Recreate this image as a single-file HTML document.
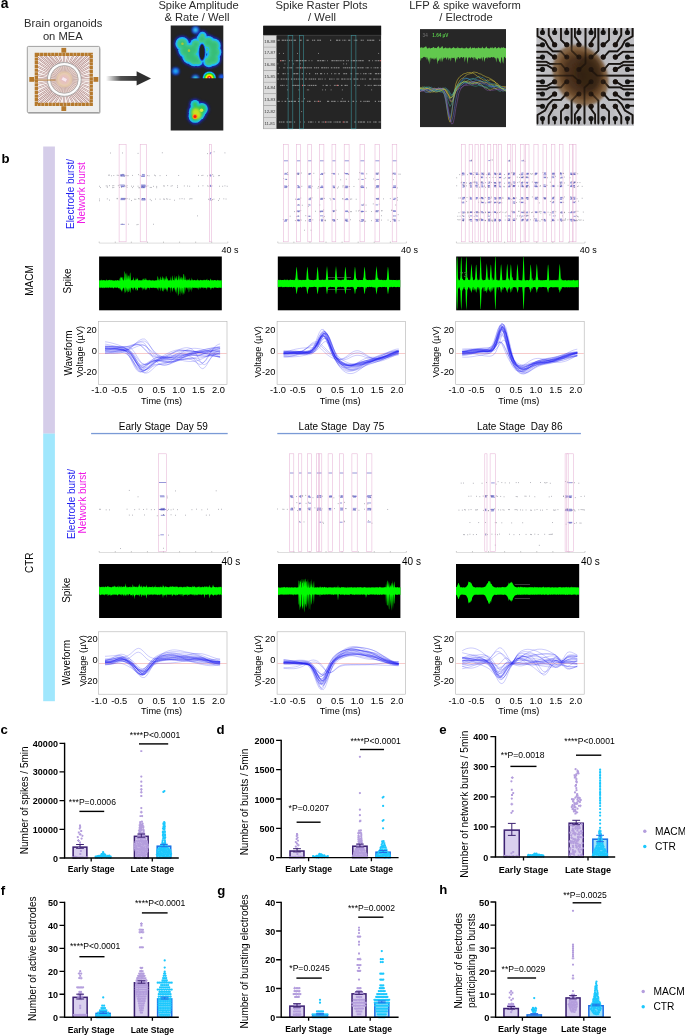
<!DOCTYPE html>
<html lang="en">
<head>
<meta charset="utf-8">
<title>Brain organoids on MEA</title>
<style>
html,body{margin:0;padding:0;background:#fff;}
body{width:685px;height:1035px;overflow:hidden;font-family:"Liberation Sans", sans-serif;}
svg{display:block;font-family:"Liberation Sans", sans-serif;will-change:transform;}
</style>
</head>
<body>
<svg width="685" height="1035" viewBox="0 0 685 1035">
<rect x="0" y="0" width="685" height="1035" fill="#fff"/>
<defs>
<filter id="bl1" x="-30%" y="-30%" width="160%" height="160%"><feGaussianBlur stdDeviation="1.1"/></filter>
<filter id="bl2" x="-30%" y="-30%" width="160%" height="160%"><feGaussianBlur stdDeviation="0.7"/></filter>
<filter id="bl3" x="-30%" y="-30%" width="160%" height="160%"><feGaussianBlur stdDeviation="2.2"/></filter>
<filter id="bl15" x="-30%" y="-30%" width="160%" height="160%"><feGaussianBlur stdDeviation="1.5"/></filter>
<filter id="bl05" x="-10%" y="-10%" width="120%" height="120%"><feGaussianBlur stdDeviation="0.35"/></filter>
<linearGradient id="arr" x1="0" x2="1" y1="0" y2="0"><stop offset="0" stop-color="#333" stop-opacity="0"/><stop offset="0.45" stop-color="#333" stop-opacity="0.85"/><stop offset="1" stop-color="#2f2f2f" stop-opacity="1"/></linearGradient>
<radialGradient id="org" cx="0.5" cy="0.5" r="0.5"><stop offset="0" stop-color="#3b2616" stop-opacity="0.97"/><stop offset="0.6" stop-color="#4a301b" stop-opacity="0.95"/><stop offset="0.85" stop-color="#6b4a2b" stop-opacity="0.9"/><stop offset="1" stop-color="#8a6a48" stop-opacity="0.55"/></radialGradient>
<radialGradient id="hot" cx="0.5" cy="0.5" r="0.5"><stop offset="0" stop-color="#fff"/><stop offset="0.18" stop-color="#f00"/><stop offset="0.4" stop-color="#ff0"/><stop offset="0.62" stop-color="#2c2"/><stop offset="0.8" stop-color="#1cf"/><stop offset="1" stop-color="#12f" stop-opacity="0"/></radialGradient>
<clipPath id="cpH1"><rect x="170.7" y="25.5" width="52.6" height="52.8"/></clipPath>
<clipPath id="cpH2"><rect x="170.7" y="78.3" width="52.6" height="52.2"/></clipPath>
<clipPath id="cpR"><rect x="276.3" y="35.4" width="104.8" height="93.5"/></clipPath>
<clipPath id="cpL"><rect x="420" y="29.1" width="86" height="98"/></clipPath>
<clipPath id="cpP"><rect x="536.4" y="28.1" width="97.6" height="97.6"/></clipPath>
</defs>
<text x="0.7" y="7.9" font-size="14" text-anchor="start" font-weight="bold" fill="#000">a</text>
<text x="63.2" y="27.2" font-size="11.2" text-anchor="middle" fill="#2a2a2a">Brain organoids</text>
<text x="62.8" y="39.7" font-size="11.2" text-anchor="middle" fill="#2a2a2a">on MEA</text>
<text x="198.5" y="9.3" font-size="11.2" text-anchor="middle" fill="#2a2a2a">Spike Amplitude</text>
<text x="197" y="21.2" font-size="11.2" text-anchor="middle" fill="#2a2a2a">&amp; Rate / Well</text>
<text x="321.5" y="9.3" font-size="11.2" text-anchor="middle" fill="#2a2a2a">Spike Raster Plots</text>
<text x="322" y="21.2" font-size="11.2" text-anchor="middle" fill="#2a2a2a">/ Well</text>
<text x="465" y="9.3" font-size="11.2" text-anchor="middle" fill="#2a2a2a">LFP &amp; spike waveform</text>
<text x="466" y="21.2" font-size="11.2" text-anchor="middle" fill="#2a2a2a">/ Electrode</text>
<g id="chip">
<rect x="27.8" y="47.4" width="72.6" height="66.4" rx="1.5" fill="#8a8a8a" opacity="0.6"/>
<rect x="27.3" y="46.4" width="72.4" height="66.2" rx="1.2" fill="#efefee" stroke="#8a8a8a" stroke-width="0.8"/>
<rect x="37.6" y="55.6" width="52.4" height="47.6" fill="#f6efed"/>
<path d="M53.49 66.93L39.98 55.6M55.38 65.52L44.75 55.6M57.45 64.39L49.51 55.6M59.65 63.57L54.27 55.6M61.95 63.07L59.04 55.6M64.3 62.9L63.8 55.6M66.65 63.07L68.56 55.6M68.95 63.57L73.33 55.6M71.15 64.39L78.09 55.6M73.22 65.52L82.85 55.6M75.11 66.93L87.62 55.6M76.77 68.59L90 57.76M78.18 70.48L90 62.09M79.31 72.55L90 66.42M80.13 74.75L90 70.75M80.63 77.05L90 75.07M80.8 79.4L90 79.4M80.63 81.75L90 83.73M80.13 84.05L90 88.05M79.31 86.25L90 92.38M78.18 88.32L90 96.71M76.77 90.21L90 101.04M75.11 91.87L87.62 103.2M73.22 93.28L82.85 103.2M71.15 94.41L78.09 103.2M68.95 95.23L73.33 103.2M66.65 95.73L68.56 103.2M64.3 95.9L63.8 103.2M61.95 95.73L59.04 103.2M59.65 95.23L54.27 103.2M57.45 94.41L49.51 103.2M55.38 93.28L44.75 103.2M53.49 91.87L39.98 103.2M51.83 90.21L37.6 101.04M50.42 88.32L37.6 96.71M49.29 86.25L37.6 92.38M48.47 84.05L37.6 88.05M47.97 81.75L37.6 83.73M47.8 79.4L37.6 79.4M47.97 77.05L37.6 75.07M48.47 74.75L37.6 70.75M49.29 72.55L37.6 66.42M50.42 70.48L37.6 62.09M51.83 68.59L37.6 57.76" stroke="#a27270" stroke-width="1.7" fill="none"/>
<path d="M53.49 66.93L39.98 55.6M55.38 65.52L44.75 55.6M57.45 64.39L49.51 55.6M59.65 63.57L54.27 55.6M61.95 63.07L59.04 55.6M64.3 62.9L63.8 55.6M66.65 63.07L68.56 55.6M68.95 63.57L73.33 55.6M71.15 64.39L78.09 55.6M73.22 65.52L82.85 55.6M75.11 66.93L87.62 55.6M76.77 68.59L90 57.76M78.18 70.48L90 62.09M79.31 72.55L90 66.42M80.13 74.75L90 70.75M80.63 77.05L90 75.07M80.8 79.4L90 79.4M80.63 81.75L90 83.73M80.13 84.05L90 88.05M79.31 86.25L90 92.38M78.18 88.32L90 96.71M76.77 90.21L90 101.04M75.11 91.87L87.62 103.2M73.22 93.28L82.85 103.2M71.15 94.41L78.09 103.2M68.95 95.23L73.33 103.2M66.65 95.73L68.56 103.2M64.3 95.9L63.8 103.2M61.95 95.73L59.04 103.2M59.65 95.23L54.27 103.2M57.45 94.41L49.51 103.2M55.38 93.28L44.75 103.2M53.49 91.87L39.98 103.2M51.83 90.21L37.6 101.04M50.42 88.32L37.6 96.71M49.29 86.25L37.6 92.38M48.47 84.05L37.6 88.05M47.97 81.75L37.6 83.73M47.8 79.4L37.6 79.4M47.97 77.05L37.6 75.07M48.47 74.75L37.6 70.75M49.29 72.55L37.6 66.42M50.42 70.48L37.6 62.09M51.83 68.59L37.6 57.76" stroke="#fdfaf9" stroke-width="0.85" fill="none"/>
<rect x="36.35" y="54.35" width="54.9" height="50" fill="none" stroke="#b5792c" stroke-width="3.3" stroke-dasharray="3.25 0.45"/>
<rect x="61.4" y="47.9" width="4.8" height="4.8" fill="#b5792c"/>
<rect x="61.4" y="106.2" width="4.8" height="4.8" fill="#b5792c"/>
<rect x="29.3" y="77" width="4.8" height="4.8" fill="#b5792c"/>
<rect x="93.5" y="77" width="4.8" height="4.8" fill="#b5792c"/>
<circle cx="64.3" cy="79.4" r="16.9" fill="#fbfbfb" stroke="#9a9a9a" stroke-width="0.8"/>
<circle cx="64.3" cy="79.4" r="13.9" fill="#ead8d2" stroke="#9a9a9a" stroke-width="0.7"/>
<path d="M70.8 79.4L77.7 79.4M70.73 80.33L77.56 81.31M70.54 81.23L77.16 83.18M70.21 82.1L76.49 84.97M69.77 82.91L75.57 86.64M69.21 83.66L74.43 88.18M68.56 84.31L73.08 89.53M67.81 84.87L71.54 90.67M67 85.31L69.87 91.59M66.13 85.64L68.08 92.26M65.23 85.83L66.21 92.66M64.3 85.9L64.3 92.8M63.37 85.83L62.39 92.66M62.47 85.64L60.52 92.26M61.6 85.31L58.73 91.59M60.79 84.87L57.06 90.67M60.04 84.31L55.52 89.53M59.39 83.66L54.17 88.18M58.83 82.91L53.03 86.64M58.39 82.1L52.11 84.97M58.06 81.23L51.44 83.18M57.87 80.33L51.04 81.31M57.8 79.4L50.9 79.4M57.87 78.47L51.04 77.49M58.06 77.57L51.44 75.62M58.39 76.7L52.11 73.83M58.83 75.89L53.03 72.16M59.39 75.14L54.17 70.62M60.04 74.49L55.52 69.27M60.79 73.93L57.06 68.13M61.6 73.49L58.73 67.21M62.47 73.16L60.52 66.54M63.37 72.97L62.39 66.14M64.3 72.9L64.3 66M65.23 72.97L66.21 66.14M66.13 73.16L68.08 66.54M67 73.49L69.87 67.21M67.81 73.93L71.54 68.13M68.56 74.49L73.08 69.27M69.21 75.14L74.43 70.62M69.77 75.89L75.57 72.16M70.21 76.7L76.49 73.83M70.54 77.57L77.16 75.62M70.73 78.47L77.56 77.49" stroke="#b08c88" stroke-width="0.55" fill="none"/>
<rect x="34" y="79.6" width="21.5" height="0.9" fill="#b5792c"/>
<circle cx="64.3" cy="79.4" r="8.2" fill="#e6c9a8" opacity="0.75" filter="url(#bl2)"/>
<circle cx="64.3" cy="79.4" r="5.2" fill="#e8c4bc" opacity="0.9" filter="url(#bl2)"/>
<rect x="61.7" y="77.6" width="5.2" height="3.6" fill="#f8e8ee" stroke="#dcaabb" stroke-width="0.4" transform="rotate(28 64.3 79.4)"/>
</g>
<rect x="106" y="76" width="33" height="4.8" fill="url(#arr)"/>
<polygon points="136.6,71.2 151,78.4 136.6,85.6" fill="#2f2f2f"/>
<rect x="170.7" y="25.5" width="52.6" height="105" fill="#232323"/>
<g clip-path="url(#cpH1)">
<g fill="#1428e8" filter="url(#bl15)" opacity="0.95">
<circle cx="182.19" cy="43.73" r="7.7"/>
<circle cx="186.11" cy="50.26" r="8.75"/>
<circle cx="190.03" cy="56.14" r="8.75"/>
<circle cx="194.2" cy="59.4" r="7.7"/>
<circle cx="192.64" cy="49.61" r="8.09"/>
<circle cx="195.9" cy="44.39" r="6.79"/>
<circle cx="202.04" cy="39.16" r="6.4"/>
<circle cx="202.43" cy="35.9" r="5.09"/>
<circle cx="208.3" cy="42.43" r="7.44"/>
<circle cx="213.52" cy="45.69" r="8.09"/>
<circle cx="214.18" cy="52.22" r="8.09"/>
<circle cx="212.87" cy="58.75" r="8.09"/>
<circle cx="208.96" cy="61.36" r="6.79"/>
<circle cx="206.34" cy="49.61" r="4.83"/>
<circle cx="197.86" cy="61.36" r="5.87"/>
</g>
<g fill="#20baf4" filter="url(#bl2)" opacity="1">
<circle cx="182.19" cy="43.73" r="6.79"/>
<circle cx="186.11" cy="50.26" r="7.83"/>
<circle cx="190.03" cy="56.14" r="7.83"/>
<circle cx="194.2" cy="59.4" r="6.79"/>
<circle cx="192.64" cy="49.61" r="7.18"/>
<circle cx="195.9" cy="44.39" r="5.87"/>
<circle cx="202.04" cy="39.16" r="5.48"/>
<circle cx="202.43" cy="35.9" r="4.18"/>
<circle cx="208.3" cy="42.43" r="6.53"/>
<circle cx="213.52" cy="45.69" r="7.18"/>
<circle cx="214.18" cy="52.22" r="7.18"/>
<circle cx="212.87" cy="58.75" r="7.18"/>
<circle cx="208.96" cy="61.36" r="5.87"/>
<circle cx="206.34" cy="49.61" r="3.92"/>
<circle cx="197.86" cy="61.36" r="4.96"/>
</g>
<g fill="#42cb96" filter="url(#bl2)" opacity="1">
<circle cx="182.19" cy="43.73" r="4.83"/>
<circle cx="186.11" cy="50.26" r="5.87"/>
<circle cx="190.03" cy="56.14" r="5.87"/>
<circle cx="194.2" cy="59.4" r="4.83"/>
<circle cx="192.64" cy="49.61" r="5.22"/>
<circle cx="195.9" cy="44.39" r="3.92"/>
<circle cx="202.04" cy="39.16" r="3.52"/>
<circle cx="202.43" cy="35.9" r="2.22"/>
<circle cx="208.3" cy="42.43" r="4.57"/>
<circle cx="213.52" cy="45.69" r="5.22"/>
<circle cx="214.18" cy="52.22" r="5.22"/>
<circle cx="212.87" cy="58.75" r="5.22"/>
<circle cx="208.96" cy="61.36" r="3.92"/>
<circle cx="206.34" cy="49.61" r="1.96"/>
<circle cx="197.86" cy="61.36" r="3"/>
</g>
<g fill="#34bc70" filter="url(#bl1)" opacity="0.8">
<circle cx="182.19" cy="43.73" r="3.39"/>
<circle cx="186.11" cy="50.26" r="4.44"/>
<circle cx="190.03" cy="56.14" r="4.44"/>
<circle cx="194.2" cy="59.4" r="3.39"/>
<circle cx="192.64" cy="49.61" r="3.79"/>
<circle cx="195.9" cy="44.39" r="2.48"/>
<circle cx="202.04" cy="39.16" r="2.09"/>
<circle cx="202.43" cy="35.9" r="0.78"/>
<circle cx="208.3" cy="42.43" r="3.13"/>
<circle cx="213.52" cy="45.69" r="3.79"/>
<circle cx="214.18" cy="52.22" r="3.79"/>
<circle cx="212.87" cy="58.75" r="3.79"/>
<circle cx="208.96" cy="61.36" r="2.48"/>
<circle cx="206.34" cy="49.61" r="0.52"/>
<circle cx="197.86" cy="61.36" r="1.57"/>
</g>
<ellipse cx="202.04" cy="52.22" rx="4.4" ry="9.6" fill="#20baf4" filter="url(#bl2)"/>
<ellipse cx="202.04" cy="52.22" rx="3.3" ry="8.6" fill="#1a36c8" filter="url(#bl2)"/>
<ellipse cx="202.04" cy="52.22" rx="2.5" ry="7.6" fill="#202024" filter="url(#bl2)"/>
<circle cx="182.45" cy="43.73" r="1.3" fill="#a8c83a" filter="url(#bl2)"/>
<circle cx="188.98" cy="50.65" r="1.3" fill="#a8c83a" filter="url(#bl2)"/>
<circle cx="195.51" cy="30.03" r="3.92" fill="#1640e0" filter="url(#bl1)" opacity="0.95"/>
<circle cx="195.51" cy="30.03" r="2.43" fill="#3ac8ee" filter="url(#bl1)"/>
<circle cx="175.67" cy="71.15" r="3.92" fill="#1640e0" filter="url(#bl1)" opacity="0.95"/>
<circle cx="175.67" cy="71.15" r="2.43" fill="#22b4f2" filter="url(#bl1)"/>
<circle cx="195.51" cy="78.33" r="3.92" fill="#1640e0" filter="url(#bl1)" opacity="0.95"/>
<circle cx="195.51" cy="78.33" r="2.43" fill="#3ad0c8" filter="url(#bl1)"/>
<circle cx="221.62" cy="77.02" r="2.87" fill="#1640e0" filter="url(#bl1)" opacity="0.95"/>
<circle cx="221.62" cy="77.02" r="1.78" fill="#1a70f0" filter="url(#bl1)"/>
<circle cx="209.35" cy="78.07" r="7.4" fill="url(#hot)"/>
</g>
<g clip-path="url(#cpH2)">
<g fill="#1428e8" filter="url(#bl15)" opacity="0.95">
<circle cx="197.21" cy="112.27" r="9.4"/>
<circle cx="194.99" cy="104.44" r="5.48"/>
<circle cx="201.78" cy="109.01" r="7.05"/>
<circle cx="195.25" cy="116.19" r="7.7"/>
</g>
<g fill="#1fc0f0" filter="url(#bl2)" opacity="1">
<circle cx="197.21" cy="112.27" r="8.36"/>
<circle cx="194.99" cy="104.44" r="4.44"/>
<circle cx="201.78" cy="109.01" r="6.01"/>
<circle cx="195.25" cy="116.19" r="6.66"/>
</g>
<g fill="#35c850" filter="url(#bl1)" opacity="1">
<circle cx="197.21" cy="112.27" r="6.27"/>
<circle cx="194.99" cy="104.44" r="2.35"/>
<circle cx="201.78" cy="109.01" r="3.92"/>
<circle cx="195.25" cy="116.19" r="4.57"/>
</g>
<ellipse cx="196.55" cy="113.58" rx="4.2" ry="5.6" fill="#c8e020" filter="url(#bl1)" transform="rotate(-25 196.55 113.58)"/>
<circle cx="201.51" cy="110.31" r="1.8" fill="#d8e83a" filter="url(#bl2)"/>
<circle cx="194.99" cy="116.58" r="2.6" fill="#ff9a10" filter="url(#bl2)"/>
<circle cx="194.99" cy="116.58" r="1.5" fill="#f01818" filter="url(#bl05)"/>
</g>
<rect x="263.3" y="25.8" width="117.8" height="103.1" fill="#252525"/>
<rect x="263.3" y="25.8" width="117.8" height="9.2" fill="#151515"/>
<rect x="263.3" y="34.9" width="117.8" height="0.5" fill="#555"/>
<rect x="263.3" y="35.4" width="13" height="11.69" fill="#dcdcdc" stroke="#a8a8a8" stroke-width="0.4"/>
<text x="269.8" y="42.74" font-size="4.3" text-anchor="middle" fill="#3a3a3a">18-88</text>
<rect x="263.3" y="47.09" width="13" height="11.69" fill="#dcdcdc" stroke="#a8a8a8" stroke-width="0.4"/>
<text x="269.8" y="54.43" font-size="4.3" text-anchor="middle" fill="#3a3a3a">17-87</text>
<rect x="263.3" y="58.77" width="13" height="11.69" fill="#dcdcdc" stroke="#a8a8a8" stroke-width="0.4"/>
<text x="269.8" y="66.12" font-size="4.3" text-anchor="middle" fill="#3a3a3a">16-86</text>
<rect x="263.3" y="70.46" width="13" height="11.69" fill="#dcdcdc" stroke="#a8a8a8" stroke-width="0.4"/>
<text x="269.8" y="77.81" font-size="4.3" text-anchor="middle" fill="#3a3a3a">15-85</text>
<rect x="263.3" y="82.15" width="13" height="11.69" fill="#dcdcdc" stroke="#a8a8a8" stroke-width="0.4"/>
<text x="269.8" y="89.49" font-size="4.3" text-anchor="middle" fill="#3a3a3a">14-84</text>
<rect x="263.3" y="93.84" width="13" height="11.69" fill="#dcdcdc" stroke="#a8a8a8" stroke-width="0.4"/>
<text x="269.8" y="101.18" font-size="4.3" text-anchor="middle" fill="#3a3a3a">13-83</text>
<rect x="263.3" y="105.53" width="13" height="11.69" fill="#dcdcdc" stroke="#a8a8a8" stroke-width="0.4"/>
<text x="269.8" y="112.87" font-size="4.3" text-anchor="middle" fill="#3a3a3a">12-82</text>
<rect x="263.3" y="117.21" width="13" height="11.69" fill="#dcdcdc" stroke="#a8a8a8" stroke-width="0.4"/>
<text x="269.8" y="124.56" font-size="4.3" text-anchor="middle" fill="#3a3a3a">11-81</text>
<g clip-path="url(#cpR)">
<path d="M277.5 40.23h2.2M281.7 40.23h2.2M284.5 40.23h1.6M286.7 40.23h1.6M288.9 40.23h1.6M291.1 40.23h0.9M292.6 40.23h0.7M293.9 40.23h2.2M299.5 40.23h2.2M306.5 40.23h2.2M312.1 40.23h0.9M313.6 40.23h1.6M317.2 40.23h1.6M319.4 40.23h1.6M330 40.23h1.2M336 40.23h2.2M338.8 40.23h1.6M342.4 40.23h0.7M343.7 40.23h1.2M345.5 40.23h0.7M348.2 40.23h2.2M353.8 40.23h0.7M355.1 40.23h2.2M360.7 40.23h1.2M362.5 40.23h1.2M367.1 40.23h1.6M369.3 40.23h2.2M372.1 40.23h2.2M379.1 40.23h1.2M278.9 53.43h0.8M283.1 53.43h0.8M297.1 53.43h0.8M318.1 53.43h0.8M378.3 53.43h0.8M280.3 60.72h0.9M281.8 60.72h2.2M284.6 60.72h0.9M288.9 60.72h0.9M291.8 60.72h0.9M294.7 60.72h0.7M296 60.72h2.2M298.8 60.72h2.2M301.6 60.72h2.2M304.4 60.72h2.2M308.6 60.72h0.9M311.5 60.72h0.9M317.2 60.72h2.2M320 60.72h1.2M321.8 60.72h2.2M324.6 60.72h0.7M327.3 60.72h0.7M331.4 60.72h2.2M334.2 60.72h0.7M335.5 60.72h2.2M338.3 60.72h1.2M340.1 60.72h0.7M341.4 60.72h0.7M342.7 60.72h1.6M346.3 60.72h0.7M347.6 60.72h1.2M350.8 60.72h1.6M353 60.72h2.2M355.8 60.72h1.6M358 60.72h0.7M359.3 60.72h2.2M362.1 60.72h1.6M368.5 60.72h1.6M372.1 60.72h0.7M374.8 60.72h0.9M376.3 60.72h0.7M377.6 60.72h1.6M379.8 60.72h0.7M277.5 63.88h0.8M284.5 63.88h0.8M292.9 63.88h0.8M299.9 63.88h0.8M343.3 63.88h0.8M346.1 63.88h0.8M278.9 67.82h0.7M283 67.82h0.7M284.3 67.82h0.9M287.2 67.82h0.9M288.7 67.82h0.9M290.2 67.82h2.2M295.8 67.82h0.7M297.1 67.82h0.7M298.4 67.82h1.2M300.2 67.82h1.2M302 67.82h1.6M304.2 67.82h2.2M307 67.82h0.9M308.5 67.82h1.2M310.3 67.82h1.6M313.9 67.82h1.2M315.7 67.82h1.6M317.9 67.82h1.2M321.1 67.82h2.2M323.9 67.82h1.6M326.1 67.82h1.2M327.9 67.82h0.9M330.8 67.82h1.2M332.6 67.82h0.7M333.9 67.82h1.2M335.7 67.82h1.6M337.9 67.82h1.6M342.9 67.82h0.9M344.4 67.82h1.6M346.6 67.82h1.6M348.8 67.82h1.6M351 67.82h2.2M353.8 67.82h1.6M357.4 67.82h1.6M359.6 67.82h1.2M361.4 67.82h2.2M365.6 67.82h0.9M367.1 67.82h1.6M370.7 67.82h0.9M373.6 67.82h0.9M375.1 67.82h1.2M376.9 67.82h1.6M380.5 67.82h2.2M277.5 73.73h1.6M282.5 73.73h1.6M284.7 73.73h0.9M287.6 73.73h0.9M293.3 73.73h2.2M296.1 73.73h2.2M301.7 73.73h1.2M306.3 73.73h0.7M309 73.73h1.2M315 73.73h1.2M316.8 73.73h1.2M320 73.73h2.2M324.2 73.73h0.7M326.9 73.73h0.9M331.2 73.73h0.9M334.1 73.73h0.7M335.4 73.73h0.9M338.3 73.73h1.6M343.3 73.73h1.6M345.5 73.73h1.6M350.5 73.73h1.6M355.5 73.73h1.2M357.3 73.73h1.2M360.5 73.73h0.7M363.2 73.73h1.2M365 73.73h1.6M368.6 73.73h0.7M369.9 73.73h1.6M374.9 73.73h2.2M377.7 73.73h1.6M379.9 73.73h0.7M277.5 79.05h1.2M280.7 79.05h1.6M282.9 79.05h0.9M284.4 79.05h0.9M285.9 79.05h1.2M287.7 79.05h1.2M290.9 79.05h1.2M292.7 79.05h0.7M294 79.05h1.2M295.8 79.05h1.6M298 79.05h0.7M299.3 79.05h0.7M300.6 79.05h0.7M301.9 79.05h1.2M305.1 79.05h1.6M308.7 79.05h1.2M310.5 79.05h1.6M312.7 79.05h1.6M314.9 79.05h1.2M318.1 79.05h1.6M320.3 79.05h0.9M321.8 79.05h0.9M324.7 79.05h0.9M329 79.05h1.6M331.2 79.05h0.7M332.5 79.05h0.7M333.8 79.05h0.7M336.5 79.05h1.2M338.3 79.05h0.9M341.2 79.05h2.2M344 79.05h0.9M345.5 79.05h0.9M347 79.05h0.7M348.3 79.05h0.9M349.8 79.05h1.6M353.4 79.05h2.2M356.2 79.05h2.2M360.4 79.05h0.7M361.7 79.05h1.2M363.5 79.05h0.9M365 79.05h0.7M369.1 79.05h2.2M373.3 79.05h2.2M376.1 79.05h0.7M377.4 79.05h0.7M378.7 79.05h0.7M380 79.05h1.2M280.3 85.36h1.2M282.1 85.36h0.9M283.6 85.36h0.9M286.5 85.36h0.9M292.2 85.36h1.6M294.4 85.36h2.2M297.2 85.36h1.6M299.4 85.36h0.7M302.1 85.36h0.7M303.4 85.36h2.2M307.6 85.36h0.9M309.1 85.36h1.2M310.9 85.36h1.2M312.7 85.36h1.6M314.9 85.36h1.6M322.7 85.36h0.9M325.6 85.36h2.2M329.8 85.36h0.7M333.9 85.36h0.9M335.4 85.36h0.7M336.7 85.36h2.2M340.9 85.36h1.6M344.5 85.36h2.2M347.3 85.36h0.7M354.2 85.36h1.2M357.4 85.36h1.2M359.2 85.36h0.7M364.7 85.36h0.9M367.6 85.36h1.2M369.4 85.36h0.9M370.9 85.36h0.7M373.6 85.36h2.2M376.4 85.36h0.9M377.9 85.36h0.9M379.4 85.36h1.6M287.3 89.89h0.8M298.5 89.89h0.8M306.9 89.89h0.8M308.3 89.89h0.8M322.3 89.89h0.8M325.1 89.89h0.8M330.7 89.89h0.8M341.9 89.89h0.8M371.3 89.89h0.8M287.3 98.76h0.8M298.5 98.76h0.8M304.1 98.76h0.8M341.9 98.76h0.8M277.5 101.32h2.2M281.7 101.32h0.9M284.6 101.32h1.6M288.2 101.32h2.2M291 101.32h2.2M293.8 101.32h2.2M298 101.32h1.6M301.6 101.32h0.9M303.1 101.32h0.7M307.2 101.32h1.2M309 101.32h1.6M314 101.32h0.9M315.5 101.32h0.7M316.8 101.32h0.7M318.1 101.32h0.9M319.6 101.32h1.2M327 101.32h2.2M331.2 101.32h1.6M333.4 101.32h2.2M337.6 101.32h0.7M340.3 101.32h1.6M342.5 101.32h1.2M344.3 101.32h1.6M347.9 101.32h1.2M352.5 101.32h1.6M356.1 101.32h0.7M360.2 101.32h1.2M363.4 101.32h1.2M365.2 101.32h0.7M366.5 101.32h2.2M369.3 101.32h0.7M374.8 101.32h1.2M378 101.32h0.9M379.5 101.32h2.2M301.3 111.57h0.8M278.9 122.02h1.6M281.1 122.02h1.2M282.9 122.02h1.6M286.5 122.02h1.6M288.7 122.02h2.2M291.5 122.02h0.7M294.2 122.02h0.9M299.9 122.02h0.7M304 122.02h0.7M308.1 122.02h1.2M309.9 122.02h2.2M312.7 122.02h0.7M315.4 122.02h0.7M318.1 122.02h1.6M321.7 122.02h0.9M323.2 122.02h1.2M325 122.02h0.7M326.3 122.02h1.2M328.1 122.02h0.7M329.4 122.02h2.2M333.6 122.02h0.9M335.1 122.02h0.7M336.4 122.02h1.6M338.6 122.02h2.2M342.8 122.02h0.7M344.1 122.02h1.2M345.9 122.02h2.2M354.3 122.02h1.6M357.9 122.02h1.6M360.1 122.02h2.2M362.9 122.02h2.2M367.1 122.02h1.2M368.9 122.02h0.7M370.2 122.02h0.9M373.1 122.02h0.7M374.4 122.02h2.2M378.6 122.02h1.2M380.4 122.02h1.2" stroke="#dedede" stroke-width="0.75" fill="none" opacity="0.85"/>
<path d="M280.3 60.72h1M379.8 60.72h1M300.2 67.82h1M302.1 85.36h1M336.7 85.36h1M318.1 101.32h1M325 122.02h1M342.8 122.02h1" stroke="#ff5a5a" stroke-width="0.9" fill="none"/>
</g>
<rect x="288.1" y="35.5" width="4.7" height="93.3" fill="none" stroke="#3d8f97" stroke-width="0.6"/>
<rect x="299.3" y="35.5" width="4" height="93.3" fill="none" stroke="#3d8f97" stroke-width="0.6"/>
<rect x="351.2" y="35.5" width="4.7" height="93.3" fill="none" stroke="#3d8f97" stroke-width="0.6"/>
<rect x="420" y="29.1" width="86" height="98" fill="#272727"/>
<text x="422.6" y="36.6" font-size="4.6" text-anchor="start" fill="#777">34</text>
<text x="432.3" y="36.6" font-size="4.6" text-anchor="start" font-weight="bold" fill="#58c84a">1.64 µV</text>
<g clip-path="url(#cpL)">
<polygon points="420,47.99 420.7,47.48 421.4,47.06 422.1,48.21 422.8,47.17 423.5,47.89 424.2,46.95 424.9,47.47 425.6,46.27 426.3,46.53 427,48.22 427.7,48.46 428.4,48.27 429.1,47.28 429.8,48.14 430.5,48.51 431.2,48.04 431.9,48.04 432.6,47.71 433.3,46.9 434,47.18 434.7,48.26 435.4,47.69 436.1,48.21 436.8,48.11 437.5,47.09 438.2,46.56 438.9,46.37 439.6,48.54 440.3,47.78 441,47.82 441.7,46.41 442.4,45.92 443.1,48.24 443.8,48.6 444.5,47.99 445.2,47.78 445.9,47.23 446.6,48.3 447.3,48.48 448,47.5 448.7,48.43 449.4,47.61 450.1,47.46 450.8,48.47 451.5,48.53 452.2,47.97 452.9,47.87 453.6,47.05 454.3,47.86 455,48.35 455.7,48.13 456.4,47.79 457.1,48.47 457.8,46.57 458.5,48.06 459.2,48.21 459.9,47.99 460.6,48.3 461.3,47.9 462,47.24 462.7,48.36 463.4,48.17 464.1,48.58 464.8,48.17 465.5,48.35 466.2,47.04 466.9,48.12 467.6,48.24 468.3,48.4 469,48.34 469.7,47.83 470.4,46.59 471.1,48.48 471.8,48.46 472.5,47.46 473.2,48.07 473.9,47.72 474.6,47.52 475.3,48.25 476,48.54 476.7,47.78 477.4,48.57 478.1,47.27 478.8,47.48 479.5,48.34 480.2,47.75 480.9,48.59 481.6,47.88 482.3,46.41 483,47.93 483.7,48.33 484.4,48.58 485.1,47.78 485.8,47.59 486.5,46.21 487.2,48.07 487.9,48.35 488.6,48.15 489.3,48.56 490,48.23 490.7,47.3 491.4,48.25 492.1,46.76 492.8,48.2 493.5,48.37 494.2,48.01 494.9,47.04 495.6,47.05 496.3,48.43 497,48.23 497.7,48.1 498.4,47.13 499.1,47.23 499.8,48.27 500.5,48.42 501.2,46.93 501.9,47.89 502.6,47.77 503.3,47.1 504,47.76 504.7,47.98 505.4,48.26 506.1,47.91 506.1,57.29 505.4,58.51 504.7,56.86 504,57.1 503.3,63.82 502.6,61.74 501.9,57.2 501.2,57.52 500.5,63.65 499.8,62.04 499.1,61.3 498.4,58.31 497.7,58.43 497,57.34 496.3,62.62 495.6,58.32 494.9,58.26 494.2,57.26 493.5,57.1 492.8,57.86 492.1,56.93 491.4,56.91 490.7,57.64 490,57.6 489.3,57.75 488.6,57.47 487.9,56.92 487.2,58.95 486.5,57.25 485.8,58.06 485.1,58.57 484.4,62.28 483.7,57.6 483,57.09 482.3,61.62 481.6,56.86 480.9,59.62 480.2,58.12 479.5,58.9 478.8,58.22 478.1,58.19 477.4,60.57 476.7,58.42 476,59.66 475.3,57.76 474.6,56.82 473.9,60.42 473.2,56.93 472.5,58.01 471.8,57.6 471.1,57.02 470.4,58.73 469.7,56.9 469,57.98 468.3,57.25 467.6,63.94 466.9,58.24 466.2,56.94 465.5,57.66 464.8,62.28 464.1,57.07 463.4,56.97 462.7,58.26 462,57.25 461.3,57.1 460.6,57.19 459.9,59.11 459.2,58.01 458.5,56.97 457.8,57.02 457.1,59.81 456.4,57.49 455.7,63.08 455,59.52 454.3,57.52 453.6,57.98 452.9,57.66 452.2,58.24 451.5,57.6 450.8,61.46 450.1,57.83 449.4,58.62 448.7,60.61 448,56.96 447.3,58.11 446.6,59.89 445.9,57.37 445.2,58.11 444.5,57.87 443.8,59.34 443.1,56.91 442.4,62.21 441.7,56.91 441,62.4 440.3,58.34 439.6,58.82 438.9,61.32 438.2,59.98 437.5,64.46 436.8,57.1 436.1,60.25 435.4,57.73 434.7,60.06 434,57.6 433.3,59.81 432.6,58.11 431.9,59.45 431.2,57.72 430.5,57.78 429.8,64.51 429.1,57.8 428.4,62.37 427.7,57.07 427,60.14 426.3,56.96 425.6,57.46 424.9,57.28 424.2,56.86 423.5,57.02 422.8,57.7 422.1,58.28 421.4,58.08 420.7,61.24 420,57.29" fill="#62c84e"/>
<polyline points="420.0,87.4 421.4,87.5 422.9,87.0 424.3,87.9 425.7,87.3 427.2,88.5 428.6,88.9 430.0,89.6 431.5,90.3 432.9,89.4 434.3,89.7 435.8,89.5 437.2,89.0 438.6,89.7 440.1,89.8 441.5,90.6 442.9,91.3 444.4,94.5 445.8,99.9 447.2,109.7 448.7,119.2 450.1,122.2 451.5,115.2 453.0,102.2 454.4,91.9 455.8,84.0 457.3,80.2 458.7,78.0 460.1,76.4 461.6,75.4 463.0,74.2 464.4,73.6 465.9,73.4 467.3,72.6 468.7,72.7 470.2,72.5 471.6,73.0 473.0,73.0 474.5,74.0 475.9,75.1 477.3,76.3 478.8,76.5 480.2,78.6 481.6,78.8 483.1,80.0 484.5,80.1 485.9,80.9 487.4,79.9 488.8,80.5 490.2,79.7 491.7,80.2 493.1,81.1 494.5,81.3 496.0,83.1 497.4,83.4 498.8,85.1 500.3,86.0 501.7,86.6 503.1,86.5 504.6,86.5 506.0,86.8" fill="none" stroke="#e6d23a" stroke-width="0.55" opacity="0.9"/>
<polyline points="420.0,88.1 421.4,89.2 422.9,89.9 424.3,90.7 425.7,92.0 427.2,92.2 428.6,92.3 430.0,91.1 431.5,91.5 432.9,90.1 434.3,89.5 435.8,89.0 437.2,89.2 438.6,87.9 440.1,88.9 441.5,89.1 442.9,89.1 444.4,89.1 445.8,89.7 447.2,90.1 448.7,92.3 450.1,95.0 451.5,95.7 453.0,94.1 454.4,90.9 455.8,87.9 457.3,86.8 458.7,85.8 460.1,85.2 461.6,84.9 463.0,84.0 464.4,82.8 465.9,82.1 467.3,81.2 468.7,79.6 470.2,79.1 471.6,78.7 473.0,78.4 474.5,79.3 475.9,79.4 477.3,80.3 478.8,80.4 480.2,80.8 481.6,81.6 483.1,81.2 484.5,81.5 485.9,82.0 487.4,82.0 488.8,83.1 490.2,83.5 491.7,85.0 493.1,86.3 494.5,88.2 496.0,89.0 497.4,89.9 498.8,90.9 500.3,91.4 501.7,90.5 503.1,91.3 504.6,89.9 506.0,90.0" fill="none" stroke="#3fb6a8" stroke-width="0.55" opacity="0.9"/>
<polyline points="420.0,89.4 421.4,89.5 422.9,89.4 424.3,88.7 425.7,88.1 427.2,87.6 428.6,88.3 430.0,87.6 431.5,87.2 432.9,88.5 434.3,88.8 435.8,90.5 437.2,91.0 438.6,91.4 440.1,91.9 441.5,92.2 442.9,92.6 444.4,94.9 445.8,101.2 447.2,108.9 448.7,116.6 450.1,117.9 451.5,112.4 453.0,103.6 454.4,94.5 455.8,89.8 457.3,85.6 458.7,83.8 460.1,82.2 461.6,80.8 463.0,78.8 464.4,78.4 465.9,78.0 467.3,78.5 468.7,79.0 470.2,80.2 471.6,81.1 473.0,81.9 474.5,82.6 475.9,83.3 477.3,83.6 478.8,84.0 480.2,83.1 481.6,83.5 483.1,83.9 484.5,84.7 485.9,85.0 487.4,85.1 488.8,86.1 490.2,86.1 491.7,86.9 493.1,86.6 494.5,86.4 496.0,85.9 497.4,85.6 498.8,85.9 500.3,86.1 501.7,86.8 503.1,87.8 504.6,88.5 506.0,90.0" fill="none" stroke="#3f7fd0" stroke-width="0.55" opacity="0.9"/>
<polyline points="420.0,89.2 421.4,90.2 422.9,90.3 424.3,91.5 425.7,92.2 427.2,92.1 428.6,91.8 430.0,91.1 431.5,90.1 432.9,89.6 434.3,88.7 435.8,88.7 437.2,88.7 438.6,88.5 440.1,88.3 441.5,88.4 442.9,89.6 444.4,91.1 445.8,91.4 447.2,95.1 448.7,98.7 450.1,101.3 451.5,100.6 453.0,98.4 454.4,94.8 455.8,91.8 457.3,89.6 458.7,88.8 460.1,88.3 461.6,87.5 463.0,86.7 464.4,85.5 465.9,84.7 467.3,83.6 468.7,82.8 470.2,82.3 471.6,81.9 473.0,82.1 474.5,81.8 475.9,82.6 477.3,82.5 478.8,82.8 480.2,83.0 481.6,82.5 483.1,83.3 484.5,83.1 485.9,82.7 487.4,83.2 488.8,84.3 490.2,85.4 491.7,86.1 493.1,87.8 494.5,88.1 496.0,89.1 497.4,89.2 498.8,89.8 500.3,89.4 501.7,88.3 503.1,88.3 504.6,87.5 506.0,87.4" fill="none" stroke="#7b52b8" stroke-width="0.55" opacity="0.9"/>
<polyline points="420.0,92.1 421.4,90.7 422.9,90.3 424.3,90.0 425.7,88.6 427.2,88.6 428.6,88.0 430.0,87.6 431.5,88.4 432.9,88.6 434.3,88.2 435.8,88.8 437.2,89.7 438.6,88.9 440.1,89.5 441.5,88.9 442.9,89.2 444.4,89.5 445.8,90.8 447.2,93.3 448.7,96.1 450.1,97.9 451.5,97.6 453.0,96.3 454.4,94.1 455.8,91.3 457.3,89.2 458.7,87.1 460.1,84.6 461.6,83.2 463.0,82.1 464.4,81.9 465.9,81.3 467.3,81.2 468.7,81.2 470.2,82.0 471.6,82.0 473.0,82.2 474.5,82.3 475.9,82.2 477.3,82.5 478.8,83.3 480.2,83.5 481.6,84.8 483.1,86.0 484.5,87.2 485.9,88.0 487.4,88.2 488.8,89.5 490.2,90.0 491.7,89.2 493.1,88.8 494.5,88.2 496.0,88.6 497.4,87.9 498.8,87.8 500.3,87.8 501.7,88.2 503.1,88.7 504.6,89.4 506.0,89.9" fill="none" stroke="#d8c83a" stroke-width="0.55" opacity="0.9"/>
<polyline points="420.0,90.4 421.4,90.1 422.9,89.7 424.3,90.3 425.7,89.6 427.2,89.5 428.6,89.9 430.0,90.3 431.5,90.5 432.9,91.0 434.3,91.2 435.8,91.6 437.2,91.1 438.6,90.9 440.1,90.5 441.5,89.5 442.9,88.1 444.4,88.1 445.8,88.0 447.2,89.2 448.7,90.4 450.1,93.0 451.5,94.6 453.0,94.1 454.4,91.8 455.8,88.7 457.3,86.5 458.7,84.7 460.1,83.0 461.6,81.6 463.0,80.3 464.4,79.1 465.9,78.7 467.3,78.3 468.7,79.0 470.2,79.5 471.6,79.9 473.0,79.1 474.5,78.8 475.9,78.1 477.3,77.5 478.8,77.2 480.2,76.9 481.6,77.6 483.1,77.6 484.5,79.1 485.9,79.6 487.4,81.6 488.8,82.0 490.2,82.9 491.7,83.5 493.1,84.0 494.5,83.7 496.0,84.7 497.4,85.8 498.8,86.5 500.3,87.2 501.7,88.4 503.1,88.8 504.6,90.4 506.0,90.4" fill="none" stroke="#40a0c0" stroke-width="0.55" opacity="0.9"/>
<polyline points="420.0,89.8 421.4,88.8 422.9,88.8 424.3,87.9 425.7,87.4 427.2,87.2 428.6,86.8 430.0,87.1 431.5,88.3 432.9,88.8 434.3,89.5 435.8,90.0 437.2,91.2 438.6,91.3 440.1,91.6 441.5,91.6 442.9,91.5 444.4,92.6 445.8,93.9 447.2,96.3 448.7,98.0 450.1,98.4 451.5,97.8 453.0,95.0 454.4,91.9 455.8,89.7 457.3,87.7 458.7,86.0 460.1,84.3 461.6,83.2 463.0,82.1 464.4,82.3 465.9,81.8 467.3,82.5 468.7,83.3 470.2,84.3 471.6,85.2 473.0,85.6 474.5,86.1 475.9,86.3 477.3,85.9 478.8,85.4 480.2,85.9 481.6,85.9 483.1,86.1 484.5,86.9 485.9,87.3 487.4,88.4 488.8,88.1 490.2,87.9 491.7,87.6 493.1,86.2 494.5,86.7 496.0,86.3 497.4,85.8 498.8,85.8 500.3,86.3 501.7,87.6 503.1,88.1 504.6,89.1 506.0,89.6" fill="none" stroke="#2f9f8f" stroke-width="0.55" opacity="0.9"/>
<polyline points="420.0,88.6 421.4,88.8 422.9,89.0 424.3,89.0 425.7,89.9 427.2,90.7 428.6,91.6 430.0,92.5 431.5,91.9 432.9,92.0 434.3,91.6 435.8,89.9 437.2,89.4 438.6,89.1 440.1,88.2 441.5,88.9 442.9,88.1 444.4,89.3 445.8,90.4 447.2,93.1 448.7,94.6 450.1,97.1 451.5,97.4 453.0,95.4 454.4,91.7 455.8,87.7 457.3,84.9 458.7,82.1 460.1,80.0 461.6,78.7 463.0,78.1 464.4,76.8 465.9,75.5 467.3,74.4 468.7,74.1 470.2,73.7 471.6,73.2 473.0,72.1 474.5,72.1 475.9,72.4 477.3,72.6 478.8,73.6 480.2,73.9 481.6,74.4 483.1,75.6 484.5,76.0 485.9,76.9 487.4,77.3 488.8,77.8 490.2,78.6 491.7,79.4 493.1,80.4 494.5,81.3 496.0,83.5 497.4,85.0 498.8,86.4 500.3,87.3 501.7,88.7 503.1,88.5 504.6,87.9 506.0,88.4" fill="none" stroke="#e0d040" stroke-width="0.55" opacity="0.9"/>
<polyline points="420.0,90.9 421.4,90.7 422.9,90.4 424.3,90.2 425.7,90.0 427.2,90.4 428.6,90.2 430.0,90.6 431.5,90.8 432.9,90.8 434.3,90.9 435.8,90.1 437.2,90.1 438.6,89.4 440.1,88.4 441.5,88.6 442.9,88.7 444.4,91.9 445.8,97.4 447.2,105.2 448.7,114.2 450.1,120.8 451.5,121.4 453.0,116.5 454.4,108.5 455.8,99.6 457.3,92.4 458.7,88.5 460.1,86.5 461.6,84.9 463.0,83.8 464.4,83.1 465.9,83.5 467.3,83.8 468.7,82.9 470.2,82.4 471.6,82.7 473.0,81.8 474.5,81.1 475.9,80.4 477.3,79.9 478.8,80.2 480.2,80.6 481.6,81.1 483.1,81.7 484.5,83.2 485.9,83.9 487.4,84.9 488.8,85.1 490.2,86.0 491.7,86.3 493.1,86.6 494.5,86.5 496.0,87.0 497.4,87.2 498.8,88.3 500.3,88.9 501.7,89.6 503.1,89.5 504.6,89.4 506.0,89.4" fill="none" stroke="#5a6fd0" stroke-width="0.55" opacity="0.9"/>
<polyline points="420.0,91.8 421.4,91.2 422.9,91.2 424.3,90.1 425.7,89.3 427.2,89.2 428.6,88.8 430.0,88.6 431.5,89.0 432.9,89.3 434.3,88.5 435.8,88.8 437.2,88.5 438.6,88.0 440.1,88.6 441.5,88.6 442.9,89.0 444.4,91.2 445.8,95.7 447.2,102.9 448.7,111.3 450.1,119.2 451.5,123.9 453.0,123.5 454.4,117.6 455.8,108.3 457.3,101.0 458.7,93.8 460.1,90.3 461.6,87.4 463.0,85.9 464.4,85.1 465.9,85.2 467.3,85.4 468.7,85.0 470.2,84.9 471.6,84.9 473.0,84.5 474.5,84.4 475.9,84.6 477.3,83.5 478.8,84.5 480.2,84.8 481.6,86.0 483.1,86.5 484.5,88.5 485.9,89.4 487.4,90.3 488.8,90.1 490.2,90.6 491.7,90.2 493.1,90.2 494.5,89.9 496.0,89.7 497.4,89.4 498.8,89.6 500.3,90.2 501.7,90.4 503.1,90.8 504.6,90.5 506.0,91.0" fill="none" stroke="#8a5ab0" stroke-width="0.55" opacity="0.9"/>
<polyline points="420.0,88.1 421.4,88.1 422.9,87.6 424.3,86.7 425.7,87.7 427.2,86.9 428.6,88.4 430.0,88.4 431.5,89.6 432.9,91.0 434.3,90.4 435.8,90.9 437.2,91.2 438.6,90.6 440.1,90.0 441.5,90.4 442.9,90.3 444.4,91.9 445.8,94.3 447.2,98.2 448.7,103.4 450.1,106.4 451.5,104.2 453.0,99.8 454.4,93.7 455.8,89.1 457.3,85.6 458.7,84.0 460.1,83.2 461.6,82.6 463.0,81.8 464.4,81.9 465.9,82.3 467.3,82.6 468.7,83.4 470.2,83.7 471.6,83.4 473.0,83.5 474.5,83.2 475.9,83.1 477.3,83.6 478.8,84.6 480.2,85.3 481.6,85.2 483.1,86.4 484.5,87.0 485.9,86.9 487.4,87.2 488.8,86.0 490.2,86.2 491.7,85.6 493.1,85.3 494.5,85.9 496.0,85.7 497.4,86.5 498.8,87.6 500.3,87.7 501.7,89.1 503.1,89.4 504.6,90.8 506.0,90.9" fill="none" stroke="#48b0a0" stroke-width="0.55" opacity="0.9"/>
<polyline points="420.0,88.5 421.4,88.6 422.9,88.5 424.3,88.9 425.7,88.5 427.2,88.5 428.6,88.5 430.0,89.5 431.5,90.0 432.9,91.0 434.3,91.7 435.8,92.2 437.2,92.0 438.6,91.6 440.1,91.2 441.5,90.4 442.9,89.7 444.4,89.0 445.8,89.3 447.2,91.1 448.7,94.9 450.1,99.6 451.5,102.2 453.0,100.1 454.4,96.0 455.8,91.1 457.3,87.6 458.7,85.6 460.1,83.8 461.6,83.1 463.0,82.3 464.4,80.8 465.9,81.9 467.3,82.3 468.7,83.2 470.2,82.9 471.6,83.6 473.0,83.7 474.5,83.1 475.9,83.2 477.3,82.5 478.8,81.7 480.2,81.3 481.6,81.5 483.1,82.6 484.5,83.0 485.9,82.3 487.4,83.1 488.8,84.3 490.2,84.4 491.7,84.4 493.1,84.9 494.5,84.8 496.0,85.1 497.4,85.5 498.8,85.8 500.3,87.5 501.7,88.1 503.1,89.6 504.6,90.4 506.0,90.9" fill="none" stroke="#c8c040" stroke-width="0.55" opacity="0.9"/>
</g>
<rect x="536.4" y="28.1" width="97.6" height="97.6" fill="#bdbdc1"/>
<g clip-path="url(#cpP)">
<circle cx="597.04" cy="100.7" r="5.18" fill="#d4d4da" opacity="0.35" filter="url(#bl1)"/>
<circle cx="538.84" cy="73.63" r="5.77" fill="#cfcfd4" opacity="0.35" filter="url(#bl1)"/>
<circle cx="624.29" cy="39.09" r="3.88" fill="#a6a6aa" opacity="0.35" filter="url(#bl1)"/>
<circle cx="573.31" cy="37.99" r="3" fill="#a6a6aa" opacity="0.35" filter="url(#bl1)"/>
<circle cx="576" cy="45.84" r="5.47" fill="#9e9ea2" opacity="0.35" filter="url(#bl1)"/>
<circle cx="551.64" cy="106.12" r="2.56" fill="#d4d4da" opacity="0.35" filter="url(#bl1)"/>
<circle cx="579.59" cy="40.96" r="5.89" fill="#cfcfd4" opacity="0.35" filter="url(#bl1)"/>
<circle cx="556.53" cy="49.12" r="5.93" fill="#a6a6aa" opacity="0.35" filter="url(#bl1)"/>
<circle cx="564.35" cy="122.22" r="4.16" fill="#a6a6aa" opacity="0.35" filter="url(#bl1)"/>
<circle cx="553.8" cy="122.92" r="2.79" fill="#9e9ea2" opacity="0.35" filter="url(#bl1)"/>
<circle cx="565.28" cy="63.4" r="2.66" fill="#a6a6aa" opacity="0.35" filter="url(#bl1)"/>
<circle cx="561.85" cy="60.52" r="5.27" fill="#d4d4da" opacity="0.35" filter="url(#bl1)"/>
<circle cx="536.33" cy="94.44" r="3.35" fill="#c2c2c8" opacity="0.35" filter="url(#bl1)"/>
<circle cx="570.82" cy="57.99" r="4.79" fill="#a6a6aa" opacity="0.35" filter="url(#bl1)"/>
<circle cx="583.16" cy="97.06" r="2.23" fill="#cfcfd4" opacity="0.35" filter="url(#bl1)"/>
<circle cx="629.02" cy="63.05" r="3.62" fill="#d4d4da" opacity="0.35" filter="url(#bl1)"/>
<circle cx="613.2" cy="63.89" r="4.31" fill="#cfcfd4" opacity="0.35" filter="url(#bl1)"/>
<circle cx="580.38" cy="97.36" r="4.49" fill="#a6a6aa" opacity="0.35" filter="url(#bl1)"/>
<circle cx="547.66" cy="52.12" r="5.28" fill="#9e9ea2" opacity="0.35" filter="url(#bl1)"/>
<circle cx="569.75" cy="62.77" r="4.1" fill="#9e9ea2" opacity="0.35" filter="url(#bl1)"/>
<circle cx="546.59" cy="101.34" r="5.19" fill="#c2c2c8" opacity="0.35" filter="url(#bl1)"/>
<circle cx="539.59" cy="120.69" r="2.36" fill="#c2c2c8" opacity="0.35" filter="url(#bl1)"/>
<circle cx="586.26" cy="63.54" r="2.59" fill="#c2c2c8" opacity="0.35" filter="url(#bl1)"/>
<circle cx="626.57" cy="81.42" r="3.25" fill="#c2c2c8" opacity="0.35" filter="url(#bl1)"/>
<circle cx="566" cy="106.28" r="4.51" fill="#c2c2c8" opacity="0.35" filter="url(#bl1)"/>
<circle cx="633.68" cy="43.83" r="2.19" fill="#d4d4da" opacity="0.35" filter="url(#bl1)"/>
<circle cx="588.29" cy="67.78" r="2.95" fill="#d4d4da" opacity="0.35" filter="url(#bl1)"/>
<circle cx="569.7" cy="52.52" r="4.6" fill="#a6a6aa" opacity="0.35" filter="url(#bl1)"/>
<circle cx="541.46" cy="117.77" r="2.13" fill="#9e9ea2" opacity="0.35" filter="url(#bl1)"/>
<circle cx="568.75" cy="48.29" r="5.93" fill="#d4d4da" opacity="0.35" filter="url(#bl1)"/>
<circle cx="629.08" cy="89.78" r="5.15" fill="#cfcfd4" opacity="0.35" filter="url(#bl1)"/>
<circle cx="552.54" cy="64.55" r="2.24" fill="#9e9ea2" opacity="0.35" filter="url(#bl1)"/>
<circle cx="564.89" cy="72.41" r="6" fill="#a6a6aa" opacity="0.35" filter="url(#bl1)"/>
<circle cx="631.65" cy="72.45" r="3.95" fill="#c2c2c8" opacity="0.35" filter="url(#bl1)"/>
<circle cx="582.95" cy="56.52" r="3.62" fill="#a6a6aa" opacity="0.35" filter="url(#bl1)"/>
<circle cx="547.03" cy="108.56" r="4.13" fill="#a6a6aa" opacity="0.35" filter="url(#bl1)"/>
<circle cx="597.44" cy="76.93" r="3.35" fill="#cfcfd4" opacity="0.35" filter="url(#bl1)"/>
<circle cx="584.2" cy="78.49" r="4.19" fill="#d4d4da" opacity="0.35" filter="url(#bl1)"/>
<circle cx="571.41" cy="105.03" r="5.1" fill="#d4d4da" opacity="0.35" filter="url(#bl1)"/>
<circle cx="601.07" cy="102.44" r="3.45" fill="#c2c2c8" opacity="0.35" filter="url(#bl1)"/>
<circle cx="617.85" cy="53.96" r="5.92" fill="#c2c2c8" opacity="0.35" filter="url(#bl1)"/>
<circle cx="629.77" cy="61.33" r="2.71" fill="#cfcfd4" opacity="0.35" filter="url(#bl1)"/>
<circle cx="582.48" cy="103.82" r="3.3" fill="#c2c2c8" opacity="0.35" filter="url(#bl1)"/>
<circle cx="581.37" cy="108.03" r="4.59" fill="#c2c2c8" opacity="0.35" filter="url(#bl1)"/>
<circle cx="570.09" cy="91.12" r="4.95" fill="#9e9ea2" opacity="0.35" filter="url(#bl1)"/>
<circle cx="570.3" cy="110.6" r="5.48" fill="#9e9ea2" opacity="0.35" filter="url(#bl1)"/>
<circle cx="631.66" cy="121.74" r="4.07" fill="#d4d4da" opacity="0.35" filter="url(#bl1)"/>
<circle cx="632.06" cy="47.47" r="3.45" fill="#9e9ea2" opacity="0.35" filter="url(#bl1)"/>
<circle cx="563.72" cy="35.73" r="4.68" fill="#9e9ea2" opacity="0.35" filter="url(#bl1)"/>
<circle cx="552.84" cy="104.48" r="4.32" fill="#9e9ea2" opacity="0.35" filter="url(#bl1)"/>
<circle cx="565.66" cy="82.21" r="5.47" fill="#c2c2c8" opacity="0.35" filter="url(#bl1)"/>
<circle cx="606.6" cy="30.71" r="2.64" fill="#9e9ea2" opacity="0.35" filter="url(#bl1)"/>
<circle cx="597.16" cy="45.71" r="5.04" fill="#a6a6aa" opacity="0.35" filter="url(#bl1)"/>
<circle cx="597.82" cy="32.1" r="3.89" fill="#a6a6aa" opacity="0.35" filter="url(#bl1)"/>
<circle cx="552.24" cy="115.4" r="2.44" fill="#a6a6aa" opacity="0.35" filter="url(#bl1)"/>
<circle cx="583.3" cy="81.74" r="3.66" fill="#c2c2c8" opacity="0.35" filter="url(#bl1)"/>
<circle cx="573.27" cy="87.96" r="4.36" fill="#a6a6aa" opacity="0.35" filter="url(#bl1)"/>
<circle cx="606.37" cy="64.65" r="3.4" fill="#c2c2c8" opacity="0.35" filter="url(#bl1)"/>
<circle cx="619.87" cy="112.91" r="4.76" fill="#d4d4da" opacity="0.35" filter="url(#bl1)"/>
<circle cx="572.64" cy="31.53" r="4.45" fill="#cfcfd4" opacity="0.35" filter="url(#bl1)"/>
<circle cx="564.94" cy="78.24" r="5.8" fill="#c2c2c8" opacity="0.35" filter="url(#bl1)"/>
<circle cx="629.91" cy="108.22" r="3.68" fill="#d4d4da" opacity="0.35" filter="url(#bl1)"/>
<circle cx="598.95" cy="64.21" r="2.57" fill="#d4d4da" opacity="0.35" filter="url(#bl1)"/>
<circle cx="573.51" cy="74.75" r="2.8" fill="#a6a6aa" opacity="0.35" filter="url(#bl1)"/>
<circle cx="595.64" cy="62.41" r="5.57" fill="#cfcfd4" opacity="0.35" filter="url(#bl1)"/>
<circle cx="573.42" cy="59.95" r="5.67" fill="#d4d4da" opacity="0.35" filter="url(#bl1)"/>
<circle cx="549.79" cy="89.69" r="5.57" fill="#9e9ea2" opacity="0.35" filter="url(#bl1)"/>
<circle cx="578.06" cy="123.71" r="3.97" fill="#9e9ea2" opacity="0.35" filter="url(#bl1)"/>
<circle cx="631.3" cy="65.22" r="5.84" fill="#a6a6aa" opacity="0.35" filter="url(#bl1)"/>
<circle cx="594.39" cy="53.46" r="5.92" fill="#9e9ea2" opacity="0.35" filter="url(#bl1)"/>
<path d="M548.72 27.64L548.72 34.99L554.85 45.46M560.98 27.64L560.98 39.9L566.71 45.46M571.61 27.64L571.61 50.53L578.81 57.73M574.88 27.64L574.88 36.63L578.81 41.94L578.81 45.46M585.51 27.64L585.51 63.61L578.81 69.74M537.43 27.64L537.43 36.22L545.04 40.72L548.31 46.85L552.81 51.35L560.98 51.35L566.71 57.73M542.59 27.64L542.59 32.54M554.85 27.64L554.85 32.54M566.71 27.64L566.71 32.54M578.81 27.64L578.81 32.54M535.64 45.46L542.59 45.46M535.64 57.73L542.59 57.73M535.64 69.74L541.77 69.74M554.85 57.73L547.08 51.76L535.64 51.76M554.28 69.74L547.08 65.25L535.64 65.25M566.05 69.74L560.98 63.78L549.54 63.78L546.26 61.73L535.64 61.73M535.64 75.55L572.84 75.55L578.81 80.95M548.72 123.56L548.72 116.21L554.85 105.74M560.98 123.56L560.98 111.3L566.71 105.74M571.61 123.56L571.61 100.67L578.81 93.47M574.88 123.56L574.88 114.57L578.81 109.26L578.81 105.74M537.43 123.56L537.43 114.98L545.04 110.48L548.31 104.35L552.81 99.85L560.98 99.85L566.71 93.47M542.59 123.56L542.59 118.66M554.85 123.56L554.85 118.66M566.71 123.56L566.71 118.66M578.81 123.56L578.81 118.66M535.64 105.74L542.59 105.74M535.64 93.47L542.59 93.47M535.64 81.46L541.77 81.46M554.85 93.47L547.08 99.44L535.64 99.44M554.28 81.46L547.08 85.95L535.64 85.95M566.05 81.46L560.98 87.42L549.54 87.42L546.26 89.47L535.64 89.47M621.28 27.64L621.28 34.99L615.15 45.46M609.02 27.64L609.02 39.9L603.29 45.46M598.39 27.64L598.39 50.53L591.19 57.73M595.12 27.64L595.12 36.63L591.19 41.94L591.19 45.46M632.57 27.64L632.57 36.22L624.96 40.72L621.69 46.85L617.19 51.35L609.02 51.35L603.29 57.73M627.41 27.64L627.41 32.54M615.15 27.64L615.15 32.54M603.29 27.64L603.29 32.54M591.19 27.64L591.19 32.54M634.36 45.46L627.41 45.46M634.36 57.73L627.41 57.73M634.36 69.74L628.23 69.74M615.15 57.73L622.92 51.76L634.36 51.76M615.72 69.74L622.92 65.25L634.36 65.25M603.95 69.74L609.02 63.78L620.46 63.78L623.74 61.73L634.36 61.73M621.28 123.56L621.28 116.21L615.15 105.74M609.02 123.56L609.02 111.3L603.29 105.74M598.39 123.56L598.39 100.67L591.19 93.47M595.12 123.56L595.12 114.57L591.19 109.26L591.19 105.74M584.49 123.56L584.49 87.59L591.19 81.46M632.57 123.56L632.57 114.98L624.96 110.48L621.69 104.35L617.19 99.85L609.02 99.85L603.29 93.47M627.41 123.56L627.41 118.66M615.15 123.56L615.15 118.66M603.29 123.56L603.29 118.66M591.19 123.56L591.19 118.66M634.36 105.74L627.41 105.74M634.36 93.47L627.41 93.47M634.36 81.46L628.23 81.46M615.15 93.47L622.92 99.44L634.36 99.44M615.72 81.46L622.92 85.95L634.36 85.95M603.95 81.46L609.02 87.42L620.46 87.42L623.74 89.47L634.36 89.47M634.36 75.65L597.16 75.65L591.19 70.25" fill="none" stroke="#202020" stroke-width="1.7" stroke-linejoin="round" stroke-linecap="round"/>
<circle cx="542.5" cy="32.5" r="2.55" fill="#161616"/>
<circle cx="542.5" cy="44.8" r="2.55" fill="#161616"/>
<circle cx="542.5" cy="57.1" r="2.55" fill="#161616"/>
<circle cx="542.5" cy="69.4" r="2.55" fill="#161616"/>
<circle cx="542.5" cy="81.7" r="2.55" fill="#161616"/>
<circle cx="542.5" cy="94" r="2.55" fill="#161616"/>
<circle cx="542.5" cy="106.3" r="2.55" fill="#161616"/>
<circle cx="542.5" cy="118.6" r="2.55" fill="#161616"/>
<circle cx="554.64" cy="32.5" r="2.55" fill="#161616"/>
<circle cx="554.64" cy="44.8" r="2.55" fill="#161616"/>
<circle cx="554.64" cy="57.1" r="2.55" fill="#161616"/>
<circle cx="554.64" cy="69.4" r="2.55" fill="#161616"/>
<circle cx="554.64" cy="81.7" r="2.55" fill="#161616"/>
<circle cx="554.64" cy="94" r="2.55" fill="#161616"/>
<circle cx="554.64" cy="106.3" r="2.55" fill="#161616"/>
<circle cx="554.64" cy="118.6" r="2.55" fill="#161616"/>
<circle cx="566.78" cy="32.5" r="2.55" fill="#161616"/>
<circle cx="566.78" cy="44.8" r="2.55" fill="#161616"/>
<circle cx="566.78" cy="57.1" r="2.55" fill="#161616"/>
<circle cx="566.78" cy="69.4" r="2.55" fill="#161616"/>
<circle cx="566.78" cy="81.7" r="2.55" fill="#161616"/>
<circle cx="566.78" cy="94" r="2.55" fill="#161616"/>
<circle cx="566.78" cy="106.3" r="2.55" fill="#161616"/>
<circle cx="566.78" cy="118.6" r="2.55" fill="#161616"/>
<circle cx="578.92" cy="32.5" r="2.55" fill="#161616"/>
<circle cx="578.92" cy="44.8" r="2.55" fill="#161616"/>
<circle cx="578.92" cy="57.1" r="2.55" fill="#161616"/>
<circle cx="578.92" cy="69.4" r="2.55" fill="#161616"/>
<circle cx="578.92" cy="81.7" r="2.55" fill="#161616"/>
<circle cx="578.92" cy="94" r="2.55" fill="#161616"/>
<circle cx="578.92" cy="106.3" r="2.55" fill="#161616"/>
<circle cx="578.92" cy="118.6" r="2.55" fill="#161616"/>
<circle cx="591.06" cy="32.5" r="2.55" fill="#161616"/>
<circle cx="591.06" cy="44.8" r="2.55" fill="#161616"/>
<circle cx="591.06" cy="57.1" r="2.55" fill="#161616"/>
<circle cx="591.06" cy="69.4" r="2.55" fill="#161616"/>
<circle cx="591.06" cy="81.7" r="2.55" fill="#161616"/>
<circle cx="591.06" cy="94" r="2.55" fill="#161616"/>
<circle cx="591.06" cy="106.3" r="2.55" fill="#161616"/>
<circle cx="591.06" cy="118.6" r="2.55" fill="#161616"/>
<circle cx="603.2" cy="32.5" r="2.55" fill="#161616"/>
<circle cx="603.2" cy="44.8" r="2.55" fill="#161616"/>
<circle cx="603.2" cy="57.1" r="2.55" fill="#161616"/>
<circle cx="603.2" cy="69.4" r="2.55" fill="#161616"/>
<circle cx="603.2" cy="81.7" r="2.55" fill="#161616"/>
<circle cx="603.2" cy="94" r="2.55" fill="#161616"/>
<circle cx="603.2" cy="106.3" r="2.55" fill="#161616"/>
<circle cx="603.2" cy="118.6" r="2.55" fill="#161616"/>
<circle cx="615.34" cy="32.5" r="2.55" fill="#161616"/>
<circle cx="615.34" cy="44.8" r="2.55" fill="#161616"/>
<circle cx="615.34" cy="57.1" r="2.55" fill="#161616"/>
<circle cx="615.34" cy="69.4" r="2.55" fill="#161616"/>
<circle cx="615.34" cy="81.7" r="2.55" fill="#161616"/>
<circle cx="615.34" cy="94" r="2.55" fill="#161616"/>
<circle cx="615.34" cy="106.3" r="2.55" fill="#161616"/>
<circle cx="615.34" cy="118.6" r="2.55" fill="#161616"/>
<circle cx="627.48" cy="32.5" r="2.55" fill="#161616"/>
<circle cx="627.48" cy="44.8" r="2.55" fill="#161616"/>
<circle cx="627.48" cy="57.1" r="2.55" fill="#161616"/>
<circle cx="627.48" cy="69.4" r="2.55" fill="#161616"/>
<circle cx="627.48" cy="81.7" r="2.55" fill="#161616"/>
<circle cx="627.48" cy="94" r="2.55" fill="#161616"/>
<circle cx="627.48" cy="106.3" r="2.55" fill="#161616"/>
<circle cx="627.48" cy="118.6" r="2.55" fill="#161616"/>
<ellipse cx="580.5" cy="75.0" rx="26" ry="32" fill="#7a5c3c" opacity="0.9" filter="url(#bl1)" transform="rotate(-32 581 75)"/>
<ellipse cx="581" cy="75.2" rx="23.5" ry="29.5" fill="url(#org)" filter="url(#bl2)" transform="rotate(-32 581 75)"/>
<ellipse cx="589" cy="73" rx="13" ry="18" fill="#2a1a0e" opacity="0.55" filter="url(#bl3)"/>
<path d="M548.72 27.64L548.72 34.99L554.85 45.46M560.98 27.64L560.98 39.9L566.71 45.46M571.61 27.64L571.61 50.53L578.81 57.73M574.88 27.64L574.88 36.63L578.81 41.94L578.81 45.46M585.51 27.64L585.51 63.61L578.81 69.74M537.43 27.64L537.43 36.22L545.04 40.72L548.31 46.85L552.81 51.35L560.98 51.35L566.71 57.73M542.59 27.64L542.59 32.54M554.85 27.64L554.85 32.54M566.71 27.64L566.71 32.54M578.81 27.64L578.81 32.54M535.64 45.46L542.59 45.46M535.64 57.73L542.59 57.73M535.64 69.74L541.77 69.74M554.85 57.73L547.08 51.76L535.64 51.76M554.28 69.74L547.08 65.25L535.64 65.25M566.05 69.74L560.98 63.78L549.54 63.78L546.26 61.73L535.64 61.73M535.64 75.55L572.84 75.55L578.81 80.95M548.72 123.56L548.72 116.21L554.85 105.74M560.98 123.56L560.98 111.3L566.71 105.74M571.61 123.56L571.61 100.67L578.81 93.47M574.88 123.56L574.88 114.57L578.81 109.26L578.81 105.74M537.43 123.56L537.43 114.98L545.04 110.48L548.31 104.35L552.81 99.85L560.98 99.85L566.71 93.47M542.59 123.56L542.59 118.66M554.85 123.56L554.85 118.66M566.71 123.56L566.71 118.66M578.81 123.56L578.81 118.66M535.64 105.74L542.59 105.74M535.64 93.47L542.59 93.47M535.64 81.46L541.77 81.46M554.85 93.47L547.08 99.44L535.64 99.44M554.28 81.46L547.08 85.95L535.64 85.95M566.05 81.46L560.98 87.42L549.54 87.42L546.26 89.47L535.64 89.47M621.28 27.64L621.28 34.99L615.15 45.46M609.02 27.64L609.02 39.9L603.29 45.46M598.39 27.64L598.39 50.53L591.19 57.73M595.12 27.64L595.12 36.63L591.19 41.94L591.19 45.46M632.57 27.64L632.57 36.22L624.96 40.72L621.69 46.85L617.19 51.35L609.02 51.35L603.29 57.73M627.41 27.64L627.41 32.54M615.15 27.64L615.15 32.54M603.29 27.64L603.29 32.54M591.19 27.64L591.19 32.54M634.36 45.46L627.41 45.46M634.36 57.73L627.41 57.73M634.36 69.74L628.23 69.74M615.15 57.73L622.92 51.76L634.36 51.76M615.72 69.74L622.92 65.25L634.36 65.25M603.95 69.74L609.02 63.78L620.46 63.78L623.74 61.73L634.36 61.73M621.28 123.56L621.28 116.21L615.15 105.74M609.02 123.56L609.02 111.3L603.29 105.74M598.39 123.56L598.39 100.67L591.19 93.47M595.12 123.56L595.12 114.57L591.19 109.26L591.19 105.74M584.49 123.56L584.49 87.59L591.19 81.46M632.57 123.56L632.57 114.98L624.96 110.48L621.69 104.35L617.19 99.85L609.02 99.85L603.29 93.47M627.41 123.56L627.41 118.66M615.15 123.56L615.15 118.66M603.29 123.56L603.29 118.66M591.19 123.56L591.19 118.66M634.36 105.74L627.41 105.74M634.36 93.47L627.41 93.47M634.36 81.46L628.23 81.46M615.15 93.47L622.92 99.44L634.36 99.44M615.72 81.46L622.92 85.95L634.36 85.95M603.95 81.46L609.02 87.42L620.46 87.42L623.74 89.47L634.36 89.47M634.36 75.65L597.16 75.65L591.19 70.25" fill="none" stroke="#140d08" stroke-width="1.8" opacity="0.6" stroke-linejoin="round"/>
<circle cx="554.64" cy="44.8" r="2.5" fill="#1a120c" opacity="0.8"/>
<circle cx="554.64" cy="57.1" r="2.5" fill="#1a120c" opacity="0.8"/>
<circle cx="554.64" cy="69.4" r="2.5" fill="#1a120c" opacity="0.8"/>
<circle cx="554.64" cy="81.7" r="2.5" fill="#1a120c" opacity="0.8"/>
<circle cx="554.64" cy="94" r="2.5" fill="#1a120c" opacity="0.8"/>
<circle cx="554.64" cy="106.3" r="2.5" fill="#1a120c" opacity="0.8"/>
<circle cx="566.78" cy="44.8" r="2.5" fill="#1a120c" opacity="0.8"/>
<circle cx="566.78" cy="57.1" r="2.5" fill="#1a120c" opacity="0.8"/>
<circle cx="566.78" cy="69.4" r="2.5" fill="#1a120c" opacity="0.8"/>
<circle cx="566.78" cy="81.7" r="2.5" fill="#1a120c" opacity="0.8"/>
<circle cx="566.78" cy="94" r="2.5" fill="#1a120c" opacity="0.8"/>
<circle cx="566.78" cy="106.3" r="2.5" fill="#1a120c" opacity="0.8"/>
<circle cx="578.92" cy="44.8" r="2.5" fill="#1a120c" opacity="0.8"/>
<circle cx="578.92" cy="57.1" r="2.5" fill="#1a120c" opacity="0.8"/>
<circle cx="578.92" cy="69.4" r="2.5" fill="#1a120c" opacity="0.8"/>
<circle cx="578.92" cy="81.7" r="2.5" fill="#1a120c" opacity="0.8"/>
<circle cx="578.92" cy="94" r="2.5" fill="#1a120c" opacity="0.8"/>
<circle cx="578.92" cy="106.3" r="2.5" fill="#1a120c" opacity="0.8"/>
<circle cx="591.06" cy="44.8" r="2.5" fill="#1a120c" opacity="0.8"/>
<circle cx="591.06" cy="57.1" r="2.5" fill="#1a120c" opacity="0.8"/>
<circle cx="591.06" cy="69.4" r="2.5" fill="#1a120c" opacity="0.8"/>
<circle cx="591.06" cy="81.7" r="2.5" fill="#1a120c" opacity="0.8"/>
<circle cx="591.06" cy="94" r="2.5" fill="#1a120c" opacity="0.8"/>
<circle cx="591.06" cy="106.3" r="2.5" fill="#1a120c" opacity="0.8"/>
<circle cx="603.2" cy="44.8" r="2.5" fill="#1a120c" opacity="0.8"/>
<circle cx="603.2" cy="57.1" r="2.5" fill="#1a120c" opacity="0.8"/>
<circle cx="603.2" cy="69.4" r="2.5" fill="#1a120c" opacity="0.8"/>
<circle cx="603.2" cy="81.7" r="2.5" fill="#1a120c" opacity="0.8"/>
<circle cx="603.2" cy="94" r="2.5" fill="#1a120c" opacity="0.8"/>
<circle cx="603.2" cy="106.3" r="2.5" fill="#1a120c" opacity="0.8"/>
<circle cx="615.34" cy="44.8" r="2.5" fill="#1a120c" opacity="0.8"/>
<circle cx="615.34" cy="57.1" r="2.5" fill="#1a120c" opacity="0.8"/>
<circle cx="615.34" cy="69.4" r="2.5" fill="#1a120c" opacity="0.8"/>
<circle cx="615.34" cy="81.7" r="2.5" fill="#1a120c" opacity="0.8"/>
<circle cx="615.34" cy="94" r="2.5" fill="#1a120c" opacity="0.8"/>
<circle cx="615.34" cy="106.3" r="2.5" fill="#1a120c" opacity="0.8"/>
</g>
<text x="1.6" y="163.4" font-size="13.2" text-anchor="start" font-weight="bold" fill="#000">b</text>
<rect x="43.2" y="146.5" width="11.7" height="287.2" fill="#d5cde9"/>
<rect x="43.2" y="433.6" width="11.7" height="267.6" fill="#a0e7fd"/>
<text x="33.4" y="280.5" font-size="10" text-anchor="middle" fill="#000" transform="rotate(-90 33.4 280.5)">MACM</text>
<text x="33.4" y="562.8" font-size="10" text-anchor="middle" fill="#000" transform="rotate(-90 33.4 562.8)">CTR</text>
<text x="73.5" y="194" font-size="10" text-anchor="middle" fill="#1c1cf0" transform="rotate(-90 73.5 194)">Electrode burst/</text>
<text x="85" y="193" font-size="10" text-anchor="middle" fill="#f016e6" transform="rotate(-90 85 193)">Network burst</text>
<text x="75.4" y="504" font-size="10" text-anchor="middle" fill="#1c1cf0" transform="rotate(-90 75.4 504)">Electrode burst/</text>
<text x="86.3" y="502.7" font-size="10" text-anchor="middle" fill="#f016e6" transform="rotate(-90 86.3 502.7)">Network burst</text>
<text x="71.2" y="281" font-size="10" text-anchor="middle" fill="#000" transform="rotate(-90 71.2 281)">Spike</text>
<text x="71.9" y="353" font-size="10" text-anchor="middle" fill="#000" transform="rotate(-90 71.9 353)">Waveform</text>
<text x="70.2" y="590.3" font-size="10" text-anchor="middle" fill="#000" transform="rotate(-90 70.2 590.3)">Spike</text>
<text x="70.2" y="662.6" font-size="10" text-anchor="middle" fill="#000" transform="rotate(-90 70.2 662.6)">Waveform</text>
<text x="163.3" y="430.4" font-size="10" text-anchor="middle" fill="#000">Early Stage  Day 59</text>
<text x="341.4" y="430.4" font-size="10" text-anchor="middle" fill="#000">Late Stage  Day 75</text>
<text x="519.7" y="430.4" font-size="10" text-anchor="middle" fill="#000">Late Stage  Day 86</text>
<rect x="91.1" y="432.9" width="136.6" height="1.3" fill="#7a9ad6"/>
<rect x="277.3" y="432.9" width="303.6" height="1.3" fill="#7a9ad6"/>
<rect x="99.2" y="242.8" width="128.6" height="0.5" fill="#bdbdbd"/>
<path d="M99.2 242.8v-1.2M115.28 242.8v-1.2M131.35 242.8v-1.2M147.43 242.8v-1.2M163.5 242.8v-1.2M179.57 242.8v-1.2M195.65 242.8v-1.2M211.72 242.8v-1.2M227.8 242.8v-1.2" stroke="#8c8c8c" stroke-width="0.5" fill="none"/>
<path d="M110.2 153h0.7M122.3 152.96h0.7M137.7 153.39h0.7M161.9 152.77h0.7M224.6 152.87h0.7M207.07 153.62h0.7M213.77 151.77h0.7M108 175.18h0.7M109.1 175.12h0.7M111.3 175.79h0.7M113.5 175.53h0.7M116.8 175.23h0.7M117.9 175.4h0.7M121.2 175.67h0.7M125.6 175.47h0.7M126.7 175.71h0.7M127.8 175.67h0.7M132.2 175.41h0.7M139.9 175.58h0.7M148.7 175.75h0.7M154.2 175.16h0.7M155.3 175.75h0.7M159.7 175.62h0.7M166.3 175.45h0.7M178.4 175.48h0.7M198.2 175.35h0.7M201.5 175.54h0.7M202.6 175.34h0.7M207 175.86h0.7M209.2 175.37h0.7M218 175.64h0.7M219.1 175.58h0.7M122.61 174.21h0.7M123.89 176.06h0.7M146.99 175.58h0.7M138.26 174.63h0.7M213.39 176.19h0.7M212.39 174.63h0.7M99.2 186.25h0.7M105.8 185.88h0.7M106.9 186.1h0.7M109.1 185.65h0.7M112.4 185.82h0.7M113.5 185.63h0.7M117.9 185.68h0.7M125.6 186.26h0.7M126.7 185.63h0.7M131.1 186.17h0.7M133.3 186.28h0.7M137.7 186.22h0.7M147.6 185.88h0.7M153.1 186.34h0.7M156.4 186.4h0.7M163 185.92h0.7M164.1 186.03h0.7M167.4 185.62h0.7M170.7 186.13h0.7M171.8 185.69h0.7M177.3 185.79h0.7M183.9 185.94h0.7M187.2 186.03h0.7M189.4 186.26h0.7M198.2 186.13h0.7M202.6 185.78h0.7M207 185.9h0.7M219.1 186.23h0.7M222.4 186.28h0.7M224.6 185.85h0.7M226.8 186.26h0.7M124.39 185.63h0.7M118.92 184.99h0.7M143.36 187.29h0.7M141.93 186.38h0.7M211.57 185.87h0.7M208.57 186.24h0.7M100.3 187.59h0.7M106.9 187.35h0.7M112.4 187.63h0.7M113.5 187.52h0.7M119 187.39h0.7M121.2 187.36h0.7M126.7 187.44h0.7M132.2 187.6h0.7M138.8 187.97h0.7M149.8 187.43h0.7M150.9 187.46h0.7M156.4 187.73h0.7M177.3 187.37h0.7M138.75 187.47h0.7M146.33 186.34h0.7M99.2 199.01h0.7M106.9 198.88h0.7M116.8 198.88h0.7M124.5 198.87h0.7M125.6 198.88h0.7M126.7 198.62h0.7M128.9 199.06h0.7M134.4 199.21h0.7M135.5 199.34h0.7M138.8 198.92h0.7M144.3 198.86h0.7M149.8 199.37h0.7M155.3 199.09h0.7M159.7 199.17h0.7M163 199.04h0.7M164.1 199.24h0.7M166.3 198.85h0.7M167.4 199.11h0.7M169.6 199.36h0.7M179.5 198.84h0.7M181.7 198.66h0.7M183.9 198.93h0.7M189.4 199.03h0.7M190.5 198.66h0.7M191.6 198.79h0.7M213.6 199.18h0.7M219.1 198.81h0.7M223.5 198.83h0.7M225.7 199.03h0.7M124.91 198.81h0.7M116.78 198.42h0.7M138.37 198.61h0.7M141.93 198.55h0.7M208.23 199.27h0.7M212.12 199.49h0.7M99.2 200.77h0.7M109.1 200.13h0.7M131.1 200.58h0.7M150.9 200.64h0.7M174 200.22h0.7M211.4 200.48h0.7M218 200.47h0.7M197.1 215.88h0.7M136.6 224.73h0.7M137.7 224.44h0.7M153.1 224.26h0.7M128.32 224.21h0.7M121.81 224h0.7" stroke="#26263a" stroke-width="0.65" fill="none" opacity="0.72"/>
<path d="M210.21 152.58h1.37M209.66 153.66h1.34M120.33 174.51h4.09M119.88 175.69h4.5M120.55 176.01h4.5M141.97 174.46h2.85M141.55 175.74h3.52M141.16 176.48h3.65M209.6 174.88h1.35M210.19 175.73h1.56M210.15 176.05h0.96M120.15 185.03h4.5M120.77 186.13h3.66M120.94 186.7h3.68M141.08 184.97h4.37M141.25 185.71h4.5M141.23 186.77h4.43M209.79 185.35h1.21M209.8 186.01h1.41M210.28 186.51h1.11M141 186.98h4.3M141.14 187.7h3.69M120.82 198.37h4.5M120.66 198.95h3.73M120.52 199.66h4.5M141.89 198.5h3.27M141.23 199.21h4.5M141.48 200.04h3.92M210.24 198.47h0.99M209.68 198.9h1.12M209.51 199.96h1.53M120.54 224.39h4.24" stroke="#3434b4" stroke-width="0.6" fill="none" opacity="0.85"/>
<rect x="119.1" y="144.4" width="7" height="97.4" fill="none" stroke="#e6b4d6" stroke-width="0.55"/>
<rect x="140.2" y="144.4" width="6.3" height="97.4" fill="none" stroke="#e6b4d6" stroke-width="0.55"/>
<rect x="209.5" y="144.4" width="2.1" height="97.4" fill="none" stroke="#e6b4d6" stroke-width="0.55"/>
<text x="221.4" y="253.2" font-size="9" text-anchor="start" fill="#000">40 s</text>
<rect x="277.8" y="242.8" width="128.6" height="0.5" fill="#bdbdbd"/>
<path d="M277.8 242.8v-1.2M293.88 242.8v-1.2M309.95 242.8v-1.2M326.02 242.8v-1.2M342.1 242.8v-1.2M358.18 242.8v-1.2M374.25 242.8v-1.2M390.32 242.8v-1.2M406.4 242.8v-1.2" stroke="#8c8c8c" stroke-width="0.5" fill="none"/>
<path d="M296.4 173.79h0.7M297.5 174.01h0.7M298.6 173.91h0.7M308.5 173.7h0.7M348.1 174.16h0.7M376.7 173.65h0.7M392.1 174.16h0.7M399.8 174.2h0.7M287.15 172.54h0.7M287.69 174.66h0.7M300.95 173.01h0.7M298.26 174.18h0.7M313.51 173.34h0.7M308.8 173.96h0.7M324.4 173.03h0.7M322.08 174.31h0.7M338.12 174.03h0.7M331.5 173.56h0.7M348.44 174.4h0.7M344.01 172.76h0.7M366.44 173.82h0.7M359.03 172.68h0.7M376.83 174.35h0.7M378.04 173.04h0.7M398.57 174.15h0.7M392.92 173.61h0.7M319.5 179.19h0.7M340.4 179.82h0.7M345.9 179.22h0.7M393.2 179.67h0.7M286.43 179.51h0.7M283.34 178.46h0.7M358.49 179.28h0.7M365.42 178.37h0.7M374.88 180.25h0.7M373.41 178.93h0.7M338.2 186.93h0.7M342.6 186.95h0.7M349.2 186.55h0.7M353.6 186.47h0.7M288.3 185.71h0.7M286.12 187.07h0.7M297.97 186.97h0.7M301.49 186.34h0.7M311.8 186.33h0.7M310.91 188.12h0.7M317.62 188.16h0.7M318.18 186.59h0.7M334.18 187.64h0.7M337.34 188.11h0.7M345.79 187.73h0.7M342.72 185.65h0.7M360.26 186.84h0.7M366 187.87h0.7M377.59 185.65h0.7M375.01 187.83h0.7M396.92 187.91h0.7M394.8 187.17h0.7M320.6 198.68h0.7M342.6 199.14h0.7M350.3 199.16h0.7M355.8 199.22h0.7M383.3 198.86h0.7M389.9 198.64h0.7M300.45 198.04h0.7M295.15 199.17h0.7M311.64 197.82h0.7M310.2 197.96h0.7M321.74 198.97h0.7M324.23 198.43h0.7M330.5 199.8h0.7M329.69 198.43h0.7M351.41 199h0.7M342.46 198.56h0.7M376.5 198.46h0.7M377.87 198.21h0.7M397.11 197.65h0.7M397.22 200.07h0.7M319.5 204.97h0.7M365.7 205.09h0.7M395.4 205h0.7M298.34 204.7h0.7M301.89 205.26h0.7M308.62 204.34h0.7M307.98 206.38h0.7M362.53 205.37h0.7M363.51 204.09h0.7M372.87 203.89h0.7M378.81 204.15h0.7M294.2 211.61h0.7M296.4 211.17h0.7M315.1 211.28h0.7M319.5 211.12h0.7M322.8 211.39h0.7M333.8 211.06h0.7M350.3 211.64h0.7M355.8 210.98h0.7M358 210.94h0.7M365.7 211.36h0.7M371.2 211.54h0.7M375.6 211.16h0.7M376.7 211.04h0.7M300.45 210.62h0.7M297.94 211.72h0.7M319.81 212.07h0.7M323.34 209.91h0.7M335.7 210.29h0.7M333.31 211.74h0.7M348.44 212.29h0.7M351.27 211.63h0.7M359.43 210.33h0.7M361.61 212.57h0.7M381.18 210.81h0.7M381.81 210.71h0.7M391.37 210.22h0.7M391.53 210.32h0.7M289.8 216.21h0.7M381.1 215.73h0.7M296.09 216.62h0.7M298.14 216.01h0.7M305.46 215.67h0.7M309.21 216.31h0.7M323.97 216.44h0.7M322.79 217.27h0.7M392.93 215.96h0.7M397.8 214.63h0.7M297.5 220.25h0.7M300.8 220.1h0.7M305.2 220.74h0.7M323.9 220.34h0.7M325 220.13h0.7M333.8 220.37h0.7M345.9 220.73h0.7M359.1 220.76h0.7M363.5 220.5h0.7M371.2 220.65h0.7M387.7 220.05h0.7M394.3 220.79h0.7M398.7 220.66h0.7M282.91 219.53h0.7M287.51 219.67h0.7M294.93 220.59h0.7M299.81 219.78h0.7M312.5 219.84h0.7M309.81 219.33h0.7M325.06 220.78h0.7M319.08 220.06h0.7M336.92 219.51h0.7M332.21 220.48h0.7M344.77 220.61h0.7M350.07 219.72h0.7M365.35 221.26h0.7M364.15 221.56h0.7M381.11 220.1h0.7M379.12 219.82h0.7M392.06 219.47h0.7M390.04 221.45h0.7M304.1 230.23h0.7M310.7 230.2h0.7" stroke="#26263a" stroke-width="0.65" fill="none" opacity="0.72"/>
<path d="M283.9 160.8h4.2M296.9 160.8h3.4M308.1 160.8h3.4M320 160.8h3.8M332.3 160.8h3.4M344.5 160.8h4.5M360.3 160.8h4.1M375.3 160.8h4.2M392.5 160.8h4.2M284.65 173.33h2.18M284.21 174.18h3.54M297.19 173.11h2.19M297.25 174.17h1.82M309.25 173.45h1.74M308.38 174.31h2.11M320.97 173.43h2.49M320.01 174.42h3.1M332.38 173.43h2.51M333.11 174.12h2.18M344.46 173.46h3.47M345.56 173.98h2.73M360.49 173.11h3.05M361.2 173.99h2.72M375.56 173.15h2.84M375.62 174.17h2.88M392.32 173.17h3.45M393.74 174.22h2.18M284.86 179.34h2.16M361.3 179.43h2.51M376.24 179.43h2.87M284.03 185.99h2.92M284.62 186.77h3.12M284.23 187.6h2.41M297.08 185.71h2.02M297.84 186.75h2.12M297.31 187.65h3.02M308.38 185.93h2.91M308.18 186.84h2.24M308.32 187.72h2.76M320.88 186.09h2.16M320.49 187.05h3.03M319.85 187.59h3.33M332.43 186h2.28M332.89 186.93h2.01M332.79 187.68h2.11M344.75 186.12h3.03M345.56 186.79h2.88M344.39 187.67h3.57M360.92 185.94h2.54M360.59 187h3.58M360.93 187.57h3.35M375.8 185.72h3.53M376.05 186.53h3.09M376.11 187.6h2.68M393.17 185.87h2.84M393.14 187.02h2.74M392.46 187.6h3.43M297.58 198.78h2.15M296.77 199.54h2.96M308.74 198.39h2.15M308.5 199.6h2.47M320.56 198.31h2.89M320.14 199.4h2.67M332.58 198.68h2.04M333.24 199.32h1.92M345.74 198.64h2.23M344.52 199.6h3.88M375.78 198.74h3.09M376.4 199.17h2.67M393.53 198.32h2.79M392.88 199.53h2.53M297.06 205.08h2.88M308.53 205.04h2.12M361.04 204.99h2.87M375.58 204.89h2.51M297.1 210.86h2.94M297.35 211.65h2.3M320.32 211h2.71M319.69 211.63h3.25M332.41 210.66h2.25M332.75 211.45h1.8M345.25 210.88h2.7M345.14 211.59h3.2M361.17 211.19h2.03M360.67 211.52h3.58M375.66 210.76h3.38M375.45 211.78h2.8M392.62 210.62h3.19M393.05 211.5h2.87M297.06 216.19h2.22M307.77 216.22h2.89M319.97 215.83h3.36M393.42 215.94h2.89M285.08 219.89h2.14M284.7 220.11h2.3M283.99 221.2h2.93M297.33 219.7h2.09M297.34 220.52h2.48M297.64 220.94h2.07M309.08 219.63h1.86M308.38 220.14h2.5M308.73 221.35h2.29M320.84 219.36h2.51M320.94 220.58h1.96M320.99 220.99h2M331.95 219.56h2.97M333.43 220.67h1.86M333.12 221.05h2.27M344.75 219.32h3.02M345.19 220.49h2.48M345.8 221.29h2.53M361.06 219.7h3.03M361.55 220.23h2.12M360.38 221.37h2.99M375.36 219.38h3.45M375.98 220.57h2.44M375.45 221.36h3.31M393.12 219.35h2.4M393.45 220.21h2.7M393.7 221.11h2.41" stroke="#3434b4" stroke-width="0.6" fill="none" opacity="0.85"/>
<rect x="283.6" y="144.4" width="4.6" height="97.4" fill="none" stroke="#e6b4d6" stroke-width="0.55"/>
<rect x="296.6" y="144.4" width="3.8" height="97.4" fill="none" stroke="#e6b4d6" stroke-width="0.55"/>
<rect x="307.8" y="144.4" width="3.8" height="97.4" fill="none" stroke="#e6b4d6" stroke-width="0.55"/>
<rect x="319.7" y="144.4" width="4.2" height="97.4" fill="none" stroke="#e6b4d6" stroke-width="0.55"/>
<rect x="332" y="144.4" width="3.8" height="97.4" fill="none" stroke="#e6b4d6" stroke-width="0.55"/>
<rect x="344.2" y="144.4" width="4.9" height="97.4" fill="none" stroke="#e6b4d6" stroke-width="0.55"/>
<rect x="360" y="144.4" width="4.5" height="97.4" fill="none" stroke="#e6b4d6" stroke-width="0.55"/>
<rect x="375" y="144.4" width="4.6" height="97.4" fill="none" stroke="#e6b4d6" stroke-width="0.55"/>
<rect x="392.2" y="144.4" width="4.6" height="97.4" fill="none" stroke="#e6b4d6" stroke-width="0.55"/>
<text x="401" y="253.2" font-size="9" text-anchor="start" fill="#000">40 s</text>
<rect x="456.4" y="242.8" width="128.6" height="0.5" fill="#bdbdbd"/>
<path d="M456.4 242.8v-1.2M472.47 242.8v-1.2M488.55 242.8v-1.2M504.62 242.8v-1.2M520.7 242.8v-1.2M536.77 242.8v-1.2M552.85 242.8v-1.2M568.92 242.8v-1.2M585 242.8v-1.2" stroke="#8c8c8c" stroke-width="0.5" fill="none"/>
<path d="M471.21 160.06h0.7M471.37 160.72h0.7M492.17 159.97h0.7M490.59 159.88h0.7M509.38 160.96h0.7M509.27 160.23h0.7M524.7 161.29h0.7M523.24 160.22h0.7M461.9 173.57h0.7M478.4 174.05h0.7M483.9 173.99h0.7M488.3 174.13h0.7M494.9 173.89h0.7M508.1 174.09h0.7M530.1 173.72h0.7M536.7 173.65h0.7M559.8 174.07h0.7M563.1 173.43h0.7M573 173.87h0.7M577.4 173.78h0.7M461.71 175.1h0.7M459.39 174.61h0.7M473.63 172.62h0.7M467.29 174.63h0.7M478.53 174.45h0.7M473.08 174.7h0.7M482.96 174.63h0.7M483.51 172.79h0.7M490 174.73h0.7M486.57 174.65h0.7M495.5 174.06h0.7M498.74 174.64h0.7M497.44 173.8h0.7M504.06 174.55h0.7M513.22 174.57h0.7M511.06 172.83h0.7M512.57 172.66h0.7M513.34 173.74h0.7M524.71 174.34h0.7M519 174.45h0.7M531.1 174.18h0.7M528.28 174.14h0.7M532.15 173.76h0.7M534.63 174.99h0.7M542.59 172.66h0.7M545.83 174.34h0.7M551.79 173.92h0.7M553.9 174.78h0.7M560.02 172.68h0.7M562.69 173.33h0.7M571.39 174.56h0.7M573.77 174.44h0.7M571.87 174.88h0.7M575.55 172.94h0.7M456.4 177.8h0.7M474 177.43h0.7M489.4 177.53h0.7M492.7 177.4h0.7M494.9 177.43h0.7M516.9 177.14h0.7M519.1 177.5h0.7M522.4 177.42h0.7M525.7 177.7h0.7M569.7 177.75h0.7M481.14 177.39h0.7M485.9 177.73h0.7M499.6 177.9h0.7M503.77 178.61h0.7M504.94 177.69h0.7M508.69 178.57h0.7M522.84 176.65h0.7M522.58 177.06h0.7M525.61 176.86h0.7M525.68 177.47h0.7M545.74 177.23h0.7M547.16 177.77h0.7M555.15 176.35h0.7M551.43 177.84h0.7M563.89 177.06h0.7M560.24 178.06h0.7M460.8 182.8h0.7M464.1 182.76h0.7M466.3 182.96h0.7M471.8 182.42h0.7M474 182.71h0.7M480.6 182.39h0.7M489.4 182.53h0.7M536.7 182.38h0.7M537.8 182.24h0.7M549.9 182.21h0.7M559.8 182.36h0.7M564.2 182.95h0.7M575.2 182.21h0.7M577.4 182.58h0.7M579.6 182.57h0.7M461.31 182.71h0.7M461.46 181.97h0.7M469.4 183.58h0.7M469.34 183.7h0.7M473.61 182.35h0.7M473.92 181.38h0.7M480.91 182.1h0.7M481.6 181.85h0.7M485.12 182.63h0.7M490.96 182.49h0.7M494.13 182.95h0.7M494.95 182.84h0.7M498.73 182.25h0.7M504.08 183.22h0.7M509.87 182.74h0.7M510.68 183.31h0.7M517.38 182.6h0.7M515.11 182.31h0.7M518.92 181.98h0.7M521.95 181.79h0.7M523.99 182.13h0.7M526.88 183.59h0.7M531.91 182h0.7M535.41 183.09h0.7M559.97 183.75h0.7M559.49 182.21h0.7M574.34 182.15h0.7M573.34 183.47h0.7M574.31 182.71h0.7M571.54 181.44h0.7M456.4 185.77h0.7M464.1 186.2h0.7M466.3 185.85h0.7M475.1 185.9h0.7M483.9 186.11h0.7M494.9 185.6h0.7M512.5 186.28h0.7M513.6 185.84h0.7M518 186.12h0.7M520.2 186.16h0.7M522.4 185.63h0.7M525.7 186.36h0.7M526.8 186.19h0.7M540 185.74h0.7M545.5 186.34h0.7M554.3 186.26h0.7M557.6 186.01h0.7M559.8 186.26h0.7M570.8 185.65h0.7M573 186.19h0.7M581.8 186.39h0.7M463.5 185.49h0.7M463.69 185.07h0.7M469.67 185.36h0.7M470.68 187.11h0.7M477.92 184.61h0.7M479.05 187.15h0.7M485.11 187.32h0.7M484.1 185.99h0.7M487.63 186.56h0.7M488.31 187.13h0.7M494.05 185.97h0.7M495.28 185.67h0.7M503.61 186.42h0.7M503.84 186.85h0.7M510.72 184.86h0.7M511.63 184.61h0.7M512.86 185.94h0.7M509.86 186.2h0.7M522.5 186.13h0.7M526.34 186.97h0.7M529.31 186.92h0.7M525.75 186.74h0.7M539.68 186.14h0.7M536.7 186.36h0.7M546.58 185.55h0.7M546.4 185.11h0.7M551.83 185.45h0.7M550.8 186.24h0.7M561.38 185.47h0.7M560.4 186.69h0.7M567.75 185.33h0.7M574.33 187.19h0.7M578.36 186.01h0.7M577.08 186.49h0.7M458.6 198.03h0.7M490.5 198.31h0.7M502.6 198.53h0.7M508.1 198.37h0.7M514.7 198.19h0.7M515.8 197.94h0.7M525.7 198.36h0.7M537.8 197.9h0.7M544.4 198.56h0.7M581.8 198.26h0.7M464.12 197.42h0.7M460.11 197.96h0.7M466.65 197.56h0.7M469.62 197.06h0.7M479.63 198.18h0.7M479.98 198.26h0.7M482.55 198.06h0.7M481.26 197.42h0.7M484.83 197.58h0.7M490.94 197.14h0.7M497.89 198.04h0.7M496.42 198.06h0.7M502.54 197.4h0.7M500.93 199.03h0.7M507.12 199.17h0.7M513.15 197.82h0.7M513.19 197.66h0.7M510.76 199.36h0.7M519.68 199.54h0.7M524.93 197.88h0.7M527.77 198.75h0.7M526.7 197.91h0.7M536.95 197.21h0.7M531.95 196.96h0.7M545.11 198.73h0.7M545.61 197.81h0.7M554.29 197.04h0.7M553.29 197.23h0.7M563.95 196.93h0.7M562.86 198.17h0.7M570.26 196.95h0.7M572.81 197.71h0.7M571.19 198.32h0.7M576.66 198.73h0.7M481.7 202.65h0.7M487.2 202.29h0.7M490.5 202.43h0.7M497.1 202.12h0.7M538.9 202.89h0.7M466.36 201.44h0.7M461.04 202.09h0.7M480.94 201.23h0.7M478.39 202.21h0.7M490.64 201.44h0.7M485.42 202.94h0.7M498.16 203.33h0.7M494.08 202.92h0.7M501.52 202.84h0.7M496.45 202.33h0.7M514.5 203.44h0.7M516.16 202.5h0.7M524.8 203.15h0.7M519.48 201.95h0.7M549.96 201.53h0.7M553.3 201.41h0.7M561.59 202.46h0.7M563.36 202.32h0.7M578.34 201.14h0.7M575.08 201.52h0.7M458.6 212.64h0.7M460.8 212.05h0.7M465.2 212.6h0.7M467.4 212.33h0.7M468.5 212.36h0.7M470.7 211.96h0.7M471.8 212.33h0.7M474 212.48h0.7M477.3 211.91h0.7M478.4 212.5h0.7M480.6 212.41h0.7M482.8 212.67h0.7M485 212.05h0.7M487.2 211.93h0.7M488.3 212.44h0.7M490.5 212.63h0.7M492.7 212.09h0.7M497.1 212.41h0.7M499.3 212.42h0.7M500.4 211.97h0.7M502.6 212.29h0.7M504.8 212.69h0.7M505.9 211.95h0.7M514.7 212.27h0.7M523.5 212.02h0.7M524.6 211.94h0.7M525.7 212.66h0.7M529 212.07h0.7M531.2 212.59h0.7M532.3 212.28h0.7M536.7 212.59h0.7M537.8 212.1h0.7M538.9 212.08h0.7M547.7 212.19h0.7M549.9 212.66h0.7M560.9 212.7h0.7M564.2 212.23h0.7M568.6 212.48h0.7M575.2 211.98h0.7M582.9 212.07h0.7M462.56 213.69h0.7M467.58 213.02h0.7M467.59 211.75h0.7M469.87 212.25h0.7M475.93 211.96h0.7M478.57 212.73h0.7M478.35 211.89h0.7M480.01 211.17h0.7M487.75 213.05h0.7M484.97 212.63h0.7M496.42 213.37h0.7M495.16 212.54h0.7M511.55 211.21h0.7M511.96 212.09h0.7M518.27 211.32h0.7M518.77 211.26h0.7M523.9 212.86h0.7M523.73 210.94h0.7M540.49 213.13h0.7M539.64 211.4h0.7M540.73 211.55h0.7M544.65 213.67h0.7M555.46 211.73h0.7M553.65 211.21h0.7M563.98 212.63h0.7M560.18 212.38h0.7M571.43 211.73h0.7M571.85 212.3h0.7M575.71 211.27h0.7M577.62 211.28h0.7M457.5 216.25h0.7M459.7 216.15h0.7M516.9 215.93h0.7M519.1 216.02h0.7M520.2 215.68h0.7M525.7 216.29h0.7M527.9 215.68h0.7M533.4 216.18h0.7M562 215.9h0.7M576.3 215.79h0.7M462.92 216.23h0.7M462.14 215.55h0.7M469.09 217.37h0.7M468.45 216.03h0.7M475.57 215.04h0.7M473.85 216.43h0.7M490 214.97h0.7M487.84 214.93h0.7M510.04 216.4h0.7M505.56 216.04h0.7M525.73 215.15h0.7M521.18 217.05h0.7M524.35 215.64h0.7M527.17 215.29h0.7M549.57 214.91h0.7M555.07 215.82h0.7M577.21 216.35h0.7M577.83 216.83h0.7M457.5 219.61h0.7M458.6 219.92h0.7M459.7 219.71h0.7M461.9 220.37h0.7M463 220.05h0.7M469.6 219.88h0.7M477.3 220.38h0.7M478.4 219.61h0.7M479.5 220.29h0.7M483.9 220.37h0.7M485 220.36h0.7M488.3 219.67h0.7M489.4 219.76h0.7M491.6 219.95h0.7M492.7 220.27h0.7M494.9 220.18h0.7M504.8 220.04h0.7M507 220.08h0.7M513.6 220.38h0.7M514.7 220.11h0.7M522.4 219.69h0.7M530.1 219.78h0.7M533.4 220.14h0.7M537.8 220.38h0.7M542.2 219.74h0.7M545.5 220.36h0.7M552.1 220.29h0.7M557.6 220h0.7M562 220.05h0.7M563.1 220.19h0.7M564.2 220.15h0.7M565.3 219.94h0.7M567.5 219.84h0.7M571.9 220.2h0.7M575.2 220.33h0.7M576.3 220.03h0.7M578.5 219.68h0.7M579.6 220.25h0.7M580.7 219.93h0.7M582.9 220.28h0.7M462.71 220.16h0.7M462.92 220.97h0.7M469.19 219.88h0.7M468.67 219.92h0.7M474.65 219.31h0.7M479.5 219.06h0.7M480.57 218.77h0.7M480.6 219.02h0.7M485.23 220.7h0.7M492.05 221.22h0.7M491.47 220.72h0.7M495.09 219.63h0.7M498.02 220.05h0.7M499.31 221.4h0.7M507.83 220.37h0.7M509.34 219.86h0.7M516.07 218.91h0.7M512.54 219.64h0.7M524.89 218.8h0.7M522.58 220.47h0.7M525.1 219.2h0.7M526.51 221h0.7M534 218.68h0.7M539.63 221.12h0.7M543.98 219.62h0.7M541.35 219.68h0.7M550.85 221.35h0.7M554.11 220.42h0.7M564.96 218.73h0.7M561.25 221.31h0.7M574.96 220.72h0.7M568.92 219.21h0.7M575.96 220.76h0.7M576.88 220.61h0.7" stroke="#26263a" stroke-width="0.65" fill="none" opacity="0.72"/>
<path d="M469.06 160.84h2.74M488.32 160.59h2.04M507.81 160.91h2.43M521.39 160.8h2.65M462.03 172.91h2.23M461.83 173.67h2.77M462.41 174.77h2.18M469.16 173.11h2.68M469.65 173.57h2.74M469.97 174.37h2.7M475.48 173.01h2.51M475.8 174.1h1.74M475.89 174.42h2.16M480.99 173.1h1.84M481.95 173.5h1.75M481.33 174.64h2.57M488.13 173.01h2.01M487.62 174.01h2.68M488.04 174.7h1.68M494.04 173.05h1.6M494.05 173.76h2.53M494.51 174.61h2.01M499.1 173.19h1.9M499.17 174.05h2.45M499.09 174.51h1.73M507.98 173.23h1.88M507.64 173.83h2.14M507.65 174.66h1.88M513.03 172.97h2.36M513.56 173.66h1.64M512.67 174.77h2.48M521.48 172.93h2.07M520.79 174.03h2.47M520.51 174.82h2.73M526.54 173.27h2.34M526.5 173.59h2.35M526.31 174.61h1.94M535 173.06h2.48M534.6 173.59h2.48M534.88 174.48h1.91M543.9 172.86h2.39M544 173.64h1.72M543.28 174.83h2.78M552.27 173.11h2.71M552.24 173.59h2.78M552.16 174.74h2.47M560.05 173.17h2.03M559.95 173.57h1.72M560.33 174.82h1.72M570.06 173.14h2.49M570.53 173.96h2.33M570.26 174.47h2.68M572.91 173.08h2.66M573.34 173.94h1.68M573.16 174.56h2.77M480.64 176.92h2.47M480.97 177.73h2.23M498.93 177.29h2.56M498.93 177.64h2.13M508.16 177.38h2.5M507.68 178.12h2.41M521 177.25h1.78M520.96 177.73h2.53M525.79 177h2.42M526.56 177.69h2.27M543.45 177.14h2.46M543.76 177.71h2.19M551.44 176.81h2.78M552.48 177.66h1.73M560.7 177.24h2.11M560.63 177.94h2.05M463.06 182.48h1.64M462.68 183.05h1.87M469.76 182.49h1.63M469.42 183.3h2.52M475.03 182.14h2.42M475.97 183.22h1.83M481.32 182.16h1.67M481.16 183.16h2.68M488.52 181.93h1.91M487.69 183.16h2.19M493.5 182.46h2.44M494.41 183.22h2.36M498.45 182.24h2.62M498.68 183.23h1.66M507.91 182.26h2.24M507.87 183.27h1.91M512.67 181.99h2.53M513.46 183.21h1.96M521.09 182.49h2.23M520.8 183.19h2.19M526.22 182.29h2.11M525.59 182.84h2.41M534.12 182.34h3.08M534.92 183.05h3.14M560.54 182.02h1.73M560.11 183.03h2.29M570.02 182.28h1.93M570.29 183.18h1.6M573.25 182.09h2.4M572.94 182.84h2.04M461.91 184.96h2.23M462.98 186.19h1.86M462.43 187.08h1.93M470.04 184.97h1.66M470.29 186h1.62M469.86 187.03h1.77M475.74 185.11h1.97M475.13 185.83h2.49M475.91 186.96h1.99M481.16 184.98h1.82M481.48 186.12h1.75M481.32 186.91h2.14M487.77 185.48h1.94M487.45 185.9h2.47M488.13 187.08h2.09M494.13 185.33h2.3M493.95 185.97h2.29M494.35 186.86h2.14M498.69 184.99h1.65M498.98 186.28h1.68M499.33 186.91h2.07M508.72 185.1h1.58M508.32 186.29h2.38M507.77 186.85h2.22M513.03 185.42h2.61M512.59 185.95h2.63M512.89 186.63h2.16M520.78 185.01h2.26M521.54 186.29h2.14M521.41 186.76h2.51M526.26 185.43h2.42M525.79 185.95h2.71M526.01 187.03h1.86M534.5 185.08h2.62M533.83 186.27h3.34M535.06 186.74h2.87M543.27 184.92h2.32M543.05 186.25h2.46M544.23 186.68h1.85M552.68 185.44h1.9M552.58 186.26h2.05M552.39 186.63h1.75M559.9 185.06h1.98M559.78 186.28h2.52M559.92 186.65h1.71M570.79 185.12h1.87M570.07 186.15h2.27M570.21 186.6h2.28M573.04 185.46h1.71M573.23 185.74h1.78M572.92 187.09h2.25M462.58 197.42h2.39M462.17 198.15h2.78M461.88 199.05h2.41M469.91 197.57h1.82M469.82 198.52h1.8M469.64 199.18h2.54M475.7 197.57h2.13M475.93 198.15h2.01M475.45 198.98h1.77M480.72 197.49h2.33M481.33 198.24h2.01M481.31 198.8h2.39M487.91 197.4h1.79M487.68 198.09h2.69M487.94 199.29h1.84M493.97 197.62h2.38M494.55 198.58h2.07M494.37 199.22h2.1M498.49 197.53h2.58M498.79 198.13h2.78M498.45 198.96h2.16M507.56 197.45h2.1M508.12 198.51h2.37M508.16 199.24h1.66M513.3 197.77h1.63M512.51 198.56h2.53M513.22 198.84h1.58M520.9 197.51h2.23M521.47 198.4h1.85M520.73 198.96h2.73M526.04 197.55h2.58M526.31 198h2.08M526.7 199.35h1.79M534.89 197.35h3.04M534.66 198.45h2.56M534.89 199.2h3.17M543.15 197.73h2.28M543.73 198.15h2.42M543.83 199h1.95M552.27 197.43h1.89M552.19 198.39h1.62M551.73 198.9h2.64M560.28 197.41h2.51M559.99 198.14h2.54M559.75 199.37h2.44M570.37 197.22h2.15M570.73 198.16h1.77M569.93 199.2h2.63M573 197.31h2.5M573.62 198.54h1.83M573.3 199.38h2.04M462.45 202.02h1.71M461.87 202.87h2.43M481.39 202.29h2.13M481.4 202.7h2.7M488.33 201.87h2.33M487.88 202.68h2.76M494.03 202.2h2.18M494.42 202.66h1.79M498.52 202.38h2.34M498.62 203.13h1.72M512.77 201.87h2.55M512.76 203.08h2.21M520.77 202.18h2.79M520.74 202.63h2.6M552.51 202.05h1.81M551.84 202.75h1.9M559.71 202.25h2.43M560.26 202.69h1.6M572.57 202h2.37M572.55 202.64h2.76M462.05 212.02h2.78M462.79 212.87h1.95M469.95 211.94h2.73M469.97 212.59h2.02M475.51 211.87h2.48M475.9 212.78h1.98M481.14 211.62h1.75M481.46 212.74h2.45M488.08 212.09h2.62M488.34 212.58h1.88M493.94 211.72h1.97M493.9 212.53h2.52M512.47 211.69h2.27M512.31 212.72h2.76M520.79 212.15h2.7M521.56 212.68h2.38M526.31 212h1.87M526.25 212.84h1.81M534.76 211.78h2.68M535.01 212.58h2.11M543.35 211.89h2.04M543.39 212.51h2.31M551.98 211.72h1.88M551.33 212.95h2.65M560.87 211.85h1.7M560.54 212.94h2.35M570.81 211.97h1.96M569.64 212.7h2.71M573.24 211.83h1.95M572.78 212.67h1.94M462.84 216.19h1.69M469.83 215.88h2.49M475.62 216.02h2.48M487.64 216.2h2.24M507.86 215.92h2.78M521.48 216.09h2.04M525.98 215.87h1.68M552.76 215.96h1.75M573.38 216.3h2.57M462.34 218.93h1.98M462.64 219.94h1.77M462.41 220.66h1.58M469.59 219.45h2.44M469.8 219.75h1.93M470.3 221.09h2.1M476.22 219.5h1.75M475.1 219.74h2.28M475.81 220.87h2.53M481.15 219.43h1.78M481.12 219.92h2.67M481.02 220.57h1.83M488.29 219h2.45M488.08 220.24h2.59M488.16 221.01h2.39M494.1 219.23h1.95M494.17 220.2h1.88M494.02 220.92h2.24M498.74 219.49h1.87M498.46 220.14h2.5M498.73 220.66h2.67M507.65 218.92h2.46M508.67 219.95h1.66M507.71 220.61h2.43M513.26 218.98h2.1M512.53 220.22h1.94M513.23 220.52h1.97M521.49 219.34h2.57M521.58 219.93h2.37M520.91 220.8h2.01M526.74 219.36h1.89M526.21 219.99h1.63M526.38 220.7h2.07M534.86 219h2.21M534.96 220.23h2.19M534.88 221.05h3.11M543.61 219.38h1.82M543.44 220.27h1.89M544.18 221.07h1.77M551.84 219.32h1.87M551.6 220.12h2.54M552.02 220.72h2.09M559.61 219.04h2.39M559.94 219.76h1.69M560.19 220.71h2.4M570.22 219.31h2.61M569.64 219.97h2.61M570.72 221.08h2.08M572.9 219.47h1.65M573.22 220.27h1.98M573.5 220.84h1.85" stroke="#3434b4" stroke-width="0.6" fill="none" opacity="0.85"/>
<rect x="461.7" y="144.4" width="3.5" height="97.4" fill="none" stroke="#e6b4d6" stroke-width="0.55"/>
<rect x="469.1" y="144.4" width="3.5" height="97.4" fill="none" stroke="#e6b4d6" stroke-width="0.55"/>
<rect x="475" y="144.4" width="3.2" height="97.4" fill="none" stroke="#e6b4d6" stroke-width="0.55"/>
<rect x="480.6" y="144.4" width="3.5" height="97.4" fill="none" stroke="#e6b4d6" stroke-width="0.55"/>
<rect x="487.3" y="144.4" width="3.5" height="97.4" fill="none" stroke="#e6b4d6" stroke-width="0.55"/>
<rect x="493.6" y="144.4" width="3.2" height="97.4" fill="none" stroke="#e6b4d6" stroke-width="0.55"/>
<rect x="498.2" y="144.4" width="3.5" height="97.4" fill="none" stroke="#e6b4d6" stroke-width="0.55"/>
<rect x="507.3" y="144.4" width="3.5" height="97.4" fill="none" stroke="#e6b4d6" stroke-width="0.55"/>
<rect x="512.2" y="144.4" width="3.5" height="97.4" fill="none" stroke="#e6b4d6" stroke-width="0.55"/>
<rect x="520.6" y="144.4" width="3.5" height="97.4" fill="none" stroke="#e6b4d6" stroke-width="0.55"/>
<rect x="525.5" y="144.4" width="3.5" height="97.4" fill="none" stroke="#e6b4d6" stroke-width="0.55"/>
<rect x="533.9" y="144.4" width="4.2" height="97.4" fill="none" stroke="#e6b4d6" stroke-width="0.55"/>
<rect x="543" y="144.4" width="3.5" height="97.4" fill="none" stroke="#e6b4d6" stroke-width="0.55"/>
<rect x="551.4" y="144.4" width="3.5" height="97.4" fill="none" stroke="#e6b4d6" stroke-width="0.55"/>
<rect x="559.5" y="144.4" width="3.5" height="97.4" fill="none" stroke="#e6b4d6" stroke-width="0.55"/>
<rect x="569.6" y="144.4" width="3.5" height="97.4" fill="none" stroke="#e6b4d6" stroke-width="0.55"/>
<rect x="572.4" y="144.4" width="3.6" height="97.4" fill="none" stroke="#e6b4d6" stroke-width="0.55"/>
<text x="579.8" y="253.2" font-size="9" text-anchor="start" fill="#000">40 s</text>
<rect x="99.2" y="552.3" width="128.6" height="0.5" fill="#bdbdbd"/>
<path d="M99.2 552.3v-1.2M115.28 552.3v-1.2M131.35 552.3v-1.2M147.43 552.3v-1.2M163.5 552.3v-1.2M179.57 552.3v-1.2M195.65 552.3v-1.2M211.72 552.3v-1.2M227.8 552.3v-1.2" stroke="#8c8c8c" stroke-width="0.5" fill="none"/>
<path d="M128.9 490.42h0.7M175.1 490.93h0.7M215.8 490.81h0.7M137.7 496.81h0.7M166.75 496.14h0.7M166.88 497.87h0.7M99.2 509.29h0.7M100.3 509.31h0.7M105.8 509.84h0.7M109.1 509.88h0.7M126.7 509.23h0.7M134.4 509.63h0.7M138.8 509.19h0.7M143.2 509.49h0.7M146.5 509.16h0.7M150.9 509.7h0.7M154.2 509.59h0.7M158.6 509.31h0.7M163 509.13h0.7M170.7 509.87h0.7M172.9 509.24h0.7M177.3 509.65h0.7M191.6 509.7h0.7M196 509.19h0.7M201.5 509.83h0.7M207 509.2h0.7M218 509.35h0.7M221.3 509.28h0.7M166.84 510.55h0.7M168.32 509.34h0.7M128.9 515.1h0.7M132.2 515.15h0.7M144.3 514.99h0.7M163 514.93h0.7M170.7 514.76h0.7M175.1 515.27h0.7M185 515.2h0.7M205.9 515.18h0.7M209.2 515.05h0.7M163.11 514.53h0.7M156.88 515.76h0.7M158.63 535.36h0.7M168.08 535.14h0.7M120.1 548.54h0.7M163 548.27h0.7" stroke="#26263a" stroke-width="0.65" fill="none" opacity="0.72"/>
<path d="M159 482.5h7.3M159.86 495.8h4.5M160.11 496.82h4.5M160.63 508.43h4.42M159.82 509.36h4.5M160.43 510.03h4.5M159 509.5h7.3M160.84 515.31h4.18M160.33 534.81h3.57" stroke="#3434b4" stroke-width="0.6" fill="none" opacity="0.85"/>
<rect x="158.7" y="453.8" width="7.7" height="97.5" fill="none" stroke="#e6b4d6" stroke-width="0.55"/>
<text x="221.4" y="564.6" font-size="10" text-anchor="start" fill="#000">40 s</text>
<rect x="277.8" y="552.3" width="128.6" height="0.5" fill="#bdbdbd"/>
<path d="M277.8 552.3v-1.2M293.88 552.3v-1.2M309.95 552.3v-1.2M326.02 552.3v-1.2M342.1 552.3v-1.2M358.18 552.3v-1.2M374.25 552.3v-1.2M390.32 552.3v-1.2M406.4 552.3v-1.2" stroke="#8c8c8c" stroke-width="0.5" fill="none"/>
<path d="M296.1 496.57h0.7M291.57 496.3h0.7M302.36 495.52h0.7M302.34 496.42h0.7M305.44 495.38h0.7M312.62 497.66h0.7M316.22 497.05h0.7M319.13 495.43h0.7M317.98 497.26h0.7M321.97 496.22h0.7M333.56 497.8h0.7M330.91 496.7h0.7M341.11 496.14h0.7M338.89 495.91h0.7M352.78 495.9h0.7M352.27 496.18h0.7M370.25 497.42h0.7M371.2 495.36h0.7M292.16 508.99h0.7M294.15 507.9h0.7M297.12 510.58h0.7M299.6 509.69h0.7M309.7 509.9h0.7M307.39 508.65h0.7M314.57 507.89h0.7M317.24 510.44h0.7M321.68 508.8h0.7M319.4 509.27h0.7M334.11 508.6h0.7M329.06 508.85h0.7M345.48 508.56h0.7M345.66 508.63h0.7M354.77 510.28h0.7M358.61 510.26h0.7M364.06 509.23h0.7M370.3 509.78h0.7M277 509.03h0.7M282.5 509.23h0.7M283.6 509.39h0.7M286.9 509.36h0.7M387.4 509.48h0.7M303.66 521.93h0.7M299.11 521.42h0.7M323.19 523.29h0.7M322.51 522.22h0.7M343.68 521.06h0.7M344.27 521.72h0.7M368.31 520.62h0.7M371.6 523.2h0.7M298.94 503.8h0.7M296.52 502.63h0.7M308.26 502.21h0.7M305.72 503.39h0.7M337.8 503.61h0.7M344.04 502.39h0.7M367.49 504.08h0.7M364.32 503.7h0.7" stroke="#26263a" stroke-width="0.65" fill="none" opacity="0.72"/>
<path d="M289.9 473h3.8M299 473h2.7M307.7 473h3.5M316.8 473h2.7M318.9 473h2.8M328.4 473h3.8M339.6 473h3.8M352.2 473h4.9M366.6 473h5.2M289.8 495.69h3.01M289.91 496.58h2.76M290.73 497.56h2.81M299.73 495.7h2.04M298.85 496.43h2.32M299.79 497.22h1.85M308.22 495.93h1.78M307.95 496.72h2.36M308.56 497.33h2.34M317.15 495.72h2.47M316.96 496.22h2.23M317.03 497.54h1.71M319.4 495.61h2.06M319.23 496.21h2.55M319.1 497.56h2.43M329.29 495.81h2.77M328.97 496.71h2.83M329.03 497.02h2.76M340.43 495.73h2.72M340.45 496.75h2.73M340.06 497.33h2.77M352.39 495.93h4.13M353.42 496.56h3.26M352.96 497.16h3.02M367.22 495.6h4.37M366.57 496.57h4.16M367.64 497.59h3.68M290.87 508.18h2.24M290.29 509.05h2.81M290.37 509.94h3.05M298.81 508.63h2.01M298.8 509.01h2.36M298.65 510.01h2.34M308.1 508.1h2.95M308.22 509.1h1.87M308.58 509.72h1.79M317.2 508.16h2.23M317.08 509.19h1.67M317.34 510.05h2.22M318.45 508.11h2.53M318.79 509.1h1.97M319.4 510.17h2.54M328.5 508.41h2.82M328.59 509h2.48M328.79 509.93h2.55M339.98 508.1h3.34M340.52 509.05h2.66M340.07 510.02h3.01M352.79 508.37h3.67M353.06 509.43h2.68M352.49 510.05h3.39M367.34 508.36h3.52M367.44 508.98h4.22M366.97 509.94h4.08M299.4 522.19h1.44M319.15 522.19h2.08M339.5 522.22h3.09M367.39 522h3.36M298.98 503.23h2.22M308.55 503.18h2.44M339.93 503h2.13M367.2 502.98h3.9" stroke="#3434b4" stroke-width="0.6" fill="none" opacity="0.85"/>
<rect x="289.6" y="453.8" width="4.2" height="97.5" fill="none" stroke="#e6b4d6" stroke-width="0.55"/>
<rect x="298.7" y="453.8" width="3.1" height="97.5" fill="none" stroke="#e6b4d6" stroke-width="0.55"/>
<rect x="307.4" y="453.8" width="3.9" height="97.5" fill="none" stroke="#e6b4d6" stroke-width="0.55"/>
<rect x="316.5" y="453.8" width="3.1" height="97.5" fill="none" stroke="#e6b4d6" stroke-width="0.55"/>
<rect x="318.6" y="453.8" width="3.2" height="97.5" fill="none" stroke="#e6b4d6" stroke-width="0.55"/>
<rect x="328.1" y="453.8" width="4.2" height="97.5" fill="none" stroke="#e6b4d6" stroke-width="0.55"/>
<rect x="339.3" y="453.8" width="4.2" height="97.5" fill="none" stroke="#e6b4d6" stroke-width="0.55"/>
<rect x="351.9" y="453.8" width="5.3" height="97.5" fill="none" stroke="#e6b4d6" stroke-width="0.55"/>
<rect x="366.3" y="453.8" width="5.6" height="97.5" fill="none" stroke="#e6b4d6" stroke-width="0.55"/>
<text x="402" y="564.6" font-size="10" text-anchor="start" fill="#000">40 s</text>
<rect x="456.4" y="552.3" width="128.6" height="0.5" fill="#bdbdbd"/>
<path d="M456.4 552.3v-1.2M472.47 552.3v-1.2M488.55 552.3v-1.2M504.62 552.3v-1.2M520.7 552.3v-1.2M536.77 552.3v-1.2M552.85 552.3v-1.2M568.92 552.3v-1.2M585 552.3v-1.2" stroke="#8c8c8c" stroke-width="0.5" fill="none"/>
<path d="M460.8 483.12h0.7M463 483.05h0.7M472.9 483.25h0.7M481.7 483.27h0.7M486.1 482.51h0.7M501.5 482.56h0.7M504.8 482.83h0.7M509.2 482.93h0.7M515.8 482.58h0.7M518 482.61h0.7M530.1 482.54h0.7M540 482.52h0.7M544.4 482.64h0.7M545.5 482.99h0.7M546.6 482.52h0.7M549.9 483.25h0.7M571.9 482.62h0.7M574.1 482.72h0.7M578.5 483.23h0.7M495.78 484.13h0.7M497.75 481.65h0.7M564.99 481.54h0.7M567.36 482.05h0.7M468.5 496.31h0.7M470.7 496.14h0.7M476.2 496.3h0.7M479.5 496.67h0.7M482.8 496.11h0.7M485 496.1h0.7M486.1 496.83h0.7M491.6 496.4h0.7M497.1 496.42h0.7M500.4 496.43h0.7M503.7 496.75h0.7M515.8 496.5h0.7M516.9 496.72h0.7M524.6 496.16h0.7M525.7 496.29h0.7M529 496.13h0.7M534.5 496.73h0.7M548.8 496.89h0.7M551 496.34h0.7M563.1 496.37h0.7M566.4 496.79h0.7M580.7 496.52h0.7M584 496.21h0.7M485.55 495.55h0.7M486.88 495.52h0.7M491.62 495.87h0.7M496.2 495.98h0.7M564.94 497.77h0.7M563.09 496.1h0.7M574.89 497.64h0.7M569.94 497.38h0.7M458.6 510.11h0.7M461.9 510.16h0.7M464.1 509.66h0.7M465.2 509.94h0.7M468.5 509.81h0.7M470.7 509.56h0.7M475.1 509.91h0.7M476.2 509.93h0.7M477.3 509.71h0.7M485 509.63h0.7M490.5 509.55h0.7M492.7 510.07h0.7M498.2 509.83h0.7M500.4 509.97h0.7M502.6 509.73h0.7M503.7 510.17h0.7M508.1 509.58h0.7M509.2 509.62h0.7M514.7 509.67h0.7M515.8 509.54h0.7M516.9 510.04h0.7M520.2 509.92h0.7M522.4 510.04h0.7M525.7 509.95h0.7M530.1 510.13h0.7M531.2 510.28h0.7M534.5 509.99h0.7M536.7 509.54h0.7M540 510.12h0.7M542.2 510.12h0.7M546.6 509.54h0.7M553.2 510.01h0.7M554.3 510.24h0.7M555.4 509.99h0.7M557.6 509.61h0.7M565.3 509.64h0.7M567.5 509.81h0.7M570.8 510.18h0.7M571.9 510.21h0.7M573 509.51h0.7M574.1 510.01h0.7M578.5 509.75h0.7M580.7 509.54h0.7M581.8 509.65h0.7M582.9 509.78h0.7M584 509.97h0.7M488.29 510.71h0.7M482.97 510.43h0.7M494.09 508.79h0.7M487.86 510.57h0.7M566.48 509.24h0.7M564.91 510.46h0.7M566.99 508.83h0.7M574.66 510.97h0.7M469.6 522.54h0.7M478.4 522.57h0.7M485 522.49h0.7M494.9 522.59h0.7M496 522.7h0.7M501.5 522.81h0.7M511.4 522.91h0.7M522.4 522.75h0.7M552.1 522.54h0.7M569.7 523.13h0.7M576.3 522.82h0.7M579.6 523.07h0.7M580.7 523.12h0.7M565.74 524.19h0.7M574.38 523.46h0.7M463 534.6h0.7M464.1 534.67h0.7M467.4 534.75h0.7M469.6 534.28h0.7M472.9 534.59h0.7M476.2 534.5h0.7M487.2 534.59h0.7M491.6 534.19h0.7M494.9 534.3h0.7M497.1 534.68h0.7M499.3 534.11h0.7M509.2 534.25h0.7M513.6 534.63h0.7M519.1 534.58h0.7M525.7 534.43h0.7M530.1 534.42h0.7M531.2 534.58h0.7M534.5 534.17h0.7M537.8 534.5h0.7M544.4 534.3h0.7M548.8 534.48h0.7M549.9 534.38h0.7M551 534.35h0.7M552.1 534.15h0.7M485.56 535.21h0.7M485.59 533.48h0.7M494.9 545.12h0.7M538.9 545.33h0.7" stroke="#26263a" stroke-width="0.65" fill="none" opacity="0.72"/>
<path d="M491.16 482.92h3.54M567.61 482.7h4.5M485.36 495.64h1.61M485.19 496.56h1.03M485.11 497.12h1.37M490.21 495.61h4.12M490.7 496.42h3.31M491 497.2h4.03M565.22 495.78h2.44M565.55 496.76h2.28M565.77 497.21h1.7M568.5 495.92h3.64M568.08 496.61h3.57M568.67 497.53h3.17M484.92 509.09h1.51M484.89 509.95h1.63M485.06 510.64h1.29M490.62 509.34h3.53M491.19 509.98h3.07M490.9 510.97h2.83M565.37 509.24h2.46M566.04 509.85h2.1M565.45 510.61h2.36M568.52 509.21h3.33M568.2 510.03h4.38M567.64 510.87h4.14M567.76 522.33h4.5M568.62 522.94h3.47M485.13 534.57h1.1" stroke="#3434b4" stroke-width="0.6" fill="none" opacity="0.85"/>
<rect x="484.8" y="453.8" width="2.2" height="97.5" fill="none" stroke="#e6b4d6" stroke-width="0.55"/>
<rect x="490.1" y="453.8" width="5.3" height="97.5" fill="none" stroke="#e6b4d6" stroke-width="0.55"/>
<rect x="565.1" y="453.8" width="3.1" height="97.5" fill="none" stroke="#e6b4d6" stroke-width="0.55"/>
<rect x="566.8" y="453.8" width="6.7" height="97.5" fill="none" stroke="#e6b4d6" stroke-width="0.55"/>
<text x="580.9" y="564.6" font-size="10" text-anchor="start" fill="#000">40 s</text>
<rect x="99.1" y="256.5" width="122.7" height="53.8" fill="#000"/>
<polygon points="99.1,280.46 99.4,280.11 99.7,280.54 100,280.6 100.3,280.21 100.6,280.56 100.9,280.17 101.2,279.27 101.5,280.62 101.8,280.23 102.1,280.56 102.4,279.88 102.7,280.61 103,280.16 103.3,279.78 103.6,280.49 103.9,279.92 104.2,279.9 104.5,280.21 104.8,280.52 105.1,280.66 105.4,280.48 105.7,280.26 106,280.45 106.3,280.13 106.6,279.37 106.9,279.82 107.2,280.59 107.5,280.25 107.8,280.6 108.1,280.3 108.4,280.08 108.7,280.28 109,280.09 109.3,280.37 109.6,279.84 109.9,279.87 110.2,280.47 110.5,279.54 110.8,280.46 111.1,280.3 111.4,280.35 111.7,279.82 112,280.62 112.3,280.16 112.6,280.46 112.9,280.18 113.2,280.23 113.5,280.66 113.8,280.56 114.1,280.66 114.4,280.41 114.7,280.63 115,279.99 115.3,280.04 115.6,280.61 115.9,280.52 116.2,280.48 116.5,280.49 116.8,280.38 117.1,279.91 117.4,279.93 117.7,280.44 118,280.08 118.3,280.66 118.6,280.46 118.9,280.21 119.2,277.87 119.5,280 119.8,280.66 120.1,280.64 120.4,276.21 120.7,278.57 121,276.38 121.3,277.41 121.6,277.48 121.9,277.87 122.2,280.36 122.5,277.01 122.8,277.13 123.1,280.26 123.4,280.42 123.7,280.52 124,276.18 124.3,280.66 124.6,271.59 124.9,271.51 125.2,274.82 125.5,272.61 125.8,280.13 126.1,279.94 126.4,272.29 126.7,274.94 127,279.99 127.3,274.87 127.6,280.6 127.9,272.71 128.2,280.27 128.5,275.84 128.8,275.59 129.1,275.85 129.4,280.45 129.7,272.74 130,280.5 130.3,273.24 130.6,272.36 130.9,280.66 131.2,279.95 131.5,280.07 131.8,280.65 132.1,280.55 132.4,279.62 132.7,279.91 133,279.8 133.3,278.32 133.6,276.85 133.9,280.4 134.2,280.6 134.5,280.29 134.8,280.31 135.1,280.66 135.4,279.54 135.7,279.63 136,277.1 136.3,279.75 136.6,279.86 136.9,279.03 137.2,278.48 137.5,279.83 137.8,277.54 138.1,279.83 138.4,280.39 138.7,280.54 139,280.23 139.3,280.62 139.6,280.05 139.9,280.15 140.2,280.6 140.5,280.11 140.8,280.55 141.1,280.26 141.4,280.29 141.7,280.5 142,280.15 142.3,280.61 142.6,278.41 142.9,280.32 143.2,278.66 143.5,278.5 143.8,280.68 144.1,277.79 144.4,280.08 144.7,280.16 145,279.43 145.3,280.32 145.6,278.46 145.9,278.35 146.2,278.77 146.5,280.21 146.8,280.03 147.1,279.94 147.4,280.08 147.7,280.61 148,280.61 148.3,280.39 148.6,279.78 148.9,280.13 149.2,280.17 149.5,279.42 149.8,280.34 150.1,280.41 150.4,280.25 150.7,279.93 151,280.7 151.3,280.69 151.6,280.29 151.9,280.28 152.2,279.68 152.5,280.46 152.8,280.46 153.1,280.62 153.4,280.61 153.7,280.34 154,280.38 154.3,280.69 154.6,280.4 154.9,280.47 155.2,280.5 155.5,280.29 155.8,280.2 156.1,280.26 156.4,280.64 156.7,280.09 157,280.06 157.3,280.57 157.6,275.8 157.9,276.64 158.2,277.77 158.5,280.02 158.8,280.58 159.1,278.59 159.4,279.22 159.7,280.65 160,280.35 160.3,279.44 160.6,276.21 160.9,277.37 161.2,278.23 161.5,280.23 161.8,279.95 162.1,280.32 162.4,276.19 162.7,276.52 163,278.6 163.3,280.55 163.6,277.47 163.9,277.51 164.2,280.67 164.5,280.32 164.8,277.29 165.1,280.32 165.4,275.86 165.7,280.04 166,278.61 166.3,276.48 166.6,275.78 166.9,280.23 167.2,277.51 167.5,280.51 167.8,278.21 168.1,280.65 168.4,280.42 168.7,280.3 169,280.17 169.3,280.27 169.6,280.28 169.9,280.45 170.2,280.2 170.5,275.93 170.8,280.02 171.1,280.4 171.4,280.55 171.7,280.18 172,276.5 172.3,280.64 172.6,276.56 172.9,275.24 173.2,280.21 173.5,280.25 173.8,279.82 174.1,280.49 174.4,280.33 174.7,274.61 175,280.39 175.3,277.13 175.6,280.05 175.9,276.23 176.2,280.37 176.5,275.66 176.8,276.18 177.1,280.07 177.4,279.68 177.7,280.7 178,276.83 178.3,280.39 178.6,273.79 178.9,276.69 179.2,275.37 179.5,279.05 179.8,280.64 180.1,277.13 180.4,280.35 180.7,276.08 181,280.08 181.3,277.01 181.6,276.7 181.9,280.14 182.2,280.47 182.5,277.25 182.8,278.06 183.1,280.62 183.4,274.91 183.7,274.12 184,273.98 184.3,276.75 184.6,279.75 184.9,280.23 185.2,279.88 185.5,275.14 185.8,280.08 186.1,280.36 186.4,280.69 186.7,279.86 187,278.68 187.3,280.37 187.6,280.4 187.9,279.2 188.2,280.13 188.5,280.37 188.8,279.26 189.1,279.59 189.4,277.76 189.7,280.47 190,280.13 190.3,280.66 190.6,279.79 190.9,280.66 191.2,277.24 191.5,279.9 191.8,280.46 192.1,279.1 192.4,280.6 192.7,279.59 193,280.7 193.3,280.09 193.6,280.54 193.9,279.95 194.2,280.04 194.5,280.29 194.8,279.84 195.1,280.02 195.4,280.48 195.7,280.47 196,279.78 196.3,280.46 196.6,279.9 196.9,280.56 197.2,280.07 197.5,278.62 197.8,280.18 198.1,280.16 198.4,279.94 198.7,280.35 199,280.65 199.3,280.5 199.6,279.91 199.9,280.49 200.2,279.59 200.5,280.31 200.8,279.95 201.1,280.12 201.4,279.9 201.7,280.47 202,280.2 202.3,280.61 202.6,279.98 202.9,280.15 203.2,279.84 203.5,280.48 203.8,280.08 204.1,279.61 204.4,280.12 204.7,280.1 205,280.57 205.3,280.26 205.6,279.75 205.9,280.29 206.2,279.37 206.5,280.2 206.8,279.79 207.1,278.61 207.4,280.52 207.7,280.51 208,280.06 208.3,280.3 208.6,280.08 208.9,279.96 209.2,280.68 209.5,280.59 209.8,280.55 210.1,280.28 210.4,278.73 210.7,278.85 211,280.23 211.3,280.63 211.6,279.53 211.9,280.27 212.2,280.22 212.5,279.85 212.8,280.6 213.1,280.44 213.4,280.42 213.7,280.31 214,279.84 214.3,280.22 214.6,280.06 214.9,280.06 215.2,279.93 215.5,280.6 215.8,279.94 216.1,280.53 216.4,280.42 216.7,280.32 217,280.69 217.3,279.73 217.6,280.32 217.9,279.8 218.2,279.89 218.5,280.38 218.8,280.58 219.1,280.04 219.4,280.58 219.7,280.41 220,280.48 220.3,280.07 220.6,280.66 220.9,280.22 221.2,280.56 221.5,279.83 221.8,280.43 221.8,288 221.5,288.05 221.2,287.53 220.9,287.5 220.6,287.88 220.3,287.77 220,287.74 219.7,287.6 219.4,287.48 219.1,288.03 218.8,288.32 218.5,287.58 218.2,287.51 217.9,288.37 217.6,287.86 217.3,288.01 217,287.83 216.7,287.69 216.4,287.7 216.1,287.8 215.8,287.86 215.5,287.52 215.2,287.51 214.9,287.33 214.6,287.47 214.3,287.71 214,287.58 213.7,288.23 213.4,288.72 213.1,287.59 212.8,287.85 212.5,288.03 212.2,287.63 211.9,287.41 211.6,288.54 211.3,287.96 211,289.93 210.7,289.57 210.4,287.72 210.1,287.97 209.8,287.35 209.5,287.77 209.2,287.71 208.9,287.55 208.6,287.79 208.3,287.5 208,287.37 207.7,287.58 207.4,287.32 207.1,288.68 206.8,287.83 206.5,287.98 206.2,290.35 205.9,287.81 205.6,288.26 205.3,287.51 205,287.6 204.7,287.66 204.4,287.65 204.1,288.12 203.8,288.86 203.5,287.62 203.2,287.5 202.9,287.58 202.6,287.42 202.3,288 202,287.38 201.7,287.39 201.4,287.31 201.1,287.86 200.8,289.29 200.5,287.49 200.2,287.7 199.9,287.56 199.6,287.63 199.3,287.32 199,289.64 198.7,287.54 198.4,287.54 198.1,290.22 197.8,288 197.5,288.57 197.2,287.43 196.9,287.62 196.6,288.62 196.3,287.64 196,287.78 195.7,287.84 195.4,287.64 195.1,287.92 194.8,287.32 194.5,288.45 194.2,287.68 193.9,287.7 193.6,287.64 193.3,288.06 193,287.58 192.7,287.5 192.4,287.55 192.1,289.92 191.8,288.01 191.5,287.51 191.2,292.43 190.9,288.37 190.6,290.83 190.3,287.38 190,287.36 189.7,287.54 189.4,289.11 189.1,291.88 188.8,292.22 188.5,287.31 188.2,287.76 187.9,290.37 187.6,287.8 187.3,287.58 187,289.06 186.7,287.58 186.4,287.48 186.1,287.71 185.8,288.05 185.5,292.26 185.2,287.32 184.9,287.37 184.6,287.84 184.3,293.18 184,294.1 183.7,292.08 183.4,295.83 183.1,287.32 182.8,295.83 182.5,291.77 182.2,287.89 181.9,287.49 181.6,293.91 181.3,292.79 181,287.61 180.7,296.94 180.4,287.6 180.1,292.38 179.8,287.78 179.5,287.32 179.2,293.67 178.9,294.49 178.6,296.17 178.3,288.01 178,296.98 177.7,288.17 177.4,287.3 177.1,287.39 176.8,294.34 176.5,291.89 176.2,287.36 175.9,293.03 175.6,288.68 175.3,293.1 175,287.89 174.7,290.75 174.4,288.15 174.1,287.37 173.8,288.35 173.5,287.67 173.2,287.65 172.9,292.33 172.6,290.98 172.3,287.99 172,290.9 171.7,287.5 171.4,287.62 171.1,287.66 170.8,288.14 170.5,293.57 170.2,287.39 169.9,288.57 169.6,287.31 169.3,287.47 169,287.47 168.7,287.54 168.4,287.58 168.1,287.35 167.8,292.71 167.5,287.52 167.2,292.09 166.9,287.46 166.6,292.02 166.3,289.1 166,290.04 165.7,288.12 165.4,289.65 165.1,287.31 164.8,290.58 164.5,287.42 164.2,288.03 163.9,292.22 163.6,290.08 163.3,287.32 163,291.65 162.7,290.6 162.4,291.32 162.1,287.81 161.8,287.6 161.5,287.84 161.2,288.75 160.9,291.43 160.6,289.93 160.3,288.01 160,287.41 159.7,287.6 159.4,288 159.1,289.02 158.8,287.5 158.5,287.42 158.2,291.37 157.9,288.68 157.6,290.1 157.3,287.82 157,287.97 156.7,287.56 156.4,288.51 156.1,288.03 155.8,287.94 155.5,287.4 155.2,288.28 154.9,287.9 154.6,288.3 154.3,287.58 154,288.01 153.7,287.68 153.4,287.5 153.1,287.63 152.8,288.28 152.5,287.74 152.2,287.42 151.9,288.31 151.6,287.82 151.3,287.63 151,287.89 150.7,287.8 150.4,287.45 150.1,287.7 149.8,287.88 149.5,290.35 149.2,287.85 148.9,287.62 148.6,288.03 148.3,288.01 148,287.9 147.7,287.86 147.4,287.33 147.1,289.22 146.8,290.27 146.5,288.27 146.2,288.33 145.9,290.24 145.6,289.38 145.3,287.6 145,290.84 144.7,287.46 144.4,287.44 144.1,289.11 143.8,287.43 143.5,289.75 143.2,289.08 142.9,287.44 142.6,290.93 142.3,287.85 142,287.67 141.7,287.34 141.4,288.45 141.1,287.4 140.8,287.32 140.5,287.56 140.2,287.77 139.9,287.41 139.6,288.36 139.3,288.02 139,287.4 138.7,287.55 138.4,287.79 138.1,287.98 137.8,290.32 137.5,290.01 137.2,290.55 136.9,291.06 136.6,288.36 136.3,288.38 136,288.34 135.7,289.52 135.4,290.86 135.1,287.49 134.8,287.55 134.5,287.97 134.2,287.55 133.9,287.8 133.6,290.9 133.3,288.57 133,287.5 132.7,288.36 132.4,290.2 132.1,287.95 131.8,287.93 131.5,287.51 131.2,287.92 130.9,287.55 130.6,292.77 130.3,292.44 130,287.41 129.7,292.19 129.4,287.47 129.1,291.34 128.8,292.23 128.5,291.74 128.2,287.8 127.9,292.3 127.6,288.39 127.3,294.09 127,287.56 126.7,292.12 126.4,290.33 126.1,287.85 125.8,287.37 125.5,292.23 125.2,292.72 124.9,290.75 124.6,293.99 124.3,287.45 124,289.6 123.7,287.76 123.4,287.84 123.1,287.75 122.8,289.39 122.5,291.91 122.2,288.35 121.9,291.57 121.6,289.81 121.3,292.25 121,288.93 120.7,289.5 120.4,290.07 120.1,287.41 119.8,288.17 119.5,287.66 119.2,289.85 118.9,288.15 118.6,287.91 118.3,288.5 118,287.91 117.7,287.36 117.4,287.49 117.1,287.42 116.8,287.69 116.5,287.87 116.2,287.8 115.9,287.68 115.6,287.62 115.3,287.51 115,288.01 114.7,287.44 114.4,287.59 114.1,287.36 113.8,288.74 113.5,287.68 113.2,288.56 112.9,287.91 112.6,287.36 112.3,287.76 112,287.78 111.7,287.31 111.4,287.75 111.1,287.98 110.8,287.52 110.5,288.13 110.2,287.39 109.9,287.6 109.6,287.55 109.3,287.32 109,287.69 108.7,287.59 108.4,287.76 108.1,288.35 107.8,287.5 107.5,287.74 107.2,287.59 106.9,287.34 106.6,287.63 106.3,288.06 106,287.73 105.7,287.42 105.4,287.57 105.1,287.63 104.8,288.17 104.5,287.83 104.2,287.45 103.9,288.59 103.6,287.57 103.3,287.57 103,287.62 102.7,287.64 102.4,288.23 102.1,287.72 101.8,287.49 101.5,287.36 101.2,288.17 100.9,287.42 100.6,287.53 100.3,287.96 100,288.14 99.7,287.49 99.4,287.77 99.1,287.32" fill="#00fb00"/>
<rect x="277.8" y="256.5" width="122.5" height="53.8" fill="#000"/>
<rect x="328" y="277" width="23" height="0.5" fill="#777"/>
<rect x="328" y="289.4" width="23" height="0.5" fill="#777"/>
<polygon points="277.8,279.99 278.1,279.95 278.4,279.64 278.7,279.86 279,279.96 279.3,279.52 279.6,280.19 279.9,280.19 280.2,279.63 280.5,279.83 280.8,279.98 281.1,280.05 281.4,280.03 281.7,280.16 282,280.11 282.3,280.07 282.6,279.91 282.9,279.88 283.2,280.17 283.5,279.67 283.8,279.98 284.1,280.07 284.4,279.36 284.7,280.08 285,279.57 285.3,279.69 285.6,280.09 285.9,280.14 286.2,280.09 286.5,280.17 286.8,279.34 287.1,279.88 287.4,279.33 287.7,279.88 288,279.79 288.3,280.15 288.6,280.16 288.9,279.95 289.2,279.68 289.5,280.08 289.8,280.2 290.1,279.35 290.4,279.43 290.7,280.14 291,279.43 291.3,280.06 291.6,280.11 291.9,280.1 292.2,279.98 292.5,280.05 292.8,279.85 293.1,279.92 293.4,280.16 293.7,279.98 294,279.48 294.3,280.11 294.6,280.17 294.9,279.97 295.2,279.25 295.5,277.76 295.8,274.4 296.1,270.71 296.4,267.75 296.7,266.85 297,269.67 297.3,273.05 297.6,277.79 297.9,280.13 298.2,278.48 298.5,280.01 298.8,280.14 299.1,279.9 299.4,280.07 299.7,279.81 300,280.1 300.3,279.94 300.6,279.77 300.9,279.89 301.2,280.18 301.5,280.17 301.8,279.87 302.1,280.19 302.4,280.01 302.7,280.12 303,279.46 303.3,280.05 303.6,280.07 303.9,279.91 304.2,279.8 304.5,280.13 304.8,279.88 305.1,279.66 305.4,279.84 305.7,279.93 306,279.94 306.3,279.71 306.6,274.4 306.9,270.71 307.2,267.75 307.5,266.85 307.8,269.67 308.1,273.05 308.4,277.79 308.7,279.71 309,278.99 309.3,279.98 309.6,279.95 309.9,279.42 310.2,279.71 310.5,280.17 310.8,279.78 311.1,280.01 311.4,279.91 311.7,280.04 312,280.06 312.3,280.04 312.6,280.19 312.9,280.07 313.2,280.14 313.5,280.18 313.8,280.06 314.1,279.66 314.4,279.99 314.7,279.92 315,280.06 315.3,279.83 315.6,279.72 315.9,279.68 316.2,279.57 316.5,279.39 316.8,274.4 317.1,270.71 317.4,267.75 317.7,266.85 318,269.67 318.3,273.05 318.6,277.79 318.9,280.19 319.2,279.68 319.5,279.92 319.8,280.07 320.1,279.48 320.4,280.03 320.7,280.14 321,280.12 321.3,279.94 321.6,279.49 321.9,280.15 322.2,279.84 322.5,279.43 322.8,279.8 323.1,280.12 323.4,279.8 323.7,280.19 324,279.59 324.3,280.14 324.6,279.72 324.9,279.84 325.2,279.82 325.5,279.76 325.8,279.64 326.1,275.94 326.4,271.84 326.7,268.68 327,266 327.3,268.68 327.6,271.84 327.9,275.94 328.2,279.53 328.5,279.67 328.8,280.17 329.1,279.99 329.4,279.8 329.7,280.09 330,279.72 330.3,280.16 330.6,279.63 330.9,279.45 331.2,279.96 331.5,279.59 331.8,279.92 332.1,279.93 332.4,279.95 332.7,279.99 333,279.87 333.3,280.08 333.6,279.52 333.9,279.68 334.2,280 334.5,279.71 334.8,279.63 335.1,275.94 335.4,271.84 335.7,268.68 336,266 336.3,268.68 336.6,271.84 336.9,275.94 337.2,278.53 337.5,279.53 337.8,279.56 338.1,279.63 338.4,280.19 338.7,279.78 339,279.83 339.3,279.98 339.6,279.87 339.9,279.96 340.2,279.97 340.5,280.15 340.8,280.14 341.1,280.08 341.4,280.13 341.7,280.13 342,279.34 342.3,280.09 342.6,279.56 342.9,279.96 343.2,279.87 343.5,279.61 343.8,280.07 344.1,278.66 344.4,277.79 344.7,273.05 345,269.67 345.3,266.85 345.6,267.75 345.9,270.71 346.2,274.4 346.5,277.96 346.8,279.72 347.1,280.13 347.4,279.67 347.7,280.06 348,279.84 348.3,279.99 348.6,280.1 348.9,279.79 349.2,279.96 349.5,280.17 349.8,280.01 350.1,280.08 350.4,279.73 350.7,279.99 351,280.05 351.3,280.11 351.6,280.05 351.9,280.04 352.2,280.06 352.5,280.06 352.8,280.19 353.1,279.6 353.4,279.43 353.7,280.1 354,277.79 354.3,273.05 354.6,269.67 354.9,266.85 355.2,267.75 355.5,270.71 355.8,274.4 356.1,279.36 356.4,278 356.7,278.89 357,280.14 357.3,279.67 357.6,280.11 357.9,280.06 358.2,279.97 358.5,280.15 358.8,280.16 359.1,279.81 359.4,280 359.7,280 360,280.06 360.3,279.95 360.6,279.92 360.9,280.01 361.2,280.11 361.5,280.11 361.8,279.97 362.1,280.02 362.4,280.16 362.7,279.84 363,280.05 363.3,277.58 363.6,277.79 363.9,273.05 364.2,269.67 364.5,266.85 364.8,267.75 365.1,270.71 365.4,274.4 365.7,279.61 366,278.52 366.3,279.51 366.6,279.62 366.9,280.18 367.2,279.97 367.5,279.9 367.8,280.01 368.1,279.69 368.4,280.02 368.7,280.15 369,280.03 369.3,279.81 369.6,279.91 369.9,279.88 370.2,280.1 370.5,279.68 370.8,280.13 371.1,280.16 371.4,279.63 371.7,280.19 372,280.07 372.3,280.15 372.6,279.29 372.9,279.94 373.2,279.54 373.5,279.98 373.8,280.09 374.1,280.16 374.4,279.5 374.7,280.1 375,279.42 375.3,279.87 375.6,275.94 375.9,271.84 376.2,268.68 376.5,266 376.8,268.68 377.1,271.84 377.4,275.94 377.7,278.02 378,278.15 378.3,278.42 378.6,279.98 378.9,280 379.2,279.93 379.5,279.32 379.8,280.09 380.1,280.04 380.4,280.01 380.7,279.9 381,279.38 381.3,280.03 381.6,279.51 381.9,279.97 382.2,280.17 382.5,280.12 382.8,280.03 383.1,280.2 383.4,280.14 383.7,280.11 384,279.39 384.3,280.13 384.6,279.95 384.9,280.03 385.2,280.19 385.5,280.19 385.8,280.09 386.1,280.01 386.4,280.06 386.7,279.56 387,277.79 387.3,273.05 387.6,269.67 387.9,266.85 388.2,267.75 388.5,270.71 388.8,274.4 389.1,279.92 389.4,279.44 389.7,279.88 390,279.8 390.3,279.96 390.6,279.95 390.9,279.85 391.2,279.83 391.5,279.92 391.8,279.97 392.1,280.19 392.4,279.81 392.7,279.95 393,280.2 393.3,279.77 393.6,280.08 393.9,280.12 394.2,280.02 394.5,279.92 394.8,279.9 395.1,280.09 395.4,280.04 395.7,279.88 396,280.14 396.3,279.54 396.6,280.18 396.9,280.2 397.2,280.16 397.5,279.77 397.8,280.13 398.1,280.16 398.4,279.91 398.7,279.71 399,280.06 399.3,279.9 399.6,279.57 399.9,280.13 400.2,280.09 400.2,287.52 399.9,287.06 399.6,287.31 399.3,287.11 399,287.06 398.7,286.87 398.4,287.2 398.1,287.22 397.8,287 397.5,286.98 397.2,286.87 396.9,287.28 396.6,287.05 396.3,287.34 396,286.93 395.7,287.01 395.4,287.02 395.1,287.52 394.8,286.87 394.5,286.91 394.2,286.82 393.9,286.93 393.6,286.86 393.3,286.91 393,286.91 392.7,287.41 392.4,286.92 392.1,287.16 391.8,286.84 391.5,286.84 391.2,287.32 390.9,286.8 390.6,287.1 390.3,287.41 390,287.03 389.7,286.92 389.4,286.94 389.1,288.36 388.8,289.22 388.5,291.54 388.2,293.4 387.9,293.96 387.6,292.2 387.3,290.07 387,287.74 386.7,286.88 386.4,286.91 386.1,286.93 385.8,287.33 385.5,286.87 385.2,287.49 384.9,287.01 384.6,286.86 384.3,286.89 384,286.95 383.7,287.1 383.4,287.04 383.1,287.05 382.8,287.18 382.5,286.8 382.2,287.04 381.9,287.1 381.6,287.59 381.3,287.24 381,286.99 380.7,287.09 380.4,286.95 380.1,286.88 379.8,286.94 379.5,287.23 379.2,286.84 378.9,287.26 378.6,287.09 378.3,287.26 378,287.65 377.7,287.19 377.4,288.25 377.1,290.83 376.8,292.82 376.5,294.5 376.2,292.82 375.9,290.83 375.6,288.25 375.3,286.96 375,287.56 374.7,287.49 374.4,287.1 374.1,287.96 373.8,287.23 373.5,287.06 373.2,287.4 372.9,287.47 372.6,286.87 372.3,287.53 372,287.01 371.7,286.82 371.4,286.96 371.1,286.8 370.8,287.04 370.5,287.01 370.2,287.34 369.9,286.85 369.6,286.98 369.3,286.81 369,287.09 368.7,287.26 368.4,287.17 368.1,286.9 367.8,287.09 367.5,287.03 367.2,286.97 366.9,287.4 366.6,287.5 366.3,289.36 366,286.89 365.7,287.86 365.4,289.22 365.1,291.54 364.8,293.4 364.5,293.96 364.2,292.2 363.9,290.07 363.6,287.09 363.3,287.46 363,286.91 362.7,287.07 362.4,286.91 362.1,287.23 361.8,286.83 361.5,287.08 361.2,286.91 360.9,286.98 360.6,286.94 360.3,287.26 360,287.19 359.7,287.48 359.4,287.05 359.1,286.83 358.8,287.17 358.5,286.81 358.2,287.11 357.9,287.02 357.6,287.01 357.3,287.25 357,287.14 356.7,289.15 356.4,288.94 356.1,289.25 355.8,289.22 355.5,291.54 355.2,293.4 354.9,293.96 354.6,292.2 354.3,290.07 354,288.45 353.7,288.51 353.4,287.15 353.1,286.94 352.8,287.38 352.5,287.05 352.2,286.83 351.9,287.02 351.6,286.92 351.3,286.87 351,287.14 350.7,286.98 350.4,287.18 350.1,286.85 349.8,286.89 349.5,287.46 349.2,287.28 348.9,287.04 348.6,286.85 348.3,287.49 348,287 347.7,287.02 347.4,287.23 347.1,287.12 346.8,287.25 346.5,288.49 346.2,289.22 345.9,291.54 345.6,293.4 345.3,293.96 345,292.2 344.7,290.07 344.4,287.09 344.1,288.52 343.8,287.26 343.5,287.01 343.2,286.83 342.9,286.96 342.6,286.9 342.3,286.85 342,286.96 341.7,287.04 341.4,287.41 341.1,286.88 340.8,286.84 340.5,286.81 340.2,287 339.9,287.29 339.6,286.85 339.3,287.37 339,287.11 338.7,286.88 338.4,287.32 338.1,286.82 337.8,286.85 337.5,287.24 337.2,288 336.9,288.25 336.6,290.83 336.3,292.82 336,294.5 335.7,292.82 335.4,290.83 335.1,288.25 334.8,286.96 334.5,287.53 334.2,286.82 333.9,287.16 333.6,286.9 333.3,287 333,287.01 332.7,287.06 332.4,286.9 332.1,286.97 331.8,286.93 331.5,287.02 331.2,287.13 330.9,286.87 330.6,286.85 330.3,287.09 330,286.84 329.7,287.12 329.4,286.93 329.1,287.51 328.8,286.88 328.5,287.91 328.2,287.32 327.9,289.18 327.6,290.83 327.3,292.82 327,294.5 326.7,292.82 326.4,290.83 326.1,288.25 325.8,287.03 325.5,286.85 325.2,287.06 324.9,286.88 324.6,286.82 324.3,287.15 324,286.92 323.7,286.85 323.4,287.1 323.1,286.92 322.8,287.05 322.5,286.85 322.2,287.28 321.9,287.04 321.6,287.34 321.3,287.14 321,286.87 320.7,287.31 320.4,287.32 320.1,287.21 319.8,287.15 319.5,286.93 319.2,287.48 318.9,286.85 318.6,287.8 318.3,290.07 318,292.2 317.7,293.96 317.4,293.4 317.1,291.54 316.8,289.22 316.5,287.09 316.2,287.01 315.9,286.95 315.6,287 315.3,286.99 315,286.89 314.7,286.85 314.4,286.87 314.1,286.86 313.8,286.86 313.5,287.05 313.2,287.05 312.9,287.17 312.6,286.98 312.3,286.99 312,286.89 311.7,287.09 311.4,287.14 311.1,287.06 310.8,287.2 310.5,287.07 310.2,287.25 309.9,287.09 309.6,287.08 309.3,286.81 309,288.28 308.7,289.49 308.4,287.12 308.1,290.07 307.8,292.2 307.5,293.96 307.2,293.4 306.9,291.54 306.6,289.22 306.3,287.17 306,287 305.7,286.98 305.4,287.23 305.1,287.23 304.8,287.05 304.5,286.81 304.2,286.86 303.9,286.83 303.6,286.86 303.3,287.26 303,287.24 302.7,287.16 302.4,286.86 302.1,286.82 301.8,287.9 301.5,287.59 301.2,287.18 300.9,287.1 300.6,286.87 300.3,287.18 300,287.06 299.7,287.61 299.4,287.47 299.1,286.98 298.8,287.02 298.5,287 298.2,288.2 297.9,286.93 297.6,288.83 297.3,290.07 297,292.2 296.7,293.96 296.4,293.4 296.1,291.54 295.8,289.22 295.5,287.18 295.2,287.08 294.9,287 294.6,287.14 294.3,287.32 294,286.82 293.7,286.85 293.4,286.88 293.1,286.99 292.8,287 292.5,287.39 292.2,287.75 291.9,286.91 291.6,286.99 291.3,286.84 291,286.96 290.7,287.1 290.4,287.31 290.1,286.95 289.8,286.82 289.5,286.95 289.2,287.2 288.9,287.14 288.6,287.03 288.3,287.14 288,286.87 287.7,287.17 287.4,286.85 287.1,287.6 286.8,286.84 286.5,286.89 286.2,287.13 285.9,286.89 285.6,286.87 285.3,286.98 285,286.89 284.7,286.86 284.4,287.4 284.1,287.03 283.8,286.93 283.5,287.07 283.2,287.25 282.9,287.36 282.6,287.55 282.3,286.97 282,286.83 281.7,286.86 281.4,286.82 281.1,286.89 280.8,286.87 280.5,287.36 280.2,286.83 279.9,286.98 279.6,286.81 279.3,287.05 279,287.15 278.7,287.05 278.4,286.81 278.1,287.51 277.8,286.91" fill="#00fb00"/>
<rect x="456.2" y="256.5" width="122.6" height="53.8" fill="#000"/>
<polygon points="456.2,279.48 456.5,268.97 456.8,260.89 457.1,256.5 457.4,258.55 457.7,265.77 458,277.38 458.3,279.5 458.6,279.38 458.9,280.42 459.2,280.13 459.5,279.87 459.8,280.46 460.1,278.86 460.4,276.97 460.7,265.59 461,258.42 461.3,256.5 461.6,261.04 461.9,269.18 462.2,279 462.5,278.87 462.8,278.84 463.1,279.86 463.4,280.36 463.7,280.3 464,279.84 464.3,280.45 464.6,280.2 464.9,280.06 465.2,279.44 465.5,277.57 465.8,265.85 466.1,258.61 466.4,256.5 466.7,260.82 467,268.87 467.3,277.74 467.6,277.43 467.9,278.51 468.2,279.76 468.5,279.82 468.8,280.1 469.1,279.9 469.4,279.73 469.7,280.41 470,279.02 470.3,280.07 470.6,275.68 470.9,270.21 471.2,266.16 471.5,263.64 471.8,267.18 472.1,271.49 472.4,277.8 472.7,276.74 473,280.37 473.3,280.33 473.6,280.22 473.9,279.75 474.2,280.16 474.5,279.54 474.8,279.51 475.1,278.79 475.4,273.59 475.7,268.77 476,264.98 476.3,264.75 476.6,268.5 476.9,273.22 477.2,280.17 477.5,280.33 477.8,278.11 478.1,280.37 478.4,279.89 478.7,280.15 479,278.72 479.3,279.91 479.6,279.99 479.9,272.75 480.2,263.36 480.5,256.68 480.8,256.5 481.1,263.06 481.4,272.26 481.7,277.9 482,279.67 482.3,279.15 482.6,279.81 482.9,280.47 483.2,280.46 483.5,280.25 483.8,279.99 484.1,279.95 484.4,279.95 484.7,280.17 485,280.04 485.3,279.69 485.6,279.21 485.9,276.35 486.2,270.64 486.5,266.5 486.8,263.34 487.1,266.82 487.4,271.04 487.7,277.01 488,279.91 488.3,276.82 488.6,280.15 488.9,279.66 489.2,280.33 489.5,279.86 489.8,279.63 490.1,273.88 490.4,268.98 490.7,265.15 491,264.58 491.3,268.29 491.6,272.95 491.9,279.97 492.2,277.23 492.5,277.98 492.8,280.46 493.1,280.32 493.4,279.09 493.7,280.01 494,280.37 494.3,279.65 494.6,273.39 494.9,263.74 495.2,256.98 495.5,256.5 495.8,262.69 496.1,271.67 496.4,279.91 496.7,280.04 497,279.87 497.3,279.58 497.6,280.48 497.9,280.25 498.2,280.31 498.5,280.34 498.8,280.43 499.1,280.29 499.4,280.33 499.7,280.43 500,278.14 500.3,274.26 500.6,269.24 500.9,265.37 501.2,264.37 501.5,268.04 501.8,272.61 502.1,276.94 502.4,280 502.7,280.31 503,280.13 503.3,280.13 503.6,280.16 503.9,280.07 504.2,280.29 504.5,280.05 504.8,280.21 505.1,280.3 505.4,279 505.7,280.38 506,280.01 506.3,277.33 506.6,271.23 506.9,266.97 507.2,263.47 507.5,266.36 507.8,270.45 508.1,276.06 508.4,279.37 508.7,278 509,280.46 509.3,280.37 509.6,280.07 509.9,278.27 510.2,272.56 510.5,268 510.8,264.34 511.1,265.41 511.4,269.29 511.7,274.32 512,279.04 512.3,276.84 512.6,277.14 512.9,279.74 513.2,280.45 513.5,279.9 513.8,279.94 514.1,280.33 514.4,280.41 514.7,280.29 515,279.97 515.3,279.93 515.6,280.41 515.9,280.35 516.2,280.49 516.5,277.87 516.8,271.53 517.1,267.21 517.4,263.67 517.7,266.13 518,270.17 518.3,275.62 518.6,280.12 518.9,279.89 519.2,280.37 519.5,279.86 519.8,280.33 520.1,280.08 520.4,280.29 520.7,280.22 521,280.38 521.3,280.27 521.6,280.39 521.9,280.31 522.2,280.45 522.5,278.62 522.8,273.55 523.1,263.83 523.4,257.05 523.7,256.5 524,262.6 524.3,271.53 524.6,279.27 524.9,280.33 525.2,280.18 525.5,280.15 525.8,280.39 526.1,280.2 526.4,280.15 526.7,279.87 527,280.45 527.3,280.1 527.6,279.96 527.9,279.97 528.2,280.38 528.5,279.94 528.8,280.47 529.1,280.06 529.4,279.82 529.7,279.77 530,272.99 530.3,268.32 530.6,264.61 530.9,265.13 531.2,268.94 531.5,273.84 531.8,280.22 532.1,278.94 532.4,277.66 532.7,280.5 533,280.2 533.3,280.47 533.6,280.39 533.9,280.2 534.2,280.23 534.5,279.8 534.8,280.14 535.1,280.2 535.4,280.36 535.7,277.88 536,275.67 536.3,270.2 536.6,266.15 536.9,263.65 537.2,267.18 537.5,271.5 537.8,276.88 538.1,278.27 538.4,280.39 538.7,280.03 539,280.02 539.3,279.73 539.6,280.44 539.9,279.61 540.2,280.17 540.5,280.22 540.8,280.44 541.1,280.12 541.4,280.46 541.7,280.23 542,280.26 542.3,280.33 542.6,280.28 542.9,280.41 543.2,280.23 543.5,280.13 543.8,280.11 544.1,280.21 544.4,280.08 544.7,280.35 545,280.28 545.3,280 545.6,279.99 545.9,279.97 546.2,280.01 546.5,280.31 546.8,279.85 547.1,278.65 547.4,272.49 547.7,267.94 548,264.29 548.3,265.46 548.6,269.34 548.9,274.4 549.2,280.3 549.5,280.46 549.8,280.48 550.1,280.44 550.4,280.31 550.7,279.85 551,279.98 551.3,280.22 551.6,280.3 551.9,280.18 552.2,280.35 552.5,279.89 552.8,280.39 553.1,279.79 553.4,280.27 553.7,280.27 554,280.14 554.3,280.39 554.6,280.08 554.9,279.84 555.2,280.23 555.5,280.1 555.8,280.3 556.1,280.4 556.4,280.2 556.7,279.87 557,280.3 557.3,280.4 557.6,279.85 557.9,279.5 558.2,280.29 558.5,280.43 558.8,277.11 559.1,271.62 559.4,267.28 559.7,263.73 560,266.06 560.3,270.09 560.6,275.5 560.9,279.64 561.2,278.33 561.5,279.36 561.8,280.18 562.1,280.42 562.4,279.85 562.7,280.29 563,280.16 563.3,280.2 563.6,280.33 563.9,280.46 564.2,280.45 564.5,279.88 564.8,280.16 565.1,280.11 565.4,280.15 565.7,279.83 566,280.45 566.3,280.47 566.6,280.45 566.9,280.34 567.2,280.42 567.5,280.14 567.8,280.3 568.1,280.46 568.4,279.94 568.7,280.26 569,280.12 569.3,280.48 569.6,280.1 569.9,280.41 570.2,280.41 570.5,280.36 570.8,280.19 571.1,280.02 571.4,280.46 571.7,280.2 572,280.46 572.3,280.13 572.6,280.16 572.9,280.19 573.2,279.84 573.5,279.72 573.8,280.35 574.1,280.01 574.4,280.47 574.7,280.23 575,280.45 575.3,280.38 575.6,280.2 575.9,280.14 576.2,280.14 576.5,280.31 576.8,280.3 577.1,280.09 577.4,280.03 577.7,280.4 578,280.16 578.3,279.64 578.6,280.32 578.6,286.99 578.3,286.9 578,287 577.7,287.33 577.4,287.43 577.1,287.32 576.8,286.98 576.5,287.24 576.2,287.05 575.9,287.02 575.6,287.38 575.3,287.27 575,287.32 574.7,287.3 574.4,287.3 574.1,287.51 573.8,287.57 573.5,287.3 573.2,286.92 572.9,287.3 572.6,287.29 572.3,287.28 572,287.03 571.7,286.93 571.4,287.26 571.1,287.6 570.8,287.37 570.5,286.95 570.2,287.3 569.9,286.96 569.6,287.46 569.3,287.46 569,287.26 568.7,287.53 568.4,287.05 568.1,287.05 567.8,287.15 567.5,287.33 567.2,287.63 566.9,287.05 566.6,287.27 566.3,286.96 566,287.6 565.7,287.09 565.4,287.55 565.1,287.3 564.8,287.03 564.5,287.73 564.2,287.16 563.9,286.92 563.6,287.05 563.3,287.02 563,287.63 562.7,286.93 562.4,287.22 562.1,287.11 561.8,287.21 561.5,289.6 561.2,289.3 560.9,288.02 560.6,290.52 560.3,290.67 560,291.87 559.7,292.96 559.4,291.31 559.1,289.3 558.8,290.37 558.5,287.57 558.2,286.98 557.9,287.11 557.6,288 557.3,287.12 557,286.96 556.7,287.36 556.4,286.91 556.1,287.54 555.8,286.95 555.5,287.23 555.2,287.16 554.9,287.37 554.6,287.41 554.3,286.93 554,287.16 553.7,287.34 553.4,287.08 553.1,287.74 552.8,287.58 552.5,287.47 552.2,286.94 551.9,287.04 551.6,287.14 551.3,287.07 551,287.06 550.7,287.26 550.4,286.91 550.1,287.39 549.8,287.76 549.5,287.66 549.2,287.7 548.9,288.01 548.6,290.35 548.3,292.15 548,292.69 547.7,291 547.4,289.2 547.1,289.06 546.8,287.51 546.5,287.22 546.2,286.94 545.9,287.15 545.6,287.45 545.3,286.92 545,287.18 544.7,287.14 544.4,287.08 544.1,287.16 543.8,286.9 543.5,286.92 543.2,287.07 542.9,286.91 542.6,286.96 542.3,286.94 542,287.13 541.7,287.14 541.4,287.07 541.1,287.46 540.8,287.44 540.5,286.91 540.2,287.01 539.9,286.91 539.6,287.26 539.3,287.12 539,287.14 538.7,287.18 538.4,287.27 538.1,288.78 537.8,289.03 537.5,289.35 537.2,291.35 536.9,292.99 536.6,291.83 536.3,289.96 536,289.6 535.7,288.06 535.4,287.26 535.1,287.04 534.8,287.29 534.5,286.94 534.2,287 533.9,286.95 533.6,287.18 533.3,287.27 533,287.22 532.7,287.27 532.4,289.6 532.1,288.89 531.8,287.46 531.5,288.27 531.2,290.54 530.9,292.31 530.6,292.55 530.3,290.83 530,288.74 529.7,290.25 529.4,287.63 529.1,287.42 528.8,287 528.5,287.37 528.2,287.08 527.9,286.91 527.6,287.09 527.3,287.09 527,287.32 526.7,287.04 526.4,286.96 526.1,287.17 525.8,287.33 525.5,287.52 525.2,287.6 524.9,287.28 524.6,288.41 524.3,295.06 524,303.39 523.7,309.48 523.4,308.57 523.1,302.24 522.8,293.18 522.5,289.98 522.2,286.95 521.9,286.99 521.6,287.04 521.3,287.32 521,287.32 520.7,287.17 520.4,287.58 520.1,287.04 519.8,286.92 519.5,287.07 519.2,287.31 518.9,287.01 518.6,287.16 518.3,290.55 518,289.97 517.7,291.84 517.4,292.98 517.1,291.34 516.8,289.34 516.5,288.21 516.2,287.35 515.9,287.51 515.6,287.49 515.3,287.33 515,287.22 514.7,287.05 514.4,287.05 514.1,287.24 513.8,287.46 513.5,286.97 513.2,287.15 512.9,287.2 512.6,287.87 512.3,290.63 512,288.17 511.7,288.05 511.4,290.38 511.1,292.18 510.8,292.67 510.5,290.98 510.2,288.86 509.9,289.53 509.6,287.47 509.3,287.08 509,287.58 508.7,288.69 508.4,289.91 508.1,287.74 507.8,289.84 507.5,291.74 507.2,293.08 506.9,291.45 506.6,289.48 506.3,291.19 506,287.6 505.7,287.64 505.4,288.79 505.1,287.38 504.8,287.55 504.5,287.06 504.2,287.23 503.9,288.11 503.6,287.53 503.3,290.5 503,287.06 502.7,287.31 502.4,289.96 502.1,289.6 501.8,289.12 501.5,290.96 501.2,292.66 500.9,292.19 500.6,290.4 500.3,288.08 500,287.87 499.7,287.02 499.4,287.37 499.1,287.03 498.8,286.97 498.5,287.22 498.2,290.75 497.9,288.24 497.6,287.24 497.3,287.32 497,287.04 496.7,287.53 496.4,289.67 496.1,294.93 495.8,303.31 495.5,309.41 495.2,308.64 494.9,302.33 494.6,293.32 494.3,287.56 494,287.21 493.7,287.42 493.4,289.43 493.1,287 492.8,287.15 492.5,291.38 492.2,289.41 491.9,287.22 491.6,289.45 491.3,290.84 491,292.56 490.7,292.3 490.4,290.67 490.1,288.25 489.8,289.74 489.5,291.52 489.2,291.12 488.9,287.03 488.6,287.04 488.3,289.76 488,290.19 487.7,287.05 487.4,289.57 487.1,291.52 486.8,293.14 486.5,291.67 486.2,289.75 485.9,291.28 485.6,290.8 485.3,291.62 485,286.95 484.7,287.03 484.4,290.89 484.1,291.38 483.8,291.4 483.5,287.42 483.2,287.14 482.9,287.71 482.6,287.17 482.3,288.07 482,290.06 481.7,288.84 481.4,294.38 481.1,302.97 480.8,309.14 480.5,308.92 480.2,302.68 479.9,293.92 479.6,289.51 479.3,287.27 479,290.44 478.7,289.36 478.4,286.92 478.1,287.39 477.8,290.17 477.5,287.11 477.2,286.9 476.9,288.55 476.6,290.75 476.3,292.48 476,292.38 475.7,290.62 475.4,288.38 475.1,289.83 474.8,290.83 474.5,289.14 474.2,287.63 473.9,290.2 473.6,290.22 473.3,287.08 473,287.12 472.7,287.8 472.4,290.08 472.1,289.36 471.8,291.36 471.5,293 471.2,291.83 470.9,289.95 470.6,291.24 470.3,287.71 470,289.19 469.7,287.33 469.4,290.06 469.1,287.27 468.8,287.19 468.5,287.34 468.2,287.41 467.9,289.98 467.6,288.69 467.3,290.55 467,297.54 466.7,305.05 466.4,310.3 466.1,307.11 465.8,300.36 465.5,289.42 465.2,290.07 464.9,288.83 464.6,289.32 464.3,286.9 464,287.03 463.7,287.53 463.4,289.42 463.1,288.17 462.8,289.59 462.5,290.88 462.2,289.39 461.9,297.25 461.6,304.85 461.3,310.3 461,307.3 460.7,300.6 460.4,290.27 460.1,290.35 459.8,287.09 459.5,289.47 459.2,286.96 458.9,287.15 458.6,289.09 458.3,287.65 458,289.6 457.7,300.44 457.4,307.17 457.1,310.3 456.8,304.99 456.5,297.45 456.2,291.31" fill="#00fb00"/>
<text x="459.5" y="276.5" font-size="7" text-anchor="start" fill="#3a8a3a">73</text>
<rect x="99.1" y="564" width="122.7" height="54" fill="#000"/>
<polygon points="99.1,586.65 99.4,586.42 99.7,586.85 100,586.86 100.3,587.36 100.6,587.34 100.9,586.88 101.2,586.72 101.5,587.33 101.8,586.84 102.1,587.06 102.4,586.56 102.7,587.44 103,586.54 103.3,587.4 103.6,586.6 103.9,586.87 104.2,587.43 104.5,586.71 104.8,587.28 105.1,586.15 105.4,586.63 105.7,586.53 106,587.02 106.3,587.16 106.6,586.68 106.9,587.28 107.2,585.76 107.5,586.45 107.8,586.76 108.1,585.78 108.4,586.74 108.7,586.65 109,587.39 109.3,586.84 109.6,586.85 109.9,586.9 110.2,587.22 110.5,586.86 110.8,587.23 111.1,586.97 111.4,587.41 111.7,587.24 112,587.16 112.3,586 112.6,587.1 112.9,586.96 113.2,585.92 113.5,586.71 113.8,587.2 114.1,585.88 114.4,585.62 114.7,586.56 115,587.1 115.3,587.21 115.6,585.96 115.9,586.63 116.2,586.95 116.5,586.65 116.8,587.48 117.1,585.77 117.4,586.8 117.7,586.85 118,586.96 118.3,587.22 118.6,587.4 118.9,585.01 119.2,587.45 119.5,585.7 119.8,586.63 120.1,587.14 120.4,586.12 120.7,587.02 121,587.39 121.3,587.28 121.6,585.7 121.9,586.53 122.2,587 122.5,586.77 122.8,587.19 123.1,587.36 123.4,586.37 123.7,586.8 124,586.16 124.3,587.19 124.6,586.84 124.9,586.49 125.2,585.68 125.5,583.3 125.8,585.68 126.1,587.37 126.4,587.45 126.7,586.51 127,585.88 127.3,587.05 127.6,587.4 127.9,587.28 128.2,586.89 128.5,587.12 128.8,587.49 129.1,587.15 129.4,586.55 129.7,587.01 130,587.05 130.3,587.39 130.6,587 130.9,586.06 131.2,587.12 131.5,587.16 131.8,587.04 132.1,587.43 132.4,586.82 132.7,584.39 133,584.83 133.3,586.89 133.6,586.86 133.9,586.49 134.2,587 134.5,585.8 134.8,586.95 135.1,586.93 135.4,586.75 135.7,586.7 136,587.46 136.3,586.89 136.6,586.72 136.9,586.33 137.2,587.21 137.5,587.45 137.8,586.52 138.1,587.07 138.4,586.63 138.7,584.76 139,586.74 139.3,584.4 139.6,583.56 139.9,586.43 140.2,586.41 140.5,586.66 140.8,586.63 141.1,587.03 141.4,586.63 141.7,585.37 142,586 142.3,587.48 142.6,587.42 142.9,587.36 143.2,586.46 143.5,586.03 143.8,586.74 144.1,586.6 144.4,586.71 144.7,587.28 145,585.79 145.3,587.33 145.6,586.69 145.9,587.26 146.2,586.59 146.5,584.62 146.8,586.36 147.1,586.56 147.4,587.31 147.7,587.44 148,587.15 148.3,587.43 148.6,586.72 148.9,586.66 149.2,587.14 149.5,587.12 149.8,586.48 150.1,586.71 150.4,586.92 150.7,587.26 151,587.12 151.3,587.17 151.6,586.87 151.9,587.32 152.2,585.78 152.5,586.74 152.8,587.2 153.1,587.4 153.4,587.48 153.7,586.66 154,586.72 154.3,587.2 154.6,586.51 154.9,586.69 155.2,584.85 155.5,587.47 155.8,586.89 156.1,586.87 156.4,587.04 156.7,586.97 157,587.5 157.3,586.6 157.6,587.42 157.9,587.05 158.2,587.47 158.5,586.81 158.8,586.77 159.1,587.24 159.4,586.41 159.7,587.35 160,587.39 160.3,586.71 160.6,586.96 160.9,586.12 161.2,587.28 161.5,586.53 161.8,587.48 162.1,587.02 162.4,587.49 162.7,586.36 163,584.3 163.3,586.34 163.6,586.44 163.9,585.89 164.2,587.41 164.5,587.49 164.8,586.77 165.1,586.63 165.4,586 165.7,586.4 166,587.28 166.3,587.12 166.6,586.36 166.9,586.93 167.2,586.82 167.5,587.14 167.8,587.12 168.1,587.17 168.4,587.5 168.7,586.89 169,587.06 169.3,587.15 169.6,586.67 169.9,586.49 170.2,586.4 170.5,586.65 170.8,586.29 171.1,586.97 171.4,586.78 171.7,587.09 172,585.8 172.3,586.18 172.6,587.23 172.9,585.83 173.2,587.26 173.5,586.73 173.8,586.54 174.1,586.85 174.4,586.88 174.7,586.94 175,586.08 175.3,587.49 175.6,586.8 175.9,586.24 176.2,587.13 176.5,586.32 176.8,586.4 177.1,587.06 177.4,587.2 177.7,586.26 178,586.86 178.3,587.41 178.6,587.38 178.9,587.01 179.2,587.22 179.5,586.8 179.8,586.67 180.1,587.24 180.4,586.34 180.7,587.14 181,587.05 181.3,587.35 181.6,586.69 181.9,586.83 182.2,587.04 182.5,587.45 182.8,587.48 183.1,586.98 183.4,586.57 183.7,587.2 184,587.22 184.3,587.28 184.6,586.65 184.9,586.48 185.2,587.28 185.5,586.56 185.8,587.32 186.1,587.47 186.4,587.31 186.7,586 187,586.54 187.3,586.59 187.6,585.89 187.9,587.03 188.2,586.87 188.5,586.91 188.8,586.67 189.1,586.22 189.4,587.38 189.7,586.99 190,586.92 190.3,586.84 190.6,586.95 190.9,587.02 191.2,587.31 191.5,587.2 191.8,587.36 192.1,585.7 192.4,587.1 192.7,587.17 193,585.3 193.3,586.93 193.6,587.07 193.9,586.87 194.2,586.56 194.5,585.77 194.8,586.9 195.1,587.33 195.4,587.41 195.7,586.83 196,587.13 196.3,587.41 196.6,587.46 196.9,586.54 197.2,587.47 197.5,586.42 197.8,587.28 198.1,586.41 198.4,587.36 198.7,586.84 199,586.23 199.3,586.25 199.6,587.18 199.9,587.4 200.2,586.46 200.5,587.38 200.8,587.32 201.1,587.4 201.4,586.72 201.7,587.33 202,586.91 202.3,587.21 202.6,586.09 202.9,587.01 203.2,587.43 203.5,586.98 203.8,587.04 204.1,587.18 204.4,585.82 204.7,586.4 205,587.2 205.3,587.26 205.6,586.24 205.9,586.8 206.2,586.37 206.5,586.58 206.8,587.18 207.1,586.47 207.4,586.47 207.7,587.32 208,587.45 208.3,587.19 208.6,586.5 208.9,586.81 209.2,584.92 209.5,585.6 209.8,586.91 210.1,587.28 210.4,586.6 210.7,587.38 211,587.38 211.3,587.38 211.6,587.43 211.9,587.42 212.2,587.21 212.5,586.85 212.8,585.2 213.1,584.47 213.4,586.29 213.7,586.3 214,587.21 214.3,586.95 214.6,587.09 214.9,586.99 215.2,587.19 215.5,587.43 215.8,587.01 216.1,586.77 216.4,587.18 216.7,587.32 217,586.95 217.3,587.16 217.6,587.28 217.9,587.4 218.2,587.14 218.5,587.34 218.8,586.63 219.1,586.19 219.4,587.39 219.7,586.96 220,587.11 220.3,586.92 220.6,586.79 220.9,586.7 221.2,587.06 221.5,587.38 221.8,586.81 221.8,594.92 221.5,595.28 221.2,594.7 220.9,594.62 220.6,594.71 220.3,594.35 220,594.16 219.7,595.38 219.4,594.65 219.1,594.34 218.8,594.68 218.5,594.28 218.2,594.28 217.9,594.65 217.6,594.73 217.3,594.75 217,594.66 216.7,594.42 216.4,596.25 216.1,594.69 215.8,594.16 215.5,594.96 215.2,595.15 214.9,595.07 214.6,594.71 214.3,594.41 214,595.24 213.7,596.15 213.4,594.78 213.1,595.78 212.8,595.2 212.5,594.71 212.2,594.73 211.9,594.56 211.6,594.31 211.3,594.2 211,594.82 210.7,595.63 210.4,595.06 210.1,594.23 209.8,595.18 209.5,597.6 209.2,598.49 208.9,595.45 208.6,594.24 208.3,594.21 208,594.15 207.7,594.62 207.4,594.31 207.1,594.89 206.8,594.51 206.5,594.78 206.2,594.9 205.9,594.81 205.6,594.55 205.3,594.91 205,594.12 204.7,597.2 204.4,598.04 204.1,595.17 203.8,594.53 203.5,594.67 203.2,594.16 202.9,594.38 202.6,594.33 202.3,594.44 202,595.24 201.7,594.44 201.4,595.4 201.1,594.3 200.8,594.51 200.5,594.98 200.2,594.2 199.9,594.89 199.6,594.78 199.3,594.37 199,594.61 198.7,594.28 198.4,594.28 198.1,595.35 197.8,594.54 197.5,594.72 197.2,595.39 196.9,595.03 196.6,595.48 196.3,594.82 196,594.23 195.7,595.64 195.4,594.82 195.1,594.17 194.8,595.04 194.5,596.04 194.2,594.42 193.9,594.25 193.6,595.4 193.3,594.11 193,595.8 192.7,594.24 192.4,594.84 192.1,594.85 191.8,594.25 191.5,594.58 191.2,594.76 190.9,594.19 190.6,594.69 190.3,594.3 190,594.35 189.7,594.53 189.4,595.47 189.1,594.23 188.8,595.33 188.5,594.45 188.2,594.81 187.9,595.53 187.6,596.22 187.3,594.22 187,594.43 186.7,594.69 186.4,594.57 186.1,594.88 185.8,594.55 185.5,594.82 185.2,594.73 184.9,594.66 184.6,594.76 184.3,595.05 184,594.68 183.7,595.73 183.4,594.35 183.1,596.68 182.8,596 182.5,594.76 182.2,594.12 181.9,594.15 181.6,594.32 181.3,594.82 181,596.14 180.7,594.2 180.4,594.14 180.1,594.69 179.8,594.72 179.5,594.37 179.2,594.4 178.9,594.2 178.6,594.22 178.3,594.39 178,594.88 177.7,595.13 177.4,594.74 177.1,594.97 176.8,594.61 176.5,594.38 176.2,595.6 175.9,596.19 175.6,595.1 175.3,594.5 175,595.23 174.7,594.5 174.4,594.79 174.1,594.82 173.8,594.3 173.5,594.8 173.2,594.47 172.9,596.18 172.6,595.46 172.3,594.42 172,596.8 171.7,594.42 171.4,594.3 171.1,594.51 170.8,594.8 170.5,595.05 170.2,594.25 169.9,594.41 169.6,594.93 169.3,594.34 169,595.13 168.7,594.83 168.4,594.42 168.1,594.6 167.8,594.48 167.5,595.05 167.2,594.28 166.9,594.9 166.6,597.74 166.3,594.67 166,594.13 165.7,595.22 165.4,594.48 165.1,595.22 164.8,595.86 164.5,595.24 164.2,594.73 163.9,594.74 163.6,594.87 163.3,595.92 163,598.3 162.7,595.92 162.4,594.88 162.1,594.34 161.8,594.44 161.5,594.44 161.2,594.34 160.9,594.37 160.6,594.95 160.3,594.17 160,594.9 159.7,594.3 159.4,595.17 159.1,595.13 158.8,595.12 158.5,594.16 158.2,594.69 157.9,594.67 157.6,594.77 157.3,595.42 157,595.06 156.7,594.92 156.4,594.21 156.1,594.46 155.8,595.02 155.5,594.11 155.2,595.11 154.9,594.51 154.6,594.37 154.3,594.38 154,594.97 153.7,594.8 153.4,594.61 153.1,594.56 152.8,594.17 152.5,594.79 152.2,595.49 151.9,594.68 151.6,594.14 151.3,594.87 151,594.33 150.7,594.88 150.4,594.78 150.1,594.28 149.8,594.8 149.5,594.85 149.2,594.52 148.9,596.15 148.6,594.19 148.3,594.46 148,594.55 147.7,594.36 147.4,595.18 147.1,594.39 146.8,595.64 146.5,597.6 146.2,598.49 145.9,595.45 145.6,594.73 145.3,594.62 145,596.14 144.7,595.67 144.4,594.63 144.1,594.47 143.8,594.84 143.5,596.27 143.2,594.9 142.9,594.6 142.6,595.34 142.3,594.39 142,596.4 141.7,597.13 141.4,595.85 141.1,594.24 140.8,594.51 140.5,594.21 140.2,595.1 139.9,594.35 139.6,596.68 139.3,596 139,594.62 138.7,595.8 138.4,594.84 138.1,594.61 137.8,595.38 137.5,595.06 137.2,594.69 136.9,594.87 136.6,594.17 136.3,595.16 136,595.01 135.7,595.69 135.4,594.71 135.1,594.93 134.8,596.61 134.5,599.3 134.2,596.61 133.9,595.25 133.6,594.63 133.3,594.18 133,596.84 132.7,596.21 132.4,594.32 132.1,594.75 131.8,595.26 131.5,595.21 131.2,594.88 130.9,595.02 130.6,594.36 130.3,595.9 130,594.9 129.7,594.1 129.4,594.11 129.1,594.17 128.8,595.22 128.5,595.82 128.2,594.31 127.9,594.3 127.6,594.63 127.3,594.36 127,596.63 126.7,594.97 126.4,594.38 126.1,594.58 125.8,594.66 125.5,595.59 125.2,596.26 124.9,594.87 124.6,594.27 124.3,594.65 124,596.71 123.7,594.78 123.4,595.92 123.1,594.54 122.8,594.84 122.5,594.12 122.2,594.73 121.9,595.6 121.6,595.44 121.3,594.27 121,594.11 120.7,594.75 120.4,594.67 120.1,595.29 119.8,594.19 119.5,594.32 119.2,594.62 118.9,594.74 118.6,594.4 118.3,594.29 118,594.63 117.7,595.2 117.4,595.67 117.1,595.29 116.8,594.32 116.5,594.75 116.2,594.76 115.9,595.03 115.6,594.37 115.3,595.04 115,594.21 114.7,594.72 114.4,594.64 114.1,594.5 113.8,594.35 113.5,594.39 113.2,595.4 112.9,594.22 112.6,595.39 112.3,594.4 112,594.54 111.7,595.41 111.4,595.14 111.1,595.05 110.8,595.41 110.5,595.84 110.2,594.33 109.9,594.5 109.6,594.59 109.3,594.92 109,595.18 108.7,594.29 108.4,595.89 108.1,594.88 107.8,596.14 107.5,594.42 107.2,594.12 106.9,594.15 106.6,594.46 106.3,594.62 106,595.11 105.7,594.52 105.4,594.29 105.1,594.37 104.8,595.64 104.5,594.9 104.2,594.57 103.9,594.45 103.6,594.67 103.3,594.69 103,594.73 102.7,594.42 102.4,594.63 102.1,594.33 101.8,594.63 101.5,594.51 101.2,594.59 100.9,595.09 100.6,595.27 100.3,594.98 100,594.54 99.7,594.32 99.4,594.9 99.1,594.26" fill="#00fb00"/>
<rect x="278" y="564" width="122.4" height="54" fill="#000"/>
<polygon points="278,587.06 278.3,587.69 278.6,587.47 278.9,587.09 279.2,587.67 279.5,587.64 279.8,587.59 280.1,587.7 280.4,587.64 280.7,587.63 281,587.11 281.3,587.42 281.6,587.59 281.9,587.62 282.2,587.61 282.5,587.61 282.8,587.28 283.1,587.23 283.4,587.3 283.7,587.46 284,586.84 284.3,587.03 284.6,587.12 284.9,587.46 285.2,587.38 285.5,587.44 285.8,587.57 286.1,587.46 286.4,587.54 286.7,587.11 287,586.89 287.3,587.61 287.6,587.27 287.9,587.25 288.2,587.59 288.5,587.69 288.8,587.32 289.1,587.32 289.4,587.15 289.7,587.46 290,587.44 290.3,587.55 290.6,587.67 290.9,587.36 291.2,587.11 291.5,587.69 291.8,587.27 292.1,587.21 292.4,587.56 292.7,587.53 293,587.41 293.3,587.55 293.6,587.69 293.9,587.32 294.2,587.62 294.5,587.48 294.8,586.98 295.1,587.57 295.4,587.23 295.7,587.58 296,587.04 296.3,587.69 296.6,587.45 296.9,587.64 297.2,587.3 297.5,587.69 297.8,587.3 298.1,587.08 298.4,587.68 298.7,580.51 299,580.66 299.3,581.57 299.6,587.15 299.9,583.78 300.2,579.48 300.5,581.8 300.8,581.89 301.1,587.52 301.4,587.52 301.7,581.37 302,578.31 302.3,581.08 302.6,583.6 302.9,582.77 303.2,580.95 303.5,578.83 303.8,587.55 304.1,582.75 304.4,581.13 304.7,578.53 305,587.09 305.3,578.41 305.6,579.25 305.9,582.91 306.2,580.99 306.5,581.54 306.8,587.46 307.1,578.79 307.4,587.63 307.7,587.35 308,578.17 308.3,587.63 308.6,580.73 308.9,587.47 309.2,587.66 309.5,587.63 309.8,582.92 310.1,580.58 310.4,587.25 310.7,587.2 311,583.03 311.3,587.55 311.6,583.47 311.9,578.82 312.2,587.32 312.5,587.62 312.8,587.06 313.1,580.88 313.4,587.29 313.7,587.43 314,579.84 314.3,587.19 314.6,587.69 314.9,587.69 315.2,587.2 315.5,587.06 315.8,587.7 316.1,587.48 316.4,587.6 316.7,587.69 317,586.58 317.3,587.45 317.6,587.35 317.9,587.21 318.2,587.51 318.5,587.44 318.8,587.52 319.1,587.27 319.4,587.54 319.7,587.54 320,586 320.3,586.85 320.6,587.07 320.9,587.7 321.2,586.92 321.5,587.69 321.8,587.56 322.1,587.32 322.4,586.82 322.7,587.19 323,586.91 323.3,587.65 323.6,587.59 323.9,587.27 324.2,587.01 324.5,586.87 324.8,587.01 325.1,587.31 325.4,587.37 325.7,587.4 326,587.7 326.3,586.66 326.6,587.18 326.9,587.64 327.2,587.65 327.5,587.67 327.8,587.55 328.1,587.42 328.4,587.27 328.7,587.58 329,587.32 329.3,587.34 329.6,587.35 329.9,587.57 330.2,587.52 330.5,586.71 330.8,587.51 331.1,587.44 331.4,587.34 331.7,587.64 332,587.32 332.3,587.57 332.6,587.67 332.9,587.19 333.2,587.3 333.5,587.64 333.8,587.33 334.1,587.37 334.4,586.82 334.7,587.25 335,587.63 335.3,587.63 335.6,586.5 335.9,587.6 336.2,587.33 336.5,587.21 336.8,587.62 337.1,587.58 337.4,587.59 337.7,586.9 338,585 338.3,586.9 338.6,587.39 338.9,587.63 339.2,587.11 339.5,587.46 339.8,587.44 340.1,587.68 340.4,587.57 340.7,587.63 341,587.48 341.3,587.16 341.6,586.83 341.9,587.16 342.2,587.41 342.5,587.09 342.8,587.15 343.1,587.02 343.4,587.48 343.7,587 344,587.35 344.3,587.36 344.6,587.49 344.9,587.54 345.2,587.58 345.5,587.03 345.8,587.68 346.1,587.68 346.4,587.59 346.7,587.65 347,587.19 347.3,587.52 347.6,587.64 347.9,586.46 348.2,587.5 348.5,587.61 348.8,587.62 349.1,587.51 349.4,587.12 349.7,587.44 350,587.42 350.3,587.4 350.6,587.28 350.9,587.37 351.2,587.47 351.5,586.87 351.8,587.2 352.1,587.4 352.4,587.4 352.7,587.46 353,587.47 353.3,587.64 353.6,587.25 353.9,587.3 354.2,587.39 354.5,587.11 354.8,587.5 355.1,587.14 355.4,587.39 355.7,587.46 356,587.31 356.3,587.45 356.6,587.48 356.9,587.66 357.2,586.95 357.5,587.54 357.8,586.9 358.1,587.61 358.4,587.6 358.7,587.28 359,586.92 359.3,587.68 359.6,587.02 359.9,587.24 360.2,587.04 360.5,587.3 360.8,587.27 361.1,587.28 361.4,587.33 361.7,587.38 362,587.66 362.3,587.33 362.6,587.7 362.9,587.55 363.2,587.57 363.5,587.36 363.8,587.58 364.1,587.07 364.4,587.13 364.7,587.2 365,586.8 365.3,587.64 365.6,587.4 365.9,586.99 366.2,587.68 366.5,587.51 366.8,587.51 367.1,587.22 367.4,587.64 367.7,587.58 368,587.52 368.3,587.43 368.6,587.66 368.9,587.11 369.2,587.32 369.5,587.67 369.8,587.3 370.1,587.7 370.4,587.61 370.7,587.64 371,586.96 371.3,587.48 371.6,587.37 371.9,587.62 372.2,587.32 372.5,587.34 372.8,587.48 373.1,587.54 373.4,587.53 373.7,587.05 374,587.69 374.3,587.7 374.6,586.99 374.9,587.56 375.2,587.33 375.5,587.32 375.8,587.52 376.1,587.62 376.4,587.62 376.7,586.82 377,587.39 377.3,587.46 377.6,586.63 377.9,587.47 378.2,587.56 378.5,587.55 378.8,587.59 379.1,587.54 379.4,587.12 379.7,586.93 380,586.43 380.3,587.43 380.6,587.35 380.9,587.32 381.2,587.66 381.5,587.63 381.8,586.84 382.1,587.65 382.4,587.14 382.7,587.57 383,587.62 383.3,587.47 383.6,587.3 383.9,587.56 384.2,587.03 384.5,587.02 384.8,587.63 385.1,586.88 385.4,586.94 385.7,587.66 386,583.83 386.3,587.52 386.6,587.15 386.9,582.62 387.2,580.14 387.5,581.44 387.8,587.16 388.1,580.73 388.4,587.61 388.7,584.6 389,581.71 389.3,584.65 389.6,587.35 389.9,587.66 390.2,584.93 390.5,587.45 390.8,584.44 391.1,587.66 391.4,582.83 391.7,583.8 392,586.82 392.3,580.05 392.6,586.95 392.9,582.07 393.2,587.39 393.5,587.56 393.8,582.5 394.1,587.66 394.4,582.48 394.7,581.27 395,587.2 395.3,587.41 395.6,587.18 395.9,586.88 396.2,587.65 396.5,587.12 396.8,587.57 397.1,587.01 397.4,587.3 397.7,587.16 398,587.18 398.3,587.56 398.6,587.55 398.9,587.54 399.2,587.54 399.5,587.53 399.8,587.22 400.1,587.29 400.4,587.31 400.4,594.95 400.1,595.11 399.8,594.31 399.5,594.36 399.2,595.05 398.9,594.82 398.6,594.5 398.3,594.34 398,594.63 397.7,594.95 397.4,594.46 397.1,594.89 396.8,594.75 396.5,595.03 396.2,594.43 395.9,594.69 395.6,594.59 395.3,594.48 395,594.35 394.7,604.06 394.4,602.96 394.1,594.68 393.8,609.75 393.5,594.89 393.2,594.45 392.9,610.73 392.6,594.99 392.3,608.33 392,594.65 391.7,610.95 391.4,607.39 391.1,594.52 390.8,606.72 390.5,594.52 390.2,607.51 389.9,594.82 389.6,594.35 389.3,608.59 389,609.89 388.7,604.21 388.4,594.51 388.1,607.34 387.8,594.33 387.5,605.73 387.2,605.18 386.9,605.25 386.6,594.71 386.3,594.55 386,604.52 385.7,594.33 385.4,594.54 385.1,595.12 384.8,594.57 384.5,594.5 384.2,594.7 383.9,594.33 383.6,594.43 383.3,594.38 383,594.4 382.7,594.81 382.4,594.36 382.1,595.02 381.8,594.44 381.5,595.26 381.2,594.44 380.9,594.84 380.6,594.35 380.3,594.55 380,594.66 379.7,594.92 379.4,594.76 379.1,594.74 378.8,594.35 378.5,594.7 378.2,594.72 377.9,594.78 377.6,595.2 377.3,594.76 377,594.5 376.7,594.41 376.4,594.48 376.1,594.4 375.8,594.61 375.5,594.89 375.2,594.52 374.9,594.7 374.6,594.43 374.3,594.71 374,594.81 373.7,594.45 373.4,594.5 373.1,594.37 372.8,594.4 372.5,594.91 372.2,594.36 371.9,594.39 371.6,594.37 371.3,594.52 371,594.87 370.7,594.46 370.4,594.48 370.1,594.37 369.8,594.47 369.5,594.66 369.2,594.81 368.9,594.91 368.6,594.94 368.3,594.53 368,594.97 367.7,594.37 367.4,594.31 367.1,594.99 366.8,594.47 366.5,595.48 366.2,597 365.9,597.78 365.6,595.1 365.3,594.63 365,594.61 364.7,594.62 364.4,594.38 364.1,594.96 363.8,594.36 363.5,594.45 363.2,594.53 362.9,594.95 362.6,594.7 362.3,594.33 362,594.66 361.7,594.34 361.4,594.85 361.1,594.37 360.8,594.43 360.5,594.97 360.2,594.47 359.9,594.87 359.6,594.69 359.3,594.47 359,594.42 358.7,594.49 358.4,594.32 358.1,595.16 357.8,594.73 357.5,594.4 357.2,594.46 356.9,594.55 356.6,594.41 356.3,594.73 356,594.57 355.7,594.37 355.4,594.75 355.1,594.78 354.8,594.71 354.5,594.98 354.2,594.65 353.9,594.79 353.6,594.82 353.3,594.38 353,594.33 352.7,594.33 352.4,595.15 352.1,594.83 351.8,594.41 351.5,594.31 351.2,594.33 350.9,594.36 350.6,594.3 350.3,594.33 350,594.57 349.7,594.36 349.4,595.41 349.1,594.75 348.8,594.88 348.5,594.56 348.2,594.74 347.9,595.11 347.6,594.54 347.3,594.76 347,594.76 346.7,594.82 346.4,594.68 346.1,594.48 345.8,594.45 345.5,594.85 345.2,594.44 344.9,594.66 344.6,595.03 344.3,595.59 344,594.35 343.7,594.38 343.4,594.99 343.1,594.4 342.8,594.38 342.5,594.46 342.2,594.65 341.9,594.39 341.6,594.69 341.3,594.38 341,594.61 340.7,594.63 340.4,595.17 340.1,594.31 339.8,594.33 339.5,594.32 339.2,594.34 338.9,594.36 338.6,594.54 338.3,597.49 338,600.5 337.7,597.49 337.4,594.42 337.1,594.6 336.8,594.34 336.5,594.41 336.2,594.47 335.9,594.76 335.6,594.55 335.3,594.32 335,594.43 334.7,594.43 334.4,594.35 334.1,594.7 333.8,595.03 333.5,594.38 333.2,594.93 332.9,594.48 332.6,594.82 332.3,594.52 332,594.31 331.7,594.68 331.4,594.61 331.1,594.73 330.8,594.39 330.5,594.32 330.2,594.42 329.9,594.52 329.6,594.55 329.3,594.37 329,594.3 328.7,594.55 328.4,594.34 328.1,594.47 327.8,594.69 327.5,594.53 327.2,594.6 326.9,594.62 326.6,594.62 326.3,594.35 326,594.46 325.7,594.31 325.4,594.82 325.1,594.67 324.8,594.31 324.5,594.71 324.2,595.01 323.9,594.48 323.6,594.72 323.3,594.34 323,594.61 322.7,594.9 322.4,594.44 322.1,594.63 321.8,594.4 321.5,594.75 321.2,595.24 320.9,594.45 320.6,594.37 320.3,595.1 320,597 319.7,595.1 319.4,594.7 319.1,594.35 318.8,594.66 318.5,594.71 318.2,594.77 317.9,594.63 317.6,594.84 317.3,594.68 317,594.62 316.7,594.74 316.4,594.42 316.1,594.39 315.8,594.35 315.5,594.52 315.2,594.57 314.9,594.64 314.6,594.37 314.3,594.86 314,603.36 313.7,594.44 313.4,594.66 313.1,605.25 312.8,594.98 312.5,594.31 312.2,594.55 311.9,604.72 311.6,603.2 311.3,595.33 311,606.87 310.7,594.7 310.4,594.89 310.1,609.98 309.8,608.28 309.5,594.34 309.2,594.48 308.9,594.69 308.6,611.41 308.3,594.63 308,605.84 307.7,594.84 307.4,594.44 307.1,606.56 306.8,594.65 306.5,605.28 306.2,608.18 305.9,603.65 305.6,604.41 305.3,608.06 305,594.62 304.7,610.34 304.4,612.85 304.1,603.53 303.8,594.6 303.5,610.55 303.2,603.55 302.9,609.3 302.6,605.5 302.3,609.81 302,606.26 301.7,603.97 301.4,594.39 301.1,594.62 300.8,607.54 300.5,605.94 300.2,607.64 299.9,610.46 299.6,594.39 299.3,610.72 299,603.61 298.7,605.28 298.4,594.31 298.1,594.82 297.8,594.46 297.5,594.53 297.2,594.31 296.9,594.8 296.6,594.48 296.3,594.52 296,594.46 295.7,594.89 295.4,594.42 295.1,594.43 294.8,594.33 294.5,594.87 294.2,594.54 293.9,594.53 293.6,595.78 293.3,594.61 293,594.38 292.7,594.46 292.4,594.66 292.1,594.67 291.8,594.69 291.5,594.33 291.2,594.45 290.9,594.44 290.6,594.47 290.3,594.41 290,594.5 289.7,594.36 289.4,594.38 289.1,594.43 288.8,594.44 288.5,594.63 288.2,594.51 287.9,594.33 287.6,594.65 287.3,594.49 287,594.85 286.7,594.37 286.4,595.01 286.1,594.44 285.8,594.58 285.5,594.64 285.2,594.52 284.9,594.74 284.6,594.78 284.3,594.31 284,594.88 283.7,594.5 283.4,594.31 283.1,595.26 282.8,594.57 282.5,594.44 282.2,594.44 281.9,594.43 281.6,594.51 281.3,594.39 281,594.39 280.7,594.68 280.4,594.32 280.1,594.68 279.8,594.82 279.5,594.68 279.2,595.22 278.9,594.57 278.6,595.31 278.3,595.1 278,594.5" fill="#00fb00"/>
<rect x="456" y="564" width="123.2" height="54" fill="#000"/>
<rect x="514.7" y="584.5" width="15.3" height="0.5" fill="#777"/>
<rect x="514.7" y="598" width="15.3" height="0.5" fill="#777"/>
<polygon points="456,587.06 456.3,586.98 456.6,587.04 456.9,586.78 457.2,585.98 457.5,585 457.8,584.65 458.1,583.33 458.4,583.17 458.7,582.86 459,584.09 459.3,584.69 459.6,585.27 459.9,586.34 460.2,586.93 460.5,587.26 460.8,587.49 461.1,587.33 461.4,587.13 461.7,587.34 462,587.35 462.3,587.58 462.6,587.44 462.9,587.46 463.2,587.47 463.5,587.47 463.8,586.85 464.1,587.55 464.4,587.44 464.7,587.46 465,587.42 465.3,587.28 465.6,587.24 465.9,587.08 466.2,586.79 466.5,586.43 466.8,586.19 467.1,585.79 467.4,585.28 467.7,585.01 468,583.99 468.3,582.2 468.6,581.05 468.9,582.28 469.2,581.94 469.5,582.03 469.8,582.15 470.1,581.81 470.4,582.76 470.7,582.32 471,583.56 471.3,583.73 471.6,582.86 471.9,584.36 472.2,585.59 472.5,585.47 472.8,586.21 473.1,586.41 473.4,586.69 473.7,587.09 474,587.23 474.3,587.28 474.6,587.07 474.9,587.2 475.2,587.5 475.5,587.5 475.8,587.41 476.1,587.55 476.4,586.76 476.7,587.48 477,587.38 477.3,587.18 477.6,586.92 477.9,587.5 478.2,587.29 478.5,587.16 478.8,587.59 479.1,587.28 479.4,587.39 479.7,587.18 480,587.04 480.3,587.46 480.6,587.42 480.9,587.17 481.2,587.41 481.5,587.53 481.8,587.45 482.1,587.52 482.4,587.3 482.7,587.51 483,587.16 483.3,587.23 483.6,587.36 483.9,587.35 484.2,587.06 484.5,586.72 484.8,586.95 485.1,586.75 485.4,586.48 485.7,585.95 486,585.41 486.3,585.41 486.6,584.5 486.9,583.99 487.2,583.48 487.5,583.15 487.8,583.26 488.1,582.34 488.4,581.05 488.7,581.13 489,581.14 489.3,580.88 489.6,581.1 489.9,582.42 490.2,581.37 490.5,582.87 490.8,583.63 491.1,583.92 491.4,583.76 491.7,584.21 492,584.87 492.3,585.63 492.6,585.98 492.9,586.28 493.2,586.56 493.5,586.76 493.8,586.84 494.1,587.22 494.4,587.3 494.7,587 495,587.44 495.3,587.44 495.6,587.3 495.9,587.51 496.2,587.54 496.5,587.54 496.8,587.59 497.1,587.16 497.4,587.21 497.7,587.37 498,586.64 498.3,587.55 498.6,587.44 498.9,587.48 499.2,587.44 499.5,586.67 499.8,587.52 500.1,587.42 500.4,587.18 500.7,587.47 501,587.2 501.3,587.57 501.6,587.2 501.9,586.99 502.2,587.12 502.5,586.85 502.8,587.34 503.1,586.99 503.4,587.15 503.7,587 504,587.5 504.3,587.5 504.6,586.83 504.9,587.19 505.2,587.33 505.5,587.25 505.8,587.12 506.1,587.06 506.4,586.76 506.7,586.55 507,586.14 507.3,586.08 507.6,585.4 507.9,585 508.2,584.79 508.5,582 508.8,583.77 509.1,584.04 509.4,582.85 509.7,583.62 510,583.5 510.3,582.17 510.6,583.1 510.9,582.16 511.2,581.75 511.5,582.04 511.8,582.86 512.1,583.09 512.4,582.41 512.7,583.4 513,584.62 513.3,584.5 513.6,585.32 513.9,585.51 514.2,585.88 514.5,586.43 514.8,586.53 515.1,586.76 515.4,586.98 515.7,587.09 516,586.94 516.3,587.07 516.6,587.39 516.9,587.45 517.2,587.27 517.5,587.13 517.8,587.56 518.1,587.28 518.4,586.73 518.7,586.84 519,587.34 519.3,586.79 519.6,587.56 519.9,587.52 520.2,587.2 520.5,586.85 520.8,586.55 521.1,587.27 521.4,586.7 521.7,587.48 522,586.62 522.3,587.4 522.6,586.97 522.9,587.33 523.2,587.45 523.5,587.14 523.8,587.35 524.1,587.11 524.4,587.03 524.7,587.19 525,587.6 525.3,587.54 525.6,587.27 525.9,587.09 526.2,587.16 526.5,587.49 526.8,587.3 527.1,587.29 527.4,587.24 527.7,587.44 528,587.55 528.3,587.41 528.6,587.21 528.9,586.9 529.2,587.38 529.5,586.89 529.8,587.27 530.1,586.78 530.4,587.57 530.7,587.08 531,587.52 531.3,586.75 531.6,587.17 531.9,587.5 532.2,587.12 532.5,587.08 532.8,587.47 533.1,587.5 533.4,587.57 533.7,587.35 534,587.48 534.3,587.16 534.6,586.42 534.9,587.18 535.2,587.5 535.5,587.05 535.8,587.37 536.1,587.29 536.4,587.59 536.7,586.88 537,587.13 537.3,587.35 537.6,587.09 537.9,587.45 538.2,587.54 538.5,587.54 538.8,587.25 539.1,587.42 539.4,587.02 539.7,587.36 540,587.29 540.3,586.89 540.6,587.43 540.9,587.53 541.2,587.59 541.5,587.43 541.8,587.31 542.1,587.19 542.4,587 542.7,587.42 543,586.97 543.3,587.27 543.6,586.25 543.9,587.25 544.2,587.16 544.5,587.39 544.8,587.58 545.1,587.56 545.4,587.27 545.7,587.07 546,587.44 546.3,587.59 546.6,587.1 546.9,587.51 547.2,587.07 547.5,587.31 547.8,587.44 548.1,587.09 548.4,587.41 548.7,587.23 549,586.68 549.3,587.06 549.6,587.54 549.9,587.44 550.2,587.41 550.5,587.54 550.8,587.5 551.1,587.49 551.4,587.32 551.7,587.54 552,586.96 552.3,587.15 552.6,587.53 552.9,587.09 553.2,587.38 553.5,587.54 553.8,587.39 554.1,587.22 554.4,587.6 554.7,587.45 555,587.14 555.3,587.3 555.6,587.55 555.9,587.24 556.2,587.33 556.5,587.4 556.8,587.47 557.1,587.4 557.4,587.41 557.7,587.54 558,587.53 558.3,587.1 558.6,587.34 558.9,587.45 559.2,587.29 559.5,587.07 559.8,586.94 560.1,587.18 560.4,586.78 560.7,587.43 561,587.12 561.3,587.52 561.6,587.47 561.9,587.43 562.2,587.57 562.5,587.44 562.8,586.99 563.1,587.6 563.4,587.17 563.7,587.25 564,586.8 564.3,587.56 564.6,587.53 564.9,587.18 565.2,587.14 565.5,587.43 565.8,587.05 566.1,586.79 566.4,587.43 566.7,586.85 567,587.57 567.3,587.18 567.6,587.19 567.9,587.58 568.2,587.34 568.5,587.43 568.8,586.62 569.1,587.53 569.4,587.54 569.7,587.52 570,587.18 570.3,587.48 570.6,587.28 570.9,587.12 571.2,586.4 571.5,587.08 571.8,587.39 572.1,587.46 572.4,586.97 572.7,587.32 573,587.21 573.3,587.03 573.6,587.49 573.9,587.26 574.2,587.05 574.5,587.48 574.8,587.34 575.1,587.35 575.4,587.44 575.7,587.3 576,587.04 576.3,587.43 576.6,587.54 576.9,587.32 577.2,587.49 577.5,587.34 577.8,587.27 578.1,587.52 578.4,587.46 578.7,587.39 579,587.5 579,595.05 578.7,594.87 578.4,594.43 578.1,594.74 577.8,594.46 577.5,594.48 577.2,594.98 576.9,594.55 576.6,595.88 576.3,594.61 576,594.87 575.7,594.44 575.4,594.83 575.1,594.83 574.8,594.45 574.5,594.57 574.2,594.45 573.9,594.51 573.6,594.76 573.3,594.58 573,594.54 572.7,594.68 572.4,594.68 572.1,594.66 571.8,594.95 571.5,594.6 571.2,595.03 570.9,594.77 570.6,594.41 570.3,594.49 570,595.06 569.7,594.46 569.4,594.44 569.1,594.75 568.8,594.8 568.5,594.6 568.2,594.55 567.9,594.68 567.6,594.94 567.3,594.89 567,594.42 566.7,594.8 566.4,594.56 566.1,594.74 565.8,594.91 565.5,595.11 565.2,594.66 564.9,594.44 564.6,594.79 564.3,594.52 564,594.47 563.7,594.8 563.4,594.6 563.1,594.87 562.8,594.77 562.5,594.57 562.2,594.44 561.9,594.46 561.6,594.62 561.3,594.46 561,595.13 560.7,594.61 560.4,594.67 560.1,594.59 559.8,594.42 559.5,594.4 559.2,594.44 558.9,594.48 558.6,595.34 558.3,594.82 558,594.46 557.7,594.46 557.4,594.45 557.1,594.43 556.8,594.81 556.5,595 556.2,594.47 555.9,594.76 555.6,594.49 555.3,594.41 555,594.76 554.7,594.62 554.4,594.61 554.1,594.56 553.8,594.47 553.5,594.45 553.2,594.62 552.9,595.35 552.6,594.4 552.3,594.55 552,594.67 551.7,594.45 551.4,594.56 551.1,594.6 550.8,594.74 550.5,594.88 550.2,594.52 549.9,594.85 549.6,594.57 549.3,594.56 549,594.44 548.7,594.81 548.4,595.17 548.1,594.74 547.8,595.2 547.5,594.9 547.2,594.56 546.9,594.65 546.6,594.45 546.3,594.58 546,594.52 545.7,594.58 545.4,594.79 545.1,594.48 544.8,595.08 544.5,594.65 544.2,595.09 543.9,594.58 543.6,594.45 543.3,594.8 543,594.59 542.7,594.55 542.4,594.8 542.1,594.72 541.8,595.26 541.5,594.47 541.2,594.76 540.9,594.49 540.6,594.52 540.3,594.43 540,594.73 539.7,594.61 539.4,594.67 539.1,594.52 538.8,594.49 538.5,594.68 538.2,594.43 537.9,594.42 537.6,594.71 537.3,594.49 537,595.04 536.7,595.07 536.4,594.52 536.1,594.47 535.8,594.46 535.5,594.53 535.2,594.64 534.9,595.02 534.6,594.68 534.3,594.55 534,594.94 533.7,594.62 533.4,594.54 533.1,594.78 532.8,595.09 532.5,594.63 532.2,594.42 531.9,594.77 531.6,594.62 531.3,594.57 531,594.94 530.7,594.6 530.4,594.53 530.1,595.13 529.8,594.71 529.5,594.91 529.2,594.4 528.9,594.93 528.6,594.68 528.3,594.86 528,594.57 527.7,594.85 527.4,594.54 527.1,594.63 526.8,594.5 526.5,594.52 526.2,594.66 525.9,594.41 525.6,594.97 525.3,594.85 525,594.42 524.7,594.5 524.4,594.64 524.1,594.49 523.8,594.56 523.5,594.46 523.2,595.1 522.9,595.24 522.6,594.54 522.3,594.52 522,594.71 521.7,594.49 521.4,594.6 521.1,595.23 520.8,594.99 520.5,594.65 520.2,594.85 519.9,594.54 519.6,594.42 519.3,595.37 519,594.62 518.7,595.07 518.4,594.63 518.1,594.66 517.8,594.72 517.5,594.68 517.2,594.51 516.9,594.74 516.6,595.27 516.3,594.9 516,594.98 515.7,594.98 515.4,595.5 515.1,595.45 514.8,595.74 514.5,595.87 514.2,596.55 513.9,597.01 513.6,597.25 513.3,598.27 513,598.12 512.7,599.8 512.4,600.95 512.1,600.03 511.8,600.32 511.5,601.35 511.2,601.71 510.9,601.2 510.6,600.02 510.3,601.19 510,599.53 509.7,599.38 509.4,600.34 509.1,598.85 508.8,599.18 508.5,601.5 508.2,598.17 507.9,597.65 507.6,597.14 507.3,596.3 507,596.23 506.7,595.71 506.4,595.45 506.1,595.07 505.8,595 505.5,594.84 505.2,594.74 504.9,594.64 504.6,594.55 504.3,594.72 504,594.55 503.7,595.09 503.4,594.67 503.1,594.89 502.8,594.51 502.5,594.79 502.2,595.05 501.9,594.43 501.6,594.81 501.3,594.69 501,594.55 500.7,594.46 500.4,594.72 500.1,594.81 499.8,594.63 499.5,594.49 499.2,594.7 498.9,594.87 498.6,594.83 498.3,594.6 498,594.98 497.7,594.71 497.4,594.56 497.1,594.75 496.8,595.02 496.5,594.88 496.2,594.87 495.9,594.95 495.6,594.49 495.3,595.24 495,594.77 494.7,594.68 494.4,594.83 494.1,594.94 493.8,595.29 493.5,595.6 493.2,595.88 492.9,596.29 492.6,596.71 492.3,597.21 492,598.3 491.7,599.25 491.4,599.89 491.1,602.5 490.8,600.82 490.5,601.15 490.2,603.29 489.9,601.8 489.6,603.69 489.3,604 489,603.62 488.7,603.64 488.4,602.85 488.1,601.91 487.8,600.59 487.5,600.76 487.2,600.29 486.9,599.56 486.6,598.83 486.3,597.53 486,597.53 485.7,596.76 485.4,596 485.1,595.61 484.8,595.33 484.5,595.21 484.2,594.98 483.9,594.76 483.6,594.69 483.3,594.83 483,594.54 482.7,594.62 482.4,594.97 482.1,594.51 481.8,594.75 481.5,594.73 481.2,594.43 480.9,594.55 480.6,594.96 480.3,594.46 480,594.65 479.7,594.82 479.4,594.72 479.1,594.51 478.8,594.59 478.5,595.06 478.2,594.63 477.9,595.05 477.6,594.8 477.3,594.73 477,594.47 476.7,594.59 476.4,595.12 476.1,594.67 475.8,594.8 475.5,595.04 475.2,594.54 474.9,594.57 474.6,595.22 474.3,594.87 474,595.24 473.7,595.14 473.4,595.73 473.1,596.14 472.8,596.43 472.5,597.51 472.2,597.33 471.9,599.14 471.6,601.86 471.3,600.6 471,600.31 470.7,602.12 470.4,601.48 470.1,602.86 469.8,602.37 469.5,602.54 469.2,602.67 468.9,602.18 468.6,603.66 468.3,602.2 468,599.68 467.7,598.18 467.4,597.79 467.1,597.05 466.8,596.46 466.5,596.11 466.2,595.58 465.9,595.27 465.6,594.92 465.3,595.13 465,594.71 464.7,594.85 464.4,594.89 464.1,594.72 463.8,594.84 463.5,594.88 463.2,594.58 462.9,594.75 462.6,594.62 462.3,594.57 462,594.85 461.7,594.66 461.4,594.59 461.1,594.52 460.8,594.67 460.5,595.53 460.2,595.07 459.9,595.66 459.6,596.73 459.3,597.31 459,597.91 458.7,599.14 458.4,598.83 458.1,598.67 457.8,597.35 457.5,597 457.2,596.02 456.9,595.22 456.6,594.75 456.3,594.75 456,595.41" fill="#00fb00"/>
<rect x="98.5" y="321.5" width="128.5" height="63" fill="#fff" stroke="#b2b2b2" stroke-width="0.6"/>
<rect x="98.9" y="353.25" width="127.7" height="0.55" fill="#f0a0a0"/>
<text x="96.8" y="333.2" font-size="9.3" text-anchor="end" fill="#000">20</text>
<text x="96.8" y="354.2" font-size="9.3" text-anchor="end" fill="#000">0</text>
<text x="96.8" y="374.7" font-size="9.3" text-anchor="end" fill="#000">-20</text>
<text x="99.3" y="392.9" font-size="9.3" text-anchor="middle" fill="#000">-1.0</text>
<text x="119.15" y="392.9" font-size="9.3" text-anchor="middle" fill="#000">-0.5</text>
<text x="140.6" y="392.9" font-size="9.3" text-anchor="middle" fill="#000">0</text>
<text x="158.85" y="392.9" font-size="9.3" text-anchor="middle" fill="#000">0.5</text>
<text x="178.7" y="392.9" font-size="9.3" text-anchor="middle" fill="#000">1.0</text>
<text x="198.55" y="392.9" font-size="9.3" text-anchor="middle" fill="#000">1.5</text>
<text x="218.4" y="392.9" font-size="9.3" text-anchor="middle" fill="#000">2.0</text>
<text x="161.6" y="404.2" font-size="9.2" text-anchor="middle" fill="#000">Time (ms)</text>
<text x="83.35" y="351.55" font-size="9.3" text-anchor="middle" fill="#000" transform="rotate(-90 83.35 351.55)">Voltage (µV)</text>
<g fill="none" stroke="#1c1cf2" stroke-width="0.4" stroke-opacity="0.56" stroke-linejoin="round"><polyline points="105.0,348.1 106.9,348.0 108.9,348.1 110.9,348.1 112.9,348.1 114.9,348.1 116.9,348.1 118.9,348.0 120.8,347.9 122.8,347.6 124.8,347.1 126.8,346.6 128.8,345.9 130.8,345.3 132.7,344.7 134.7,344.3 136.7,344.2 138.7,344.4 140.7,345.3 142.7,347.1 144.7,349.2 146.6,351.5 148.6,353.5 150.6,355.1 152.6,356.3 154.6,357.1 156.6,357.5 158.6,357.6 160.5,357.4 162.5,356.9 164.5,356.2 166.5,355.4 168.5,354.4 170.5,353.5 172.4,352.6 174.4,351.8 176.4,351.1 178.4,350.7 180.4,350.4 182.4,350.2 184.4,350.2 186.3,350.4 188.3,350.6 190.3,350.9 192.3,351.3 194.3,351.7 196.3,352.1 198.3,352.6 200.2,353.0 202.2,353.5 204.2,353.9 206.2,354.4 208.2,354.8 210.2,355.2 212.1,355.6 214.1,356.0 216.1,356.4 218.1,356.8 220.1,357.1"/><polyline points="105.0,346.6 106.9,346.5 108.9,346.4 110.9,346.5 112.9,346.5 114.9,346.7 116.9,346.9 118.9,347.3 120.8,347.9 122.8,348.9 124.8,350.3 126.8,352.5 128.8,355.4 130.8,359.1 132.7,363.2 134.7,367.1 136.7,370.1 138.7,371.6 140.7,372.0 142.7,371.3 144.7,370.1 146.6,368.4 148.6,366.7 150.6,365.1 152.6,363.8 154.6,362.7 156.6,361.7 158.6,360.9 160.5,360.0 162.5,359.1 164.5,358.1 166.5,357.0 168.5,355.8 170.5,354.5 172.4,353.3 174.4,352.0 176.4,350.9 178.4,349.9 180.4,349.1 182.4,348.4 184.4,347.9 186.3,347.7 188.3,347.8 190.3,348.3 192.3,349.4 194.3,351.4 196.3,354.3 198.3,357.8 200.2,361.2 202.2,363.8 204.2,364.7 206.2,363.9 208.2,361.7 210.2,359.1 212.1,356.7 214.1,355.1 216.1,354.2 218.1,354.0 220.1,354.1"/><polyline points="105.0,351.3 106.9,351.5 108.9,351.6 110.9,351.8 112.9,351.9 114.9,351.9 116.9,352.0 118.9,352.1 120.8,352.2 122.8,352.5 124.8,353.0 126.8,354.1 128.8,355.7 130.8,358.1 132.7,360.9 134.7,363.9 136.7,366.4 138.7,368.0 140.7,368.3 142.7,367.8 144.7,366.7 146.6,365.2 148.6,363.7 150.6,362.3 152.6,361.3 154.6,360.8 156.6,360.6 158.6,360.7 160.5,361.0 162.5,361.4 164.5,361.8 166.5,362.0 168.5,362.1 170.5,362.1 172.4,361.9 174.4,361.6 176.4,361.2 178.4,360.7 180.4,360.2 182.4,359.7 184.4,359.2 186.3,358.7 188.3,358.2 190.3,357.9 192.3,357.9 194.3,358.4 196.3,359.4 198.3,360.7 200.2,362.1 202.2,362.7 204.2,362.1 206.2,360.1 208.2,357.0 210.2,353.5 212.1,350.2 214.1,347.5 216.1,345.7 218.1,344.5 220.1,343.9"/><polyline points="105.0,346.2 106.9,346.1 108.9,346.1 110.9,346.2 112.9,346.2 114.9,346.4 116.9,346.6 118.9,346.8 120.8,347.2 122.8,347.6 124.8,348.2 126.8,349.1 128.8,350.5 130.8,352.5 132.7,355.4 134.7,359.0 136.7,363.2 138.7,367.2 140.7,370.5 142.7,372.4 144.7,372.7 146.6,371.9 148.6,370.3 150.6,368.1 152.6,365.8 154.6,363.5 156.6,361.5 158.6,359.9 160.5,358.6 162.5,357.7 164.5,357.1 166.5,356.7 168.5,356.3 170.5,356.0 172.4,355.8 174.4,355.5 176.4,355.3 178.4,355.1 180.4,354.9 182.4,354.9 184.4,354.9 186.3,354.9 188.3,355.0 190.3,355.1 192.3,355.2 194.3,355.2 196.3,355.2 198.3,355.0 200.2,354.7 202.2,354.3 204.2,353.8 206.2,353.2 208.2,352.5 210.2,351.8 212.1,351.1 214.1,350.4 216.1,349.8 218.1,349.2 220.1,348.8"/><polyline points="105.0,353.1 106.9,353.3 108.9,353.4 110.9,353.5 112.9,353.5 114.9,353.5 116.9,353.4 118.9,353.1 120.8,352.8 122.8,352.2 124.8,351.5 126.8,350.5 128.8,349.3 130.8,347.8 132.7,346.1 134.7,344.2 136.7,342.4 138.7,340.8 140.7,339.6 142.7,339.0 144.7,339.1 146.6,340.7 148.6,343.6 150.6,346.9 152.6,350.2 154.6,352.8 156.6,354.9 158.6,356.4 160.5,357.5 162.5,358.2 164.5,358.5 166.5,358.5 168.5,358.1 170.5,357.3 172.4,356.3 174.4,355.2 176.4,354.0 178.4,352.9 180.4,352.0 182.4,351.3 184.4,350.8 186.3,350.5 188.3,350.4 190.3,350.5 192.3,350.7 194.3,351.0 196.3,351.4 198.3,351.8 200.2,352.2 202.2,352.6 204.2,353.1 206.2,353.5 208.2,354.0 210.2,354.5 212.1,355.0 214.1,355.5 216.1,356.0 218.1,356.5 220.1,357.0"/><polyline points="105.0,349.8 106.9,349.8 108.9,349.8 110.9,349.7 112.9,349.7 114.9,349.7 116.9,349.7 118.9,349.7 120.8,349.8 122.8,349.9 124.8,350.2 126.8,350.7 128.8,351.8 130.8,353.4 132.7,355.9 134.7,359.2 136.7,362.8 138.7,366.4 140.7,369.2 142.7,370.6 144.7,370.6 146.6,369.7 148.6,368.2 150.6,366.3 152.6,364.3 154.6,362.6 156.6,361.2 158.6,360.3 160.5,359.8 162.5,359.6 164.5,359.6 166.5,359.7 168.5,359.7 170.5,359.6 172.4,359.4 174.4,359.0 176.4,358.6 178.4,358.1 180.4,357.6 182.4,357.0 184.4,356.6 186.3,356.2 188.3,356.2 190.3,356.5 192.3,357.5 194.3,359.3 196.3,361.9 198.3,364.8 200.2,367.4 202.2,368.7 204.2,368.1 206.2,365.8 208.2,362.4 210.2,358.8 212.1,355.8 214.1,353.7 216.1,352.5 218.1,351.9 220.1,351.7"/><polyline points="105.0,347.6 106.9,347.6 108.9,347.8 110.9,348.0 112.9,348.3 114.9,348.6 116.9,349.0 118.9,349.3 120.8,349.6 122.8,349.8 124.8,349.9 126.8,349.8 128.8,349.5 130.8,349.0 132.7,348.3 134.7,347.5 136.7,346.6 138.7,345.9 140.7,345.3 142.7,345.2 144.7,345.5 146.6,346.8 148.6,349.0 150.6,351.3 152.6,353.5 154.6,355.2 156.6,356.3 158.6,357.0 160.5,357.4 162.5,357.5 164.5,357.4 166.5,357.1 168.5,356.7 170.5,356.1 172.4,355.4 174.4,354.7 176.4,354.2 178.4,353.8 180.4,353.6 182.4,353.6 184.4,353.8 186.3,354.1 188.3,354.4 190.3,354.7 192.3,355.0 194.3,355.2 196.3,355.2 198.3,355.1 200.2,354.7 202.2,354.3 204.2,353.7 206.2,352.9 208.2,352.2 210.2,351.4 212.1,350.6 214.1,349.9 216.1,349.4 218.1,348.9 220.1,348.7"/><polyline points="105.0,353.5 106.9,353.2 108.9,352.9 110.9,352.5 112.9,352.1 114.9,351.6 116.9,351.1 118.9,350.6 120.8,350.1 122.8,349.5 124.8,348.8 126.8,348.1 128.8,347.2 130.8,346.2 132.7,345.1 134.7,343.9 136.7,342.8 138.7,341.9 140.7,341.3 142.7,341.0 144.7,341.2 146.6,342.4 148.6,344.4 150.6,346.9 152.6,349.5 154.6,351.7 156.6,353.4 158.6,354.8 160.5,355.9 162.5,356.7 164.5,357.3 166.5,357.5 168.5,357.5 170.5,357.2 172.4,356.6 174.4,356.0 176.4,355.2 178.4,354.4 180.4,353.7 182.4,353.0 184.4,352.5 186.3,352.1 188.3,351.8 190.3,351.6 192.3,351.5 194.3,351.5 196.3,351.6 198.3,351.8 200.2,352.1 202.2,352.4 204.2,352.8 206.2,353.2 208.2,353.7 210.2,354.3 212.1,355.0 214.1,355.6 216.1,356.3 218.1,357.0 220.1,357.7"/><polyline points="105.0,350.2 106.9,350.2 108.9,350.3 110.9,350.3 112.9,350.3 114.9,350.3 116.9,350.3 118.9,350.3 120.8,350.4 122.8,350.6 124.8,351.0 126.8,351.8 128.8,353.2 130.8,355.2 132.7,357.7 134.7,360.5 136.7,363.1 138.7,364.9 140.7,365.6 142.7,365.4 144.7,364.6 146.6,363.4 148.6,362.0 150.6,360.7 152.6,359.5 154.6,358.7 156.6,358.2 158.6,357.9 160.5,357.9 162.5,357.9 164.5,358.0 166.5,358.0 168.5,357.9 170.5,357.7 172.4,357.4 174.4,357.0 176.4,356.6 178.4,356.1 180.4,355.7 182.4,355.2 184.4,354.8 186.3,354.4 188.3,354.0 190.3,353.7 192.3,353.3 194.3,353.0 196.3,352.6 198.3,352.3 200.2,351.9 202.2,351.6 204.2,351.3 206.2,351.0 208.2,350.8 210.2,350.7 212.1,350.6 214.1,350.6 216.1,350.8 218.1,351.0 220.1,351.3"/><polyline points="105.0,349.2 106.9,349.2 108.9,349.2 110.9,349.1 112.9,349.1 114.9,349.1 116.9,349.2 118.9,349.2 120.8,349.4 122.8,349.8 124.8,350.6 126.8,351.9 128.8,354.0 130.8,356.9 132.7,360.4 134.7,364.0 136.7,367.2 138.7,369.2 140.7,369.7 142.7,369.2 144.7,368.0 146.6,366.3 148.6,364.4 150.6,362.7 152.6,361.2 154.6,360.2 156.6,359.5 158.6,359.1 160.5,359.0 162.5,358.9 164.5,358.8 166.5,358.6 168.5,358.3 170.5,357.9 172.4,357.3 174.4,356.8 176.4,356.2 178.4,355.6 180.4,355.1 182.4,354.6 184.4,354.3 186.3,354.0 188.3,353.7 190.3,353.5 192.3,353.4 194.3,353.2 196.3,353.0 198.3,352.9 200.2,352.7 202.2,352.5 204.2,352.3 206.2,352.0 208.2,351.9 210.2,351.7 212.1,351.7 214.1,351.7 216.1,351.7 218.1,351.9 220.1,352.1"/><polyline points="105.0,344.1 106.9,344.4 108.9,344.8 110.9,345.2 112.9,345.7 114.9,346.0 116.9,346.4 118.9,346.7 120.8,346.9 122.8,347.0 124.8,347.0 126.8,346.8 128.8,346.5 130.8,346.0 132.7,345.5 134.7,345.0 136.7,344.6 138.7,344.3 140.7,344.2 142.7,344.6 144.7,345.5 146.6,347.0 148.6,348.8 150.6,350.5 152.6,352.1 154.6,353.5 156.6,354.7 158.6,355.6 160.5,356.4 162.5,357.0 164.5,357.4 166.5,357.5 168.5,357.5 170.5,357.5 172.4,357.3 174.4,357.2 176.4,357.2 178.4,357.3 180.4,357.5 182.4,357.7 184.4,358.0 186.3,358.2 188.3,358.3 190.3,358.3 192.3,358.1 194.3,357.7 196.3,357.1 198.3,356.3 200.2,355.4 202.2,354.3 204.2,353.1 206.2,351.9 208.2,350.7 210.2,349.6 212.1,348.6 214.1,347.8 216.1,347.2 218.1,346.8 220.1,346.6"/><polyline points="105.0,348.8 106.9,348.8 108.9,348.8 110.9,348.8 112.9,348.8 114.9,348.8 116.9,348.8 118.9,348.9 120.8,348.9 122.8,349.1 124.8,349.3 126.8,349.8 128.8,350.5 130.8,351.9 132.7,353.9 134.7,356.7 136.7,360.4 138.7,364.4 140.7,368.3 142.7,371.4 144.7,373.0 146.6,373.1 148.6,372.4 150.6,370.9 152.6,369.1 154.6,367.2 156.6,365.6 158.6,364.3 160.5,363.5 162.5,363.1 164.5,362.9 166.5,362.9 168.5,362.8 170.5,362.7 172.4,362.3 174.4,361.8 176.4,361.1 178.4,360.3 180.4,359.4 182.4,358.4 184.4,357.4 186.3,356.5 188.3,355.7 190.3,354.9 192.3,354.2 194.3,353.5 196.3,352.9 198.3,352.4 200.2,351.8 202.2,351.3 204.2,350.8 206.2,350.3 208.2,349.9 210.2,349.5 212.1,349.2 214.1,349.0 216.1,348.9 218.1,348.9 220.1,348.9"/><polyline points="105.0,348.5 106.9,348.5 108.9,348.4 110.9,348.4 112.9,348.4 114.9,348.4 116.9,348.5 118.9,348.7 120.8,348.9 122.8,349.4 124.8,350.2 126.8,351.6 128.8,353.7 130.8,356.6 132.7,360.2 134.7,364.2 136.7,367.7 138.7,370.2 140.7,371.2 142.7,371.2 144.7,370.4 146.6,369.0 148.6,367.5 150.6,366.2 152.6,365.1 154.6,364.5 156.6,364.3 158.6,364.3 160.5,364.5 162.5,364.7 164.5,364.8 166.5,364.7 168.5,364.4 170.5,363.8 172.4,363.0 174.4,362.1 176.4,361.1 178.4,360.1 180.4,359.0 182.4,358.1 184.4,357.2 186.3,356.4 188.3,355.6 190.3,355.0 192.3,354.3 194.3,353.8 196.3,353.2 198.3,352.7 200.2,352.2 202.2,351.7 204.2,351.3 206.2,350.9 208.2,350.6 210.2,350.4 212.1,350.2 214.1,350.2 216.1,350.3 218.1,350.5 220.1,350.8"/><polyline points="105.0,350.4 106.9,350.1 108.9,349.8 110.9,349.4 112.9,348.9 114.9,348.4 116.9,347.9 118.9,347.4 120.8,347.0 122.8,346.6 124.8,346.4 126.8,346.5 128.8,347.0 130.8,348.1 132.7,350.0 134.7,352.6 136.7,355.8 138.7,359.0 140.7,361.8 142.7,363.6 144.7,364.2 146.6,364.0 148.6,363.3 150.6,362.3 152.6,361.3 154.6,360.5 156.6,360.0 158.6,359.9 160.5,360.2 162.5,360.6 164.5,361.1 166.5,361.5 168.5,361.8 170.5,361.8 172.4,361.6 174.4,361.2 176.4,360.5 178.4,359.6 180.4,358.6 182.4,357.5 184.4,356.4 186.3,355.3 188.3,354.3 190.3,353.3 192.3,352.5 194.3,351.8 196.3,351.3 198.3,350.9 200.2,350.7 202.2,350.7 204.2,350.8 206.2,351.1 208.2,351.6 210.2,352.2 212.1,353.0 214.1,353.9 216.1,354.9 218.1,355.9 220.1,356.9"/><polyline points="105.0,352.2 106.9,352.0 108.9,351.8 110.9,351.5 112.9,351.3 114.9,351.0 116.9,350.8 118.9,350.6 120.8,350.5 122.8,350.5 124.8,350.7 126.8,351.3 128.8,352.3 130.8,353.9 132.7,356.3 134.7,359.3 136.7,362.7 138.7,365.8 140.7,368.2 142.7,369.5 144.7,369.7 146.6,369.4 148.6,368.5 150.6,367.5 152.6,366.5 154.6,365.6 156.6,365.0 158.6,364.6 160.5,364.3 162.5,364.0 164.5,363.6 166.5,363.0 168.5,362.1 170.5,361.0 172.4,359.7 174.4,358.2 176.4,356.6 178.4,355.1 180.4,353.5 182.4,352.2 184.4,351.0 186.3,350.0 188.3,349.2 190.3,348.7 192.3,348.4 194.3,348.3 196.3,348.4 198.3,348.6 200.2,348.9 202.2,349.3 204.2,349.8 206.2,350.4 208.2,350.9 210.2,351.5 212.1,352.0 214.1,352.6 216.1,353.1 218.1,353.6 220.1,354.0"/><polyline points="105.0,346.1 106.9,346.2 108.9,346.4 110.9,346.7 112.9,347.1 114.9,347.7 116.9,348.3 118.9,349.0 120.8,349.9 122.8,350.8 124.8,352.1 126.8,353.8 128.8,356.0 130.8,358.8 132.7,362.1 134.7,365.6 136.7,368.7 138.7,370.9 140.7,371.8 142.7,371.7 144.7,370.8 146.6,369.3 148.6,367.5 150.6,365.6 152.6,363.7 154.6,361.9 156.6,360.3 158.6,358.8 160.5,357.5 162.5,356.2 164.5,355.0 166.5,353.9 168.5,352.9 170.5,351.9 172.4,351.2 174.4,350.5 176.4,350.1 178.4,349.9 180.4,349.9 182.4,350.2 184.4,350.6 186.3,351.2 188.3,352.0 190.3,352.7 192.3,353.5 194.3,354.3 196.3,354.9 198.3,355.4 200.2,355.8 202.2,356.0 204.2,356.1 206.2,356.0 208.2,355.7 210.2,355.4 212.1,355.0 214.1,354.5 216.1,354.0 218.1,353.6 220.1,353.1"/><polyline points="105.0,341.8 106.9,342.0 108.9,342.4 110.9,342.8 112.9,343.3 114.9,343.9 116.9,344.5 118.9,345.2 120.8,346.0 122.8,346.9 124.8,347.9 126.8,349.3 128.8,351.2 130.8,353.7 132.7,356.8 134.7,360.5 136.7,364.2 138.7,367.4 140.7,369.6 142.7,370.4 144.7,370.3 146.6,369.4 148.6,368.0 150.6,366.2 152.6,364.4 154.6,362.7 156.6,361.2 158.6,359.8 160.5,358.7 162.5,357.7 164.5,356.8 166.5,355.9 168.5,355.0 170.5,354.2 172.4,353.4 174.4,352.6 176.4,351.9 178.4,351.3 180.4,350.9 182.4,350.6 184.4,350.5 186.3,350.5 188.3,350.7 190.3,350.9 192.3,351.2 194.3,351.5 196.3,351.9 198.3,352.2 200.2,352.4 202.2,352.7 204.2,352.9 206.2,353.0 208.2,353.2 210.2,353.4 212.1,353.6 214.1,353.8 216.1,354.2 218.1,354.6 220.1,355.0"/><polyline points="105.0,350.8 106.9,351.0 108.9,351.1 110.9,351.3 112.9,351.4 114.9,351.5 116.9,351.6 118.9,351.5 120.8,351.4 122.8,351.1 124.8,350.6 126.8,349.8 128.8,348.8 130.8,347.6 132.7,346.2 134.7,344.8 136.7,343.5 138.7,342.5 140.7,342.0 142.7,342.2 144.7,343.5 146.6,346.2 148.6,349.8 150.6,353.6 152.6,357.0 154.6,359.7 156.6,361.8 158.6,363.4 160.5,364.5 162.5,365.2 164.5,365.4 166.5,365.1 168.5,364.4 170.5,363.4 172.4,362.1 174.4,360.7 176.4,359.3 178.4,358.0 180.4,356.9 182.4,355.9 184.4,355.1 186.3,354.5 188.3,353.9 190.3,353.4 192.3,352.9 194.3,352.5 196.3,352.0 198.3,351.5 200.2,350.9 202.2,350.4 204.2,349.8 206.2,349.3 208.2,348.8 210.2,348.4 212.1,348.0 214.1,347.8 216.1,347.7 218.1,347.6 220.1,347.7"/><polyline points="105.0,348.3 106.9,348.4 108.9,348.5 110.9,348.7 112.9,348.8 114.9,349.0 116.9,349.1 118.9,349.3 120.8,349.5 122.8,349.9 124.8,350.4 126.8,351.2 128.8,352.5 130.8,354.5 132.7,357.1 134.7,360.1 136.7,363.2 138.7,365.7 140.7,367.1 142.7,367.2 144.7,366.5 146.6,365.1 148.6,363.4 150.6,361.5 152.6,359.8 154.6,358.3 156.6,357.3 158.6,356.7 160.5,356.4 162.5,356.4 164.5,356.7 166.5,357.0 168.5,357.5 170.5,357.9 172.4,358.4 174.4,358.8 176.4,359.3 178.4,359.7 180.4,360.1 182.4,360.5 184.4,360.9 186.3,361.2 188.3,361.4 190.3,361.5 192.3,361.4 194.3,361.2 196.3,360.9 198.3,360.3 200.2,359.6 202.2,358.8 204.2,357.8 206.2,356.7 208.2,355.6 210.2,354.6 212.1,353.5 214.1,352.6 216.1,351.7 218.1,351.1 220.1,350.5"/><polyline points="105.0,349.8 106.9,349.8 108.9,349.8 110.9,349.8 112.9,349.9 114.9,349.9 116.9,349.9 118.9,349.9 120.8,349.9 122.8,350.0 124.8,350.2 126.8,350.6 128.8,351.4 130.8,352.6 132.7,354.5 134.7,357.2 136.7,360.3 138.7,363.4 140.7,366.1 142.7,367.8 144.7,368.1 146.6,367.5 148.6,366.3 150.6,364.7 152.6,362.9 154.6,361.3 156.6,359.9 158.6,359.0 160.5,358.5 162.5,358.2 164.5,358.2 166.5,358.2 168.5,358.3 170.5,358.2 172.4,358.0 174.4,357.7 176.4,357.3 178.4,356.9 180.4,356.4 182.4,356.0 184.4,355.7 186.3,355.5 188.3,355.4 190.3,355.3 192.3,355.4 194.3,355.5 196.3,355.6 198.3,355.7 200.2,355.8 202.2,355.9 204.2,356.0 206.2,356.1 208.2,356.1 210.2,356.2 212.1,356.2 214.1,356.3 216.1,356.4 218.1,356.5 220.1,356.5"/><polyline points="105.0,347.1 106.9,346.9 108.9,346.8 110.9,346.6 112.9,346.5 114.9,346.5 116.9,346.4 118.9,346.5 120.8,346.6 122.8,346.8 124.8,347.4 126.8,348.3 128.8,349.8 130.8,352.0 132.7,354.8 134.7,358.0 136.7,361.1 138.7,363.5 140.7,364.7 142.7,365.0 144.7,364.6 146.6,363.8 148.6,362.7 150.6,361.6 152.6,360.8 154.6,360.2 156.6,360.1 158.6,360.2 160.5,360.4 162.5,360.8 164.5,361.1 166.5,361.4 168.5,361.4 170.5,361.3 172.4,361.1 174.4,360.8 176.4,360.4 178.4,360.1 180.4,359.7 182.4,359.4 184.4,359.2 186.3,359.0 188.3,358.9 190.3,358.8 192.3,358.8 194.3,358.6 196.3,358.5 198.3,358.2 200.2,357.9 202.2,357.5 204.2,357.0 206.2,356.5 208.2,355.9 210.2,355.4 212.1,354.8 214.1,354.3 216.1,353.9 218.1,353.4 220.1,353.1"/><polyline points="105.0,347.0 106.9,347.0 108.9,347.1 110.9,347.2 112.9,347.3 114.9,347.4 116.9,347.5 118.9,347.6 120.8,347.8 122.8,348.0 124.8,348.3 126.8,348.9 128.8,349.7 130.8,351.0 132.7,352.9 134.7,355.2 136.7,357.8 138.7,360.5 140.7,362.7 142.7,364.1 144.7,364.6 146.6,364.6 148.6,364.0 150.6,363.3 152.6,362.4 154.6,361.6 156.6,361.0 158.6,360.6 160.5,360.3 162.5,360.2 164.5,360.2 166.5,360.1 168.5,359.9 170.5,359.6 172.4,359.2 174.4,358.7 176.4,358.1 178.4,357.4 180.4,356.6 182.4,355.9 184.4,355.1 186.3,354.5 188.3,353.8 190.3,353.2 192.3,352.6 194.3,352.1 196.3,351.5 198.3,351.0 200.2,350.5 202.2,350.0 204.2,349.5 206.2,349.0 208.2,348.6 210.2,348.3 212.1,348.0 214.1,347.9 216.1,347.9 218.1,347.9 220.1,348.1"/><polyline points="105.0,348.5 106.9,348.4 108.9,348.4 110.9,348.3 112.9,348.2 114.9,348.1 116.9,348.0 118.9,347.9 120.8,347.9 122.8,348.1 124.8,348.6 126.8,349.7 128.8,351.5 130.8,354.0 132.7,357.3 134.7,360.8 136.7,363.9 138.7,366.0 140.7,366.8 142.7,366.7 144.7,365.9 146.6,364.7 148.6,363.3 150.6,362.1 152.6,361.3 154.6,360.9 156.6,360.9 158.6,361.2 160.5,361.6 162.5,362.0 164.5,362.4 166.5,362.5 168.5,362.4 170.5,362.1 172.4,361.6 174.4,360.9 176.4,360.0 178.4,359.2 180.4,358.3 182.4,357.4 184.4,356.6 186.3,355.9 188.3,355.2 190.3,354.6 192.3,354.0 194.3,353.5 196.3,353.0 198.3,352.5 200.2,352.1 202.2,351.7 204.2,351.4 206.2,351.1 208.2,350.9 210.2,350.9 212.1,350.9 214.1,351.1 216.1,351.3 218.1,351.7 220.1,352.1"/><polyline points="105.0,352.0 106.9,352.2 108.9,352.4 110.9,352.6 112.9,352.6 114.9,352.6 116.9,352.4 118.9,352.1 120.8,351.6 122.8,351.0 124.8,350.1 126.8,349.1 128.8,348.1 130.8,347.0 132.7,346.0 134.7,345.2 136.7,344.8 138.7,344.8 140.7,345.6 142.7,347.2 144.7,349.1 146.6,351.0 148.6,352.7 150.6,354.1 152.6,355.3 154.6,356.3 156.6,357.2 158.6,357.9 160.5,358.5 162.5,359.0 164.5,359.2 166.5,359.4 168.5,359.5 170.5,359.5 172.4,359.5 174.4,359.5 176.4,359.5 178.4,359.5 180.4,359.5 182.4,359.5 184.4,359.4 186.3,359.3 188.3,359.2 190.3,359.4 192.3,360.1 194.3,361.1 196.3,362.5 198.3,363.8 200.2,364.5 202.2,363.9 204.2,361.9 206.2,359.0 208.2,355.7 210.2,352.7 212.1,350.3 214.1,348.7 216.1,347.8 218.1,347.3 220.1,347.2"/></g>
<rect x="277.1" y="321.5" width="128.5" height="63" fill="#fff" stroke="#b2b2b2" stroke-width="0.6"/>
<rect x="277.5" y="353.35" width="127.7" height="0.55" fill="#f0a0a0"/>
<text x="275.4" y="333.4" font-size="9.3" text-anchor="end" fill="#000">20</text>
<text x="275.4" y="354.2" font-size="9.3" text-anchor="end" fill="#000">0</text>
<text x="275.4" y="375.2" font-size="9.3" text-anchor="end" fill="#000">-20</text>
<text x="277.9" y="393.1" font-size="9.3" text-anchor="middle" fill="#000">-1.0</text>
<text x="297.75" y="393.1" font-size="9.3" text-anchor="middle" fill="#000">-0.5</text>
<text x="319.2" y="393.1" font-size="9.3" text-anchor="middle" fill="#000">0</text>
<text x="337.45" y="393.1" font-size="9.3" text-anchor="middle" fill="#000">0.5</text>
<text x="357.3" y="393.1" font-size="9.3" text-anchor="middle" fill="#000">1.0</text>
<text x="377.15" y="393.1" font-size="9.3" text-anchor="middle" fill="#000">1.5</text>
<text x="397" y="393.1" font-size="9.3" text-anchor="middle" fill="#000">2.0</text>
<text x="340.2" y="404.2" font-size="9.2" text-anchor="middle" fill="#000">Time (ms)</text>
<text x="260.65" y="351.9" font-size="9.3" text-anchor="middle" fill="#000" transform="rotate(-90 260.65 351.9)">Voltage (µV)</text>
<g fill="none" stroke="#1c1cf2" stroke-width="0.4" stroke-opacity="0.56" stroke-linejoin="round"><polyline points="283.6,354.1 285.5,353.7 287.5,353.4 289.5,353.0 291.5,352.7 293.5,352.4 295.5,352.1 297.5,351.8 299.4,351.5 301.4,350.9 303.4,350.2 305.4,349.2 307.4,347.9 309.4,346.7 311.3,345.6 313.3,344.9 315.3,345.0 317.3,345.7 319.3,347.1 321.3,348.9 323.3,350.9 325.2,352.9 327.2,354.6 329.2,356.1 331.2,357.3 333.2,358.3 335.2,359.0 337.2,359.4 339.1,359.5 341.1,359.2 343.1,358.5 345.1,357.4 347.1,356.0 349.1,354.5 351.0,353.0 353.0,351.8 355.0,351.0 357.0,350.7 359.0,350.9 361.0,351.7 363.0,352.7 364.9,354.0 366.9,355.3 368.9,356.5 370.9,357.5 372.9,358.4 374.9,359.0 376.9,359.3 378.8,359.4 380.8,359.3 382.8,359.0 384.8,358.5 386.8,357.9 388.8,357.1 390.7,356.4 392.7,355.6 394.7,354.8 396.7,354.1 398.7,353.5"/><polyline points="283.6,351.5 285.5,351.7 287.5,352.0 289.5,352.3 291.5,352.6 293.5,352.9 295.5,353.2 297.5,353.6 299.4,353.9 301.4,354.2 303.4,354.5 305.4,354.7 307.4,354.8 309.4,354.6 311.3,354.1 313.3,352.9 315.3,350.8 317.3,347.7 319.3,344.0 321.3,340.5 323.3,338.2 325.2,338.1 327.2,340.3 329.2,344.1 331.2,348.6 333.2,352.9 335.2,356.4 337.2,359.0 339.1,360.8 341.1,362.2 343.1,363.2 345.1,364.0 347.1,364.5 349.1,364.8 351.0,364.9 353.0,364.8 355.0,364.5 357.0,364.1 359.0,363.6 361.0,363.1 363.0,362.7 364.9,362.3 366.9,361.9 368.9,361.6 370.9,361.3 372.9,361.1 374.9,360.8 376.9,360.5 378.8,360.1 380.8,359.7 382.8,359.2 384.8,358.6 386.8,357.8 388.8,357.0 390.7,356.2 392.7,355.3 394.7,354.4 396.7,353.5 398.7,352.8"/><polyline points="283.6,352.8 285.5,352.4 287.5,352.1 289.5,351.8 291.5,351.6 293.5,351.5 295.5,351.4 297.5,351.4 299.4,351.4 301.4,351.5 303.4,351.6 305.4,351.8 307.4,351.8 309.4,351.4 311.3,350.5 313.3,348.6 315.3,345.5 317.3,341.7 319.3,337.9 321.3,335.3 323.3,334.9 325.2,337.2 327.2,341.6 329.2,346.9 331.2,352.1 333.2,356.3 335.2,359.4 337.2,361.5 339.1,363.0 341.1,364.0 343.1,364.6 345.1,365.0 347.1,365.2 349.1,365.1 351.0,364.8 353.0,364.3 355.0,363.7 357.0,363.1 359.0,362.4 361.0,361.8 363.0,361.3 364.9,360.8 366.9,360.4 368.9,360.0 370.9,359.6 372.9,359.3 374.9,358.9 376.9,358.5 378.8,358.1 380.8,357.6 382.8,357.0 384.8,356.3 386.8,355.6 388.8,354.9 390.7,354.1 392.7,353.3 394.7,352.5 396.7,351.9 398.7,351.4"/><polyline points="283.6,353.8 285.5,353.8 287.5,353.8 289.5,353.8 291.5,353.7 293.5,353.6 295.5,353.5 297.5,353.4 299.4,353.2 301.4,353.1 303.4,352.9 305.4,352.6 307.4,352.3 309.4,351.9 311.3,351.2 313.3,349.9 315.3,347.8 317.3,344.7 319.3,340.8 321.3,336.8 323.3,333.8 325.2,332.9 327.2,334.5 329.2,338.4 331.2,343.5 333.2,348.6 335.2,353.1 337.2,356.6 339.1,359.2 341.1,361.1 343.1,362.6 345.1,363.8 347.1,364.7 349.1,365.3 351.0,365.7 353.0,365.8 355.0,365.6 357.0,365.3 359.0,364.8 361.0,364.3 363.0,363.7 364.9,363.1 366.9,362.5 368.9,361.9 370.9,361.4 372.9,360.9 374.9,360.4 376.9,359.9 378.8,359.4 380.8,358.9 382.8,358.3 384.8,357.7 386.8,357.1 388.8,356.5 390.7,355.8 392.7,355.1 394.7,354.4 396.7,353.8 398.7,353.3"/><polyline points="283.6,350.7 285.5,350.7 287.5,350.7 289.5,350.8 291.5,350.8 293.5,351.0 295.5,351.1 297.5,351.3 299.4,351.6 301.4,351.8 303.4,352.1 305.4,352.3 307.4,352.5 309.4,352.4 311.3,351.9 313.3,350.7 315.3,348.4 317.3,344.8 319.3,340.5 321.3,336.4 323.3,333.8 325.2,334.0 327.2,337.0 329.2,342.3 331.2,348.5 333.2,354.5 335.2,359.4 337.2,363.2 339.1,365.9 341.1,367.9 343.1,369.4 345.1,370.5 347.1,371.2 349.1,371.5 351.0,371.3 353.0,370.9 355.0,370.1 357.0,369.2 359.0,368.1 361.0,366.9 363.0,365.7 364.9,364.6 366.9,363.6 368.9,362.7 370.9,361.9 372.9,361.1 374.9,360.4 376.9,359.7 378.8,359.0 380.8,358.3 382.8,357.6 384.8,356.8 386.8,356.0 388.8,355.1 390.7,354.3 392.7,353.4 394.7,352.6 396.7,351.8 398.7,351.3"/><polyline points="283.6,352.7 285.5,352.7 287.5,352.7 289.5,352.6 291.5,352.6 293.5,352.5 295.5,352.5 297.5,352.4 299.4,352.4 301.4,352.4 303.4,352.4 305.4,352.5 307.4,352.5 309.4,352.6 311.3,352.5 313.3,352.2 315.3,351.4 317.3,349.8 319.3,347.5 321.3,344.9 323.3,342.5 325.2,341.4 327.2,342.3 329.2,345.1 331.2,349.4 333.2,354.3 335.2,359.0 337.2,362.9 339.1,366.1 341.1,368.6 343.1,370.5 345.1,372.0 347.1,373.0 349.1,373.5 351.0,373.6 353.0,373.3 355.0,372.5 357.0,371.5 359.0,370.1 361.0,368.7 363.0,367.1 364.9,365.7 366.9,364.3 368.9,363.0 370.9,361.8 372.9,360.8 374.9,359.9 376.9,359.1 378.8,358.3 380.8,357.5 382.8,356.8 384.8,356.0 386.8,355.2 388.8,354.4 390.7,353.5 392.7,352.7 394.7,351.8 396.7,351.1 398.7,350.5"/><polyline points="283.6,352.7 285.5,352.4 287.5,352.1 289.5,352.0 291.5,351.9 293.5,351.9 295.5,351.9 297.5,352.1 299.4,352.3 301.4,352.6 303.4,352.8 305.4,353.1 307.4,353.4 309.4,353.5 311.3,353.2 313.3,352.4 315.3,350.6 317.3,347.7 319.3,343.6 321.3,338.9 323.3,335.0 325.2,333.1 327.2,333.9 329.2,337.3 331.2,342.4 333.2,347.8 335.2,352.7 337.2,356.5 339.1,359.3 341.1,361.4 343.1,362.9 345.1,364.1 347.1,365.1 349.1,365.8 351.0,366.3 353.0,366.5 355.0,366.5 357.0,366.3 359.0,365.8 361.0,365.3 363.0,364.6 364.9,363.8 366.9,363.0 368.9,362.2 370.9,361.4 372.9,360.5 374.9,359.7 376.9,358.8 378.8,357.9 380.8,357.1 382.8,356.3 384.8,355.4 386.8,354.6 388.8,353.9 390.7,353.2 392.7,352.6 394.7,352.2 396.7,351.8 398.7,351.7"/><polyline points="283.6,353.4 285.5,353.2 287.5,353.0 289.5,352.8 291.5,352.6 293.5,352.5 295.5,352.4 297.5,352.3 299.4,352.2 301.4,352.2 303.4,352.2 305.4,352.2 307.4,352.1 309.4,351.9 311.3,351.3 313.3,350.1 315.3,347.9 317.3,344.8 319.3,341.1 321.3,337.8 323.3,336.0 325.2,336.5 327.2,339.3 329.2,343.8 331.2,348.8 333.2,353.4 335.2,357.1 337.2,359.9 339.1,361.8 341.1,363.2 343.1,364.3 345.1,365.0 347.1,365.5 349.1,365.7 351.0,365.6 353.0,365.3 355.0,364.9 357.0,364.2 359.0,363.5 361.0,362.7 363.0,362.0 364.9,361.2 366.9,360.4 368.9,359.7 370.9,359.0 372.9,358.3 374.9,357.6 376.9,356.9 378.8,356.2 380.8,355.5 382.8,354.8 384.8,354.1 386.8,353.4 388.8,352.6 390.7,352.0 392.7,351.3 394.7,350.8 396.7,350.4 398.7,350.2"/><polyline points="283.6,353.6 285.5,353.4 287.5,353.2 289.5,353.0 291.5,352.8 293.5,352.6 295.5,352.5 297.5,352.3 299.4,352.3 301.4,352.2 303.4,352.2 305.4,352.2 307.4,352.1 309.4,351.7 311.3,350.8 313.3,349.1 315.3,346.3 317.3,342.7 319.3,339.0 321.3,336.3 323.3,335.6 325.2,337.4 327.2,341.4 329.2,346.6 331.2,351.7 333.2,356.1 335.2,359.4 337.2,361.8 339.1,363.5 341.1,364.6 343.1,365.4 345.1,365.9 347.1,366.1 349.1,366.0 351.0,365.7 353.0,365.2 355.0,364.5 357.0,363.7 359.0,363.0 361.0,362.2 363.0,361.6 364.9,361.0 366.9,360.5 368.9,360.1 370.9,359.8 372.9,359.5 374.9,359.2 376.9,358.9 378.8,358.6 380.8,358.2 382.8,357.8 384.8,357.3 386.8,356.6 388.8,356.0 390.7,355.2 392.7,354.5 394.7,353.7 396.7,353.0 398.7,352.4"/><polyline points="283.6,353.5 285.5,353.4 287.5,353.3 289.5,353.1 291.5,353.0 293.5,352.9 295.5,352.8 297.5,352.8 299.4,352.7 301.4,352.7 303.4,352.7 305.4,352.7 307.4,352.7 309.4,352.5 311.3,352.0 313.3,350.9 315.3,348.9 317.3,345.9 319.3,342.3 321.3,338.8 323.3,336.6 325.2,336.4 327.2,338.7 329.2,342.9 331.2,348.0 333.2,352.9 335.2,357.1 337.2,360.3 339.1,362.7 341.1,364.5 343.1,365.9 345.1,366.9 347.1,367.7 349.1,368.1 351.0,368.2 353.0,368.0 355.0,367.6 357.0,367.0 359.0,366.3 361.0,365.5 363.0,364.7 364.9,363.9 366.9,363.2 368.9,362.5 370.9,361.8 372.9,361.2 374.9,360.5 376.9,359.9 378.8,359.2 380.8,358.4 382.8,357.6 384.8,356.7 386.8,355.8 388.8,354.8 390.7,353.8 392.7,352.8 394.7,351.9 396.7,351.1 398.7,350.5"/><polyline points="283.6,352.6 285.5,352.5 287.5,352.3 289.5,352.2 291.5,352.0 293.5,351.9 295.5,351.9 297.5,351.8 299.4,351.8 301.4,351.7 303.4,351.7 305.4,351.7 307.4,351.6 309.4,351.4 311.3,350.7 313.3,349.3 315.3,346.8 317.3,343.1 319.3,338.6 321.3,334.3 323.3,331.5 325.2,331.4 327.2,334.2 329.2,339.3 331.2,345.3 333.2,351.1 335.2,355.8 337.2,359.4 339.1,362.0 341.1,363.9 343.1,365.3 345.1,366.4 347.1,367.1 349.1,367.5 351.0,367.6 353.0,367.5 355.0,367.0 357.0,366.5 359.0,365.7 361.0,365.0 363.0,364.2 364.9,363.4 366.9,362.7 368.9,362.0 370.9,361.3 372.9,360.7 374.9,360.0 376.9,359.4 378.8,358.8 380.8,358.2 382.8,357.5 384.8,356.8 386.8,356.0 388.8,355.2 390.7,354.5 392.7,353.7 394.7,353.0 396.7,352.4 398.7,352.0"/><polyline points="283.6,354.5 285.5,354.2 287.5,353.9 289.5,353.6 291.5,353.3 293.5,352.9 295.5,352.5 297.5,352.2 299.4,351.9 301.4,351.6 303.4,351.3 305.4,351.1 307.4,350.9 309.4,350.6 311.3,350.0 313.3,348.9 315.3,346.9 317.3,343.8 319.3,340.0 321.3,336.1 323.3,333.4 325.2,333.0 327.2,335.4 329.2,340.1 331.2,345.9 333.2,351.7 335.2,356.7 337.2,360.6 339.1,363.4 341.1,365.5 343.1,367.1 345.1,368.2 347.1,369.0 349.1,369.4 351.0,369.5 353.0,369.1 355.0,368.5 357.0,367.6 359.0,366.6 361.0,365.4 363.0,364.1 364.9,362.9 366.9,361.6 368.9,360.5 370.9,359.3 372.9,358.3 374.9,357.3 376.9,356.4 378.8,355.5 380.8,354.7 382.8,354.0 384.8,353.3 386.8,352.7 388.8,352.1 390.7,351.6 392.7,351.2 394.7,351.0 396.7,350.9 398.7,351.0"/><polyline points="283.6,354.9 285.5,354.8 287.5,354.6 289.5,354.4 291.5,354.2 293.5,354.0 295.5,353.8 297.5,353.6 299.4,353.4 301.4,353.3 303.4,353.2 305.4,353.0 307.4,352.8 309.4,352.2 311.3,351.1 313.3,349.2 315.3,346.3 317.3,342.6 319.3,339.0 321.3,336.5 323.3,336.1 325.2,338.1 327.2,342.2 329.2,347.1 331.2,352.0 333.2,356.0 335.2,359.1 337.2,361.2 339.1,362.8 341.1,363.9 343.1,364.7 345.1,365.2 347.1,365.4 349.1,365.3 351.0,365.1 353.0,364.6 355.0,364.1 357.0,363.4 359.0,362.7 361.0,362.1 363.0,361.5 364.9,361.0 366.9,360.6 368.9,360.2 370.9,359.8 372.9,359.4 374.9,359.0 376.9,358.6 378.8,358.1 380.8,357.5 382.8,356.9 384.8,356.2 386.8,355.5 388.8,354.7 390.7,353.9 392.7,353.1 394.7,352.4 396.7,351.8 398.7,351.4"/><polyline points="283.6,356.9 285.5,356.9 287.5,356.8 289.5,356.5 291.5,356.1 293.5,355.6 295.5,355.0 297.5,354.4 299.4,353.7 301.4,353.1 303.4,352.4 305.4,351.8 307.4,351.2 309.4,350.4 311.3,349.1 313.3,347.1 315.3,344.2 317.3,340.3 319.3,336.3 321.3,333.3 323.3,332.5 325.2,334.4 327.2,338.8 329.2,344.7 331.2,350.8 333.2,356.1 335.2,360.2 337.2,363.2 339.1,365.2 341.1,366.6 343.1,367.4 345.1,367.8 347.1,367.8 349.1,367.4 351.0,366.7 353.0,365.6 355.0,364.4 357.0,363.1 359.0,361.8 361.0,360.6 363.0,359.6 364.9,358.7 366.9,358.1 368.9,357.6 370.9,357.3 372.9,357.2 374.9,357.2 376.9,357.2 378.8,357.2 380.8,357.2 382.8,357.1 384.8,356.9 386.8,356.6 388.8,356.1 390.7,355.5 392.7,354.7 394.7,353.9 396.7,353.1 398.7,352.3"/><polyline points="283.6,352.6 285.5,352.0 287.5,351.4 289.5,350.8 291.5,350.2 293.5,349.7 295.5,349.2 297.5,348.8 299.4,348.5 301.4,348.2 303.4,348.0 305.4,347.9 307.4,347.9 309.4,347.9 311.3,347.8 313.3,347.5 315.3,346.6 317.3,345.0 319.3,342.3 321.3,339.1 323.3,336.0 325.2,334.1 327.2,334.4 329.2,337.1 331.2,341.9 333.2,347.5 335.2,353.0 337.2,357.6 339.1,361.2 341.1,363.9 343.1,366.0 345.1,367.6 347.1,368.8 349.1,369.7 351.0,370.2 353.0,370.4 355.0,370.2 357.0,369.8 359.0,369.1 361.0,368.2 363.0,367.2 364.9,366.0 366.9,364.8 368.9,363.6 370.9,362.3 372.9,361.1 374.9,359.9 376.9,358.7 378.8,357.5 380.8,356.3 382.8,355.2 384.8,354.1 386.8,353.0 388.8,352.0 390.7,351.1 392.7,350.3 394.7,349.6 396.7,349.1 398.7,348.9"/><polyline points="283.6,355.3 285.5,355.4 287.5,355.4 289.5,355.3 291.5,355.2 293.5,355.0 295.5,354.7 297.5,354.4 299.4,354.0 301.4,353.6 303.4,353.2 305.4,352.8 307.4,352.2 309.4,351.6 311.3,350.5 313.3,348.9 315.3,346.5 317.3,343.3 319.3,339.9 321.3,337.0 323.3,335.7 325.2,336.7 327.2,339.9 329.2,344.5 331.2,349.7 333.2,354.6 335.2,358.6 337.2,361.9 339.1,364.4 341.1,366.5 343.1,368.1 345.1,369.3 347.1,370.1 349.1,370.5 351.0,370.5 353.0,370.1 355.0,369.4 357.0,368.5 359.0,367.4 361.0,366.2 363.0,364.9 364.9,363.7 366.9,362.5 368.9,361.4 370.9,360.3 372.9,359.3 374.9,358.4 376.9,357.5 378.8,356.6 380.8,355.8 382.8,355.1 384.8,354.4 386.8,353.7 388.8,353.1 390.7,352.5 392.7,352.0 394.7,351.6 396.7,351.4 398.7,351.3"/><polyline points="283.6,351.3 285.5,351.4 287.5,351.4 289.5,351.5 291.5,351.6 293.5,351.8 295.5,351.9 297.5,352.1 299.4,352.2 301.4,352.4 303.4,352.5 305.4,352.7 307.4,352.8 309.4,352.7 311.3,352.4 313.3,351.7 315.3,350.2 317.3,347.9 319.3,344.7 321.3,341.4 323.3,338.9 325.2,338.0 327.2,339.3 329.2,342.6 331.2,347.1 333.2,351.9 335.2,356.1 337.2,359.5 339.1,362.2 341.1,364.2 343.1,365.9 345.1,367.2 347.1,368.2 349.1,368.9 351.0,369.3 353.0,369.4 355.0,369.1 357.0,368.7 359.0,368.1 361.0,367.4 363.0,366.6 364.9,365.9 366.9,365.2 368.9,364.5 370.9,363.8 372.9,363.1 374.9,362.5 376.9,361.8 378.8,361.1 380.8,360.3 382.8,359.5 384.8,358.5 386.8,357.5 388.8,356.5 390.7,355.4 392.7,354.3 394.7,353.2 396.7,352.2 398.7,351.4"/><polyline points="283.6,351.8 285.5,351.6 287.5,351.5 289.5,351.4 291.5,351.4 293.5,351.4 295.5,351.4 297.5,351.5 299.4,351.5 301.4,351.6 303.4,351.6 305.4,351.7 307.4,351.6 309.4,351.3 311.3,350.6 313.3,349.2 315.3,346.8 317.3,343.3 319.3,339.1 321.3,334.9 323.3,332.1 325.2,331.6 327.2,333.8 329.2,337.9 331.2,343.0 333.2,347.9 335.2,351.9 337.2,355.0 339.1,357.2 341.1,358.9 343.1,360.3 345.1,361.4 347.1,362.4 349.1,363.2 351.0,363.9 353.0,364.3 355.0,364.6 357.0,364.8 359.0,364.8 361.0,364.7 363.0,364.6 364.9,364.4 366.9,364.1 368.9,363.8 370.9,363.4 372.9,362.9 374.9,362.4 376.9,361.7 378.8,361.0 380.8,360.3 382.8,359.4 384.8,358.5 386.8,357.5 388.8,356.6 390.7,355.6 392.7,354.7 394.7,353.9 396.7,353.2 398.7,352.7"/><polyline points="283.6,353.0 285.5,353.1 287.5,353.1 289.5,353.2 291.5,353.3 293.5,353.4 295.5,353.4 297.5,353.5 299.4,353.5 301.4,353.6 303.4,353.6 305.4,353.5 307.4,353.4 309.4,353.0 311.3,352.0 313.3,350.2 315.3,347.4 317.3,343.6 319.3,339.4 321.3,335.8 323.3,334.1 325.2,334.9 327.2,338.2 329.2,343.0 331.2,348.1 333.2,352.7 335.2,356.2 337.2,358.8 339.1,360.7 341.1,362.0 343.1,363.0 345.1,363.8 347.1,364.3 349.1,364.7 351.0,364.8 353.0,364.7 355.0,364.5 357.0,364.1 359.0,363.7 361.0,363.3 363.0,362.8 364.9,362.4 366.9,361.9 368.9,361.5 370.9,361.1 372.9,360.6 374.9,360.1 376.9,359.6 378.8,359.0 380.8,358.4 382.8,357.6 384.8,356.9 386.8,356.0 388.8,355.2 390.7,354.3 392.7,353.4 394.7,352.6 396.7,351.9 398.7,351.4"/><polyline points="283.6,353.8 285.5,353.7 287.5,353.6 289.5,353.4 291.5,353.3 293.5,353.1 295.5,352.9 297.5,352.6 299.4,352.2 301.4,351.5 303.4,350.5 305.4,349.2 307.4,347.7 309.4,346.1 311.3,344.6 313.3,343.6 315.3,343.2 317.3,343.7 319.3,344.8 321.3,346.4 323.3,348.3 325.2,350.2 327.2,352.0 329.2,353.7 331.2,355.2 333.2,356.5 335.2,357.6 337.2,358.4 339.1,359.0 341.1,359.1 343.1,358.9 345.1,358.2 347.1,357.3 349.1,356.1 351.0,354.9 353.0,353.8 355.0,353.1 357.0,352.8 359.0,352.9 361.0,353.4 363.0,354.3 364.9,355.2 366.9,356.2 368.9,357.1 370.9,357.8 372.9,358.4 374.9,358.7 376.9,358.9 378.8,358.9 380.8,358.7 382.8,358.4 384.8,358.0 386.8,357.6 388.8,357.1 390.7,356.6 392.7,356.1 394.7,355.6 396.7,355.2 398.7,354.9"/><polyline points="283.6,353.0 285.5,353.0 287.5,353.0 289.5,353.1 291.5,353.2 293.5,353.3 295.5,353.4 297.5,353.5 299.4,353.6 301.4,353.8 303.4,353.9 305.4,354.0 307.4,353.9 309.4,353.5 311.3,352.6 313.3,350.8 315.3,347.8 317.3,343.7 319.3,339.1 321.3,335.2 323.3,333.1 325.2,333.8 327.2,337.1 329.2,342.1 331.2,347.5 333.2,352.2 335.2,355.9 337.2,358.5 339.1,360.3 341.1,361.6 343.1,362.5 345.1,363.2 347.1,363.7 349.1,364.0 351.0,364.0 353.0,363.9 355.0,363.7 357.0,363.4 359.0,363.0 361.0,362.6 363.0,362.2 364.9,361.8 366.9,361.4 368.9,361.1 370.9,360.7 372.9,360.4 374.9,359.9 376.9,359.4 378.8,358.9 380.8,358.3 382.8,357.6 384.8,356.8 386.8,356.0 388.8,355.1 390.7,354.2 392.7,353.3 394.7,352.5 396.7,351.8 398.7,351.3"/><polyline points="283.6,356.0 285.5,356.2 287.5,356.3 289.5,356.3 291.5,356.2 293.5,355.9 295.5,355.6 297.5,355.1 299.4,354.6 301.4,354.1 303.4,353.5 305.4,352.8 307.4,352.1 309.4,351.2 311.3,349.8 313.3,347.7 315.3,344.6 317.3,340.5 319.3,336.1 321.3,332.4 323.3,330.6 325.2,331.6 327.2,335.2 329.2,340.5 331.2,346.3 333.2,351.5 335.2,355.6 337.2,358.6 339.1,360.8 341.1,362.5 343.1,363.7 345.1,364.7 347.1,365.3 349.1,365.7 351.0,365.8 353.0,365.6 355.0,365.3 357.0,364.8 359.0,364.3 361.0,363.7 363.0,363.0 364.9,362.4 366.9,361.9 368.9,361.3 370.9,360.7 372.9,360.2 374.9,359.6 376.9,359.0 378.8,358.4 380.8,357.7 382.8,356.9 384.8,356.1 386.8,355.2 388.8,354.2 390.7,353.3 392.7,352.3 394.7,351.4 396.7,350.7 398.7,350.1"/><polyline points="283.6,353.6 285.5,353.7 287.5,353.8 289.5,353.8 291.5,353.9 293.5,353.8 295.5,353.6 297.5,353.3 299.4,352.7 301.4,351.9 303.4,350.7 305.4,349.2 307.4,347.4 309.4,345.5 311.3,343.7 313.3,342.4 315.3,341.8 317.3,342.0 319.3,343.0 321.3,344.5 323.3,346.4 325.2,348.4 327.2,350.3 329.2,352.1 331.2,353.8 333.2,355.4 335.2,356.9 337.2,358.2 339.1,359.1 341.1,359.7 343.1,359.9 345.1,359.6 347.1,359.0 349.1,358.1 351.0,357.1 353.0,356.2 355.0,355.6 357.0,355.3 359.0,355.4 361.0,355.7 363.0,356.3 364.9,357.0 366.9,357.7 368.9,358.2 370.9,358.5 372.9,358.7 374.9,358.6 376.9,358.4 378.8,358.1 380.8,357.7 382.8,357.2 384.8,356.6 386.8,356.1 388.8,355.6 390.7,355.1 392.7,354.8 394.7,354.5 396.7,354.4 398.7,354.3"/><polyline points="283.6,356.8 285.5,356.9 287.5,356.9 289.5,356.9 291.5,356.9 293.5,356.8 295.5,356.7 297.5,356.5 299.4,356.3 301.4,356.0 303.4,355.6 305.4,355.0 307.4,354.2 309.4,352.9 311.3,350.7 313.3,347.4 315.3,342.8 317.3,337.5 319.3,332.6 321.3,329.6 323.3,329.4 325.2,332.3 327.2,337.4 329.2,343.3 331.2,348.9 333.2,353.5 335.2,357.0 337.2,359.5 339.1,361.5 341.1,362.9 343.1,364.1 345.1,364.9 347.1,365.5 349.1,365.7 351.0,365.6 353.0,365.3 355.0,364.8 357.0,364.3 359.0,363.8 361.0,363.3 363.0,362.9 364.9,362.6 366.9,362.4 368.9,362.2 370.9,362.1 372.9,362.0 374.9,361.8 376.9,361.6 378.8,361.3 380.8,361.0 382.8,360.5 384.8,359.8 386.8,359.1 388.8,358.3 390.7,357.4 392.7,356.4 394.7,355.5 396.7,354.6 398.7,353.8"/><polyline points="283.6,351.5 285.5,351.8 287.5,352.1 289.5,352.4 291.5,352.6 293.5,352.9 295.5,353.1 297.5,353.2 299.4,353.4 301.4,353.5 303.4,353.6 305.4,353.5 307.4,353.4 309.4,353.0 311.3,352.0 313.3,350.3 315.3,347.5 317.3,343.8 319.3,339.8 321.3,336.5 323.3,335.0 325.2,336.0 327.2,339.2 329.2,343.9 331.2,348.8 333.2,353.2 335.2,356.7 337.2,359.2 339.1,361.1 341.1,362.5 343.1,363.6 345.1,364.5 347.1,365.1 349.1,365.5 351.0,365.7 353.0,365.7 355.0,365.5 357.0,365.1 359.0,364.8 361.0,364.3 363.0,363.9 364.9,363.4 366.9,363.0 368.9,362.6 370.9,362.1 372.9,361.6 374.9,361.1 376.9,360.5 378.8,359.9 380.8,359.1 382.8,358.4 384.8,357.5 386.8,356.6 388.8,355.7 390.7,354.8 392.7,353.9 394.7,353.0 396.7,352.3 398.7,351.8"/><polyline points="283.6,353.4 285.5,353.5 287.5,353.6 289.5,353.6 291.5,353.7 293.5,353.7 295.5,353.8 297.5,353.8 299.4,353.8 301.4,353.8 303.4,353.9 305.4,353.9 307.4,353.8 309.4,353.6 311.3,353.0 313.3,351.9 315.3,349.7 317.3,346.4 319.3,342.1 321.3,337.4 323.3,333.7 325.2,332.3 327.2,333.8 329.2,337.9 331.2,343.4 333.2,349.2 335.2,354.2 337.2,358.0 339.1,360.8 341.1,362.8 343.1,364.2 345.1,365.3 347.1,366.1 349.1,366.6 351.0,366.7 353.0,366.6 355.0,366.3 357.0,365.8 359.0,365.1 361.0,364.3 363.0,363.5 364.9,362.8 366.9,362.0 368.9,361.3 370.9,360.6 372.9,360.0 374.9,359.3 376.9,358.7 378.8,358.1 380.8,357.5 382.8,356.8 384.8,356.1 386.8,355.4 388.8,354.6 390.7,353.9 392.7,353.2 394.7,352.5 396.7,351.9 398.7,351.5"/></g>
<rect x="455.7" y="321.5" width="128.5" height="63" fill="#fff" stroke="#b2b2b2" stroke-width="0.6"/>
<rect x="456.1" y="353.35" width="127.7" height="0.55" fill="#f0a0a0"/>
<text x="454" y="333.4" font-size="9.3" text-anchor="end" fill="#000">20</text>
<text x="454" y="354.2" font-size="9.3" text-anchor="end" fill="#000">0</text>
<text x="454" y="375.2" font-size="9.3" text-anchor="end" fill="#000">-20</text>
<text x="456.5" y="393.1" font-size="9.3" text-anchor="middle" fill="#000">-1.0</text>
<text x="476.35" y="393.1" font-size="9.3" text-anchor="middle" fill="#000">-0.5</text>
<text x="497.8" y="393.1" font-size="9.3" text-anchor="middle" fill="#000">0</text>
<text x="516.05" y="393.1" font-size="9.3" text-anchor="middle" fill="#000">0.5</text>
<text x="535.9" y="393.1" font-size="9.3" text-anchor="middle" fill="#000">1.0</text>
<text x="555.75" y="393.1" font-size="9.3" text-anchor="middle" fill="#000">1.5</text>
<text x="575.6" y="393.1" font-size="9.3" text-anchor="middle" fill="#000">2.0</text>
<text x="518.8" y="404.2" font-size="9.2" text-anchor="middle" fill="#000">Time (ms)</text>
<text x="439.05" y="351.9" font-size="9.3" text-anchor="middle" fill="#000" transform="rotate(-90 439.05 351.9)">Voltage (µV)</text>
<g fill="none" stroke="#1c1cf2" stroke-width="0.4" stroke-opacity="0.56" stroke-linejoin="round"><polyline points="462.2,357.1 464.1,357.2 466.1,357.2 468.1,357.1 470.1,356.9 472.1,356.7 474.1,356.4 476.1,356.0 478.0,355.7 480.0,355.3 482.0,354.9 484.0,354.6 486.0,354.2 488.0,353.8 489.9,353.1 491.9,351.5 493.9,348.5 495.9,343.4 497.9,336.4 499.9,329.2 501.9,324.4 503.8,324.6 505.8,330.1 507.8,338.8 509.8,348.0 511.8,355.7 513.8,361.2 515.8,364.9 517.7,367.3 519.7,368.7 521.7,369.3 523.7,369.2 525.7,368.4 527.7,367.2 529.6,365.8 531.6,364.3 533.6,362.9 535.6,361.8 537.6,360.9 539.6,360.3 541.6,359.9 543.5,359.7 545.5,359.5 547.5,359.4 549.5,359.2 551.5,359.1 553.5,358.8 555.5,358.6 557.4,358.2 559.4,357.8 561.4,357.3 563.4,356.8 565.4,356.3 567.4,355.7 569.3,355.1 571.3,354.6 573.3,354.1 575.3,353.6 577.3,353.1"/><polyline points="462.2,353.7 464.1,353.8 466.1,353.7 468.1,353.6 470.1,353.4 472.1,353.2 474.1,352.9 476.1,352.5 478.0,352.2 480.0,351.9 482.0,351.7 484.0,351.5 486.0,351.3 488.0,351.3 489.9,351.3 491.9,351.1 493.9,350.6 495.9,349.3 497.9,347.0 499.9,344.1 501.9,341.3 503.8,340.1 505.8,341.5 507.8,345.4 509.8,350.5 511.8,355.7 513.8,360.1 515.8,363.5 517.7,365.9 519.7,367.6 521.7,368.7 523.7,369.1 525.7,369.0 527.7,368.3 529.6,367.3 531.6,366.0 533.6,364.8 535.6,363.6 537.6,362.6 539.6,361.8 541.6,361.2 543.5,360.8 545.5,360.5 547.5,360.2 549.5,360.1 551.5,359.9 553.5,359.7 555.5,359.6 557.4,359.4 559.4,359.1 561.4,358.8 563.4,358.5 565.4,358.1 567.4,357.8 569.3,357.3 571.3,356.9 573.3,356.4 575.3,356.0 577.3,355.5"/><polyline points="462.2,352.8 464.1,352.3 466.1,351.7 468.1,351.2 470.1,350.6 472.1,350.1 474.1,349.7 476.1,349.4 478.0,349.3 480.0,349.3 482.0,349.4 484.0,349.7 486.0,350.1 488.0,350.4 489.9,350.3 491.9,349.2 493.9,346.3 495.9,341.5 497.9,335.5 499.9,330.7 501.9,329.5 503.8,332.9 505.8,339.9 507.8,348.2 509.8,355.3 511.8,360.4 513.8,363.6 515.8,365.3 517.7,366.1 519.7,366.2 521.7,365.8 523.7,364.9 525.7,363.7 527.7,362.4 529.6,361.1 531.6,360.0 533.6,359.1 535.6,358.6 537.6,358.4 539.6,358.4 541.6,358.7 543.5,359.1 545.5,359.6 547.5,360.2 549.5,360.8 551.5,361.3 553.5,361.8 555.5,362.1 557.4,362.3 559.4,362.3 561.4,362.1 563.4,361.7 565.4,361.2 567.4,360.5 569.3,359.6 571.3,358.6 573.3,357.6 575.3,356.4 577.3,355.3"/><polyline points="462.2,351.6 464.1,351.2 466.1,350.9 468.1,350.6 470.1,350.4 472.1,350.3 474.1,350.2 476.1,350.2 478.0,350.3 480.0,350.4 482.0,350.6 484.0,350.9 486.0,351.2 488.0,351.3 489.9,351.0 491.9,349.7 493.9,346.7 495.9,341.9 497.9,336.0 499.9,330.9 501.9,329.2 503.8,332.0 505.8,338.5 507.8,346.4 509.8,353.6 511.8,359.1 513.8,362.8 515.8,365.2 517.7,366.8 519.7,367.6 521.7,367.9 523.7,367.7 525.7,367.0 527.7,366.2 529.6,365.2 531.6,364.4 533.6,363.7 535.6,363.2 537.6,362.9 539.6,362.7 541.6,362.7 543.5,362.7 545.5,362.6 547.5,362.4 549.5,362.2 551.5,361.9 553.5,361.4 555.5,360.8 557.4,360.1 559.4,359.4 561.4,358.5 563.4,357.6 565.4,356.7 567.4,355.9 569.3,355.0 571.3,354.3 573.3,353.6 575.3,353.1 577.3,352.7"/><polyline points="462.2,353.6 464.1,353.5 466.1,353.3 468.1,353.1 470.1,352.8 472.1,352.6 474.1,352.3 476.1,352.2 478.0,352.0 480.0,351.9 482.0,352.0 484.0,352.0 486.0,352.2 488.0,352.2 489.9,351.9 491.9,350.8 493.9,348.1 495.9,343.6 497.9,337.8 499.9,332.6 501.9,330.4 503.8,332.7 505.8,339.1 507.8,347.4 509.8,355.3 511.8,361.4 513.8,365.7 515.8,368.6 517.7,370.3 519.7,371.2 521.7,371.4 523.7,370.9 525.7,369.9 527.7,368.5 529.6,367.0 531.6,365.5 533.6,364.2 535.6,363.1 537.6,362.3 539.6,361.7 541.6,361.3 543.5,361.0 545.5,360.7 547.5,360.4 549.5,360.1 551.5,359.7 553.5,359.3 555.5,358.8 557.4,358.2 559.4,357.6 561.4,356.9 563.4,356.2 565.4,355.5 567.4,354.8 569.3,354.1 571.3,353.5 573.3,352.9 575.3,352.5 577.3,352.1"/><polyline points="462.2,353.5 464.1,353.2 466.1,352.9 468.1,352.5 470.1,352.2 472.1,352.0 474.1,351.7 476.1,351.6 478.0,351.5 480.0,351.5 482.0,351.6 484.0,351.8 486.0,352.0 488.0,351.8 489.9,350.9 491.9,348.3 493.9,343.5 495.9,336.7 497.9,329.8 499.9,325.7 501.9,326.8 503.8,333.2 505.8,342.7 507.8,352.2 509.8,359.8 511.8,365.0 513.8,368.2 515.8,370.1 517.7,371.0 519.7,371.2 521.7,370.8 523.7,369.9 525.7,368.6 527.7,367.1 529.6,365.5 531.6,364.1 533.6,362.8 535.6,361.8 537.6,360.9 539.6,360.2 541.6,359.7 543.5,359.2 545.5,358.8 547.5,358.4 549.5,358.0 551.5,357.7 553.5,357.3 555.5,356.9 557.4,356.6 559.4,356.2 561.4,355.8 563.4,355.5 565.4,355.1 567.4,354.7 569.3,354.3 571.3,353.9 573.3,353.6 575.3,353.2 577.3,352.9"/><polyline points="462.2,352.4 464.1,352.0 466.1,351.6 468.1,351.2 470.1,350.7 472.1,350.3 474.1,349.8 476.1,349.4 478.0,349.0 480.0,348.7 482.0,348.5 484.0,348.3 486.0,348.3 488.0,348.2 489.9,347.7 491.9,346.5 493.9,343.7 495.9,339.2 497.9,333.5 499.9,328.7 501.9,327.2 503.8,330.4 505.8,337.5 507.8,346.3 509.8,354.7 511.8,361.3 513.8,366.1 515.8,369.4 517.7,371.7 519.7,373.1 521.7,373.7 523.7,373.6 525.7,373.0 527.7,371.8 529.6,370.5 531.6,369.1 533.6,367.9 535.6,366.7 537.6,365.8 539.6,365.0 541.6,364.4 543.5,363.7 545.5,363.1 547.5,362.5 549.5,361.9 551.5,361.2 553.5,360.4 555.5,359.7 557.4,358.9 559.4,358.1 561.4,357.3 563.4,356.5 565.4,355.7 567.4,355.0 569.3,354.4 571.3,353.8 573.3,353.4 575.3,353.0 577.3,352.7"/><polyline points="462.2,351.9 464.1,351.7 466.1,351.4 468.1,351.2 470.1,350.9 472.1,350.7 474.1,350.5 476.1,350.3 478.0,350.2 480.0,350.2 482.0,350.2 484.0,350.3 486.0,350.3 488.0,350.2 489.9,349.7 491.9,348.4 493.9,346.3 495.9,343.9 497.9,342.1 499.9,342.0 501.9,344.2 503.8,348.3 505.8,353.1 507.8,357.6 509.8,361.3 511.8,364.2 513.8,366.3 515.8,367.8 517.7,368.6 519.7,368.9 521.7,368.6 523.7,367.8 525.7,366.9 527.7,365.8 529.6,364.8 531.6,364.1 533.6,363.5 535.6,363.1 537.6,362.9 539.6,362.8 541.6,362.7 543.5,362.6 545.5,362.5 547.5,362.3 549.5,362.0 551.5,361.6 553.5,361.1 555.5,360.5 557.4,359.9 559.4,359.2 561.4,358.4 563.4,357.7 565.4,356.9 567.4,356.2 569.3,355.5 571.3,354.9 573.3,354.3 575.3,353.9 577.3,353.5"/><polyline points="462.2,353.1 464.1,352.8 466.1,352.5 468.1,352.1 470.1,351.7 472.1,351.2 474.1,350.8 476.1,350.4 478.0,350.0 480.0,349.8 482.0,349.6 484.0,349.5 486.0,349.5 488.0,349.5 489.9,349.4 491.9,348.6 493.9,346.8 495.9,343.5 497.9,339.3 499.9,335.4 501.9,333.7 503.8,335.6 505.8,340.8 507.8,347.6 509.8,354.2 511.8,359.5 513.8,363.4 515.8,366.0 517.7,367.7 519.7,368.8 521.7,369.1 523.7,368.9 525.7,368.2 527.7,367.2 529.6,366.0 531.6,364.8 533.6,363.7 535.6,362.8 537.6,362.1 539.6,361.6 541.6,361.2 543.5,361.0 545.5,360.8 547.5,360.6 549.5,360.5 551.5,360.3 553.5,360.2 555.5,359.9 557.4,359.7 559.4,359.3 561.4,359.0 563.4,358.5 565.4,358.1 567.4,357.6 569.3,357.0 571.3,356.5 573.3,356.0 575.3,355.5 577.3,355.0"/><polyline points="462.2,354.6 464.1,354.4 466.1,354.2 468.1,353.8 470.1,353.4 472.1,353.0 474.1,352.5 476.1,352.0 478.0,351.5 480.0,351.0 482.0,350.6 484.0,350.2 486.0,349.9 488.0,349.5 489.9,348.9 491.9,347.5 493.9,344.6 495.9,339.7 497.9,333.2 499.9,326.9 501.9,323.4 503.8,324.7 505.8,330.9 507.8,339.7 509.8,348.5 511.8,355.7 513.8,360.8 515.8,364.2 517.7,366.6 519.7,368.2 521.7,369.1 523.7,369.4 525.7,369.3 527.7,368.7 529.6,368.0 531.6,367.1 533.6,366.3 535.6,365.5 537.6,364.9 539.6,364.3 541.6,363.8 543.5,363.3 545.5,362.8 547.5,362.2 549.5,361.6 551.5,361.0 553.5,360.3 555.5,359.6 557.4,358.8 559.4,358.1 561.4,357.3 563.4,356.5 565.4,355.8 567.4,355.2 569.3,354.6 571.3,354.1 573.3,353.6 575.3,353.3 577.3,353.1"/><polyline points="462.2,351.1 464.1,351.0 466.1,350.8 468.1,350.6 470.1,350.5 472.1,350.4 474.1,350.3 476.1,350.2 478.0,350.2 480.0,350.2 482.0,350.3 484.0,350.5 486.0,350.6 488.0,350.8 489.9,350.7 491.9,350.0 493.9,347.9 495.9,344.0 497.9,338.3 499.9,332.0 501.9,327.8 503.8,327.7 505.8,332.4 507.8,340.2 509.8,348.6 511.8,355.7 513.8,360.8 515.8,364.2 517.7,366.4 519.7,367.9 521.7,368.6 523.7,368.9 525.7,368.6 527.7,368.0 529.6,367.1 531.6,366.2 533.6,365.2 535.6,364.4 537.6,363.7 539.6,363.1 541.6,362.7 543.5,362.2 545.5,361.8 547.5,361.3 549.5,360.8 551.5,360.3 553.5,359.7 555.5,359.0 557.4,358.3 559.4,357.6 561.4,356.8 563.4,356.0 565.4,355.2 567.4,354.5 569.3,353.9 571.3,353.3 573.3,352.8 575.3,352.4 577.3,352.2"/><polyline points="462.2,355.0 464.1,354.9 466.1,354.8 468.1,354.5 470.1,354.1 472.1,353.7 474.1,353.2 476.1,352.6 478.0,352.0 480.0,351.4 482.0,350.9 484.0,350.3 486.0,349.7 488.0,349.0 489.9,347.7 491.9,345.3 493.9,341.3 495.9,335.5 497.9,329.4 499.9,325.2 501.9,325.0 503.8,329.3 505.8,336.8 507.8,344.9 509.8,351.8 511.8,357.0 513.8,360.6 515.8,363.1 517.7,364.8 519.7,365.9 521.7,366.5 523.7,366.7 525.7,366.4 527.7,365.9 529.6,365.3 531.6,364.6 533.6,364.0 535.6,363.5 537.6,363.1 539.6,362.6 541.6,362.2 543.5,361.7 545.5,361.2 547.5,360.6 549.5,360.0 551.5,359.2 553.5,358.4 555.5,357.6 557.4,356.8 559.4,356.0 561.4,355.2 563.4,354.5 565.4,353.8 567.4,353.2 569.3,352.7 571.3,352.4 573.3,352.1 575.3,352.0 577.3,352.0"/><polyline points="462.2,353.6 464.1,353.3 466.1,353.0 468.1,352.6 470.1,352.2 472.1,351.8 474.1,351.3 476.1,350.9 478.0,350.6 480.0,350.2 482.0,350.0 484.0,349.8 486.0,349.7 488.0,349.5 489.9,348.9 491.9,347.5 493.9,344.4 495.9,339.3 497.9,332.5 499.9,326.3 501.9,323.3 503.8,325.5 505.8,332.5 507.8,341.9 509.8,351.1 511.8,358.4 513.8,363.6 515.8,367.1 517.7,369.4 519.7,370.9 521.7,371.6 523.7,371.6 525.7,371.0 527.7,370.0 529.6,368.8 531.6,367.5 533.6,366.4 535.6,365.4 537.6,364.5 539.6,363.9 541.6,363.4 543.5,362.9 545.5,362.4 547.5,362.0 549.5,361.5 551.5,360.9 553.5,360.3 555.5,359.6 557.4,358.9 559.4,358.2 561.4,357.4 563.4,356.6 565.4,355.9 567.4,355.1 569.3,354.4 571.3,353.8 573.3,353.3 575.3,352.8 577.3,352.5"/><polyline points="462.2,352.3 464.1,351.9 466.1,351.6 468.1,351.4 470.1,351.2 472.1,351.0 474.1,350.9 476.1,350.9 478.0,351.0 480.0,351.2 482.0,351.4 484.0,351.7 486.0,352.0 488.0,352.2 489.9,352.0 491.9,351.1 493.9,349.2 495.9,346.4 497.9,343.6 499.9,341.9 501.9,342.5 503.8,345.4 505.8,349.7 507.8,354.3 509.8,358.1 511.8,361.0 513.8,363.1 515.8,364.5 517.7,365.4 519.7,365.8 521.7,365.8 523.7,365.4 525.7,364.7 527.7,364.0 529.6,363.3 531.6,362.7 533.6,362.4 535.6,362.2 537.6,362.2 539.6,362.2 541.6,362.3 543.5,362.4 545.5,362.3 547.5,362.2 549.5,361.9 551.5,361.5 553.5,361.0 555.5,360.3 557.4,359.6 559.4,358.8 561.4,358.0 563.4,357.2 565.4,356.4 567.4,355.6 569.3,355.0 571.3,354.5 573.3,354.0 575.3,353.8 577.3,353.6"/><polyline points="462.2,350.2 464.1,349.9 466.1,349.7 468.1,349.6 470.1,349.4 472.1,349.4 474.1,349.3 476.1,349.4 478.0,349.5 480.0,349.7 482.0,349.9 484.0,350.2 486.0,350.5 488.0,350.7 489.9,350.3 491.9,348.9 493.9,345.8 495.9,340.8 497.9,334.7 499.9,329.8 501.9,328.4 503.8,331.7 505.8,338.8 507.8,347.3 509.8,355.0 511.8,360.8 513.8,364.9 515.8,367.6 517.7,369.3 519.7,370.3 521.7,370.6 523.7,370.4 525.7,369.6 527.7,368.6 529.6,367.5 531.6,366.5 533.6,365.6 535.6,365.0 537.6,364.6 539.6,364.4 541.6,364.3 543.5,364.2 545.5,364.0 547.5,363.8 549.5,363.6 551.5,363.2 553.5,362.6 555.5,362.0 557.4,361.3 559.4,360.4 561.4,359.5 563.4,358.6 565.4,357.7 567.4,356.7 569.3,355.8 571.3,355.0 573.3,354.3 575.3,353.7 577.3,353.2"/><polyline points="462.2,354.2 464.1,354.1 466.1,353.9 468.1,353.7 470.1,353.4 472.1,353.1 474.1,352.8 476.1,352.5 478.0,352.2 480.0,351.9 482.0,351.7 484.0,351.6 486.0,351.5 488.0,351.4 489.9,351.2 491.9,350.6 493.9,349.0 495.9,345.6 497.9,340.1 499.9,333.3 501.9,327.2 503.8,324.8 505.8,327.5 507.8,334.7 509.8,343.9 511.8,352.5 513.8,359.2 515.8,363.8 517.7,366.8 519.7,368.7 521.7,369.8 523.7,370.1 525.7,369.8 527.7,368.9 529.6,367.7 531.6,366.3 533.6,365.0 535.6,363.7 537.6,362.6 539.6,361.8 541.6,361.1 543.5,360.6 545.5,360.3 547.5,360.0 549.5,359.7 551.5,359.5 553.5,359.2 555.5,359.0 557.4,358.7 559.4,358.4 561.4,358.2 563.4,357.8 565.4,357.5 567.4,357.2 569.3,357.0 571.3,356.7 573.3,356.4 575.3,356.2 577.3,356.0"/><polyline points="462.2,351.7 464.1,351.3 466.1,350.8 468.1,350.4 470.1,349.9 472.1,349.6 474.1,349.3 476.1,349.1 478.0,349.0 480.0,349.0 482.0,349.1 484.0,349.4 486.0,349.7 488.0,350.1 489.9,350.3 491.9,350.0 493.9,348.6 495.9,345.7 497.9,341.5 499.9,337.4 501.9,335.3 503.8,336.7 505.8,341.7 507.8,348.8 509.8,355.9 511.8,361.8 513.8,366.0 515.8,368.9 517.7,370.8 519.7,371.8 521.7,372.0 523.7,371.5 525.7,370.5 527.7,369.0 529.6,367.3 531.6,365.6 533.6,364.0 535.6,362.6 537.6,361.4 539.6,360.5 541.6,359.8 543.5,359.3 545.5,358.9 547.5,358.6 549.5,358.3 551.5,358.1 553.5,357.9 555.5,357.7 557.4,357.6 559.4,357.4 561.4,357.2 563.4,357.0 565.4,356.7 567.4,356.5 569.3,356.3 571.3,356.1 573.3,355.8 575.3,355.6 577.3,355.4"/><polyline points="462.2,355.5 464.1,355.3 466.1,355.1 468.1,354.8 470.1,354.5 472.1,354.1 474.1,353.7 476.1,353.2 478.0,352.8 480.0,352.4 482.0,352.1 484.0,351.8 486.0,351.5 488.0,351.1 489.9,350.2 491.9,348.5 493.9,345.0 495.9,339.7 497.9,333.3 499.9,327.8 501.9,325.9 503.8,328.8 505.8,335.6 507.8,344.0 509.8,351.7 511.8,357.5 513.8,361.5 515.8,364.2 517.7,365.9 519.7,366.9 521.7,367.3 523.7,367.1 525.7,366.5 527.7,365.6 529.6,364.6 531.6,363.6 533.6,362.7 535.6,361.9 537.6,361.2 539.6,360.7 541.6,360.3 543.5,359.9 545.5,359.5 547.5,359.1 549.5,358.6 551.5,358.1 553.5,357.6 555.5,357.0 557.4,356.4 559.4,355.8 561.4,355.2 563.4,354.6 565.4,354.1 567.4,353.6 569.3,353.1 571.3,352.7 573.3,352.4 575.3,352.2 577.3,352.1"/><polyline points="462.2,349.1 464.1,348.9 466.1,348.9 468.1,348.8 470.1,348.9 472.1,348.9 474.1,349.1 476.1,349.2 478.0,349.5 480.0,349.8 482.0,350.2 484.0,350.6 486.0,351.0 488.0,351.4 489.9,351.5 491.9,351.0 493.9,349.0 495.9,345.1 497.9,339.2 499.9,332.8 501.9,328.4 503.8,328.2 505.8,332.7 507.8,340.3 509.8,348.5 511.8,355.2 513.8,359.9 515.8,362.9 517.7,364.7 519.7,365.8 521.7,366.2 523.7,366.2 525.7,365.8 527.7,365.1 529.6,364.2 531.6,363.4 533.6,362.6 535.6,362.0 537.6,361.6 539.6,361.3 541.6,361.2 543.5,361.2 545.5,361.3 547.5,361.4 549.5,361.4 551.5,361.4 553.5,361.4 555.5,361.3 557.4,361.1 559.4,360.8 561.4,360.5 563.4,360.1 565.4,359.6 567.4,359.0 569.3,358.4 571.3,357.8 573.3,357.1 575.3,356.5 577.3,355.9"/><polyline points="462.2,352.9 464.1,352.9 466.1,352.9 468.1,352.8 470.1,352.6 472.1,352.5 474.1,352.3 476.1,352.1 478.0,351.9 480.0,351.7 482.0,351.6 484.0,351.5 486.0,351.4 488.0,351.2 489.9,350.8 491.9,349.8 493.9,348.2 495.9,345.8 497.9,343.5 499.9,342.1 501.9,342.8 503.8,345.5 505.8,349.6 507.8,354.0 509.8,357.9 511.8,361.1 513.8,363.6 515.8,365.4 517.7,366.7 519.7,367.4 521.7,367.6 523.7,367.3 525.7,366.7 527.7,365.9 529.6,365.0 531.6,364.3 533.6,363.7 535.6,363.2 537.6,362.9 539.6,362.8 541.6,362.6 543.5,362.5 545.5,362.3 547.5,362.1 549.5,361.8 551.5,361.4 553.5,360.9 555.5,360.4 557.4,359.7 559.4,359.1 561.4,358.3 563.4,357.6 565.4,356.8 567.4,356.0 569.3,355.3 571.3,354.6 573.3,353.9 575.3,353.4 577.3,352.9"/><polyline points="462.2,352.0 464.1,352.1 466.1,352.1 468.1,352.0 470.1,352.0 472.1,351.9 474.1,351.8 476.1,351.7 478.0,351.7 480.0,351.6 482.0,351.6 484.0,351.6 486.0,351.6 488.0,351.6 489.9,351.4 491.9,350.5 493.9,348.4 495.9,344.4 497.9,338.4 499.9,331.8 501.9,327.0 503.8,326.4 505.8,330.9 507.8,338.9 509.8,347.7 511.8,355.2 513.8,360.8 515.8,364.5 517.7,367.0 519.7,368.5 521.7,369.4 523.7,369.6 525.7,369.2 527.7,368.5 529.6,367.4 531.6,366.3 533.6,365.2 535.6,364.2 537.6,363.4 539.6,362.7 541.6,362.2 543.5,361.8 545.5,361.4 547.5,361.0 549.5,360.6 551.5,360.2 553.5,359.7 555.5,359.1 557.4,358.6 559.4,358.0 561.4,357.3 563.4,356.7 565.4,356.1 567.4,355.5 569.3,354.9 571.3,354.5 573.3,354.0 575.3,353.7 577.3,353.5"/><polyline points="462.2,351.5 464.1,351.8 466.1,352.1 468.1,352.3 470.1,352.6 472.1,352.7 474.1,352.9 476.1,353.0 478.0,353.1 480.0,353.2 482.0,353.4 484.0,353.5 486.0,353.6 488.0,353.6 489.9,353.2 491.9,352.0 493.9,349.1 495.9,344.1 497.9,337.3 499.9,330.5 501.9,326.5 503.8,327.3 505.8,332.9 507.8,341.0 509.8,349.0 511.8,355.2 513.8,359.3 515.8,361.8 517.7,363.3 519.7,364.3 521.7,364.8 523.7,365.1 525.7,365.0 527.7,364.8 529.6,364.5 531.6,364.2 533.6,363.9 535.6,363.6 537.6,363.4 539.6,363.3 541.6,363.2 543.5,363.1 545.5,363.0 547.5,362.8 549.5,362.5 551.5,362.2 553.5,361.8 555.5,361.3 557.4,360.7 559.4,360.0 561.4,359.3 563.4,358.5 565.4,357.7 567.4,356.8 569.3,356.0 571.3,355.2 573.3,354.4 575.3,353.7 577.3,353.0"/><polyline points="462.2,352.2 464.1,352.1 466.1,352.0 468.1,351.9 470.1,351.8 472.1,351.7 474.1,351.5 476.1,351.4 478.0,351.3 480.0,351.3 482.0,351.3 484.0,351.4 486.0,351.5 488.0,351.6 489.9,351.6 491.9,351.1 493.9,349.7 495.9,346.6 497.9,341.7 499.9,336.0 501.9,331.5 503.8,330.5 505.8,334.2 507.8,341.5 509.8,350.0 511.8,357.7 513.8,363.7 515.8,367.9 517.7,370.8 519.7,372.6 521.7,373.7 523.7,374.0 525.7,373.5 527.7,372.6 529.6,371.3 531.6,369.8 533.6,368.3 535.6,367.0 537.6,365.9 539.6,365.0 541.6,364.2 543.5,363.7 545.5,363.2 547.5,362.7 549.5,362.2 551.5,361.8 553.5,361.2 555.5,360.7 557.4,360.1 559.4,359.4 561.4,358.8 563.4,358.1 565.4,357.4 567.4,356.7 569.3,356.0 571.3,355.4 573.3,354.8 575.3,354.3 577.3,353.9"/><polyline points="462.2,354.2 464.1,354.0 466.1,353.7 468.1,353.4 470.1,353.1 472.1,352.7 474.1,352.4 476.1,352.0 478.0,351.6 480.0,351.3 482.0,351.1 484.0,351.0 486.0,350.9 488.0,350.8 489.9,350.5 491.9,349.8 493.9,348.0 495.9,344.5 497.9,339.4 499.9,333.6 501.9,329.5 503.8,329.3 505.8,333.6 507.8,341.1 509.8,349.6 511.8,357.0 513.8,362.6 515.8,366.6 517.7,369.3 519.7,371.0 521.7,371.9 523.7,372.2 525.7,371.7 527.7,370.8 529.6,369.5 531.6,368.0 533.6,366.6 535.6,365.3 537.6,364.2 539.6,363.3 541.6,362.6 543.5,361.9 545.5,361.3 547.5,360.7 549.5,360.2 551.5,359.6 553.5,359.0 555.5,358.3 557.4,357.6 559.4,356.9 561.4,356.2 563.4,355.5 565.4,354.9 567.4,354.3 569.3,353.7 571.3,353.2 573.3,352.8 575.3,352.5 577.3,352.3"/><polyline points="462.2,351.5 464.1,351.2 466.1,350.8 468.1,350.4 470.1,350.0 472.1,349.6 474.1,349.2 476.1,348.9 478.0,348.5 480.0,348.3 482.0,348.1 484.0,348.0 486.0,347.9 488.0,347.8 489.9,347.6 491.9,346.7 493.9,344.6 495.9,340.8 497.9,335.5 499.9,330.1 501.9,327.0 503.8,327.9 505.8,333.1 507.8,340.7 509.8,348.6 511.8,355.1 513.8,359.8 515.8,363.1 517.7,365.4 519.7,366.9 521.7,367.8 523.7,368.2 525.7,368.1 527.7,367.6 529.6,366.9 531.6,366.1 533.6,365.4 535.6,364.9 537.6,364.4 539.6,364.1 541.6,363.8 543.5,363.7 545.5,363.5 547.5,363.3 549.5,363.0 551.5,362.7 553.5,362.4 555.5,362.0 557.4,361.5 559.4,360.9 561.4,360.4 563.4,359.8 565.4,359.1 567.4,358.5 569.3,357.9 571.3,357.3 573.3,356.8 575.3,356.3 577.3,355.8"/><polyline points="462.2,351.4 464.1,351.7 466.1,352.1 468.1,352.5 470.1,353.0 472.1,353.4 474.1,353.8 476.1,354.3 478.0,354.7 480.0,355.1 482.0,355.4 484.0,355.8 486.0,356.0 488.0,356.2 489.9,356.2 491.9,355.8 493.9,354.6 495.9,351.9 497.9,347.2 499.9,341.0 501.9,334.9 503.8,331.4 505.8,332.3 507.8,337.6 509.8,345.4 511.8,353.4 513.8,359.9 515.8,364.7 517.7,368.1 519.7,370.4 521.7,371.9 523.7,372.6 525.7,372.7 527.7,372.2 529.6,371.3 531.6,370.1 533.6,368.9 535.6,367.7 537.6,366.7 539.6,365.9 541.6,365.2 543.5,364.6 545.5,364.1 547.5,363.5 549.5,362.8 551.5,362.1 553.5,361.2 555.5,360.2 557.4,359.1 559.4,357.9 561.4,356.7 563.4,355.4 565.4,354.2 567.4,353.0 569.3,352.0 571.3,351.0 573.3,350.2 575.3,349.6 577.3,349.2"/></g>
<rect x="98.5" y="631.8" width="128.5" height="62.4" fill="#fff" stroke="#b2b2b2" stroke-width="0.6"/>
<rect x="98.9" y="663.05" width="127.7" height="0.55" fill="#f0a0a0"/>
<text x="97.6" y="642.4" font-size="9.3" text-anchor="end" fill="#000">20</text>
<text x="97.6" y="663.4" font-size="9.3" text-anchor="end" fill="#000">0</text>
<text x="97.6" y="684.1" font-size="9.3" text-anchor="end" fill="#000">-20</text>
<text x="99.3" y="703.6" font-size="9.3" text-anchor="middle" fill="#000">-1.0</text>
<text x="119.15" y="703.6" font-size="9.3" text-anchor="middle" fill="#000">-0.5</text>
<text x="140.6" y="703.6" font-size="9.3" text-anchor="middle" fill="#000">0</text>
<text x="158.85" y="703.6" font-size="9.3" text-anchor="middle" fill="#000">0.5</text>
<text x="178.7" y="703.6" font-size="9.3" text-anchor="middle" fill="#000">1.0</text>
<text x="198.55" y="703.6" font-size="9.3" text-anchor="middle" fill="#000">1.5</text>
<text x="218.4" y="703.6" font-size="9.3" text-anchor="middle" fill="#000">2.0</text>
<text x="161.6" y="714.2" font-size="9.2" text-anchor="middle" fill="#000">Time (ms)</text>
<text x="86.05" y="660.85" font-size="9.3" text-anchor="middle" fill="#000" transform="rotate(-90 86.05 660.85)">Voltage (µV)</text>
<g fill="none" stroke="#1c1cf2" stroke-width="0.4" stroke-opacity="0.56" stroke-linejoin="round"><polyline points="105.0,659.8 106.9,659.7 108.9,659.6 110.9,659.4 112.9,659.0 114.9,658.5 116.9,657.9 118.9,657.5 120.8,657.5 122.8,657.8 124.8,658.6 126.8,659.6 128.8,660.8 130.8,662.2 132.7,663.9 134.7,665.8 136.7,668.0 138.7,670.0 140.7,671.5 142.7,672.2 144.7,671.9 146.6,670.7 148.6,668.8 150.6,666.7 152.6,664.8 154.6,663.1 156.6,661.9 158.6,661.0 160.5,660.4 162.5,659.9 164.5,659.6 166.5,659.3 168.5,659.1 170.5,659.0 172.4,659.0 174.4,659.0 176.4,659.0 178.4,659.1 180.4,659.2 182.4,659.3 184.4,659.3 186.3,659.4 188.3,659.4 190.3,659.4 192.3,659.3 194.3,659.3 196.3,659.3 198.3,659.4 200.2,659.6 202.2,659.8 204.2,660.1 206.2,660.5 208.2,660.9 210.2,661.3 212.1,661.6 214.1,661.8 216.1,662.0 218.1,662.0 220.1,662.0"/><polyline points="105.0,663.1 106.9,663.1 108.9,662.9 110.9,662.5 112.9,662.0 114.9,661.2 116.9,660.4 118.9,659.8 120.8,659.4 122.8,659.4 124.8,659.7 126.8,660.3 128.8,661.0 130.8,661.9 132.7,663.1 134.7,664.5 136.7,666.4 138.7,668.4 140.7,670.1 142.7,671.3 144.7,671.5 146.6,670.5 148.6,668.8 150.6,666.5 152.6,664.2 154.6,662.2 156.6,660.7 158.6,659.7 160.5,659.0 162.5,658.7 164.5,658.6 166.5,658.5 168.5,658.6 170.5,658.7 172.4,658.8 174.4,659.0 176.4,659.1 178.4,659.3 180.4,659.5 182.4,659.7 184.4,659.8 186.3,659.9 188.3,659.9 190.3,659.9 192.3,659.9 194.3,659.9 196.3,659.8 198.3,659.8 200.2,659.9 202.2,660.0 204.2,660.1 206.2,660.3 208.2,660.5 210.2,660.8 212.1,661.0 214.1,661.2 216.1,661.3 218.1,661.4 220.1,661.5"/><polyline points="105.0,658.9 106.9,658.7 108.9,658.5 110.9,658.1 112.9,657.6 114.9,657.0 116.9,656.4 118.9,656.0 120.8,656.0 122.8,656.4 124.8,657.3 126.8,658.4 128.8,659.9 130.8,661.6 132.7,663.6 134.7,666.1 136.7,668.7 138.7,671.3 140.7,673.3 142.7,674.4 144.7,674.3 146.6,673.0 148.6,671.0 150.6,668.7 152.6,666.4 154.6,664.5 156.6,663.0 158.6,661.9 160.5,661.1 162.5,660.4 164.5,659.7 166.5,659.2 168.5,658.7 170.5,658.2 172.4,657.8 174.4,657.5 176.4,657.1 178.4,656.8 180.4,656.6 182.4,656.2 184.4,655.9 186.3,655.5 188.3,655.0 190.3,654.6 192.3,654.2 194.3,653.8 196.3,653.6 198.3,653.5 200.2,653.6 202.2,653.8 204.2,654.3 206.2,654.9 208.2,655.5 210.2,656.3 212.1,657.0 214.1,657.7 216.1,658.4 218.1,659.0 220.1,659.5"/><polyline points="105.0,660.4 106.9,660.2 108.9,659.9 110.9,659.6 112.9,659.2 114.9,658.6 116.9,658.2 118.9,657.9 120.8,658.1 122.8,658.7 124.8,659.7 126.8,661.0 128.8,662.6 130.8,664.4 132.7,666.4 134.7,668.7 136.7,671.0 138.7,673.0 140.7,674.4 142.7,674.7 144.7,673.9 146.6,672.2 148.6,669.9 150.6,667.5 152.6,665.3 154.6,663.4 156.6,662.0 158.6,660.9 160.5,660.0 162.5,659.3 164.5,658.6 166.5,658.1 168.5,657.8 170.5,657.5 172.4,657.3 174.4,657.2 176.4,657.3 178.4,657.4 180.4,657.6 182.4,657.9 184.4,658.2 186.3,658.6 188.3,658.9 190.3,659.3 192.3,659.6 194.3,660.0 196.3,660.4 198.3,660.7 200.2,661.1 202.2,661.5 204.2,661.9 206.2,662.2 208.2,662.5 210.2,662.7 212.1,662.9 214.1,662.9 216.1,662.8 218.1,662.7 220.1,662.4"/><polyline points="105.0,661.6 106.9,661.9 108.9,662.1 110.9,662.1 112.9,661.8 114.9,661.4 116.9,660.9 118.9,660.5 120.8,660.3 122.8,660.6 124.8,661.2 126.8,662.2 128.8,663.4 130.8,664.9 132.7,666.8 134.7,668.9 136.7,671.2 138.7,673.2 140.7,674.4 142.7,674.5 144.7,673.3 146.6,671.2 148.6,668.6 150.6,665.9 152.6,663.6 154.6,661.9 156.6,660.7 158.6,660.0 160.5,659.6 162.5,659.3 164.5,659.3 166.5,659.3 168.5,659.4 170.5,659.6 172.4,659.8 174.4,660.0 176.4,660.3 178.4,660.6 180.4,660.8 182.4,661.0 184.4,661.2 186.3,661.2 188.3,661.2 190.3,661.1 192.3,661.0 194.3,660.8 196.3,660.6 198.3,660.4 200.2,660.2 202.2,660.0 204.2,659.9 206.2,659.8 208.2,659.7 210.2,659.7 212.1,659.6 214.1,659.5 216.1,659.3 218.1,659.1 220.1,658.9"/><polyline points="105.0,664.9 106.9,664.8 108.9,664.4 110.9,663.9 112.9,663.2 114.9,662.3 116.9,661.3 118.9,660.5 120.8,660.0 122.8,659.9 124.8,660.3 126.8,661.0 128.8,662.0 130.8,663.3 132.7,664.9 134.7,666.8 136.7,668.7 138.7,670.3 140.7,671.2 142.7,671.0 144.7,669.8 146.6,667.8 148.6,665.5 150.6,663.1 152.6,661.2 154.6,659.6 156.6,658.5 158.6,657.7 160.5,657.2 162.5,656.7 164.5,656.4 166.5,656.1 168.5,655.9 170.5,655.7 172.4,655.6 174.4,655.6 176.4,655.7 178.4,655.8 180.4,655.9 182.4,656.1 184.4,656.3 186.3,656.5 188.3,656.8 190.3,657.0 192.3,657.3 194.3,657.7 196.3,658.1 198.3,658.6 200.2,659.2 202.2,659.9 204.2,660.7 206.2,661.5 208.2,662.4 210.2,663.2 212.1,663.9 214.1,664.6 216.1,665.1 218.1,665.5 220.1,665.7"/><polyline points="105.0,662.6 106.9,662.8 108.9,662.9 110.9,662.8 112.9,662.5 114.9,662.0 116.9,661.4 118.9,661.0 120.8,660.8 122.8,661.0 124.8,661.5 126.8,662.2 128.8,663.2 130.8,664.2 132.7,665.5 134.7,666.9 136.7,668.2 138.7,669.3 140.7,669.8 142.7,669.4 144.7,668.1 146.6,666.2 148.6,663.8 150.6,661.5 152.6,659.3 154.6,657.5 156.6,656.1 158.6,655.1 160.5,654.2 162.5,653.6 164.5,653.1 166.5,652.8 168.5,652.6 170.5,652.6 172.4,652.8 174.4,653.1 176.4,653.5 178.4,654.0 180.4,654.6 182.4,655.2 184.4,655.7 186.3,656.1 188.3,656.5 190.3,656.9 192.3,657.1 194.3,657.4 196.3,657.7 198.3,658.1 200.2,658.5 202.2,659.0 204.2,659.5 206.2,660.1 208.2,660.6 210.2,661.1 212.1,661.5 214.1,661.8 216.1,661.9 218.1,661.9 220.1,661.8"/><polyline points="105.0,656.3 106.9,656.2 108.9,656.1 110.9,655.9 112.9,655.8 114.9,655.5 116.9,655.3 118.9,655.4 120.8,655.8 122.8,656.7 124.8,658.1 126.8,659.9 128.8,662.1 130.8,664.5 132.7,667.1 134.7,669.8 136.7,672.2 138.7,673.8 140.7,674.3 142.7,673.5 144.7,671.6 146.6,668.9 148.6,666.0 150.6,663.3 152.6,661.0 154.6,659.1 156.6,657.7 158.6,656.6 160.5,655.7 162.5,655.0 164.5,654.5 166.5,654.2 168.5,654.0 170.5,654.1 172.4,654.4 174.4,654.9 176.4,655.5 178.4,656.2 180.4,657.1 182.4,658.0 184.4,658.9 186.3,659.7 188.3,660.5 190.3,661.3 192.3,661.9 194.3,662.5 196.3,663.1 198.3,663.6 200.2,664.1 202.2,664.5 204.2,664.9 206.2,665.3 208.2,665.5 210.2,665.7 212.1,665.7 214.1,665.6 216.1,665.3 218.1,664.9 220.1,664.4"/><polyline points="105.0,661.9 106.9,662.5 108.9,663.0 110.9,663.3 112.9,663.4 114.9,663.4 116.9,663.2 118.9,663.1 120.8,663.3 122.8,663.8 124.8,664.6 126.8,665.5 128.8,666.6 130.8,667.7 132.7,669.0 134.7,670.7 136.7,672.7 138.7,674.9 140.7,676.7 142.7,677.6 144.7,677.4 146.6,675.7 148.6,672.8 150.6,669.3 152.6,665.6 154.6,662.1 156.6,659.2 158.6,656.9 160.5,655.0 162.5,653.6 164.5,652.4 166.5,651.5 168.5,650.8 170.5,650.3 172.4,650.0 174.4,649.9 176.4,650.0 178.4,650.3 180.4,650.6 182.4,651.0 184.4,651.5 186.3,652.0 188.3,652.4 190.3,652.9 192.3,653.4 194.3,654.0 196.3,654.6 198.3,655.3 200.2,656.2 202.2,657.2 204.2,658.2 206.2,659.3 208.2,660.3 210.2,661.3 212.1,662.2 214.1,662.9 216.1,663.4 218.1,663.8 220.1,664.0"/><polyline points="105.0,661.7 106.9,661.7 108.9,661.6 110.9,661.4 112.9,661.0 114.9,660.5 116.9,659.9 118.9,659.4 120.8,659.3 122.8,659.5 124.8,660.1 126.8,660.9 128.8,661.9 130.8,663.1 132.7,664.6 134.7,666.4 136.7,668.6 138.7,671.0 140.7,673.0 142.7,674.3 144.7,674.3 146.6,673.1 148.6,670.9 150.6,668.2 152.6,665.4 154.6,663.0 156.6,661.1 158.6,659.8 160.5,658.9 162.5,658.3 164.5,657.9 166.5,657.6 168.5,657.5 170.5,657.5 172.4,657.5 174.4,657.6 176.4,657.8 178.4,658.0 180.4,658.2 182.4,658.4 184.4,658.6 186.3,658.8 188.3,659.0 190.3,659.1 192.3,659.2 194.3,659.3 196.3,659.5 198.3,659.6 200.2,659.8 202.2,660.1 204.2,660.4 206.2,660.8 208.2,661.2 210.2,661.5 212.1,661.8 214.1,662.1 216.1,662.2 218.1,662.3 220.1,662.3"/><polyline points="105.0,662.7 106.9,662.5 108.9,662.2 110.9,661.7 112.9,661.0 114.9,660.2 116.9,659.4 118.9,658.7 120.8,658.4 122.8,658.6 124.8,659.1 126.8,660.0 128.8,661.1 130.8,662.6 132.7,664.4 134.7,666.5 136.7,668.9 138.7,671.2 140.7,673.0 142.7,673.7 144.7,673.3 146.6,671.6 148.6,669.3 150.6,666.6 152.6,664.1 154.6,662.1 156.6,660.5 158.6,659.5 160.5,658.7 162.5,658.2 164.5,657.8 166.5,657.5 168.5,657.4 170.5,657.3 172.4,657.3 174.4,657.4 176.4,657.6 178.4,657.8 180.4,658.1 182.4,658.3 184.4,658.6 186.3,658.7 188.3,658.9 190.3,659.0 192.3,659.1 194.3,659.1 196.3,659.2 198.3,659.3 200.2,659.4 202.2,659.6 204.2,659.9 206.2,660.1 208.2,660.4 210.2,660.7 212.1,660.9 214.1,661.1 216.1,661.2 218.1,661.2 220.1,661.2"/><polyline points="105.0,660.8 106.9,660.9 108.9,660.8 110.9,660.6 112.9,660.2 114.9,659.7 116.9,659.2 118.9,658.9 120.8,658.8 122.8,659.2 124.8,660.0 126.8,661.2 128.8,662.6 130.8,664.3 132.7,666.4 134.7,668.8 136.7,671.4 138.7,673.6 140.7,675.1 142.7,675.3 144.7,674.3 146.6,672.1 148.6,669.2 150.6,666.2 152.6,663.5 154.6,661.2 156.6,659.4 158.6,658.1 160.5,657.1 162.5,656.2 164.5,655.6 166.5,655.0 168.5,654.6 170.5,654.4 172.4,654.3 174.4,654.3 176.4,654.4 178.4,654.6 180.4,654.9 182.4,655.2 184.4,655.4 186.3,655.7 188.3,655.9 190.3,656.1 192.3,656.3 194.3,656.5 196.3,656.8 198.3,657.2 200.2,657.6 202.2,658.2 204.2,658.9 206.2,659.7 208.2,660.4 210.2,661.1 212.1,661.7 214.1,662.2 216.1,662.6 218.1,662.8 220.1,662.9"/><polyline points="105.0,663.0 106.9,662.8 108.9,662.4 110.9,661.9 112.9,661.2 114.9,660.4 116.9,659.5 118.9,658.9 120.8,658.5 122.8,658.6 124.8,659.2 126.8,660.0 128.8,661.1 130.8,662.6 132.7,664.3 134.7,666.4 136.7,668.8 138.7,671.0 140.7,672.7 142.7,673.3 144.7,672.8 146.6,671.1 148.6,668.6 150.6,665.9 152.6,663.3 154.6,661.0 156.6,659.3 158.6,657.9 160.5,656.8 162.5,655.9 164.5,655.2 166.5,654.5 168.5,654.0 170.5,653.7 172.4,653.4 174.4,653.3 176.4,653.3 178.4,653.4 180.4,653.6 182.4,653.8 184.4,654.0 186.3,654.2 188.3,654.4 190.3,654.6 192.3,654.8 194.3,655.1 196.3,655.5 198.3,655.9 200.2,656.5 202.2,657.2 204.2,657.9 206.2,658.8 208.2,659.6 210.2,660.3 212.1,661.0 214.1,661.6 216.1,662.0 218.1,662.2 220.1,662.3"/><polyline points="105.0,660.4 106.9,660.2 108.9,660.0 110.9,659.6 112.9,659.0 114.9,658.4 116.9,657.7 118.9,657.2 120.8,657.0 122.8,657.3 124.8,658.0 126.8,658.9 128.8,660.1 130.8,661.5 132.7,663.2 134.7,665.0 136.7,667.0 138.7,668.8 140.7,670.1 142.7,670.6 144.7,670.1 146.6,668.8 148.6,667.1 150.6,665.2 152.6,663.5 154.6,662.2 156.6,661.3 158.6,660.7 160.5,660.3 162.5,660.0 164.5,659.9 166.5,659.8 168.5,659.7 170.5,659.7 172.4,659.8 174.4,659.8 176.4,659.9 178.4,660.1 180.4,660.2 182.4,660.3 184.4,660.4 186.3,660.5 188.3,660.6 190.3,660.7 192.3,660.7 194.3,660.8 196.3,660.9 198.3,661.0 200.2,661.2 202.2,661.5 204.2,661.7 206.2,662.0 208.2,662.4 210.2,662.7 212.1,662.9 214.1,663.2 216.1,663.3 218.1,663.3 220.1,663.3"/><polyline points="105.0,661.5 106.9,661.3 108.9,661.1 110.9,660.8 112.9,660.3 114.9,659.6 116.9,659.0 118.9,658.5 120.8,658.3 122.8,658.6 124.8,659.3 126.8,660.4 128.8,661.8 130.8,663.6 132.7,665.8 134.7,668.4 136.7,671.1 138.7,673.4 140.7,675.0 142.7,675.3 144.7,674.2 146.6,671.9 148.6,669.1 150.6,666.1 152.6,663.5 154.6,661.3 156.6,659.8 158.6,658.6 160.5,657.8 162.5,657.2 164.5,656.8 166.5,656.5 168.5,656.2 170.5,656.1 172.4,656.1 174.4,656.1 176.4,656.3 178.4,656.4 180.4,656.7 182.4,656.9 184.4,657.1 186.3,657.2 188.3,657.3 190.3,657.4 192.3,657.5 194.3,657.6 196.3,657.7 198.3,657.9 200.2,658.2 202.2,658.6 204.2,659.0 206.2,659.5 208.2,660.1 210.2,660.6 212.1,661.0 214.1,661.4 216.1,661.7 218.1,661.8 220.1,661.9"/><polyline points="105.0,662.3 106.9,662.5 108.9,662.6 110.9,662.5 112.9,662.1 114.9,661.5 116.9,660.8 118.9,660.2 120.8,659.8 122.8,659.8 124.8,660.2 126.8,661.0 128.8,662.1 130.8,663.5 132.7,665.3 134.7,667.3 136.7,669.3 138.7,670.9 140.7,671.7 142.7,671.4 144.7,670.2 146.6,668.3 148.6,666.2 150.6,664.2 152.6,662.7 154.6,661.7 156.6,661.0 158.6,660.7 160.5,660.5 162.5,660.4 164.5,660.3 166.5,660.1 168.5,659.9 170.5,659.7 172.4,659.4 174.4,659.1 176.4,658.8 178.4,658.4 180.4,658.1 182.4,657.7 184.4,657.3 186.3,656.9 188.3,656.6 190.3,656.3 192.3,656.1 194.3,656.1 196.3,656.2 198.3,656.4 200.2,656.9 202.2,657.6 204.2,658.3 206.2,659.3 208.2,660.3 210.2,661.3 212.1,662.2 214.1,663.1 216.1,663.8 218.1,664.4 220.1,664.7"/><polyline points="105.0,660.1 106.9,659.8 108.9,659.4 110.9,659.0 112.9,658.7 114.9,658.3 116.9,658.0 118.9,657.8 120.8,657.5 122.8,657.2 124.8,656.8 126.8,656.1 128.8,655.1 130.8,653.7 132.7,651.9 134.7,650.1 136.7,648.8 138.7,648.3 140.7,649.0 142.7,650.6 144.7,652.6 146.6,654.6 148.6,656.2 150.6,657.4 152.6,658.1 154.6,658.6 156.6,658.9 158.6,659.1 160.5,659.3 162.5,659.4 164.5,659.6 166.5,659.7 168.5,659.8 170.5,660.0 172.4,660.1 174.4,660.2 176.4,660.3 178.4,660.5 180.4,660.6 182.4,660.8 184.4,661.0 186.3,661.2 188.3,661.4 190.3,661.5 192.3,661.7 194.3,661.9 196.3,662.1 198.3,662.2 200.2,662.3 202.2,662.5 204.2,662.6 206.2,662.7 208.2,662.7 210.2,662.8 212.1,662.9 214.1,663.0 216.1,663.0 218.1,663.1 220.1,663.2"/><polyline points="105.0,664.3 106.9,664.5 108.9,664.6 110.9,664.5 112.9,664.1 114.9,663.4 116.9,662.7 118.9,662.0 120.8,661.6 122.8,661.5 124.8,661.8 126.8,662.4 128.8,663.2 130.8,664.2 132.7,665.5 134.7,667.0 136.7,668.6 138.7,669.8 140.7,670.4 142.7,670.0 144.7,668.6 146.6,666.5 148.6,664.1 150.6,661.7 152.6,659.7 154.6,658.2 156.6,657.1 158.6,656.3 160.5,655.9 162.5,655.5 164.5,655.4 166.5,655.3 168.5,655.4 170.5,655.5 172.4,655.7 174.4,656.0 176.4,656.4 178.4,656.8 180.4,657.1 182.4,657.5 184.4,657.7 186.3,657.9 188.3,658.1 190.3,658.1 192.3,658.2 194.3,658.2 196.3,658.2 198.3,658.3 200.2,658.5 202.2,658.8 204.2,659.2 206.2,659.6 208.2,660.0 210.2,660.5 212.1,660.9 214.1,661.2 216.1,661.5 218.1,661.6 220.1,661.7"/><polyline points="105.0,662.3 106.9,661.9 108.9,661.5 110.9,661.1 112.9,660.7 114.9,660.4 116.9,660.2 118.9,660.0 120.8,659.8 122.8,659.6 124.8,659.4 126.8,658.9 128.8,658.1 130.8,656.9 132.7,655.3 134.7,653.7 136.7,652.5 138.7,652.2 140.7,653.0 142.7,654.7 144.7,656.7 146.6,658.6 148.6,660.1 150.6,661.0 152.6,661.5 154.6,661.7 156.6,661.6 158.6,661.4 160.5,661.1 162.5,660.8 164.5,660.5 166.5,660.1 168.5,659.8 170.5,659.5 172.4,659.3 174.4,659.1 176.4,658.9 178.4,658.9 180.4,659.0 182.4,659.1 184.4,659.4 186.3,659.7 188.3,660.1 190.3,660.6 192.3,661.1 194.3,661.6 196.3,662.1 198.3,662.6 200.2,663.1 202.2,663.5 204.2,663.9 206.2,664.2 208.2,664.4 210.2,664.5 212.1,664.5 214.1,664.5 216.1,664.3 218.1,664.1 220.1,663.8"/><polyline points="105.0,664.6 106.9,664.5 108.9,664.3 110.9,663.9 112.9,663.3 114.9,662.6 116.9,661.9 118.9,661.3 120.8,661.0 122.8,661.1 124.8,661.7 126.8,662.6 128.8,663.8 130.8,665.4 132.7,667.3 134.7,669.5 136.7,671.7 138.7,673.5 140.7,674.5 142.7,674.3 144.7,672.9 146.6,670.6 148.6,667.9 150.6,665.2 152.6,662.8 154.6,661.0 156.6,659.6 158.6,658.6 160.5,657.9 162.5,657.4 164.5,656.9 166.5,656.6 168.5,656.4 170.5,656.2 172.4,656.2 174.4,656.2 176.4,656.3 178.4,656.5 180.4,656.7 182.4,656.9 184.4,657.1 186.3,657.3 188.3,657.5 190.3,657.7 192.3,657.9 194.3,658.1 196.3,658.4 198.3,658.7 200.2,659.1 202.2,659.6 204.2,660.1 206.2,660.7 208.2,661.3 210.2,661.9 212.1,662.4 214.1,662.9 216.1,663.2 218.1,663.4 220.1,663.5"/><polyline points="105.0,663.6 106.9,663.4 108.9,663.0 110.9,662.4 112.9,661.5 114.9,660.4 116.9,659.3 118.9,658.3 120.8,657.5 122.8,657.2 124.8,657.3 126.8,657.7 128.8,658.5 130.8,659.6 132.7,661.0 134.7,662.9 136.7,665.0 138.7,666.9 140.7,668.4 142.7,668.8 144.7,668.3 146.6,666.8 148.6,664.8 150.6,662.7 152.6,660.9 154.6,659.6 156.6,658.8 158.6,658.4 160.5,658.3 162.5,658.3 164.5,658.4 166.5,658.6 168.5,658.7 170.5,659.0 172.4,659.2 174.4,659.4 176.4,659.6 178.4,659.7 180.4,659.8 182.4,659.8 184.4,659.8 186.3,659.6 188.3,659.4 190.3,659.1 192.3,658.7 194.3,658.5 196.3,658.2 198.3,658.1 200.2,658.1 202.2,658.3 204.2,658.6 206.2,659.0 208.2,659.5 210.2,660.0 212.1,660.6 214.1,661.1 216.1,661.5 218.1,661.9 220.1,662.1"/><polyline points="105.0,662.1 106.9,661.9 108.9,661.7 110.9,661.4 112.9,660.9 114.9,660.2 116.9,659.6 118.9,659.1 120.8,658.9 122.8,659.1 124.8,659.7 126.8,660.5 128.8,661.4 130.8,662.5 132.7,663.8 134.7,665.4 136.7,667.3 138.7,669.2 140.7,670.7 142.7,671.5 144.7,671.3 146.6,670.0 148.6,667.8 150.6,665.2 152.6,662.5 154.6,660.0 156.6,658.0 158.6,656.4 160.5,655.2 162.5,654.2 164.5,653.4 166.5,652.7 168.5,652.2 170.5,651.9 172.4,651.7 174.4,651.6 176.4,651.6 178.4,651.8 180.4,652.0 182.4,652.2 184.4,652.5 186.3,652.7 188.3,652.9 190.3,653.1 192.3,653.3 194.3,653.6 196.3,653.9 198.3,654.3 200.2,654.9 202.2,655.6 204.2,656.4 206.2,657.2 208.2,658.1 210.2,658.9 212.1,659.7 214.1,660.4 216.1,660.9 218.1,661.3 220.1,661.6"/><polyline points="105.0,661.1 106.9,660.4 108.9,659.6 110.9,658.7 112.9,657.7 114.9,656.6 116.9,655.5 118.9,654.7 120.8,654.2 122.8,654.4 124.8,655.0 126.8,656.2 128.8,657.8 130.8,660.0 132.7,662.5 134.7,665.5 136.7,668.4 138.7,670.9 140.7,672.5 142.7,673.0 144.7,672.2 146.6,670.6 148.6,668.6 150.6,666.7 152.6,665.2 154.6,664.2 156.6,663.7 158.6,663.4 160.5,663.3 162.5,663.3 164.5,663.3 166.5,663.2 168.5,663.1 170.5,663.0 172.4,662.8 174.4,662.6 176.4,662.4 178.4,662.1 180.4,661.8 182.4,661.4 184.4,661.0 186.3,660.5 188.3,660.0 190.3,659.5 192.3,659.0 194.3,658.5 196.3,658.2 198.3,657.9 200.2,657.7 202.2,657.7 204.2,657.8 206.2,658.0 208.2,658.3 210.2,658.7 212.1,659.2 214.1,659.6 216.1,660.1 218.1,660.6 220.1,661.0"/><polyline points="105.0,661.9 106.9,662.1 108.9,662.2 110.9,662.2 112.9,661.9 114.9,661.5 116.9,661.0 118.9,660.7 120.8,660.7 122.8,661.1 124.8,661.9 126.8,663.1 128.8,664.6 130.8,666.4 132.7,668.5 134.7,670.7 136.7,672.6 138.7,673.9 140.7,674.2 142.7,673.3 144.7,671.4 146.6,668.7 148.6,665.9 150.6,663.3 152.6,661.1 154.6,659.4 156.6,658.1 158.6,657.1 160.5,656.4 162.5,655.8 164.5,655.4 166.5,655.1 168.5,654.8 170.5,654.8 172.4,654.8 174.4,655.0 176.4,655.3 178.4,655.6 180.4,656.0 182.4,656.4 184.4,656.9 186.3,657.3 188.3,657.7 190.3,658.0 192.3,658.3 194.3,658.7 196.3,659.0 198.3,659.4 200.2,659.9 202.2,660.3 204.2,660.9 206.2,661.4 208.2,661.9 210.2,662.4 212.1,662.8 214.1,663.1 216.1,663.2 218.1,663.3 220.1,663.2"/></g>
<rect x="277.1" y="631.8" width="128.5" height="62.4" fill="#fff" stroke="#b2b2b2" stroke-width="0.6"/>
<rect x="277.5" y="663.05" width="127.7" height="0.55" fill="#f0a0a0"/>
<text x="275.4" y="642.4" font-size="9.3" text-anchor="end" fill="#000">20</text>
<text x="275.4" y="663.4" font-size="9.3" text-anchor="end" fill="#000">0</text>
<text x="275.4" y="684.1" font-size="9.3" text-anchor="end" fill="#000">-20</text>
<text x="277.9" y="703.6" font-size="9.3" text-anchor="middle" fill="#000">-1.0</text>
<text x="297.75" y="703.6" font-size="9.3" text-anchor="middle" fill="#000">-0.5</text>
<text x="319.2" y="703.6" font-size="9.3" text-anchor="middle" fill="#000">0</text>
<text x="337.45" y="703.6" font-size="9.3" text-anchor="middle" fill="#000">0.5</text>
<text x="357.3" y="703.6" font-size="9.3" text-anchor="middle" fill="#000">1.0</text>
<text x="377.15" y="703.6" font-size="9.3" text-anchor="middle" fill="#000">1.5</text>
<text x="397" y="703.6" font-size="9.3" text-anchor="middle" fill="#000">2.0</text>
<text x="340.2" y="714.2" font-size="9.2" text-anchor="middle" fill="#000">Time (ms)</text>
<text x="260.85" y="660.85" font-size="9.3" text-anchor="middle" fill="#000" transform="rotate(-90 260.85 660.85)">Voltage (µV)</text>
<g fill="none" stroke="#1c1cf2" stroke-width="0.4" stroke-opacity="0.56" stroke-linejoin="round"><polyline points="283.6,662.2 285.5,662.3 287.5,662.4 289.5,662.6 291.5,662.7 293.5,662.9 295.5,663.0 297.5,663.2 299.4,663.3 301.4,663.4 303.4,663.5 305.4,663.7 307.4,664.0 309.4,664.6 311.3,665.8 313.3,668.0 315.3,671.2 317.3,675.3 319.3,679.6 321.3,683.0 323.3,684.2 325.2,682.8 327.2,679.1 329.2,674.2 331.2,669.3 333.2,665.1 335.2,662.0 337.2,659.8 339.1,658.3 341.1,657.2 343.1,656.2 345.1,655.4 347.1,654.7 349.1,654.2 351.0,653.8 353.0,653.5 355.0,653.4 357.0,653.4 359.0,653.5 361.0,653.7 363.0,653.9 364.9,654.2 366.9,654.4 368.9,654.7 370.9,655.1 372.9,655.5 374.9,656.0 376.9,656.6 378.8,657.3 380.8,658.0 382.8,658.8 384.8,659.6 386.8,660.4 388.8,661.2 390.7,661.9 392.7,662.5 394.7,663.1 396.7,663.5 398.7,663.8"/><polyline points="283.6,668.4 285.5,668.5 287.5,668.6 289.5,668.7 291.5,668.7 293.5,668.7 295.5,668.5 297.5,668.1 299.4,667.6 301.4,666.9 303.4,666.0 305.4,665.0 307.4,664.0 309.4,663.1 311.3,662.4 313.3,662.0 315.3,662.1 317.3,662.8 319.3,664.0 321.3,665.9 323.3,668.1 325.2,670.3 327.2,672.0 329.2,672.8 331.2,672.4 333.2,671.1 335.2,669.3 337.2,667.6 339.1,666.2 341.1,665.3 343.1,664.7 345.1,664.5 347.1,664.4 349.1,664.4 351.0,664.5 353.0,664.5 355.0,664.6 357.0,664.6 359.0,664.7 361.0,664.7 363.0,664.7 364.9,664.7 366.9,664.6 368.9,664.6 370.9,664.4 372.9,664.3 374.9,664.1 376.9,663.9 378.8,663.7 380.8,663.4 382.8,663.2 384.8,662.9 386.8,662.7 388.8,662.4 390.7,662.2 392.7,662.0 394.7,661.8 396.7,661.7 398.7,661.6"/><polyline points="283.6,663.8 285.5,664.1 287.5,664.3 289.5,664.5 291.5,664.7 293.5,664.8 295.5,664.8 297.5,664.7 299.4,664.6 301.4,664.5 303.4,664.3 305.4,664.1 307.4,663.9 309.4,663.9 311.3,664.3 313.3,665.3 315.3,667.2 317.3,669.7 319.3,672.5 321.3,674.7 323.3,675.4 325.2,674.3 327.2,671.5 329.2,667.7 331.2,663.9 333.2,660.6 335.2,658.1 337.2,656.3 339.1,655.1 341.1,654.2 343.1,653.5 345.1,653.0 347.1,652.6 349.1,652.5 351.0,652.4 353.0,652.6 355.0,652.9 357.0,653.3 359.0,653.8 361.0,654.3 363.0,654.8 364.9,655.3 366.9,655.8 368.9,656.2 370.9,656.7 372.9,657.1 374.9,657.6 376.9,658.1 378.8,658.7 380.8,659.3 382.8,660.0 384.8,660.6 386.8,661.2 388.8,661.8 390.7,662.2 392.7,662.6 394.7,662.9 396.7,663.0 398.7,663.1"/><polyline points="283.6,661.8 285.5,661.6 287.5,661.4 289.5,661.3 291.5,661.1 293.5,661.0 295.5,661.0 297.5,660.9 299.4,661.0 301.4,661.0 303.4,661.2 305.4,661.5 307.4,662.1 309.4,663.2 311.3,665.0 313.3,667.8 315.3,671.4 317.3,675.0 319.3,677.9 321.3,679.0 323.3,678.0 325.2,675.2 327.2,671.5 329.2,667.8 331.2,664.7 333.2,662.4 335.2,660.8 337.2,659.7 339.1,658.8 341.1,658.1 343.1,657.4 345.1,656.9 347.1,656.4 349.1,656.0 351.0,655.8 353.0,655.8 355.0,655.8 357.0,656.0 359.0,656.2 361.0,656.6 363.0,656.9 364.9,657.3 366.9,657.7 368.9,658.0 370.9,658.4 372.9,658.8 374.9,659.3 376.9,659.8 378.8,660.3 380.8,660.8 382.8,661.4 384.8,661.9 386.8,662.4 388.8,662.8 390.7,663.2 392.7,663.5 394.7,663.6 396.7,663.7 398.7,663.6"/><polyline points="283.6,660.8 285.5,661.0 287.5,661.3 289.5,661.6 291.5,661.8 293.5,662.1 295.5,662.4 297.5,662.7 299.4,662.9 301.4,663.2 303.4,663.5 305.4,663.9 307.4,664.4 309.4,665.2 311.3,666.7 313.3,669.2 315.3,672.8 317.3,677.1 319.3,681.5 321.3,684.6 323.3,685.4 325.2,683.6 327.2,679.7 329.2,674.8 331.2,670.0 333.2,666.1 335.2,663.3 337.2,661.2 339.1,659.7 341.1,658.6 343.1,657.6 345.1,656.7 347.1,656.0 349.1,655.4 351.0,654.9 353.0,654.6 355.0,654.5 357.0,654.5 359.0,654.6 361.0,654.7 363.0,654.9 364.9,655.1 366.9,655.3 368.9,655.5 370.9,655.8 372.9,656.1 374.9,656.4 376.9,656.9 378.8,657.4 380.8,657.9 382.8,658.6 384.8,659.2 386.8,659.8 388.8,660.3 390.7,660.8 392.7,661.2 394.7,661.5 396.7,661.6 398.7,661.6"/><polyline points="283.6,659.9 285.5,660.0 287.5,660.2 289.5,660.5 291.5,660.9 293.5,661.3 295.5,661.7 297.5,662.2 299.4,662.7 301.4,663.2 303.4,663.7 305.4,664.4 307.4,665.4 309.4,667.0 311.3,669.8 313.3,673.9 315.3,679.0 317.3,684.3 319.3,688.2 321.3,689.5 323.3,687.4 325.2,682.7 327.2,676.5 329.2,670.4 331.2,665.4 333.2,661.8 335.2,659.4 337.2,657.9 339.1,656.9 341.1,656.1 343.1,655.6 345.1,655.3 347.1,655.1 349.1,655.1 351.0,655.3 353.0,655.6 355.0,656.0 357.0,656.5 359.0,657.1 361.0,657.6 363.0,658.1 364.9,658.6 366.9,658.9 368.9,659.2 370.9,659.4 372.9,659.5 374.9,659.6 376.9,659.8 378.8,659.9 380.8,660.1 382.8,660.3 384.8,660.5 386.8,660.8 388.8,661.0 390.7,661.3 392.7,661.6 394.7,661.8 396.7,662.1 398.7,662.2"/><polyline points="283.6,662.3 285.5,662.4 287.5,662.4 289.5,662.5 291.5,662.6 293.5,662.7 295.5,662.8 297.5,663.0 299.4,663.1 301.4,663.2 303.4,663.3 305.4,663.6 307.4,664.0 309.4,664.9 311.3,666.6 313.3,669.6 315.3,674.1 317.3,679.6 319.3,685.0 321.3,688.9 323.3,689.7 325.2,687.2 327.2,682.0 329.2,675.7 331.2,669.6 333.2,664.8 335.2,661.4 337.2,659.1 339.1,657.6 341.1,656.6 343.1,655.7 345.1,655.1 347.1,654.6 349.1,654.2 351.0,654.0 353.0,653.9 355.0,654.0 357.0,654.1 359.0,654.4 361.0,654.8 363.0,655.1 364.9,655.5 366.9,655.9 368.9,656.3 370.9,656.7 372.9,657.2 374.9,657.7 376.9,658.2 378.8,658.8 380.8,659.5 382.8,660.2 384.8,660.9 386.8,661.6 388.8,662.2 390.7,662.8 392.7,663.4 394.7,663.8 396.7,664.1 398.7,664.3"/><polyline points="283.6,661.9 285.5,662.1 287.5,662.4 289.5,662.7 291.5,663.0 293.5,663.3 295.5,663.6 297.5,663.8 299.4,664.0 301.4,664.1 303.4,664.2 305.4,664.3 307.4,664.4 309.4,664.8 311.3,665.6 313.3,667.0 315.3,669.0 317.3,671.4 319.3,673.3 321.3,674.2 323.3,673.4 325.2,671.0 327.2,667.5 329.2,663.8 331.2,660.4 333.2,657.6 335.2,655.5 337.2,653.9 339.1,652.7 341.1,651.6 343.1,650.8 345.1,650.1 347.1,649.5 349.1,649.2 351.0,649.1 353.0,649.2 355.0,649.4 357.0,649.8 359.0,650.2 361.0,650.7 363.0,651.1 364.9,651.4 366.9,651.7 368.9,651.9 370.9,652.2 372.9,652.5 374.9,652.9 376.9,653.4 378.8,654.1 380.8,654.9 382.8,655.9 384.8,656.9 386.8,657.9 388.8,659.0 390.7,660.1 392.7,661.1 394.7,662.0 396.7,662.8 398.7,663.5"/><polyline points="283.6,661.4 285.5,661.6 287.5,661.7 289.5,661.9 291.5,662.2 293.5,662.4 295.5,662.7 297.5,662.9 299.4,663.1 301.4,663.4 303.4,663.6 305.4,664.0 307.4,664.6 309.4,665.6 311.3,667.5 313.3,670.4 315.3,674.2 317.3,678.4 319.3,681.8 321.3,683.3 323.3,682.2 325.2,678.7 327.2,673.7 329.2,668.4 331.2,663.7 333.2,659.9 335.2,657.1 337.2,654.9 339.1,653.1 341.1,651.5 343.1,650.1 345.1,648.9 347.1,648.0 349.1,647.2 351.0,646.8 353.0,646.6 355.0,646.8 357.0,647.1 359.0,647.6 361.0,648.3 363.0,649.0 364.9,649.8 366.9,650.6 368.9,651.5 370.9,652.4 372.9,653.3 374.9,654.4 376.9,655.5 378.8,656.7 380.8,657.9 382.8,659.1 384.8,660.3 386.8,661.4 388.8,662.3 390.7,663.1 392.7,663.8 394.7,664.2 396.7,664.4 398.7,664.4"/><polyline points="283.6,662.9 285.5,663.0 287.5,663.2 289.5,663.3 291.5,663.5 293.5,663.6 295.5,663.7 297.5,663.8 299.4,663.8 301.4,663.8 303.4,663.8 305.4,663.9 307.4,664.0 309.4,664.5 311.3,665.4 313.3,667.2 315.3,669.9 317.3,673.5 319.3,677.2 321.3,680.0 323.3,680.9 325.2,679.3 327.2,675.7 329.2,671.0 331.2,666.2 333.2,662.2 335.2,659.1 337.2,656.8 339.1,655.1 341.1,653.8 343.1,652.7 345.1,651.7 347.1,651.0 349.1,650.4 351.0,650.0 353.0,649.8 355.0,649.9 357.0,650.1 359.0,650.4 361.0,650.8 363.0,651.2 364.9,651.7 366.9,652.2 368.9,652.8 370.9,653.3 372.9,654.0 374.9,654.7 376.9,655.5 378.8,656.4 380.8,657.3 382.8,658.4 384.8,659.4 386.8,660.4 388.8,661.3 390.7,662.2 392.7,662.9 394.7,663.5 396.7,664.0 398.7,664.3"/><polyline points="283.6,662.8 285.5,662.7 287.5,662.5 289.5,662.4 291.5,662.3 293.5,662.2 295.5,662.1 297.5,662.0 299.4,662.0 301.4,662.1 303.4,662.2 305.4,662.7 307.4,663.6 309.4,665.4 311.3,668.3 313.3,672.3 315.3,676.9 317.3,681.1 319.3,683.5 321.3,683.5 323.3,680.8 325.2,676.3 327.2,671.3 329.2,666.8 331.2,663.2 333.2,660.7 335.2,658.8 337.2,657.3 339.1,656.0 341.1,654.7 343.1,653.6 345.1,652.5 347.1,651.6 349.1,650.9 351.0,650.3 353.0,650.0 355.0,649.9 357.0,650.0 359.0,650.2 361.0,650.4 363.0,650.8 364.9,651.2 366.9,651.6 368.9,652.0 370.9,652.5 372.9,653.1 374.9,653.7 376.9,654.5 378.8,655.4 380.8,656.4 382.8,657.5 384.8,658.5 386.8,659.5 388.8,660.5 390.7,661.3 392.7,662.1 394.7,662.7 396.7,663.1 398.7,663.3"/><polyline points="283.6,659.5 285.5,659.7 287.5,660.0 289.5,660.3 291.5,660.7 293.5,661.1 295.5,661.5 297.5,662.0 299.4,662.5 301.4,663.0 303.4,663.4 305.4,663.9 307.4,664.4 309.4,665.1 311.3,666.0 313.3,667.2 315.3,669.0 317.3,671.1 319.3,673.2 321.3,674.6 323.3,674.9 325.2,673.8 327.2,671.6 329.2,668.7 331.2,665.7 333.2,663.1 335.2,661.0 337.2,659.2 339.1,657.8 341.1,656.5 343.1,655.4 345.1,654.4 347.1,653.5 349.1,652.8 351.0,652.3 353.0,652.0 355.0,651.9 357.0,652.0 359.0,652.2 361.0,652.6 363.0,653.1 364.9,653.6 366.9,654.2 368.9,654.8 370.9,655.5 372.9,656.3 374.9,657.1 376.9,658.1 378.8,659.0 380.8,660.0 382.8,661.0 384.8,662.0 386.8,663.0 388.8,663.8 390.7,664.5 392.7,665.1 394.7,665.5 396.7,665.7 398.7,665.8"/><polyline points="283.6,663.4 285.5,663.2 287.5,663.0 289.5,662.9 291.5,662.7 293.5,662.6 295.5,662.5 297.5,662.4 299.4,662.3 301.4,662.3 303.4,662.3 305.4,662.4 307.4,662.8 309.4,663.5 311.3,664.8 313.3,667.1 315.3,670.3 317.3,674.2 319.3,677.8 321.3,680.1 323.3,680.3 325.2,678.2 327.2,674.4 329.2,670.0 331.2,665.8 333.2,662.5 335.2,660.1 337.2,658.4 339.1,657.2 341.1,656.2 343.1,655.4 345.1,654.8 347.1,654.2 349.1,653.9 351.0,653.7 353.0,653.6 355.0,653.8 357.0,654.1 359.0,654.5 361.0,655.0 363.0,655.5 364.9,656.0 366.9,656.6 368.9,657.1 370.9,657.7 372.9,658.3 374.9,658.9 376.9,659.5 378.8,660.2 380.8,660.8 382.8,661.4 384.8,662.0 386.8,662.6 388.8,663.1 390.7,663.4 392.7,663.7 394.7,663.8 396.7,663.9 398.7,663.8"/><polyline points="283.6,660.3 285.5,660.4 287.5,660.6 289.5,660.9 291.5,661.2 293.5,661.5 295.5,661.8 297.5,662.1 299.4,662.4 301.4,662.7 303.4,663.1 305.4,663.5 307.4,664.1 309.4,665.1 311.3,666.9 313.3,669.7 315.3,673.5 317.3,677.9 319.3,681.8 321.3,684.0 323.3,683.6 325.2,680.6 327.2,675.9 329.2,670.5 331.2,665.6 333.2,661.7 335.2,658.7 337.2,656.4 339.1,654.6 341.1,653.0 343.1,651.5 345.1,650.3 347.1,649.2 349.1,648.3 351.0,647.6 353.0,647.2 355.0,647.1 357.0,647.1 359.0,647.3 361.0,647.5 363.0,647.9 364.9,648.3 366.9,648.7 368.9,649.1 370.9,649.6 372.9,650.3 374.9,651.0 376.9,651.9 378.8,653.0 380.8,654.2 382.8,655.5 384.8,656.8 386.8,658.1 388.8,659.4 390.7,660.6 392.7,661.7 394.7,662.7 396.7,663.5 398.7,664.1"/><polyline points="283.6,661.1 285.5,661.5 287.5,662.0 289.5,662.4 291.5,662.8 293.5,663.1 295.5,663.5 297.5,663.7 299.4,663.9 301.4,664.0 303.4,664.0 305.4,664.1 307.4,664.3 309.4,664.9 311.3,666.0 313.3,667.9 315.3,670.5 317.3,673.3 319.3,675.6 321.3,676.4 323.3,675.2 325.2,672.2 327.2,668.1 329.2,663.8 331.2,660.1 333.2,657.2 335.2,655.0 337.2,653.5 339.1,652.3 341.1,651.4 343.1,650.6 345.1,650.1 347.1,649.8 349.1,649.7 351.0,649.9 353.0,650.3 355.0,650.9 357.0,651.6 359.0,652.5 361.0,653.4 363.0,654.3 364.9,655.3 366.9,656.1 368.9,656.9 370.9,657.7 372.9,658.4 374.9,659.1 376.9,659.8 378.8,660.5 380.8,661.2 382.8,661.8 384.8,662.4 386.8,662.9 388.8,663.3 390.7,663.6 392.7,663.7 394.7,663.8 396.7,663.7 398.7,663.5"/><polyline points="283.6,663.2 285.5,663.2 287.5,663.3 289.5,663.3 291.5,663.4 293.5,663.4 295.5,663.5 297.5,663.5 299.4,663.6 301.4,663.6 303.4,663.6 305.4,663.8 307.4,664.1 309.4,664.9 311.3,666.5 313.3,669.0 315.3,672.2 317.3,675.7 319.3,678.3 321.3,679.1 323.3,677.7 325.2,674.3 327.2,669.8 329.2,665.2 331.2,661.3 333.2,658.2 335.2,656.0 337.2,654.3 339.1,652.9 341.1,651.7 343.1,650.8 345.1,649.9 347.1,649.3 349.1,649.0 351.0,648.8 353.0,648.9 355.0,649.2 357.0,649.6 359.0,650.2 361.0,650.8 363.0,651.5 364.9,652.1 366.9,652.7 368.9,653.3 370.9,653.8 372.9,654.4 374.9,655.1 376.9,655.8 378.8,656.6 380.8,657.5 382.8,658.4 384.8,659.3 386.8,660.1 388.8,660.9 390.7,661.7 392.7,662.3 394.7,662.8 396.7,663.1 398.7,663.4"/><polyline points="283.6,664.2 285.5,664.2 287.5,664.0 289.5,663.8 291.5,663.6 293.5,663.3 295.5,663.1 297.5,662.8 299.4,662.5 301.4,662.3 303.4,662.1 305.4,662.1 307.4,662.3 309.4,662.9 311.3,664.4 313.3,666.8 315.3,670.3 317.3,674.4 319.3,678.3 321.3,680.6 323.3,680.7 325.2,678.4 327.2,674.4 329.2,669.8 331.2,665.6 333.2,662.3 335.2,659.8 337.2,658.1 339.1,656.7 341.1,655.5 343.1,654.4 345.1,653.5 347.1,652.7 349.1,652.0 351.0,651.5 353.0,651.2 355.0,651.1 357.0,651.2 359.0,651.5 361.0,651.9 363.0,652.4 364.9,652.9 366.9,653.5 368.9,654.2 370.9,655.0 372.9,655.8 374.9,656.7 376.9,657.6 378.8,658.6 380.8,659.7 382.8,660.7 384.8,661.7 386.8,662.6 388.8,663.4 390.7,664.0 392.7,664.5 394.7,664.8 396.7,664.9 398.7,664.9"/><polyline points="283.6,662.6 285.5,662.6 287.5,662.7 289.5,662.7 291.5,662.8 293.5,662.8 295.5,662.8 297.5,662.9 299.4,662.9 301.4,662.9 303.4,662.9 305.4,663.1 307.4,663.6 309.4,664.7 311.3,666.4 313.3,669.0 315.3,672.0 317.3,674.8 319.3,676.6 321.3,676.6 323.3,674.9 325.2,671.9 327.2,668.5 329.2,665.3 331.2,662.8 333.2,661.0 335.2,659.8 337.2,658.8 339.1,658.0 341.1,657.3 343.1,656.6 345.1,656.0 347.1,655.5 349.1,655.0 351.0,654.7 353.0,654.5 355.0,654.5 357.0,654.5 359.0,654.6 361.0,654.8 363.0,655.1 364.9,655.3 366.9,655.7 368.9,656.0 370.9,656.4 372.9,656.9 374.9,657.4 376.9,658.0 378.8,658.7 380.8,659.5 382.8,660.3 384.8,661.1 386.8,661.8 388.8,662.6 390.7,663.2 392.7,663.8 394.7,664.2 396.7,664.4 398.7,664.5"/><polyline points="283.6,663.3 285.5,663.4 287.5,663.5 289.5,663.6 291.5,663.7 293.5,663.7 295.5,663.8 297.5,663.8 299.4,663.8 301.4,663.8 303.4,663.9 305.4,664.1 307.4,664.5 309.4,665.6 311.3,667.4 313.3,670.3 315.3,674.0 317.3,677.9 319.3,680.7 321.3,681.6 323.3,680.0 325.2,676.3 327.2,671.5 329.2,666.8 331.2,662.7 333.2,659.6 335.2,657.3 337.2,655.6 339.1,654.1 341.1,652.9 343.1,651.7 345.1,650.7 347.1,649.9 349.1,649.3 351.0,648.9 353.0,648.8 355.0,648.9 357.0,649.1 359.0,649.5 361.0,650.0 363.0,650.6 364.9,651.2 366.9,651.8 368.9,652.5 370.9,653.2 372.9,654.0 374.9,654.9 376.9,655.8 378.8,656.9 380.8,658.0 382.8,659.1 384.8,660.2 386.8,661.3 388.8,662.3 390.7,663.2 392.7,663.9 394.7,664.5 396.7,664.9 398.7,665.1"/><polyline points="283.6,662.1 285.5,661.8 287.5,661.5 289.5,661.2 291.5,660.9 293.5,660.7 295.5,660.5 297.5,660.3 299.4,660.2 301.4,660.2 303.4,660.3 305.4,660.5 307.4,660.9 309.4,661.7 311.3,663.3 313.3,665.8 315.3,669.4 317.3,673.7 319.3,678.0 321.3,681.0 323.3,681.9 325.2,680.1 327.2,676.4 329.2,671.8 331.2,667.2 333.2,663.3 335.2,660.4 337.2,658.1 339.1,656.2 341.1,654.6 343.1,653.1 345.1,651.7 347.1,650.4 349.1,649.3 351.0,648.5 353.0,647.9 355.0,647.5 357.0,647.3 359.0,647.3 361.0,647.5 363.0,647.7 364.9,648.0 366.9,648.4 368.9,648.9 370.9,649.5 372.9,650.2 374.9,651.1 376.9,652.1 378.8,653.3 380.8,654.6 382.8,656.0 384.8,657.4 386.8,658.7 388.8,659.9 390.7,661.1 392.7,662.0 394.7,662.8 396.7,663.3 398.7,663.7"/><polyline points="283.6,667.6 285.5,667.6 287.5,667.6 289.5,667.5 291.5,667.3 293.5,667.1 295.5,666.8 297.5,666.3 299.4,665.6 301.4,664.8 303.4,663.8 305.4,662.8 307.4,661.8 309.4,660.9 311.3,660.3 313.3,660.0 315.3,660.3 317.3,661.1 319.3,662.6 321.3,664.6 323.3,667.1 325.2,669.6 327.2,671.6 329.2,672.6 331.2,672.4 333.2,671.3 335.2,669.8 337.2,668.2 339.1,666.9 341.1,666.1 343.1,665.6 345.1,665.3 347.1,665.2 349.1,665.1 351.0,665.0 353.0,665.0 355.0,664.9 357.0,664.8 359.0,664.8 361.0,664.7 363.0,664.7 364.9,664.7 366.9,664.7 368.9,664.7 370.9,664.7 372.9,664.8 374.9,664.8 376.9,664.9 378.8,665.0 380.8,665.1 382.8,665.2 384.8,665.3 386.8,665.3 388.8,665.4 390.7,665.4 392.7,665.3 394.7,665.3 396.7,665.2 398.7,665.1"/><polyline points="283.6,663.2 285.5,663.1 287.5,663.1 289.5,663.1 291.5,663.0 293.5,663.0 295.5,662.9 297.5,662.9 299.4,662.8 301.4,662.8 303.4,662.8 305.4,663.1 307.4,663.6 309.4,664.9 311.3,667.0 313.3,670.2 315.3,674.1 317.3,677.9 319.3,680.5 321.3,681.0 323.3,679.1 325.2,675.4 327.2,670.9 329.2,666.7 331.2,663.2 333.2,660.8 335.2,659.0 337.2,657.7 339.1,656.7 341.1,655.8 343.1,655.0 345.1,654.3 347.1,653.7 349.1,653.3 351.0,653.0 353.0,652.9 355.0,652.9 357.0,653.0 359.0,653.3 361.0,653.6 363.0,654.0 364.9,654.3 366.9,654.7 368.9,655.1 370.9,655.5 372.9,655.9 374.9,656.4 376.9,657.0 378.8,657.7 380.8,658.4 382.8,659.1 384.8,659.9 386.8,660.6 388.8,661.3 390.7,661.9 392.7,662.5 394.7,662.9 396.7,663.2 398.7,663.3"/><polyline points="283.6,662.7 285.5,662.5 287.5,662.3 289.5,662.1 291.5,661.8 293.5,661.6 295.5,661.4 297.5,661.3 299.4,661.1 301.4,661.0 303.4,661.0 305.4,661.3 307.4,662.1 309.4,663.7 311.3,666.5 313.3,670.6 315.3,675.6 317.3,680.6 319.3,684.1 321.3,684.9 323.3,682.7 325.2,678.3 327.2,672.8 329.2,667.6 331.2,663.5 333.2,660.5 335.2,658.4 337.2,656.9 339.1,655.6 341.1,654.5 343.1,653.4 345.1,652.5 347.1,651.7 349.1,651.0 351.0,650.5 353.0,650.3 355.0,650.2 357.0,650.2 359.0,650.4 361.0,650.6 363.0,650.9 364.9,651.2 366.9,651.6 368.9,651.9 370.9,652.3 372.9,652.8 374.9,653.5 376.9,654.2 378.8,655.1 380.8,656.0 382.8,657.0 384.8,658.1 386.8,659.2 388.8,660.2 390.7,661.1 392.7,661.9 394.7,662.5 396.7,663.0 398.7,663.4"/><polyline points="283.6,662.5 285.5,662.6 287.5,662.6 289.5,662.7 291.5,662.7 293.5,662.8 295.5,662.8 297.5,662.8 299.4,662.8 301.4,662.9 303.4,662.9 305.4,663.2 307.4,663.9 309.4,665.4 311.3,668.0 313.3,672.0 315.3,677.1 317.3,682.4 319.3,686.4 321.3,687.8 323.3,685.9 325.2,681.4 327.2,675.6 329.2,669.9 331.2,665.2 333.2,661.9 335.2,659.8 337.2,658.4 339.1,657.4 341.1,656.6 343.1,655.9 345.1,655.3 347.1,654.8 349.1,654.5 351.0,654.3 353.0,654.2 355.0,654.3 357.0,654.4 359.0,654.7 361.0,654.9 363.0,655.2 364.9,655.5 366.9,655.9 368.9,656.2 370.9,656.5 372.9,656.9 374.9,657.3 376.9,657.8 378.8,658.4 380.8,659.1 382.8,659.7 384.8,660.5 386.8,661.2 388.8,661.9 390.7,662.5 392.7,663.1 394.7,663.5 396.7,663.9 398.7,664.1"/></g>
<rect x="455.7" y="631.8" width="128.5" height="62.4" fill="#fff" stroke="#b2b2b2" stroke-width="0.6"/>
<rect x="456.1" y="663.05" width="127.7" height="0.55" fill="#f0a0a0"/>
<text x="454" y="642.4" font-size="9.3" text-anchor="end" fill="#000">20</text>
<text x="454" y="663.4" font-size="9.3" text-anchor="end" fill="#000">0</text>
<text x="454" y="684.1" font-size="9.3" text-anchor="end" fill="#000">-20</text>
<text x="456.5" y="703.6" font-size="9.3" text-anchor="middle" fill="#000">-1.0</text>
<text x="476.35" y="703.6" font-size="9.3" text-anchor="middle" fill="#000">-0.5</text>
<text x="497.8" y="703.6" font-size="9.3" text-anchor="middle" fill="#000">0</text>
<text x="516.05" y="703.6" font-size="9.3" text-anchor="middle" fill="#000">0.5</text>
<text x="535.9" y="703.6" font-size="9.3" text-anchor="middle" fill="#000">1.0</text>
<text x="555.75" y="703.6" font-size="9.3" text-anchor="middle" fill="#000">1.5</text>
<text x="575.6" y="703.6" font-size="9.3" text-anchor="middle" fill="#000">2.0</text>
<text x="518.8" y="714.2" font-size="9.2" text-anchor="middle" fill="#000">Time (ms)</text>
<text x="439.55" y="660.85" font-size="9.3" text-anchor="middle" fill="#000" transform="rotate(-90 439.55 660.85)">Voltage (µV)</text>
<g fill="none" stroke="#1c1cf2" stroke-width="0.4" stroke-opacity="0.56" stroke-linejoin="round"><polyline points="462.2,657.6 464.1,658.1 466.1,658.6 468.1,659.0 470.1,659.4 472.1,659.7 474.1,660.0 476.1,660.2 478.0,660.2 480.0,660.2 482.0,660.1 484.0,660.0 486.0,660.0 488.0,660.2 489.9,660.8 491.9,662.0 493.9,663.6 495.9,665.5 497.9,667.0 499.9,667.5 501.9,666.8 503.8,665.0 505.8,663.1 507.8,662.3 509.8,662.9 511.8,662.8 513.8,660.3 515.8,657.3 517.7,655.5 519.7,655.2 521.7,655.4 523.7,656.0 525.7,656.7 527.7,657.7 529.6,658.8 531.6,660.1 533.6,662.0 535.6,664.5 537.6,667.6 539.6,670.9 541.6,673.7 543.5,675.1 545.5,674.7 547.5,672.5 549.5,669.1 551.5,665.5 553.5,662.4 555.5,660.3 557.4,659.6 559.4,660.5 561.4,661.4 563.4,660.5 565.4,658.3 567.4,656.5 569.3,655.8 571.3,655.7 573.3,655.7 575.3,655.9 577.3,656.1"/><polyline points="462.2,663.0 464.1,662.8 466.1,662.6 468.1,662.5 470.1,662.4 472.1,662.4 474.1,662.4 476.1,662.4 478.0,662.5 480.0,662.6 482.0,662.9 484.0,663.2 486.0,663.8 488.0,664.8 489.9,666.4 491.9,668.7 493.9,671.8 495.9,675.2 497.9,678.1 499.9,679.7 501.9,679.5 503.8,677.7 505.8,674.7 507.8,671.0 509.8,667.4 511.8,664.9 513.8,664.1 515.8,664.3 517.7,664.4 519.7,664.3 521.7,664.1 523.7,664.1 525.7,664.1 527.7,664.3 529.6,664.5 531.6,664.6 533.6,664.8 535.6,664.8 537.6,664.8 539.6,664.8 541.6,664.8 543.5,664.8 545.5,664.8 547.5,664.9 549.5,665.0 551.5,665.1 553.5,665.2 555.5,665.3 557.4,665.1 559.4,664.6 561.4,664.1 563.4,664.5 565.4,665.4 567.4,666.2 569.3,666.6 571.3,666.8 573.3,666.9 575.3,666.9 577.3,666.9"/><polyline points="462.2,664.0 464.1,664.3 466.1,664.6 468.1,664.8 470.1,664.8 472.1,664.9 474.1,664.8 476.1,664.7 478.0,664.5 480.0,664.3 482.0,663.9 484.0,663.2 486.0,662.2 488.0,660.7 489.9,658.6 491.9,656.1 493.9,653.6 495.9,651.9 497.9,651.4 499.9,652.2 501.9,654.1 503.8,656.4 505.8,658.7 507.8,660.8 509.8,662.6 511.8,663.9 513.8,664.6 515.8,665.2 517.7,665.7 519.7,666.0 521.7,665.9 523.7,665.4 525.7,664.8 527.7,664.1 529.6,663.5 531.6,663.1 533.6,662.7 535.6,662.3 537.6,661.9 539.6,661.6 541.6,661.1 543.5,660.7 545.5,660.2 547.5,659.7 549.5,659.2 551.5,658.7 553.5,658.2 555.5,658.0 557.4,658.6 559.4,660.1 561.4,661.3 563.4,660.5 565.4,658.5 567.4,656.9 569.3,656.3 571.3,656.2 573.3,656.4 575.3,656.6 577.3,656.8"/><polyline points="462.2,660.6 464.1,660.7 466.1,660.9 468.1,661.0 470.1,661.1 472.1,661.2 474.1,661.2 476.1,661.2 478.0,661.2 480.0,661.2 482.0,661.2 484.0,661.3 486.0,661.6 488.0,662.2 489.9,663.4 491.9,665.4 493.9,667.9 495.9,670.6 497.9,672.6 499.9,673.4 501.9,672.5 503.8,670.3 505.8,667.7 507.8,665.6 509.8,664.5 511.8,663.5 513.8,661.8 515.8,660.0 517.7,658.9 519.7,658.5 521.7,658.5 523.7,658.7 525.7,659.1 527.7,659.6 529.6,660.1 531.6,660.5 533.6,660.9 535.6,661.1 537.6,661.3 539.6,661.4 541.6,661.4 543.5,661.3 545.5,661.2 547.5,661.1 549.5,661.0 551.5,660.8 553.5,660.6 555.5,660.6 557.4,660.8 559.4,661.6 561.4,662.2 563.4,661.8 565.4,660.6 567.4,659.7 569.3,659.3 571.3,659.1 573.3,659.1 575.3,659.1 577.3,659.1"/><polyline points="462.2,657.9 464.1,657.8 466.1,657.9 468.1,657.9 470.1,658.1 472.1,658.3 474.1,658.6 476.1,658.9 478.0,659.2 480.0,659.6 482.0,659.9 484.0,660.2 486.0,660.4 488.0,660.2 489.9,659.7 491.9,658.6 493.9,657.0 495.9,655.3 497.9,653.8 499.9,653.2 501.9,653.7 503.8,655.0 505.8,656.9 507.8,659.1 509.8,661.3 511.8,663.1 513.8,663.7 515.8,663.4 517.7,662.8 519.7,662.2 521.7,661.3 523.7,660.2 525.7,658.9 527.7,657.7 529.6,656.7 531.6,655.8 533.6,655.2 535.6,654.7 537.6,654.3 539.6,654.0 541.6,653.8 543.5,653.7 545.5,653.7 547.5,653.7 549.5,653.9 551.5,654.1 553.5,654.4 555.5,655.1 557.4,656.8 559.4,659.3 561.4,661.0 563.4,660.5 565.4,658.8 567.4,657.9 569.3,657.8 571.3,658.1 573.3,658.4 575.3,658.7 577.3,659.0"/><polyline points="462.2,660.9 464.1,660.7 466.1,660.6 468.1,660.4 470.1,660.2 472.1,660.0 474.1,659.8 476.1,659.6 478.0,659.4 480.0,659.3 482.0,659.3 484.0,659.6 486.0,660.4 488.0,661.9 489.9,664.2 491.9,667.1 493.9,669.8 495.9,671.7 497.9,672.1 499.9,670.7 501.9,668.1 503.8,665.2 505.8,662.8 507.8,661.8 509.8,662.2 511.8,662.3 513.8,660.6 515.8,658.3 517.7,656.9 519.7,656.3 521.7,656.3 523.7,656.4 525.7,656.8 527.7,657.2 529.6,657.6 531.6,658.1 533.6,658.5 535.6,658.8 537.6,659.0 539.6,659.3 541.6,659.4 543.5,659.6 545.5,659.8 547.5,659.9 549.5,660.1 551.5,660.3 553.5,660.4 555.5,660.7 557.4,661.2 559.4,662.0 561.4,662.6 563.4,662.4 565.4,661.8 567.4,661.4 569.3,661.3 571.3,661.2 573.3,661.2 575.3,661.2 577.3,661.1"/><polyline points="462.2,661.7 464.1,660.7 466.1,659.8 468.1,659.1 470.1,658.5 472.1,658.0 474.1,657.8 476.1,657.8 478.0,657.9 480.0,658.1 482.0,658.6 484.0,659.2 486.0,660.2 488.0,661.6 489.9,663.7 491.9,666.5 493.9,669.8 495.9,673.1 497.9,675.5 499.9,676.3 501.9,675.1 503.8,672.3 505.8,668.9 507.8,666.0 509.8,664.4 511.8,663.3 513.8,660.9 515.8,657.5 517.7,654.7 519.7,653.1 521.7,652.2 523.7,651.7 525.7,651.6 527.7,651.8 529.6,652.2 531.6,652.9 533.6,653.7 535.6,654.6 537.6,655.7 539.6,656.9 541.6,658.2 543.5,659.6 545.5,661.1 547.5,662.5 549.5,664.0 551.5,665.3 553.5,666.5 555.5,667.4 557.4,667.4 559.4,666.3 561.4,665.3 563.4,666.0 565.4,667.8 567.4,669.0 569.3,669.1 571.3,668.6 573.3,667.8 575.3,667.0 577.3,666.0"/><polyline points="462.2,657.9 464.1,658.2 466.1,658.7 468.1,659.3 470.1,660.1 472.1,660.9 474.1,661.8 476.1,662.7 478.0,663.6 480.0,664.5 482.0,665.3 484.0,666.1 486.0,667.0 488.0,668.1 489.9,669.5 491.9,671.4 493.9,673.7 495.9,675.9 497.9,677.4 499.9,677.6 501.9,676.2 503.8,673.6 505.8,670.3 507.8,667.1 509.8,664.9 511.8,663.5 513.8,661.9 515.8,659.8 517.7,658.2 519.7,657.3 521.7,656.9 523.7,656.9 525.7,657.2 527.7,657.7 529.6,658.4 531.6,659.1 533.6,659.9 535.6,660.7 537.6,661.4 539.6,662.1 541.6,662.8 543.5,663.3 545.5,663.8 547.5,664.2 549.5,664.5 551.5,664.7 553.5,664.8 555.5,664.7 557.4,664.3 559.4,663.8 561.4,663.5 563.4,663.4 565.4,663.3 567.4,662.8 569.3,662.4 571.3,661.9 573.3,661.6 575.3,661.3 577.3,661.0"/><polyline points="462.2,657.2 464.1,657.4 466.1,657.8 468.1,658.2 470.1,658.6 472.1,659.1 474.1,659.6 476.1,660.1 478.0,660.7 480.0,661.2 482.0,661.8 484.0,662.3 486.0,663.0 488.0,663.8 489.9,665.2 491.9,667.2 493.9,669.9 495.9,673.2 497.9,676.4 499.9,678.6 501.9,679.1 503.8,677.6 505.8,674.5 507.8,670.9 509.8,667.7 511.8,665.3 513.8,663.0 515.8,660.7 517.7,659.0 519.7,657.8 521.7,657.1 523.7,656.7 525.7,656.5 527.7,656.4 529.6,656.4 531.6,656.5 533.6,656.6 535.6,656.7 537.6,656.8 539.6,657.0 541.6,657.1 543.5,657.4 545.5,657.7 547.5,658.1 549.5,658.5 551.5,659.0 553.5,659.5 555.5,660.2 557.4,661.1 559.4,662.2 561.4,662.8 563.4,662.9 565.4,662.9 567.4,663.1 569.3,663.5 571.3,663.8 573.3,664.0 575.3,664.2 577.3,664.3"/><polyline points="462.2,668.7 464.1,668.4 466.1,667.9 468.1,667.4 470.1,666.8 472.1,666.1 474.1,665.4 476.1,664.7 478.0,664.0 480.0,663.3 482.0,662.6 484.0,662.1 486.0,661.8 488.0,662.0 489.9,662.7 491.9,664.1 493.9,665.9 495.9,667.7 497.9,668.8 499.9,668.7 501.9,667.6 503.8,665.6 505.8,663.7 507.8,662.8 509.8,663.0 511.8,662.7 513.8,661.2 515.8,659.5 517.7,658.7 519.7,658.7 521.7,659.1 523.7,659.7 525.7,660.4 527.7,661.3 529.6,662.2 531.6,663.0 533.6,663.8 535.6,664.4 537.6,665.0 539.6,665.5 541.6,665.9 543.5,666.2 545.5,666.5 547.5,666.7 549.5,666.9 551.5,667.0 553.5,667.1 555.5,667.0 557.4,666.4 559.4,665.3 561.4,664.5 563.4,664.9 565.4,665.9 567.4,666.7 569.3,666.8 571.3,666.8 573.3,666.6 575.3,666.5 577.3,666.3"/><polyline points="462.2,657.7 464.1,658.1 466.1,658.4 468.1,658.7 470.1,659.0 472.1,659.2 474.1,659.4 476.1,659.6 478.0,659.7 480.0,659.7 482.0,659.8 484.0,659.9 486.0,660.1 488.0,660.7 489.9,662.0 491.9,664.0 493.9,666.8 495.9,670.0 497.9,672.7 499.9,674.0 501.9,673.3 503.8,671.0 505.8,667.8 507.8,665.5 509.8,664.7 511.8,663.7 513.8,660.7 515.8,657.0 517.7,654.6 519.7,653.6 521.7,653.3 523.7,653.4 525.7,653.8 527.7,654.3 529.6,655.2 531.6,656.4 533.6,658.1 535.6,660.5 537.6,663.5 539.6,666.8 541.6,669.7 543.5,671.6 545.5,671.9 547.5,670.8 549.5,668.7 551.5,666.3 553.5,664.3 555.5,662.9 557.4,662.4 559.4,662.5 561.4,662.7 563.4,662.2 565.4,661.2 567.4,660.1 569.3,659.2 571.3,658.5 573.3,657.8 575.3,657.1 577.3,656.4"/><polyline points="462.2,660.1 464.1,659.7 466.1,659.2 468.1,658.8 470.1,658.4 472.1,658.0 474.1,657.7 476.1,657.4 478.0,657.2 480.0,657.1 482.0,657.1 484.0,657.3 486.0,657.8 488.0,659.0 489.9,661.1 491.9,664.2 493.9,668.1 495.9,672.3 497.9,675.6 499.9,677.1 501.9,676.5 503.8,674.0 505.8,670.8 507.8,667.9 509.8,665.9 511.8,664.2 513.8,662.5 515.8,661.2 517.7,660.5 519.7,660.2 521.7,660.2 523.7,660.3 525.7,660.5 527.7,660.7 529.6,661.0 531.6,661.2 533.6,661.3 535.6,661.3 537.6,661.2 539.6,661.1 541.6,660.9 543.5,660.7 545.5,660.5 547.5,660.3 549.5,660.2 551.5,660.0 553.5,660.0 555.5,660.0 557.4,660.5 559.4,661.5 561.4,662.2 563.4,661.9 565.4,660.9 567.4,660.1 569.3,659.9 571.3,659.8 573.3,659.8 575.3,659.8 577.3,659.8"/><polyline points="462.2,666.1 464.1,667.0 466.1,667.7 468.1,668.1 470.1,668.2 472.1,668.1 474.1,667.7 476.1,667.0 478.0,666.2 480.0,665.1 482.0,664.0 484.0,663.0 486.0,662.3 488.0,662.1 489.9,662.6 491.9,663.6 493.9,664.6 495.9,665.3 497.9,664.9 499.9,663.5 501.9,661.3 503.8,659.1 505.8,657.9 507.8,658.7 509.8,660.9 511.8,661.8 513.8,660.2 515.8,658.3 517.7,658.0 519.7,658.8 521.7,659.9 523.7,661.2 525.7,662.4 527.7,663.7 529.6,664.9 531.6,666.1 533.6,667.4 535.6,669.0 537.6,670.7 539.6,672.4 541.6,673.6 543.5,673.7 545.5,672.3 547.5,669.6 549.5,666.1 551.5,662.4 553.5,659.1 555.5,656.8 557.4,656.4 559.4,658.2 561.4,659.9 563.4,658.6 565.4,655.0 567.4,652.5 569.3,651.9 571.3,652.2 573.3,653.0 575.3,654.0 577.3,655.1"/><polyline points="462.2,663.1 464.1,662.4 466.1,661.7 468.1,661.1 470.1,660.7 472.1,660.3 474.1,660.1 476.1,660.0 478.0,660.1 480.0,660.2 482.0,660.5 484.0,661.0 486.0,661.6 488.0,662.5 489.9,664.0 491.9,666.2 493.9,669.1 495.9,672.5 497.9,675.5 499.9,677.3 501.9,677.1 503.8,675.1 505.8,671.7 507.8,668.3 509.8,666.0 511.8,664.3 513.8,661.3 515.8,657.3 517.7,654.0 519.7,652.0 521.7,650.8 523.7,650.0 525.7,649.5 527.7,649.3 529.6,649.4 531.6,649.7 533.6,650.1 535.6,650.8 537.6,651.6 539.6,652.6 541.6,653.8 543.5,655.1 545.5,656.5 547.5,658.0 549.5,659.6 551.5,661.2 553.5,662.7 555.5,664.1 557.4,665.0 559.4,665.0 561.4,664.6 563.4,665.3 565.4,667.0 567.4,668.3 569.3,668.7 571.3,668.4 573.3,667.9 575.3,667.1 577.3,666.2"/><polyline points="462.2,660.9 464.1,660.9 466.1,660.8 468.1,660.8 470.1,660.7 472.1,660.7 474.1,660.7 476.1,660.7 478.0,660.7 480.0,660.6 482.0,660.6 484.0,660.7 486.0,660.9 488.0,661.4 489.9,662.5 491.9,664.3 493.9,666.6 495.9,669.0 497.9,671.0 499.9,671.7 501.9,671.0 503.8,669.0 505.8,666.6 507.8,664.9 509.8,664.2 511.8,663.3 513.8,661.5 515.8,659.5 517.7,658.4 519.7,658.2 521.7,658.5 523.7,659.0 525.7,659.7 527.7,660.5 529.6,661.3 531.6,662.0 533.6,662.6 535.6,663.1 537.6,663.4 539.6,663.6 541.6,663.6 543.5,663.5 545.5,663.3 547.5,663.0 549.5,662.5 551.5,662.0 553.5,661.4 555.5,660.8 557.4,660.7 559.4,661.2 561.4,661.9 563.4,661.1 565.4,659.2 567.4,657.5 569.3,656.7 571.3,656.3 573.3,656.2 575.3,656.3 577.3,656.5"/><polyline points="462.2,664.5 464.1,664.1 466.1,663.6 468.1,662.9 470.1,662.1 472.1,661.1 474.1,660.2 476.1,659.2 478.0,658.2 480.0,657.3 482.0,656.5 484.0,656.0 486.0,655.8 488.0,656.1 489.9,657.2 491.9,659.3 493.9,662.1 495.9,665.3 497.9,668.1 499.9,669.8 501.9,670.0 503.8,668.9 505.8,667.3 507.8,666.0 509.8,665.1 511.8,663.9 513.8,662.7 515.8,662.3 517.7,662.4 519.7,662.5 521.7,662.6 523.7,662.7 525.7,662.8 527.7,662.8 529.6,662.6 531.6,662.3 533.6,661.8 535.6,661.2 537.6,660.4 539.6,659.6 541.6,658.7 543.5,657.9 545.5,657.2 547.5,656.6 549.5,656.2 551.5,655.9 553.5,655.9 555.5,656.3 557.4,657.7 559.4,659.9 561.4,661.4 563.4,661.1 565.4,660.1 567.4,660.0 569.3,660.6 571.3,661.4 573.3,662.3 575.3,663.0 577.3,663.7"/><polyline points="462.2,666.5 464.1,666.2 466.1,665.8 468.1,665.4 470.1,664.9 472.1,664.4 474.1,663.9 476.1,663.4 478.0,662.9 480.0,662.4 482.0,661.8 484.0,661.2 486.0,660.5 488.0,659.5 489.9,658.0 491.9,655.9 493.9,653.3 495.9,650.6 497.9,648.5 499.9,647.7 501.9,648.4 503.8,650.5 505.8,653.4 507.8,656.9 509.8,660.3 511.8,662.7 513.8,663.6 515.8,663.9 517.7,664.2 519.7,664.5 521.7,664.4 523.7,664.1 525.7,663.6 527.7,663.1 529.6,662.6 531.6,662.4 533.6,662.2 535.6,662.1 537.6,662.1 539.6,662.0 541.6,661.9 543.5,661.9 545.5,661.8 547.5,661.8 549.5,661.7 551.5,661.7 553.5,661.7 555.5,661.8 557.4,662.1 559.4,662.6 561.4,662.9 563.4,662.8 565.4,662.7 567.4,662.7 569.3,662.9 571.3,663.1 573.3,663.4 575.3,663.8 577.3,664.1"/><polyline points="462.2,650.7 464.1,649.7 466.1,648.8 468.1,648.3 470.1,648.0 472.1,648.0 474.1,648.3 476.1,648.9 478.0,649.8 480.0,650.9 482.0,652.2 484.0,653.8 486.0,655.5 488.0,657.5 489.9,660.0 491.9,662.9 493.9,666.4 495.9,670.3 497.9,673.9 499.9,676.7 501.9,677.9 503.8,677.3 505.8,675.0 507.8,671.5 509.8,667.8 511.8,665.1 513.8,663.6 515.8,662.0 517.7,660.1 519.7,658.2 521.7,656.5 523.7,655.0 525.7,653.8 527.7,652.7 529.6,651.7 531.6,650.9 533.6,650.2 535.6,649.7 537.6,649.3 539.6,649.2 541.6,649.2 543.5,649.5 545.5,649.9 547.5,650.6 549.5,651.5 551.5,652.5 553.5,653.7 555.5,655.2 557.4,657.5 559.4,660.2 561.4,661.8 563.4,661.8 565.4,661.4 567.4,661.6 569.3,662.1 571.3,662.7 573.3,663.1 575.3,663.3 577.3,663.3"/><polyline points="462.2,652.7 464.1,653.2 466.1,653.6 468.1,654.2 470.1,654.7 472.1,655.4 474.1,656.0 476.1,656.7 478.0,657.4 480.0,658.1 482.0,658.9 484.0,659.7 486.0,660.9 488.0,662.5 489.9,664.9 491.9,667.9 493.9,671.5 495.9,674.8 497.9,677.0 499.9,677.5 501.9,676.0 503.8,673.1 505.8,669.8 507.8,666.8 509.8,664.9 511.8,663.5 513.8,661.9 515.8,660.1 517.7,658.6 519.7,657.6 521.7,656.9 523.7,656.4 525.7,656.1 527.7,655.8 529.6,655.6 531.6,655.5 533.6,655.3 535.6,655.0 537.6,654.8 539.6,654.5 541.6,654.3 543.5,654.2 545.5,654.0 547.5,654.0 549.5,654.0 551.5,654.1 553.5,654.3 555.5,654.9 557.4,656.5 559.4,659.0 561.4,660.8 563.4,660.2 565.4,658.3 567.4,657.1 569.3,657.0 571.3,657.3 573.3,657.7 575.3,658.2 577.3,658.5"/><polyline points="462.2,660.8 464.1,660.7 466.1,660.6 468.1,660.5 470.1,660.5 472.1,660.4 474.1,660.4 476.1,660.3 478.0,660.3 480.0,660.4 482.0,660.6 484.0,661.2 486.0,662.2 488.0,663.9 489.9,666.4 491.9,669.4 493.9,672.3 495.9,674.3 497.9,674.7 499.9,673.5 501.9,671.0 503.8,668.1 505.8,665.6 507.8,664.0 509.8,663.3 511.8,662.8 513.8,661.8 515.8,660.8 517.7,660.1 519.7,659.9 521.7,659.9 523.7,660.0 525.7,660.3 527.7,660.7 529.6,661.1 531.6,661.5 533.6,661.8 535.6,662.1 537.6,662.2 539.6,662.3 541.6,662.3 543.5,662.4 545.5,662.3 547.5,662.3 549.5,662.3 551.5,662.2 553.5,662.2 555.5,662.2 557.4,662.3 559.4,662.6 561.4,662.9 563.4,662.7 565.4,662.3 567.4,661.9 569.3,661.7 571.3,661.6 573.3,661.5 575.3,661.5 577.3,661.4"/><polyline points="462.2,658.5 464.1,657.3 466.1,656.3 468.1,655.5 470.1,655.0 472.1,654.8 474.1,654.9 476.1,655.3 478.0,656.0 480.0,656.9 482.0,658.1 484.0,659.4 486.0,661.0 488.0,663.0 489.9,665.3 491.9,668.3 493.9,672.0 495.9,676.2 497.9,680.1 499.9,682.9 501.9,683.7 503.8,682.4 505.8,678.9 507.8,674.0 509.8,669.1 511.8,665.8 513.8,663.8 515.8,661.7 517.7,659.4 519.7,657.4 521.7,655.9 523.7,654.9 525.7,654.1 527.7,653.8 529.6,653.7 531.6,654.0 533.6,654.5 535.6,655.2 537.6,656.1 539.6,657.2 541.6,658.4 543.5,659.8 545.5,661.2 547.5,662.7 549.5,664.1 551.5,665.3 553.5,666.4 555.5,667.1 557.4,667.0 559.4,665.9 561.4,664.9 563.4,665.2 565.4,666.2 567.4,666.4 569.3,665.6 571.3,664.4 573.3,663.1 575.3,661.7 577.3,660.2"/><polyline points="462.2,658.6 464.1,658.1 466.1,657.6 468.1,657.1 470.1,656.5 472.1,656.1 474.1,655.6 476.1,655.2 478.0,654.9 480.0,654.7 482.0,654.6 484.0,654.8 486.0,655.4 488.0,656.7 489.9,658.9 491.9,662.3 493.9,666.6 495.9,671.0 497.9,674.5 499.9,676.1 501.9,675.6 503.8,673.3 505.8,670.4 507.8,667.9 509.8,665.9 511.8,664.2 513.8,663.0 515.8,662.6 517.7,662.8 519.7,663.1 521.7,663.4 523.7,663.8 525.7,664.2 527.7,664.6 529.6,664.9 531.6,665.0 533.6,664.9 535.6,664.7 537.6,664.3 539.6,663.8 541.6,663.1 543.5,662.4 545.5,661.6 547.5,660.8 549.5,660.0 551.5,659.1 553.5,658.4 555.5,657.9 557.4,658.3 559.4,659.7 561.4,661.0 563.4,660.1 565.4,657.7 567.4,655.7 569.3,654.9 571.3,654.8 573.3,654.9 575.3,655.1 577.3,655.4"/></g>
<text x="0.6" y="734.3" font-size="13.2" text-anchor="start" font-weight="bold" fill="#000">c</text>
<text x="27.6" y="800.3" font-size="10" text-anchor="middle" fill="#000" transform="rotate(-90 27.6 800.3)">Number of spikes / 5min</text>
<rect x="72.4" y="846.4" width="15.2" height="11.6" fill="#d9cfee"/>
<rect x="73.15" y="847.15" width="13.7" height="10.85" fill="none" stroke="#3d2272" stroke-width="1.5"/>
<rect x="95.8" y="856.6" width="14.6" height="1.4" fill="#9fe2f8"/>
<rect x="95.8" y="856.6" width="14.6" height="1.4" fill="#1f6fe6"/>
<rect x="133.7" y="835.6" width="15.2" height="22.4" fill="#d9cfee"/>
<rect x="134.45" y="836.35" width="13.7" height="21.65" fill="none" stroke="#3d2272" stroke-width="1.5"/>
<rect x="156.5" y="845.5" width="14.9" height="12.5" fill="#9fe2f8"/>
<rect x="157.25" y="846.25" width="13.4" height="11.75" fill="none" stroke="#1f6fe6" stroke-width="1.5"/>
<path d="M72.8 857.1h0M76.6 857.2h0M78.1 857.5h0M80.1 857.4h0M83.3 857.6h0M85.4 857.6h0M80.2 844.5h0M81.6 838.5h0M77.8 837.0h0M82.4 835.8h0M79.7 828.5h0M80.2 827.0h0" stroke="#b49edd" stroke-width="2.25" stroke-linecap="round" fill="none"/>
<path d="M75.0 856.7h0M80.3 854.0h0M80.9 851.0h0M79.2 848.0h0M80.0 842.5h0M78.8 832.5h0M81.2 831.0h0M80.0 825.4h0" stroke="#b49edd" stroke-width="1.95" stroke-linecap="square" fill="none"/>
<path d="M80.6 857.5h2.8M82.0 856.1v2.8M85.6 857.3h2.8M87.0 855.9v2.8M77.0 840.5h2.8M78.4 839.1v2.8M78.8 834.4h2.8M80.2 833.0v2.8" stroke="#b49edd" stroke-width="1.1" fill="none"/>
<path d="M95.8 857.6h0M97.4 857.5h0M99.3 857.5h0M101.4 857.8h0M103.2 857.2h0M104.9 857.0h0M106.8 857.5h0M108.8 857.5h0M110.5 857.9h0M95.6 856.7h0M97.7 857.2h0M99.4 857.2h0M101.0 857.0h0M102.8 857.0h0M105.1 857.0h0M106.7 856.5h0M108.6 856.5h0M110.7 856.7h0M97.3 856.2h0M98.9 855.8h0M100.3 856.5h0M102.2 856.5h0M104.2 855.6h0M105.4 855.7h0M107.6 855.8h0M109.3 855.7h0M100.5 855.7h0M102.4 855.0h0M103.9 854.9h0M105.3 854.9h0M101.6 854.1h0M102.8 854.8h0M105.0 854.6h0M101.8 854.0h0M104.4 854.1h0M102.8 853.6h0M103.5 853.4h0M103.1 852.0h0" stroke="#1cc8fd" stroke-width="2.25" stroke-linecap="round" fill="none"/>
<path d="M137.5 857.6h0M139.7 857.2h0M143.1 857.0h0M145.1 857.3h0M138.9 855.7h0M140.4 855.8h0M142.0 855.4h0M144.0 855.7h0M145.1 855.9h0M138.3 854.7h0M140.3 854.5h0M146.0 854.4h0M139.7 852.6h0M142.9 852.8h0M137.7 851.4h0M140.5 849.5h0M142.3 849.2h0M144.0 849.8h0M134.6 848.4h0M137.8 848.4h0M141.4 848.0h0M142.9 847.7h0M144.4 848.6h0M146.4 848.1h0M147.9 847.7h0M136.6 846.1h0M138.8 846.1h0M140.4 846.5h0M142.0 846.9h0M144.1 847.0h0M146.2 846.3h0M148.0 846.4h0M138.9 845.0h0M142.1 844.8h0M143.8 844.9h0M137.2 843.6h0M138.5 843.5h0M142.4 843.5h0M144.0 843.1h0M145.4 843.2h0M147.2 843.2h0M137.4 841.5h0M141.4 841.8h0M143.3 842.0h0M145.0 841.5h0M136.7 840.8h0M145.8 840.8h0M137.5 838.3h0M138.7 838.4h0M145.2 838.6h0M139.6 837.2h0M141.3 836.8h0M142.7 836.9h0M140.5 835.9h0M142.0 835.6h0M143.9 835.3h0M138.8 834.5h0M140.3 834.6h0M141.9 833.9h0M139.3 832.6h0M142.2 833.0h0M143.6 830.8h0M139.6 829.9h0M139.6 827.9h0M141.3 828.2h0M143.3 827.6h0M139.9 826.3h0M141.1 826.8h0M139.7 825.2h0M141.2 824.9h0M142.5 825.2h0M140.3 823.4h0M142.6 823.6h0M140.2 822.2h0M141.9 821.6h0M142.1 816.1h0M141.3 808.0h0M141.3 785.9h0M141.3 781.7h0M141.3 776.5h0" stroke="#b49edd" stroke-width="2.25" stroke-linecap="round" fill="none"/>
<path d="M141.4 857.9h0M137.1 856.1h0M136.5 854.6h0M142.3 854.4h0M136.0 852.7h0M137.8 852.7h0M141.3 853.0h0M146.5 852.3h0M135.8 851.3h0M139.6 850.7h0M141.6 851.2h0M135.4 850.0h0M136.7 849.3h0M138.6 849.5h0M147.2 849.7h0M136.1 847.8h0M139.8 848.4h0M134.9 846.8h0M136.7 845.4h0M140.2 845.2h0M146.0 844.6h0M147.8 844.7h0M135.0 843.6h0M140.2 843.8h0M135.5 841.9h0M147.0 841.4h0M138.6 840.8h0M142.5 840.8h0M140.7 838.6h0M143.8 838.3h0M144.7 837.2h0M138.7 836.2h0M144.0 834.1h0M143.7 832.2h0M141.4 830.6h0M140.5 816.1h0M141.3 795.9h0M141.3 751.1h0" stroke="#b49edd" stroke-width="1.95" stroke-linecap="square" fill="none"/>
<path d="M142.8 854.1h2.8M144.2 852.7v2.8M143.0 853.2h2.8M144.4 851.8v2.8M141.5 850.8h2.8M142.9 849.4v2.8M143.6 851.3h2.8M145.0 849.9v2.8M145.5 851.4h2.8M146.9 850.0v2.8M144.4 850.0h2.8M145.8 848.6v2.8M133.4 845.1h2.8M134.8 843.7v2.8M138.2 841.8h2.8M139.6 840.4v2.8M139.2 840.5h2.8M140.6 839.1v2.8M142.5 840.8h2.8M143.9 839.4v2.8M140.6 838.6h2.8M142.0 837.2v2.8M136.7 837.4h2.8M138.1 836.0v2.8M139.0 832.3h2.8M140.4 830.9v2.8M137.9 830.8h2.8M139.3 829.4v2.8M139.6 829.4h2.8M141.0 828.0v2.8M141.9 829.7h2.8M143.3 828.3v2.8M141.6 826.3h2.8M143.0 824.9v2.8M139.9 812.1h2.8M141.3 810.7v2.8M139.9 792.2h2.8M141.3 790.8v2.8M139.9 789.3h2.8M141.3 787.9v2.8" stroke="#b49edd" stroke-width="1.1" fill="none"/>
<path d="M157.7 857.6h0M159.9 857.7h0M161.5 857.7h0M162.9 857.0h0M164.7 857.0h0M166.6 857.1h0M168.5 857.5h0M169.8 857.2h0M157.4 855.8h0M159.6 856.1h0M161.0 855.4h0M163.2 855.4h0M164.6 856.3h0M166.9 855.9h0M168.4 855.5h0M170.7 855.9h0M156.8 854.6h0M158.9 854.4h0M160.7 853.9h0M162.0 854.8h0M164.0 854.7h0M165.9 854.4h0M167.5 854.2h0M169.0 854.1h0M171.1 853.9h0M157.3 852.4h0M158.6 853.1h0M160.7 852.9h0M162.5 853.0h0M164.1 852.4h0M165.4 852.8h0M167.2 852.4h0M169.2 852.8h0M170.6 852.6h0M157.3 850.8h0M159.0 851.3h0M160.4 851.0h0M162.3 851.1h0M163.9 850.9h0M165.9 851.1h0M167.4 851.6h0M168.8 851.2h0M170.4 851.4h0M157.7 849.3h0M159.6 849.2h0M161.5 849.9h0M163.3 849.6h0M164.9 850.0h0M166.4 850.1h0M168.2 849.7h0M170.1 849.9h0M159.3 847.9h0M161.3 848.1h0M163.3 848.4h0M164.8 848.6h0M166.6 847.8h0M168.4 848.3h0M160.9 846.1h0M162.3 847.0h0M163.7 846.9h0M165.7 846.8h0M167.1 846.5h0M161.4 844.9h0M163.0 845.2h0M164.6 844.7h0M166.1 844.8h0M162.5 843.5h0M164.0 843.7h0M165.2 843.2h0M162.4 842.2h0M165.0 841.9h0M162.7 840.3h0M164.9 840.3h0M163.2 838.6h0M164.9 838.3h0M163.2 836.9h0M165.2 837.4h0M162.9 835.2h0M165.0 835.4h0M163.2 834.0h0M165.0 834.4h0M162.9 832.4h0M164.9 832.1h0M162.9 831.5h0M164.8 831.4h0M163.5 829.3h0M164.5 829.1h0M163.0 828.3h0M164.6 828.1h0M163.5 826.5h0M164.8 826.3h0M163.5 824.5h0M164.5 824.8h0M163.4 823.3h0M164.7 823.1h0M164.2 822.0h0M163.4 791.9h0M164.4 791.0h0" stroke="#1cc8fd" stroke-width="2.25" stroke-linecap="round" fill="none"/>
<path d="M80 844.5V848.3M76.1 844.5h7.8M76.1 848.3h7.8" stroke="#3d2272" stroke-width="1.0" fill="none"/>
<path d="M141.3 834V837.2M137.4 834h7.8M137.4 837.2h7.8" stroke="#3d2272" stroke-width="1.0" fill="none"/>
<path d="M163.95 844.3V846.7M160.05 844.3h7.8M160.05 846.7h7.8" stroke="#1f6fe6" stroke-width="1.0" fill="none"/>
<path d="M64.6 742.7V858H178.8" stroke="#000" stroke-width="1.4" fill="none" stroke-linejoin="miter"/>
<text x="57.9" y="861.5" font-size="9" text-anchor="end" font-weight="bold" fill="#000">0</text>
<text x="57.9" y="832.83" font-size="9" text-anchor="end" font-weight="bold" fill="#000">10000</text>
<text x="57.9" y="804.15" font-size="9" text-anchor="end" font-weight="bold" fill="#000">20000</text>
<text x="57.9" y="775.47" font-size="9" text-anchor="end" font-weight="bold" fill="#000">30000</text>
<text x="57.9" y="746.8" font-size="9" text-anchor="end" font-weight="bold" fill="#000">40000</text>
<path d="M59.5 858h5.1M59.5 829.33h5.1M59.5 800.65h5.1M59.5 771.97h5.1M59.5 743.3h5.1M91.2 858v3.6M152.3 858v3.6" stroke="#000" stroke-width="1.3" fill="none"/>
<text x="91.2" y="871.9" font-size="8.6" text-anchor="middle" font-weight="bold" fill="#000">Early Stage</text>
<text x="152.3" y="871.9" font-size="8.6" text-anchor="middle" font-weight="bold" fill="#000">Late Stage</text>
<text x="92.4" y="805" font-size="8.6" text-anchor="middle" fill="#000">***P=0.0006</text>
<rect x="79.4" y="810.7" width="24.8" height="1.4" fill="#000"/>
<text x="155" y="737.6" font-size="8.6" text-anchor="middle" fill="#000">****P&lt;0.0001</text>
<rect x="139" y="743.2" width="29.2" height="1.4" fill="#000"/>
<text x="216.4" y="734.3" font-size="13.2" text-anchor="start" font-weight="bold" fill="#000">d</text>
<text x="248" y="802" font-size="10" text-anchor="middle" fill="#000" transform="rotate(-90 248 802)">Number of bursts / 5min</text>
<rect x="289.3" y="850.3" width="15.4" height="7.3" fill="#d9cfee"/>
<rect x="290.05" y="851.05" width="13.9" height="6.55" fill="none" stroke="#3d2272" stroke-width="1.5"/>
<rect x="313.3" y="856.4" width="14.3" height="1.2" fill="#9fe2f8"/>
<rect x="313.3" y="856.4" width="14.3" height="1.2" fill="#1f6fe6"/>
<rect x="352" y="845.5" width="15.8" height="12.1" fill="#d9cfee"/>
<rect x="352.75" y="846.25" width="14.3" height="11.35" fill="none" stroke="#3d2272" stroke-width="1.5"/>
<rect x="375.3" y="851.5" width="15.6" height="6.1" fill="#9fe2f8"/>
<rect x="376.05" y="852.25" width="14.1" height="5.35" fill="none" stroke="#1f6fe6" stroke-width="1.5"/>
<path d="M291.7 857.3h0M295.2 856.9h0M297.0 857.5h0M300.7 856.6h0M302.2 857.1h0M297.4 854.1h0M296.5 851.6h0M297.3 848.6h0M295.8 846.6h0M297.0 843.6h0M295.8 842.1h0M296.6 839.1h0M297.6 837.6h0M296.7 836.1h0M297.3 835.0h0" stroke="#b49edd" stroke-width="2.25" stroke-linecap="round" fill="none"/>
<path d="M293.3 856.9h0M304.4 857.4h0M298.0 840.6h0M297.0 833.9h0" stroke="#b49edd" stroke-width="1.95" stroke-linecap="square" fill="none"/>
<path d="M288.5 857.4h2.8M289.9 856.0v2.8M297.4 856.9h2.8M298.8 855.5v2.8M296.8 845.1h2.8M298.2 843.7v2.8" stroke="#b49edd" stroke-width="1.1" fill="none"/>
<path d="M313.2 856.9h0M315.0 857.2h0M316.8 857.4h0M318.7 857.5h0M320.6 857.0h0M322.0 857.4h0M324.2 857.3h0M326.1 857.1h0M327.7 857.2h0M313.1 856.0h0M315.1 856.7h0M316.8 856.3h0M318.6 856.3h0M320.7 856.2h0M322.3 856.1h0M324.3 856.4h0M325.9 856.5h0M327.8 856.0h0M316.6 855.8h0M318.3 855.6h0M319.7 855.6h0M321.3 855.2h0M323.1 855.8h0M324.3 855.3h0M319.2 855.4h0M320.4 854.6h0M322.1 855.2h0M319.4 853.9h0M321.4 854.4h0" stroke="#1cc8fd" stroke-width="2.25" stroke-linecap="round" fill="none"/>
<path d="M361.6 857.1h0M365.1 857.3h0M367.2 857.2h0M353.2 855.7h0M355.1 855.1h0M356.8 855.5h0M358.1 855.3h0M353.9 854.2h0M357.6 853.7h0M360.6 853.6h0M362.7 853.6h0M364.0 853.5h0M356.3 852.2h0M358.4 852.0h0M359.7 852.5h0M361.7 851.9h0M357.1 850.4h0M358.7 850.3h0M361.0 850.5h0M362.4 850.3h0M364.6 850.8h0M356.0 849.2h0M358.2 849.5h0M360.0 848.9h0M361.9 848.8h0M363.9 849.7h0M356.8 848.1h0M358.1 847.6h0M357.2 846.5h0M358.9 846.2h0M360.6 845.7h0M362.3 846.2h0M359.9 844.8h0M361.7 844.4h0M358.4 843.5h0M359.6 842.6h0M361.8 843.1h0M360.2 841.5h0M358.4 839.6h0M359.9 840.0h0M358.4 837.9h0M361.4 838.2h0M361.2 836.5h0M358.5 835.5h0M358.6 832.5h0M360.7 832.5h0M359.2 830.5h0M360.9 830.3h0M359.9 821.3h0M359.9 815.2h0M359.9 809.7h0M359.9 793.1h0M359.9 756.8h0" stroke="#b49edd" stroke-width="2.25" stroke-linecap="round" fill="none"/>
<path d="M352.6 857.3h0M357.9 857.1h0M359.7 857.4h0M359.7 855.9h0M361.5 855.2h0M364.9 855.0h0M366.4 855.9h0M355.8 853.7h0M365.3 852.8h0M359.6 848.0h0M363.4 848.0h0M358.0 845.0h0M360.1 838.6h0M361.3 834.9h0M361.2 833.5h0M360.4 820.7h0" stroke="#b49edd" stroke-width="1.95" stroke-linecap="square" fill="none"/>
<path d="M353.1 857.4h2.8M354.5 856.0v2.8M354.6 857.3h2.8M356.0 855.9v2.8M362.0 856.8h2.8M363.4 855.4v2.8M362.1 855.1h2.8M363.5 853.7v2.8M357.6 853.8h2.8M359.0 852.4v2.8M364.9 854.2h2.8M366.3 852.8v2.8M353.1 852.7h2.8M354.5 851.3v2.8M361.9 852.6h2.8M363.3 851.2v2.8M353.9 851.0h2.8M355.3 849.6v2.8M360.4 848.0h2.8M361.8 846.6v2.8M357.3 841.2h2.8M358.7 839.8v2.8M360.0 841.9h2.8M361.4 840.5v2.8M360.1 840.1h2.8M361.5 838.7v2.8M357.5 836.7h2.8M358.9 835.3v2.8M357.3 833.4h2.8M358.7 832.0v2.8" stroke="#b49edd" stroke-width="1.1" fill="none"/>
<path d="M376.2 856.5h0M378.0 857.1h0M379.3 856.8h0M381.1 856.9h0M383.3 857.1h0M384.9 857.5h0M386.6 857.1h0M388.5 857.4h0M390.1 857.2h0M376.7 855.5h0M378.6 855.9h0M380.3 855.9h0M382.4 855.6h0M384.2 855.1h0M385.8 855.7h0M387.8 855.1h0M389.8 855.3h0M377.3 854.2h0M378.9 853.4h0M380.4 853.6h0M382.3 854.4h0M384.0 854.1h0M385.3 853.6h0M387.1 853.9h0M389.1 853.5h0M378.5 852.0h0M380.3 852.5h0M382.1 852.3h0M384.1 852.6h0M385.8 852.0h0M387.6 852.5h0M379.3 850.9h0M381.3 851.2h0M383.3 851.0h0M385.1 851.1h0M386.6 850.3h0M380.4 849.4h0M382.0 849.3h0M384.3 849.6h0M386.3 849.4h0M380.6 847.6h0M382.6 847.2h0M383.9 847.5h0M385.7 847.4h0M381.3 846.5h0M383.1 845.9h0M384.9 845.7h0M381.7 844.6h0M384.4 844.5h0M382.3 843.0h0M384.3 843.1h0M382.2 841.4h0M383.6 841.2h0M383.1 828.3h0M382.7 820.8h0M383.5 820.0h0M383.1 805.9h0M382.7 797.6h0M383.5 796.8h0" stroke="#1cc8fd" stroke-width="2.25" stroke-linecap="round" fill="none"/>
<path d="M297 848.7V851.9M293.1 848.7h7.8M293.1 851.9h7.8" stroke="#3d2272" stroke-width="1.0" fill="none"/>
<path d="M359.9 844.1V846.9M356 844.1h7.8M356 846.9h7.8" stroke="#3d2272" stroke-width="1.0" fill="none"/>
<path d="M383.1 850.5V852.5M379.2 850.5h7.8M379.2 852.5h7.8" stroke="#1f6fe6" stroke-width="1.0" fill="none"/>
<path d="M281.2 739.8V857.6H398.6" stroke="#000" stroke-width="1.4" fill="none" stroke-linejoin="miter"/>
<text x="274.6" y="861.1" font-size="9" text-anchor="end" font-weight="bold" fill="#000">0</text>
<text x="274.6" y="831.8" font-size="9" text-anchor="end" font-weight="bold" fill="#000">500</text>
<text x="274.6" y="802.5" font-size="9" text-anchor="end" font-weight="bold" fill="#000">1000</text>
<text x="274.6" y="773.2" font-size="9" text-anchor="end" font-weight="bold" fill="#000">1500</text>
<text x="274.6" y="743.9" font-size="9" text-anchor="end" font-weight="bold" fill="#000">2000</text>
<path d="M276.1 857.6h5.1M276.1 828.3h5.1M276.1 799h5.1M276.1 769.7h5.1M276.1 740.4h5.1M308.6 857.6v3.6M371.4 857.6v3.6" stroke="#000" stroke-width="1.3" fill="none"/>
<text x="308.6" y="871.9" font-size="8.6" text-anchor="middle" font-weight="bold" fill="#000">Early Stage</text>
<text x="371.4" y="871.9" font-size="8.6" text-anchor="middle" font-weight="bold" fill="#000">Late Stage</text>
<text x="308.8" y="811.4" font-size="8.6" text-anchor="middle" fill="#000">*P=0.0207</text>
<rect x="296.6" y="821.5" width="24" height="1.4" fill="#000"/>
<text x="375.6" y="743.7" font-size="8.6" text-anchor="middle" fill="#000">****P&lt;0.0001</text>
<rect x="360" y="748.8" width="24" height="1.4" fill="#000"/>
<text x="439.2" y="733.8" font-size="13.2" text-anchor="start" font-weight="bold" fill="#000">e</text>
<text x="467.97" y="804.2" font-size="10.2" text-anchor="middle" fill="#000" transform="rotate(-90 467.97 804.2)">Number of network bursts / 5min</text>
<rect x="503.6" y="829.4" width="16.4" height="27.6" fill="#d9cfee"/>
<rect x="504.35" y="830.15" width="14.9" height="26.85" fill="none" stroke="#3d2272" stroke-width="1.5"/>
<rect x="527.6" y="856" width="15.8" height="1" fill="#9fe2f8"/>
<rect x="527.6" y="856" width="15.8" height="1" fill="#1f6fe6"/>
<rect x="568.4" y="822.5" width="15.6" height="34.5" fill="#d9cfee"/>
<rect x="569.15" y="823.25" width="14.1" height="33.75" fill="none" stroke="#3d2272" stroke-width="1.5"/>
<rect x="592.1" y="838.5" width="16" height="18.5" fill="#9fe2f8"/>
<rect x="592.85" y="839.25" width="14.5" height="17.75" fill="none" stroke="#1f6fe6" stroke-width="1.5"/>
<path d="M504.8 855.9h0M506.7 856.2h0M509.8 856.3h0M513.3 856.0h0M515.1 856.8h0M511.4 781.3h0M513.2 793.1h0M511.8 798.6h0M512.7 811.0h0M511.4 812.8h0M511.4 853.3h0" stroke="#b49edd" stroke-width="2.25" stroke-linecap="round" fill="none"/>
<path d="M512.0 856.5h0M518.6 856.7h0M511.8 789.8h0M512.0 795.0h0M513.2 851.9h0" stroke="#b49edd" stroke-width="1.95" stroke-linecap="square" fill="none"/>
<path d="M506.6 856.7h2.8M508.0 855.3v2.8M515.4 856.1h2.8M516.8 854.7v2.8M510.9 777.6h2.8M512.3 776.2v2.8M510.4 804.1h2.8M511.8 802.7v2.8" stroke="#b49edd" stroke-width="1.1" fill="none"/>
<path d="M527.9 856.9h0M529.5 856.8h0M531.4 856.3h0M533.1 856.6h0M534.9 856.4h0M536.3 856.8h0M538.3 856.4h0M539.7 856.4h0M541.3 856.7h0M543.4 856.8h0M528.1 855.4h0M529.7 855.8h0M531.3 856.0h0M532.9 856.2h0M534.4 856.0h0M536.1 855.4h0M538.2 855.5h0M539.7 856.2h0M541.7 855.3h0M543.3 855.7h0M528.4 854.9h0M530.3 855.1h0M532.2 855.2h0M533.9 855.2h0M535.5 855.5h0M537.3 855.6h0M539.0 854.7h0M540.8 855.0h0M542.4 855.4h0M533.8 854.3h0M535.5 854.5h0M537.3 854.6h0M534.6 853.5h0M536.5 853.5h0" stroke="#1cc8fd" stroke-width="2.25" stroke-linecap="round" fill="none"/>
<path d="M581.7 856.2h0M574.4 856.4h0M570.0 855.6h0M574.0 854.1h0M581.2 854.5h0M573.4 854.0h0M573.4 853.5h0M579.4 851.5h0M572.9 852.0h0M573.9 851.7h0M575.2 851.4h0M579.8 852.2h0M578.6 849.2h0M569.8 849.2h0M569.9 849.7h0M578.5 849.7h0M573.1 847.2h0M582.7 848.2h0M570.3 848.1h0M580.2 845.2h0M572.9 845.8h0M575.9 845.4h0M578.4 845.9h0M577.7 843.7h0M573.4 843.2h0M570.4 841.0h0M576.5 841.0h0M574.3 841.5h0M572.3 841.4h0M575.6 839.4h0M573.3 838.9h0M574.9 839.7h0M578.3 837.1h0M580.3 837.1h0M575.1 834.7h0M578.0 834.4h0M579.4 834.6h0M578.2 834.4h0M575.2 834.5h0M571.2 835.3h0M570.3 832.7h0M575.7 833.5h0M573.2 830.4h0M572.3 830.6h0M582.1 831.0h0M573.5 831.1h0M572.8 828.9h0M575.5 828.7h0M579.3 826.9h0M578.0 826.0h0M572.8 826.3h0M575.5 827.1h0M579.1 826.5h0M570.4 825.0h0M571.6 824.8h0M581.8 824.1h0M579.2 823.9h0M574.5 810.7h0M573.9 811.4h0M575.4 811.1h0M573.1 809.2h0M575.2 809.8h0M577.5 808.7h0M572.5 809.1h0M574.2 806.9h0M578.9 805.8h0M576.3 803.7h0M575.1 803.6h0M574.4 803.2h0M578.4 801.2h0M573.1 801.1h0M578.1 801.2h0M579.9 802.0h0M580.8 800.0h0M572.0 799.2h0M578.9 797.5h0M579.7 797.8h0M578.0 797.9h0M575.4 797.5h0M577.5 795.5h0M576.7 796.3h0M576.8 795.9h0M577.2 794.1h0M575.0 792.4h0M576.5 790.2h0M576.3 788.0h0M575.5 785.9h0M576.7 782.4h0M575.5 776.7h0M576.2 774.4h0M576.3 775.0h0M578.5 773.4h0M578.0 771.7h0M575.6 769.2h0" stroke="#b49edd" stroke-width="2.25" stroke-linecap="round" fill="none"/>
<path d="M582.5 856.0h0M581.1 855.9h0M578.6 855.5h0M570.5 853.7h0M571.8 853.7h0M574.9 851.8h0M581.1 849.6h0M572.8 849.9h0M579.9 847.2h0M579.7 845.6h0M576.4 843.2h0M582.5 843.1h0M575.7 842.9h0M577.6 840.8h0M573.9 839.3h0M578.4 837.6h0M578.0 836.9h0M573.1 833.5h0M579.1 832.4h0M580.9 831.1h0M577.4 830.6h0M579.8 828.2h0M578.2 828.4h0M576.8 826.6h0M573.9 825.0h0M574.1 824.7h0M575.4 813.6h0M575.3 807.1h0M571.8 807.0h0M574.4 805.0h0M573.3 801.6h0M573.8 799.3h0M577.4 799.5h0M577.1 794.6h0M576.0 785.0h0M574.8 777.4h0M574.6 775.2h0M577.5 773.1h0" stroke="#b49edd" stroke-width="1.95" stroke-linecap="square" fill="none"/>
<path d="M575.5 847.3h2.8M576.9 845.9v2.8M575.2 847.1h2.8M576.6 845.7v2.8M578.2 845.1h2.8M579.6 843.7v2.8M569.7 842.9h2.8M571.1 841.5v2.8M568.6 841.6h2.8M570.0 840.2v2.8M576.7 839.7h2.8M578.1 838.3v2.8M577.0 839.4h2.8M578.4 838.0v2.8M580.8 837.3h2.8M582.2 835.9v2.8M570.2 837.7h2.8M571.6 836.3v2.8M579.9 833.2h2.8M581.3 831.8v2.8M573.0 832.8h2.8M574.4 831.4v2.8M574.3 828.3h2.8M575.7 826.9v2.8M576.1 828.4h2.8M577.5 827.0v2.8M575.4 812.4h2.8M576.8 811.0v2.8M573.6 807.4h2.8M575.0 806.0v2.8M578.9 805.8h2.8M580.3 804.4v2.8M571.1 805.3h2.8M572.5 803.9v2.8M575.4 802.9h2.8M576.8 801.5v2.8M575.5 803.7h2.8M576.9 802.3v2.8M578.5 799.3h2.8M579.9 797.9v2.8M575.0 781.2h2.8M576.4 779.8v2.8M574.9 779.0h2.8M576.3 777.6v2.8M576.1 771.0h2.8M577.5 769.6v2.8" stroke="#b49edd" stroke-width="1.1" fill="none"/>
<path d="M592.6 856.3h0M594.5 856.5h0M596.5 856.9h0M598.5 856.1h0M600.3 856.0h0M602.0 856.3h0M603.5 855.9h0M605.5 856.4h0M607.5 856.9h0M593.1 854.7h0M594.9 854.6h0M596.7 854.6h0M598.4 854.5h0M600.3 855.3h0M601.9 855.1h0M603.7 854.4h0M605.5 855.3h0M607.0 854.4h0M593.4 853.5h0M594.8 853.3h0M596.9 853.0h0M598.6 853.4h0M600.3 853.6h0M601.7 852.9h0M603.4 853.7h0M605.1 853.7h0M606.8 853.7h0M594.0 851.8h0M595.9 851.7h0M597.5 851.4h0M599.4 851.7h0M601.0 852.1h0M602.7 852.1h0M604.6 851.7h0M606.0 851.3h0M594.8 849.8h0M596.7 850.4h0M598.6 850.4h0M599.8 849.8h0M602.1 849.7h0M603.7 850.6h0M605.1 850.1h0M595.4 848.4h0M597.4 848.8h0M599.2 848.3h0M601.0 848.9h0M602.7 848.6h0M604.7 849.1h0M596.3 847.4h0M598.6 847.4h0M600.2 847.5h0M601.8 847.0h0M603.6 846.8h0M596.7 845.9h0M598.3 845.4h0M600.2 845.4h0M601.9 845.9h0M603.1 845.9h0M597.4 843.7h0M599.4 843.7h0M600.9 843.7h0M602.7 844.2h0M597.7 842.3h0M600.0 842.9h0M602.3 842.9h0M598.5 840.4h0M600.1 841.1h0M601.8 840.5h0M598.8 839.3h0M600.2 838.9h0M601.7 839.6h0M598.7 838.3h0M601.2 838.1h0M599.3 836.2h0M601.3 836.5h0M599.5 834.2h0M600.9 834.4h0M599.2 833.2h0M600.6 833.3h0M599.2 831.7h0M600.6 831.1h0M599.7 830.4h0M600.1 827.8h0M600.1 823.5h0M600.1 820.0h0M600.1 815.5h0M600.1 812.5h0M600.1 809.0h0M600.1 806.0h0M600.1 803.5h0M600.1 802.0h0M600.1 800.5h0M600.1 798.9h0M600.1 797.4h0M600.1 795.8h0M600.1 794.2h0M600.1 792.7h0M600.1 791.1h0M600.1 789.6h0M600.1 788.0h0M600.1 786.5h0M600.1 785.0h0M600.1 783.4h0M600.1 781.9h0M600.1 780.3h0M600.1 778.8h0M600.1 777.2h0M600.1 775.6h0M600.1 774.1h0M600.1 772.5h0M600.1 771.0h0M600.1 769.5h0" stroke="#1cc8fd" stroke-width="2.25" stroke-linecap="round" fill="none"/>
<path d="M511.8 823.4V835.4M507.9 823.4h7.8M507.9 835.4h7.8" stroke="#3d2272" stroke-width="1.0" fill="none"/>
<path d="M576.2 820.3V824.7M572.3 820.3h7.8M572.3 824.7h7.8" stroke="#3d2272" stroke-width="1.0" fill="none"/>
<path d="M600.1 835.3V841.7M596.2 835.3h7.8M596.2 841.7h7.8" stroke="#1f6fe6" stroke-width="1.0" fill="none"/>
<path d="M495.5 736V857H615.2" stroke="#000" stroke-width="1.4" fill="none" stroke-linejoin="miter"/>
<text x="488.2" y="860.5" font-size="9" text-anchor="end" font-weight="bold" fill="#000">0</text>
<text x="488.2" y="830.4" font-size="9" text-anchor="end" font-weight="bold" fill="#000">100</text>
<text x="488.2" y="800.3" font-size="9" text-anchor="end" font-weight="bold" fill="#000">200</text>
<text x="488.2" y="770.2" font-size="9" text-anchor="end" font-weight="bold" fill="#000">300</text>
<text x="488.2" y="740.1" font-size="9" text-anchor="end" font-weight="bold" fill="#000">400</text>
<path d="M490.4 857h5.1M490.4 826.9h5.1M490.4 796.8h5.1M490.4 766.7h5.1M490.4 736.6h5.1M523.5 857v3.6M588 857v3.6" stroke="#000" stroke-width="1.3" fill="none"/>
<text x="523.5" y="873" font-size="9.1" text-anchor="middle" font-weight="bold" fill="#000">Early Stage</text>
<text x="588" y="873" font-size="9.1" text-anchor="middle" font-weight="bold" fill="#000">Late Stage</text>
<text x="522.7" y="758.2" font-size="8.6" text-anchor="middle" fill="#000">**P=0.0018</text>
<rect x="510.4" y="765.7" width="26.1" height="1.4" fill="#000"/>
<text x="589.5" y="744" font-size="8.6" text-anchor="middle" fill="#000">****P&lt;0.0001</text>
<rect x="576" y="754.5" width="25.3" height="1.4" fill="#000"/>
<circle cx="644.8" cy="831.3" r="1.7" fill="#b49edd"/>
<text x="655" y="834.9" font-size="10.2" text-anchor="start" fill="#000">MACM</text>
<circle cx="644.8" cy="846.5" r="1.7" fill="#1cc8fd"/>
<text x="655" y="850.1" font-size="10.2" text-anchor="start" fill="#000">CTR</text>
<text x="0.8" y="894.8" font-size="13.2" text-anchor="start" font-weight="bold" fill="#000">f</text>
<text x="36.3" y="958.8" font-size="10" text-anchor="middle" fill="#000" transform="rotate(-90 36.3 958.8)">Number of active electrodes</text>
<rect x="72.4" y="996.6" width="15.5" height="20.6" fill="#d9cfee"/>
<rect x="73.15" y="997.35" width="14" height="19.85" fill="none" stroke="#3d2272" stroke-width="1.5"/>
<rect x="95.4" y="1012.7" width="15.5" height="4.5" fill="#9fe2f8"/>
<rect x="96.15" y="1013.45" width="14" height="3.75" fill="none" stroke="#1f6fe6" stroke-width="1.5"/>
<rect x="133.7" y="982" width="15.5" height="35.2" fill="#d9cfee"/>
<rect x="134.45" y="982.75" width="14" height="34.45" fill="none" stroke="#3d2272" stroke-width="1.5"/>
<rect x="156.9" y="998.1" width="15.5" height="19.1" fill="#9fe2f8"/>
<rect x="157.65" y="998.85" width="14" height="18.35" fill="none" stroke="#1f6fe6" stroke-width="1.5"/>
<path d="M74.7 1016.3h0M77.4 1016.3h0M80.2 1016.3h0M81.5 1016.3h0M82.9 1016.3h0M84.3 1016.3h0M74.2 1014.9h0M75.5 1014.9h0M79.5 1014.9h0M80.8 1014.9h0M82.2 1014.9h0M83.5 1014.9h0M84.8 1014.9h0M86.2 1014.9h0M80.2 1008.0h0M77.6 996.5h0M81.5 996.5h0M82.8 996.5h0M78.6 994.2h0M80.2 994.2h0M79.4 991.9h0M81.0 991.9h0M77.2 987.3h0M78.7 987.3h0M80.2 987.3h0M81.6 987.3h0M83.1 987.3h0M79.2 978.1h0M81.2 973.5h0M80.2 971.2h0" stroke="#b49edd" stroke-width="2.25" stroke-linecap="round" fill="none"/>
<path d="M78.8 1016.3h0M76.8 1014.9h0M78.2 1014.9h0M80.2 1005.7h0M79.4 998.8h0M80.2 975.8h0" stroke="#b49edd" stroke-width="1.95" stroke-linecap="square" fill="none"/>
<path d="M74.6 1016.3h2.8M76.0 1014.9v2.8M84.2 1016.3h2.8M85.7 1014.9v2.8M79.5 998.8h2.8M81.0 997.4v2.8M77.5 996.5h2.8M78.9 995.1v2.8M78.8 996.5h2.8M80.2 995.1v2.8M80.3 994.2h2.8M81.8 992.8v2.8M79.7 978.1h2.8M81.1 976.7v2.8M77.8 973.5h2.8M79.2 972.1v2.8" stroke="#b49edd" stroke-width="1.1" fill="none"/>
<path d="M96.4 1017.2h0M97.7 1017.2h0M99.1 1017.2h0M100.4 1017.2h0M101.8 1017.2h0M103.2 1017.2h0M104.5 1017.2h0M105.9 1017.2h0M107.2 1017.2h0M108.6 1017.2h0M110.0 1017.2h0M96.4 1014.9h0M97.7 1014.9h0M99.1 1014.9h0M100.4 1014.9h0M101.8 1014.9h0M103.2 1014.9h0M104.5 1014.9h0M105.9 1014.9h0M107.2 1014.9h0M108.6 1014.9h0M110.0 1014.9h0M98.2 1012.6h0M99.6 1012.6h0M101.0 1012.6h0M102.4 1012.6h0M103.9 1012.6h0M105.3 1012.6h0M106.7 1012.6h0M108.2 1012.6h0M100.0 1010.3h0M101.2 1010.3h0M102.5 1010.3h0M103.8 1010.3h0M105.1 1010.3h0M106.4 1010.3h0M101.4 1008.0h0M102.6 1008.0h0M103.8 1008.0h0M105.0 1008.0h0M102.2 1005.7h0M104.1 1005.7h0M103.2 997.4h0" stroke="#1cc8fd" stroke-width="2.25" stroke-linecap="round" fill="none"/>
<path d="M140.8 1012.6h0M139.8 1008.0h0M143.0 1008.0h0M142.1 1005.7h0M143.4 1005.7h0M139.0 1003.4h0M140.6 1003.4h0M143.8 1003.4h0M138.4 1001.1h0M139.9 1001.1h0M141.4 1001.1h0M142.9 1001.1h0M137.8 998.8h0M139.3 998.8h0M140.7 998.8h0M143.6 998.8h0M141.4 996.5h0M144.2 996.5h0M139.4 994.2h0M140.8 994.2h0M146.2 994.2h0M137.7 991.9h0M142.2 991.9h0M146.6 991.9h0M135.8 989.6h0M137.2 989.6h0M140.0 989.6h0M135.8 987.3h0M141.4 987.3h0M142.8 987.3h0M141.4 985.0h0M142.8 985.0h0M144.1 985.0h0M145.5 985.0h0M136.2 982.7h0M137.7 982.7h0M139.2 982.7h0M142.2 982.7h0M143.7 982.7h0M145.2 982.7h0M136.6 980.4h0M139.4 980.4h0M140.8 980.4h0M143.5 980.4h0M144.9 980.4h0M138.8 978.1h0M142.8 978.1h0M138.2 975.8h0M139.5 975.8h0M140.8 975.8h0M142.1 975.8h0M143.4 975.8h0M144.6 975.8h0M139.2 973.5h0M140.7 973.5h0M142.2 973.5h0M143.6 973.5h0M140.2 971.2h0M140.6 967.8h0M142.2 967.8h0M139.9 947.3h0M142.9 947.3h0M141.4 937.9h0M141.4 932.1h0M142.9 929.8h0" stroke="#b49edd" stroke-width="2.25" stroke-linecap="round" fill="none"/>
<path d="M142.0 1012.6h0M141.4 1010.3h0M142.6 1010.3h0M139.4 1005.7h0M140.8 1005.7h0M142.2 1003.4h0M137.2 996.5h0M142.8 996.5h0M145.6 996.5h0M136.2 991.9h0M139.2 991.9h0M140.7 991.9h0M143.7 991.9h0M141.4 989.6h0M142.8 989.6h0M144.2 989.6h0M145.6 989.6h0M137.2 987.3h0M140.0 987.3h0M144.2 987.3h0M145.6 987.3h0M136.0 985.0h0M137.4 985.0h0M138.8 985.0h0M140.1 985.0h0M146.8 985.0h0M140.7 982.7h0M142.1 980.4h0M144.1 978.1h0M145.4 978.1h0M142.6 971.2h0M141.4 947.3h0M141.4 929.8h0M141.4 925.4h0" stroke="#b49edd" stroke-width="1.95" stroke-linecap="square" fill="none"/>
<path d="M138.8 1010.3h2.8M140.2 1008.9v2.8M140.0 1008.0h2.8M141.4 1006.6v2.8M143.0 1001.1h2.8M144.4 999.7v2.8M140.8 998.8h2.8M142.2 997.4v2.8M143.6 998.8h2.8M145.0 997.4v2.8M137.2 996.5h2.8M138.6 995.1v2.8M138.6 996.5h2.8M140.0 995.1v2.8M135.2 994.2h2.8M136.6 992.8v2.8M136.6 994.2h2.8M138.0 992.8v2.8M140.7 994.2h2.8M142.1 992.8v2.8M142.1 994.2h2.8M143.5 992.8v2.8M143.5 994.2h2.8M144.9 992.8v2.8M143.8 991.9h2.8M145.2 990.5v2.8M137.2 989.6h2.8M138.6 988.2v2.8M145.6 989.6h2.8M147.0 988.2v2.8M137.2 987.3h2.8M138.6 985.9v2.8M145.6 987.3h2.8M147.0 985.9v2.8M145.2 982.7h2.8M146.6 981.3v2.8M136.6 980.4h2.8M138.0 979.0v2.8M144.8 980.4h2.8M146.2 979.0v2.8M136.0 978.1h2.8M137.4 976.7v2.8M138.7 978.1h2.8M140.1 976.7v2.8M140.0 978.1h2.8M141.4 976.7v2.8M140.0 971.2h2.8M141.4 969.8v2.8M138.5 932.1h2.8M139.9 930.7v2.8M141.5 932.1h2.8M142.9 930.7v2.8M138.5 929.8h2.8M139.9 928.4v2.8M140.0 923.6h2.8M141.4 922.2v2.8" stroke="#b49edd" stroke-width="1.1" fill="none"/>
<path d="M161.1 1017.2h0M162.8 1017.2h0M164.7 1017.2h0M166.5 1017.2h0M168.2 1017.2h0M160.1 1014.9h0M161.9 1014.9h0M163.7 1014.9h0M165.6 1014.9h0M167.4 1014.9h0M169.2 1014.9h0M159.2 1012.6h0M161.1 1012.6h0M162.8 1012.6h0M164.7 1012.6h0M166.5 1012.6h0M168.2 1012.6h0M170.1 1012.6h0M158.8 1010.3h0M160.5 1010.3h0M162.2 1010.3h0M163.8 1010.3h0M165.5 1010.3h0M167.1 1010.3h0M168.8 1010.3h0M170.5 1010.3h0M158.7 1008.0h0M160.4 1008.0h0M162.1 1008.0h0M163.8 1008.0h0M165.5 1008.0h0M167.2 1008.0h0M168.9 1008.0h0M170.7 1008.0h0M158.5 1005.7h0M160.2 1005.7h0M162.0 1005.7h0M163.8 1005.7h0M165.5 1005.7h0M167.3 1005.7h0M169.1 1005.7h0M170.8 1005.7h0M158.5 1003.4h0M160.2 1003.4h0M162.0 1003.4h0M163.8 1003.4h0M165.5 1003.4h0M167.3 1003.4h0M169.1 1003.4h0M170.8 1003.4h0M158.5 1001.1h0M160.2 1001.1h0M162.0 1001.1h0M163.8 1001.1h0M165.5 1001.1h0M167.3 1001.1h0M169.1 1001.1h0M170.8 1001.1h0M158.5 998.8h0M160.2 998.8h0M162.0 998.8h0M163.8 998.8h0M165.5 998.8h0M167.3 998.8h0M169.1 998.8h0M170.8 998.8h0M158.7 996.5h0M160.4 996.5h0M162.1 996.5h0M163.8 996.5h0M165.5 996.5h0M167.2 996.5h0M168.9 996.5h0M170.7 996.5h0M158.8 994.2h0M160.5 994.2h0M162.2 994.2h0M163.8 994.2h0M165.5 994.2h0M167.1 994.2h0M168.8 994.2h0M170.5 994.2h0M159.5 991.9h0M161.2 991.9h0M162.9 991.9h0M164.7 991.9h0M166.4 991.9h0M168.1 991.9h0M169.8 991.9h0M157.7 989.6h0M159.4 989.6h0M161.2 989.6h0M162.9 989.6h0M164.7 989.6h0M166.4 989.6h0M168.2 989.6h0M169.9 989.6h0M171.7 989.6h0M160.1 987.3h0M161.9 987.3h0M163.7 987.3h0M165.6 987.3h0M167.4 987.3h0M169.2 987.3h0M161.1 985.0h0M162.8 985.0h0M164.7 985.0h0M166.5 985.0h0M168.2 985.0h0M157.7 982.7h0M159.4 982.7h0M161.2 982.7h0M162.9 982.7h0M164.7 982.7h0M166.4 982.7h0M168.2 982.7h0M169.9 982.7h0M171.7 982.7h0M162.5 980.4h0M163.9 980.4h0M165.4 980.4h0M166.8 980.4h0M163.1 978.1h0M164.7 978.1h0M166.2 978.1h0M163.7 975.8h0M165.7 975.8h0M164.1 973.5h0M165.2 973.5h0M164.7 971.7h0M164.7 967.5h0M164.7 960.4h0" stroke="#1cc8fd" stroke-width="2.25" stroke-linecap="round" fill="none"/>
<path d="M80.15 994.2V999M76.25 994.2h7.8M76.25 999h7.8" stroke="#3d2272" stroke-width="1.0" fill="none"/>
<path d="M103.15 1011.9V1013.5M99.25 1011.9h7.8M99.25 1013.5h7.8" stroke="#1f6fe6" stroke-width="1.0" fill="none"/>
<path d="M141.45 980.8V983.2M137.55 980.8h7.8M137.55 983.2h7.8" stroke="#3d2272" stroke-width="1.0" fill="none"/>
<path d="M164.65 997.2V999M160.75 997.2h7.8M160.75 999h7.8" stroke="#1f6fe6" stroke-width="1.0" fill="none"/>
<path d="M64.6 901.8V1017.2H178.8" stroke="#000" stroke-width="1.4" fill="none" stroke-linejoin="miter"/>
<text x="57.9" y="1020.7" font-size="9" text-anchor="end" font-weight="bold" fill="#000">0</text>
<text x="57.9" y="997.74" font-size="9" text-anchor="end" font-weight="bold" fill="#000">10</text>
<text x="57.9" y="974.78" font-size="9" text-anchor="end" font-weight="bold" fill="#000">20</text>
<text x="57.9" y="951.82" font-size="9" text-anchor="end" font-weight="bold" fill="#000">30</text>
<text x="57.9" y="928.86" font-size="9" text-anchor="end" font-weight="bold" fill="#000">40</text>
<text x="57.9" y="905.9" font-size="9" text-anchor="end" font-weight="bold" fill="#000">50</text>
<path d="M59.5 1017.2h5.1M59.5 994.24h5.1M59.5 971.28h5.1M59.5 948.32h5.1M59.5 925.36h5.1M59.5 902.4h5.1M91.2 1017.2v3.6M152.4 1017.2v3.6" stroke="#000" stroke-width="1.3" fill="none"/>
<text x="91.2" y="1032.7" font-size="8.6" text-anchor="middle" font-weight="bold" fill="#000">Early Stage</text>
<text x="152.4" y="1032.7" font-size="8.6" text-anchor="middle" font-weight="bold" fill="#000">Late Stage</text>
<text x="95.2" y="949.2" font-size="8.6" text-anchor="middle" fill="#000">****P&lt;0.0001</text>
<rect x="79.4" y="956" width="25.1" height="1.4" fill="#000"/>
<text x="160.2" y="905.8" font-size="8.6" text-anchor="middle" fill="#000">****P&lt;0.0001</text>
<rect x="141.9" y="912.2" width="25.7" height="1.4" fill="#000"/>
<text x="217.2" y="894.8" font-size="13.2" text-anchor="start" font-weight="bold" fill="#000">g</text>
<text x="248" y="961.4" font-size="10" text-anchor="middle" fill="#000" transform="rotate(-90 248 961.4)">Number of bursting electrodes</text>
<rect x="289.1" y="1005.4" width="15.8" height="11.8" fill="#d9cfee"/>
<rect x="289.85" y="1006.15" width="14.3" height="11.05" fill="none" stroke="#3d2272" stroke-width="1.5"/>
<rect x="311.9" y="1014.1" width="16.3" height="3.1" fill="#9fe2f8"/>
<rect x="312.65" y="1014.85" width="14.8" height="2.35" fill="none" stroke="#1f6fe6" stroke-width="1.5"/>
<rect x="351.3" y="993.1" width="15.4" height="24.1" fill="#d9cfee"/>
<rect x="352.05" y="993.85" width="13.9" height="23.35" fill="none" stroke="#3d2272" stroke-width="1.5"/>
<rect x="374.1" y="1001.9" width="15.4" height="15.3" fill="#9fe2f8"/>
<rect x="374.85" y="1002.65" width="13.9" height="14.55" fill="none" stroke="#1f6fe6" stroke-width="1.5"/>
<path d="M293.8 1016.3h0M295.1 1016.3h0M297.6 1016.3h0M293.8 1014.3h0M295.1 1014.3h0M298.9 1014.3h0M295.5 1011.4h0M297.0 1011.4h0M298.5 1011.4h0M295.7 1008.5h0M297.0 1008.5h0M294.6 1004.4h0M299.4 1004.4h0M296.4 996.9h0M298.8 996.9h0M293.6 994.0h0M297.7 994.0h0M300.4 994.0h0M294.5 991.1h0M295.8 991.1h0M297.0 991.1h0M299.5 991.1h0M296.2 988.2h0M297.8 988.2h0M299.4 988.2h0" stroke="#b49edd" stroke-width="2.25" stroke-linecap="round" fill="none"/>
<path d="M296.4 1016.3h0M298.9 1016.3h0M297.6 1014.3h0M294.0 1011.4h0M300.0 1011.4h0M298.3 1008.5h0M299.6 1008.5h0M296.2 1004.4h0M297.8 1004.4h0M295.2 996.9h0M297.6 996.9h0M295.0 994.0h0M298.2 991.1h0" stroke="#b49edd" stroke-width="1.95" stroke-linecap="square" fill="none"/>
<path d="M298.8 1016.3h2.8M300.2 1014.9v2.8M295.0 1014.3h2.8M296.4 1012.9v2.8M298.8 1014.3h2.8M300.2 1012.9v2.8M293.0 1008.5h2.8M294.4 1007.1v2.8M294.9 994.0h2.8M296.3 992.6v2.8M297.6 994.0h2.8M299.0 992.6v2.8M293.2 988.2h2.8M294.6 986.8v2.8" stroke="#b49edd" stroke-width="1.1" fill="none"/>
<path d="M312.6 1017.2h0M314.0 1017.2h0M315.3 1017.2h0M316.7 1017.2h0M318.0 1017.2h0M319.4 1017.2h0M320.7 1017.2h0M322.1 1017.2h0M323.4 1017.2h0M324.8 1017.2h0M326.1 1017.2h0M327.4 1017.2h0M312.6 1014.3h0M314.0 1014.3h0M315.3 1014.3h0M316.7 1014.3h0M318.0 1014.3h0M319.4 1014.3h0M320.7 1014.3h0M322.1 1014.3h0M323.4 1014.3h0M324.8 1014.3h0M326.1 1014.3h0M327.4 1014.3h0M317.0 1011.4h0M318.5 1011.4h0M320.0 1011.4h0M321.5 1011.4h0M323.0 1011.4h0M320.0 1002.7h0M320.0 999.8h0" stroke="#1cc8fd" stroke-width="2.25" stroke-linecap="round" fill="none"/>
<path d="M356.6 1011.4h0M358.2 1011.4h0M355.0 1008.5h0M356.3 1008.5h0M357.7 1008.5h0M360.3 1008.5h0M363.0 1008.5h0M354.3 1005.6h0M357.0 1005.6h0M358.3 1005.6h0M359.7 1005.6h0M363.7 1005.6h0M356.3 1002.7h0M357.6 1002.7h0M359.0 1002.7h0M361.7 1002.7h0M363.1 1002.7h0M353.8 999.8h0M355.3 999.8h0M356.8 999.8h0M364.2 999.8h0M356.8 996.9h0M358.3 996.9h0M359.7 996.9h0M357.0 993.1h0M357.0 991.1h0M358.3 991.1h0M359.7 991.1h0M361.0 991.1h0M357.5 988.2h0M359.0 988.2h0M360.5 988.2h0M359.0 979.5h0M357.8 970.8h0M359.0 970.8h0M360.2 970.8h0M359.0 967.9h0M359.0 965.0h0M360.5 965.0h0M357.8 959.2h0M359.0 959.2h0M359.0 944.7h0M357.8 936.6h0M359.0 936.6h0M360.2 936.6h0M359.0 933.1h0M359.0 930.2h0" stroke="#b49edd" stroke-width="2.25" stroke-linecap="round" fill="none"/>
<path d="M357.6 1014.3h0M359.0 1014.3h0M360.4 1014.3h0M359.8 1011.4h0M361.4 1011.4h0M359.0 1008.5h0M361.7 1008.5h0M361.0 1005.6h0M362.3 1005.6h0M352.2 1002.7h0M353.6 1002.7h0M354.9 1002.7h0M360.4 1002.7h0M365.8 1002.7h0M358.3 999.8h0M361.2 999.8h0M362.7 999.8h0M361.2 996.9h0M359.7 993.1h0M361.0 993.1h0M362.4 993.1h0M357.5 965.0h0M359.0 953.4h0M359.0 941.8h0M359.0 927.6h0" stroke="#b49edd" stroke-width="1.95" stroke-linecap="square" fill="none"/>
<path d="M351.6 1005.6h2.8M353.0 1004.2v2.8M354.3 1005.6h2.8M355.7 1004.2v2.8M363.6 1005.6h2.8M365.0 1004.2v2.8M363.0 1002.7h2.8M364.4 1001.3v2.8M358.3 999.8h2.8M359.7 998.4v2.8M354.2 993.1h2.8M355.6 991.7v2.8M356.9 993.1h2.8M358.3 991.7v2.8M358.8 959.2h2.8M360.2 957.8v2.8" stroke="#b49edd" stroke-width="1.1" fill="none"/>
<path d="M378.8 1017.2h0M380.3 1017.2h0M381.8 1017.2h0M383.3 1017.2h0M384.8 1017.2h0M377.8 1014.3h0M379.1 1014.3h0M380.5 1014.3h0M381.8 1014.3h0M383.1 1014.3h0M384.5 1014.3h0M385.8 1014.3h0M376.8 1011.4h0M378.2 1011.4h0M379.7 1011.4h0M381.1 1011.4h0M382.5 1011.4h0M383.9 1011.4h0M385.4 1011.4h0M386.8 1011.4h0M376.2 1008.5h0M377.6 1008.5h0M379.0 1008.5h0M380.4 1008.5h0M381.8 1008.5h0M383.2 1008.5h0M384.6 1008.5h0M386.0 1008.5h0M387.4 1008.5h0M375.2 1005.6h0M376.7 1005.6h0M378.1 1005.6h0M379.6 1005.6h0M381.1 1005.6h0M382.5 1005.6h0M384.0 1005.6h0M385.5 1005.6h0M386.9 1005.6h0M388.4 1005.6h0M374.8 1002.7h0M376.2 1002.7h0M377.6 1002.7h0M379.0 1002.7h0M380.4 1002.7h0M381.8 1002.7h0M383.2 1002.7h0M384.6 1002.7h0M386.0 1002.7h0M387.4 1002.7h0M388.8 1002.7h0M374.4 999.8h0M375.7 999.8h0M377.1 999.8h0M378.4 999.8h0M379.8 999.8h0M381.1 999.8h0M382.5 999.8h0M383.8 999.8h0M385.2 999.8h0M386.5 999.8h0M387.9 999.8h0M389.2 999.8h0M376.2 996.9h0M377.6 996.9h0M379.0 996.9h0M380.4 996.9h0M381.8 996.9h0M383.2 996.9h0M384.6 996.9h0M386.0 996.9h0M387.4 996.9h0M377.2 994.0h0M378.5 994.0h0M379.8 994.0h0M381.1 994.0h0M382.5 994.0h0M383.8 994.0h0M385.1 994.0h0M386.4 994.0h0M378.8 991.1h0M380.3 991.1h0M381.8 991.1h0M383.3 991.1h0M384.8 991.1h0M379.8 988.2h0M381.1 988.2h0M382.5 988.2h0M383.8 988.2h0M380.3 985.3h0M381.8 985.3h0M383.3 985.3h0M380.3 979.5h0M381.8 979.5h0M383.3 979.5h0M380.3 973.7h0M381.8 973.7h0M383.3 973.7h0M380.8 962.1h0M382.8 962.1h0M380.8 959.2h0M382.8 959.2h0M381.8 951.1h0" stroke="#1cc8fd" stroke-width="2.25" stroke-linecap="round" fill="none"/>
<path d="M297 1003.7V1007.1M293.1 1003.7h7.8M293.1 1007.1h7.8" stroke="#3d2272" stroke-width="1.0" fill="none"/>
<path d="M320.05 1013.4V1014.8M316.15 1013.4h7.8M316.15 1014.8h7.8" stroke="#1f6fe6" stroke-width="1.0" fill="none"/>
<path d="M359 991.8V994.4M355.1 991.8h7.8M355.1 994.4h7.8" stroke="#3d2272" stroke-width="1.0" fill="none"/>
<path d="M381.8 1001V1002.8M377.9 1001h7.8M377.9 1002.8h7.8" stroke="#1f6fe6" stroke-width="1.0" fill="none"/>
<path d="M281.2 901.7V1017.2H398.6" stroke="#000" stroke-width="1.4" fill="none" stroke-linejoin="miter"/>
<text x="275.2" y="1020.7" font-size="9" text-anchor="end" font-weight="bold" fill="#000">0</text>
<text x="275.2" y="991.98" font-size="9" text-anchor="end" font-weight="bold" fill="#000">10</text>
<text x="275.2" y="963.25" font-size="9" text-anchor="end" font-weight="bold" fill="#000">20</text>
<text x="275.2" y="934.52" font-size="9" text-anchor="end" font-weight="bold" fill="#000">30</text>
<text x="275.2" y="905.8" font-size="9" text-anchor="end" font-weight="bold" fill="#000">40</text>
<path d="M276.1 1017.2h5.1M276.1 988.48h5.1M276.1 959.75h5.1M276.1 931.02h5.1M276.1 902.3h5.1M308.6 1017.2v3.6M370.2 1017.2v3.6" stroke="#000" stroke-width="1.3" fill="none"/>
<text x="308.6" y="1032.2" font-size="8.6" text-anchor="middle" font-weight="bold" fill="#000">Early Stage</text>
<text x="370.2" y="1032.2" font-size="8.6" text-anchor="middle" font-weight="bold" fill="#000">Late Stage</text>
<text x="309.5" y="970.8" font-size="8.6" text-anchor="middle" fill="#000">*P=0.0245</text>
<rect x="296.4" y="977.4" width="25.4" height="1.4" fill="#000"/>
<text x="371.5" y="911" font-size="8.6" text-anchor="middle" fill="#000">***P=0.0002</text>
<rect x="358.2" y="916.5" width="25.2" height="1.4" fill="#000"/>
<text x="439.2" y="894.3" font-size="13.2" text-anchor="start" font-weight="bold" fill="#000">h</text>
<text x="462.3" y="960.8" font-size="10" text-anchor="middle" fill="#000" transform="rotate(-90 462.3 960.8)">Number of electrodes</text>
<text x="474.6" y="960.8" font-size="10" text-anchor="middle" fill="#000" transform="rotate(-90 474.6 960.8)">participating in bursts</text>
<rect x="503.2" y="1007.8" width="15.9" height="9.4" fill="#d9cfee"/>
<rect x="503.95" y="1008.55" width="14.4" height="8.65" fill="none" stroke="#3d2272" stroke-width="1.5"/>
<rect x="526.4" y="1014.2" width="15.7" height="3" fill="#9fe2f8"/>
<rect x="527.15" y="1014.95" width="14.2" height="2.25" fill="none" stroke="#1f6fe6" stroke-width="1.5"/>
<rect x="565.3" y="997.2" width="15.5" height="20" fill="#d9cfee"/>
<rect x="566.05" y="997.95" width="14" height="19.25" fill="none" stroke="#3d2272" stroke-width="1.5"/>
<rect x="588.1" y="1005" width="15.8" height="12.2" fill="#9fe2f8"/>
<rect x="588.85" y="1005.75" width="14.3" height="11.45" fill="none" stroke="#1f6fe6" stroke-width="1.5"/>
<path d="M508.2 1006.8h0M509.8 1007.5h0M510.9 1006.7h0M514.6 1007.3h0M510.4 1005.3h0M511.9 1005.2h0M513.6 1005.5h0M508.9 1004.1h0M510.3 1004.3h0M511.7 1003.6h0M511.1 991.1h0M511.1 994.6h0M509.5 997.5h0M511.3 1000.0h0M511.1 1012.2h0" stroke="#b49edd" stroke-width="2.25" stroke-linecap="round" fill="none"/>
<path d="M512.9 1006.7h0M513.1 1004.0h0M509.8 992.6h0M512.4 992.8h0M512.9 998.6h0M512.1 1010.2h0" stroke="#b49edd" stroke-width="1.95" stroke-linecap="square" fill="none"/>
<path d="M507.0 1005.6h2.8M508.4 1004.2v2.8" stroke="#b49edd" stroke-width="1.1" fill="none"/>
<path d="M533.2 1012.0h0M535.2 1012.5h0M532.5 1010.7h0M534.2 1010.5h0M535.8 1010.7h0M532.0 1009.5h0M534.1 1009.4h0M536.1 1008.7h0M533.0 1007.9h0M535.5 1007.9h0M534.2 998.0h0" stroke="#1cc8fd" stroke-width="2.25" stroke-linecap="round" fill="none"/>
<path d="M571.7 1011.6h0M570.8 1010.4h0M573.0 1010.5h0M575.3 1010.4h0M570.2 1008.8h0M569.8 1007.2h0M571.5 1007.2h0M574.8 1007.1h0M576.1 1007.8h0M569.4 1006.1h0M572.9 1005.7h0M572.0 1004.6h0M575.3 1004.6h0M576.8 1004.2h0M569.7 1003.1h0M571.4 1002.8h0M572.9 1002.5h0M575.7 1001.3h0M572.1 999.5h0M573.9 999.4h0M575.5 999.8h0M571.0 997.8h0M573.3 998.6h0M571.5 996.6h0M573.0 991.1h0M573.0 975.6h0M573.0 956.2h0M573.0 952.2h0M573.0 950.2h0M573.0 948.2h0M573.0 946.4h0M573.0 944.6h0M573.0 910.8h0" stroke="#b49edd" stroke-width="2.25" stroke-linecap="round" fill="none"/>
<path d="M573.1 1011.6h0M574.5 1012.1h0M572.3 1008.9h0M573.7 1009.0h0M575.7 1009.4h0M570.9 1005.8h0M574.8 1005.5h0M576.7 1006.3h0M570.4 1004.3h0M573.9 1003.9h0M575.0 1002.5h0M576.6 1002.5h0M570.5 999.9h0M572.8 996.3h0M574.4 996.2h0M574.1 994.7h0M573.0 964.6h0M573.0 954.2h0" stroke="#b49edd" stroke-width="1.95" stroke-linecap="square" fill="none"/>
<path d="M571.5 1007.1h2.8M572.9 1005.7v2.8M567.6 1004.4h2.8M569.0 1003.0v2.8M568.4 1001.0h2.8M569.8 999.6v2.8M570.7 1001.6h2.8M572.1 1000.2v2.8M572.7 1001.2h2.8M574.1 999.8v2.8M573.8 998.4h2.8M575.2 997.0v2.8M570.8 994.8h2.8M572.2 993.4v2.8M571.6 978.3h2.8M573.0 976.9v2.8M571.6 958.2h2.8M573.0 956.8v2.8" stroke="#b49edd" stroke-width="1.1" fill="none"/>
<path d="M593.8 1013.4h0M595.2 1014.1h0M596.8 1014.3h0M598.2 1014.0h0M592.9 1012.0h0M595.0 1012.8h0M597.1 1012.8h0M599.0 1012.3h0M591.8 1010.6h0M593.9 1010.9h0M595.8 1011.1h0M598.2 1011.1h0M600.0 1010.3h0M590.9 1009.0h0M593.3 1009.4h0M594.8 1008.8h0M597.2 1008.8h0M598.8 1009.7h0M600.7 1008.8h0M591.4 1008.0h0M593.4 1007.6h0M595.1 1008.0h0M597.2 1008.0h0M599.1 1007.3h0M600.5 1008.1h0M591.5 1005.8h0M593.4 1005.8h0M594.9 1006.6h0M596.8 1005.9h0M598.8 1006.2h0M600.3 1006.6h0M591.5 1004.6h0M593.4 1004.8h0M594.9 1005.0h0M596.9 1004.3h0M598.5 1004.6h0M600.2 1004.2h0M592.4 1003.4h0M594.2 1003.1h0M596.0 1003.2h0M597.9 1003.5h0M599.8 1002.7h0M593.2 1001.2h0M594.4 1001.5h0M595.8 1001.3h0M597.6 1001.7h0M599.4 1002.0h0M593.3 999.5h0M595.0 999.8h0M596.7 1000.0h0M598.5 1000.1h0M593.7 998.5h0M595.0 998.0h0M596.9 998.8h0M598.4 998.0h0M594.2 996.8h0M595.7 997.1h0M598.0 996.8h0M594.5 995.7h0M596.2 995.2h0M597.4 995.5h0M594.4 994.0h0M596.1 993.9h0M597.7 994.0h0M595.0 992.5h0M597.5 992.5h0M595.0 990.9h0M597.2 990.9h0M595.2 989.0h0M596.7 989.2h0M595.4 987.7h0M596.6 987.5h0M595.4 986.4h0M596.8 985.7h0M596.3 984.9h0M596.1 983.2h0M596.5 981.5h0" stroke="#1cc8fd" stroke-width="2.25" stroke-linecap="round" fill="none"/>
<path d="M511.15 1006.5V1009.1M507.25 1006.5h7.8M507.25 1009.1h7.8" stroke="#3d2272" stroke-width="1.0" fill="none"/>
<path d="M534.25 1013.6V1014.8M530.35 1013.6h7.8M530.35 1014.8h7.8" stroke="#1f6fe6" stroke-width="1.0" fill="none"/>
<path d="M573.05 995.6V998.8M569.15 995.6h7.8M569.15 998.8h7.8" stroke="#3d2272" stroke-width="1.0" fill="none"/>
<path d="M596 1004.2V1005.8M592.1 1004.2h7.8M592.1 1005.8h7.8" stroke="#1f6fe6" stroke-width="1.0" fill="none"/>
<path d="M495.6 901.4V1017.2H610.8" stroke="#000" stroke-width="1.4" fill="none" stroke-linejoin="miter"/>
<text x="489.4" y="1020.7" font-size="9.3" text-anchor="end" font-weight="bold" fill="#000">0</text>
<text x="489.4" y="997.66" font-size="9.3" text-anchor="end" font-weight="bold" fill="#000">10</text>
<text x="489.4" y="974.62" font-size="9.3" text-anchor="end" font-weight="bold" fill="#000">20</text>
<text x="489.4" y="951.58" font-size="9.3" text-anchor="end" font-weight="bold" fill="#000">30</text>
<text x="489.4" y="928.54" font-size="9.3" text-anchor="end" font-weight="bold" fill="#000">40</text>
<text x="489.4" y="905.5" font-size="9.3" text-anchor="end" font-weight="bold" fill="#000">50</text>
<path d="M490.5 1017.2h5.1M490.5 994.16h5.1M490.5 971.12h5.1M490.5 948.08h5.1M490.5 925.04h5.1M490.5 902h5.1M522.4 1017.2v3.6M583.8 1017.2v3.6" stroke="#000" stroke-width="1.3" fill="none"/>
<text x="522.4" y="1032.3" font-size="9" text-anchor="middle" font-weight="bold" fill="#000">Early Stage</text>
<text x="583.8" y="1032.3" font-size="9" text-anchor="middle" font-weight="bold" fill="#000">Late Stage</text>
<text x="523.4" y="971.7" font-size="8.6" text-anchor="middle" fill="#000">**P=0.0029</text>
<rect x="507.4" y="977.3" width="28.7" height="1.4" fill="#000"/>
<text x="585" y="898" font-size="8.6" text-anchor="middle" fill="#000">**P=0.0025</text>
<rect x="572.6" y="902.1" width="28.7" height="1.4" fill="#000"/>
<circle cx="643.2" cy="991.5" r="1.7" fill="#b49edd"/>
<text x="653.5" y="995.1" font-size="10.2" text-anchor="start" fill="#000">MACM</text>
<circle cx="643.2" cy="1006.7" r="1.7" fill="#1cc8fd"/>
<text x="653.5" y="1010.3" font-size="10.2" text-anchor="start" fill="#000">CTR</text>
</svg>
</body>
</html>
